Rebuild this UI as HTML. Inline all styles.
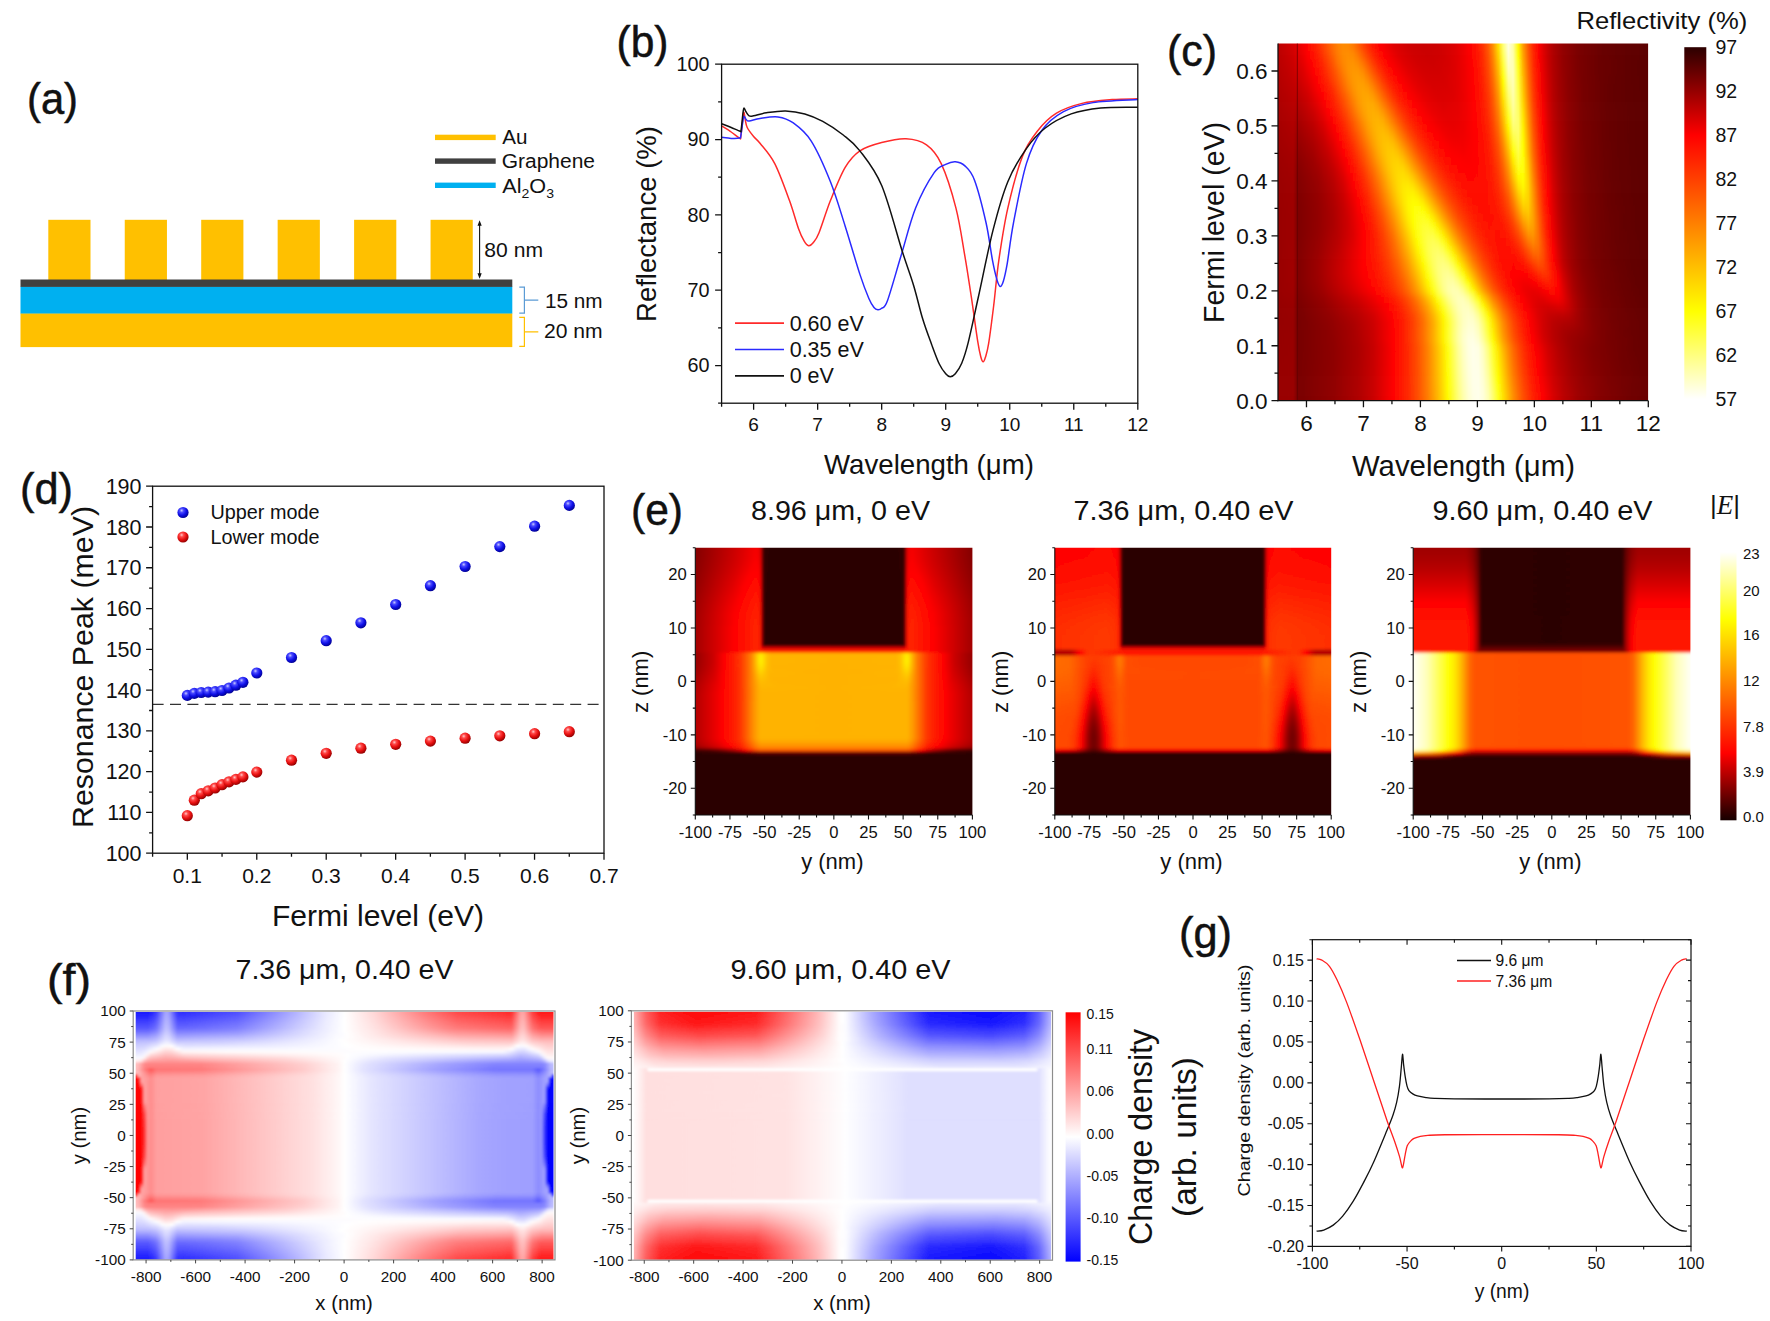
<!DOCTYPE html>
<html><head><meta charset="utf-8"><title>Figure</title>
<style>html,body{margin:0;padding:0;background:#fff}svg{display:block}text{font-family:"Liberation Sans",sans-serif;fill:#111}</style>
</head><body>
<svg width="1770" height="1321" viewBox="0 0 1770 1321">
<rect width="1770" height="1321" fill="#fff"/>
<rect x="48.3" y="219.8" width="42.2" height="60.5" fill="#ffc000"/>
<rect x="124.75" y="219.8" width="42.2" height="60.5" fill="#ffc000"/>
<rect x="201.2" y="219.8" width="42.2" height="60.5" fill="#ffc000"/>
<rect x="277.65" y="219.8" width="42.2" height="60.5" fill="#ffc000"/>
<rect x="354.1" y="219.8" width="42.2" height="60.5" fill="#ffc000"/>
<rect x="430.55" y="219.8" width="42.2" height="60.5" fill="#ffc000"/>
<rect x="20.5" y="313.2" width="491.8" height="33.9" fill="#ffc000"/>
<rect x="20.5" y="286.5" width="491.8" height="27" fill="#00b0f0"/>
<rect x="20.5" y="279.5" width="491.8" height="7.4" fill="#404040"/>
<rect x="435" y="134.7" width="60.7" height="5.4" fill="#ffc000"/>
<rect x="435" y="158.4" width="60.7" height="5.4" fill="#404040"/>
<rect x="435" y="182.6" width="60.7" height="5.4" fill="#00b0f0"/>
<text x="502.3" y="144.4" font-size="20" textLength="25.2" lengthAdjust="spacingAndGlyphs">Au</text>
<text x="501.7" y="167.7" font-size="20" textLength="93.3" lengthAdjust="spacingAndGlyphs">Graphene</text>
<text x="502.3" y="193.3" font-size="20" textLength="51.7" lengthAdjust="spacingAndGlyphs">Al<tspan font-size="13" dy="4.5">2</tspan><tspan dy="-4.5">O</tspan><tspan font-size="13" dy="4.5">3</tspan></text>
<path d="M479.6 223L479.6 276.5" stroke="#111" stroke-width="1.1"/>
<path d="M479.6 220.3l-2.100 5.500h4.200zM479.6 278.8l-2.100-5.500h4.200z" fill="#111"/>
<text x="484.3" y="256.6" font-size="20.3" textLength="58.7" lengthAdjust="spacingAndGlyphs">80 nm</text>
<path d="M519.3 287.2H524.4V313.200H519.3M524.4 300.2H538.3" fill="none" stroke="#5b9bd5" stroke-width="1.2"/>
<path d="M519.3 317.4H524.4V346.400H519.3M524.4 331.8H538.3" fill="none" stroke="#ffc000" stroke-width="1.2"/>
<text x="544.9" y="307.7" font-size="20.3" textLength="57.7" lengthAdjust="spacingAndGlyphs">15 nm</text>
<text x="543.9" y="338" font-size="20.3" textLength="58.7" lengthAdjust="spacingAndGlyphs">20 nm</text>
<text x="27" y="113.5" font-size="44" textLength="51" lengthAdjust="spacingAndGlyphs" stroke="#111" stroke-width=".5">(a)</text>
<clipPath id="cb"><rect x="721.6" y="64.2" width="417.2" height="339"/></clipPath>
<g clip-path="url(#cb)" fill="none" stroke-width="1.5" stroke-linejoin="round">
<path d="M721.6 125.97C723.2 126.98 728.22 129.99 731.2 132C734.19 134.01 737.93 137.27 739.53 138.03C741.13 138.78 740.22 140.04 740.81 136.52C741.4 133 742.52 120.95 743.05 116.93C743.58 112.92 743.64 111.91 744.01 112.41C744.38 112.92 744.76 117.44 745.29 119.95C745.82 122.46 745.82 124.72 747.21 127.48C748.6 130.24 751.48 133.88 753.62 136.52C755.75 139.16 756.5 138.78 760.02 143.3C763.54 147.82 769.84 154.1 774.75 163.64C779.65 173.18 785.52 189.76 789.47 200.55C793.42 211.35 795.98 221.65 798.44 228.43C800.89 235.21 802.49 238.35 804.2 241.23C805.91 244.12 807.19 245.5 808.68 245.75C810.18 246 811.46 244.87 813.16 242.74C814.87 240.61 816.05 239.98 818.93 232.95C821.81 225.92 826.08 211.48 830.45 200.55C834.83 189.63 840.27 175.69 845.18 167.41C850.09 159.12 853.82 154.98 859.91 150.83C865.99 146.69 873.99 144.56 881.68 142.55C889.36 140.54 898.54 138.4 906.01 138.78C913.48 139.16 920.63 140.66 926.5 144.81C932.37 148.95 936.32 153.09 941.23 163.64C946.13 174.19 952 192.64 955.95 208.09C959.9 223.53 962.36 241.48 964.92 256.3C967.48 271.12 969.19 282.79 971.32 296.98C973.45 311.17 976.12 331.38 977.72 341.43C979.32 351.47 980.02 353.86 980.92 357.25C981.83 360.64 982.42 361.77 983.17 361.77C983.91 361.77 984.5 360.26 985.41 357.25C986.31 354.23 987.22 352.35 988.61 343.69C990 335.02 992.02 319.2 993.73 305.27C995.44 291.33 996.51 276.26 998.85 260.07C1001.2 243.87 1003.87 225.41 1007.82 208.09C1011.77 190.76 1017.53 169.04 1022.54 156.11C1027.56 143.17 1032.26 137.65 1037.91 130.49C1043.57 123.34 1049.12 117.69 1056.48 113.17C1063.84 108.65 1072.81 105.63 1082.09 103.37C1091.38 101.11 1102.9 100.36 1112.19 99.61C1121.47 98.85 1133.53 98.98 1137.8 98.85" stroke="#ff2a2a"/>
<path d="M721.6 137.27C723.2 137.46 728.22 138.28 731.2 138.4C734.19 138.53 737.93 138.47 739.53 138.03C741.13 137.59 740.22 138.78 740.81 135.77C741.4 132.75 742.52 123.21 743.05 119.95C743.58 116.68 743.53 116.31 744.01 116.18C744.49 116.05 745.08 118.38 745.93 119.19C746.79 120.01 746.79 121.2 749.13 121.08C751.48 120.95 755.22 119.13 760.02 118.44C764.82 117.75 772.4 116.18 777.95 116.93C783.5 117.69 787.77 118.94 793.31 122.96C798.86 126.98 805.05 131.25 811.24 141.04C817.43 150.83 824.8 167.53 830.45 181.72C836.11 195.91 840.27 210.72 845.18 226.17C850.09 241.61 855.96 262.33 859.91 274.38C863.86 286.43 866.52 292.96 868.87 298.49C871.22 304.01 872.5 305.64 873.99 307.53C875.49 309.41 876.55 309.66 877.84 309.79C879.12 309.91 880.08 309.79 881.68 308.28C883.28 306.77 884.24 309.41 887.44 300.75C890.64 292.08 896.19 271.74 900.89 256.3C905.58 240.86 910.06 222.02 915.61 208.09C921.16 194.15 929.17 179.96 934.18 172.68C939.2 165.4 942.19 166.21 945.71 164.39C949.23 162.57 952.11 161.51 955.31 161.76C958.51 162.01 961.72 162.82 964.92 165.9C968.12 168.98 971 170.73 974.52 180.21C978.04 189.69 983.06 209.47 986.05 222.78C989.04 236.09 990.64 250.59 992.45 260.07C994.26 269.55 995.65 275.26 996.93 279.65C998.21 284.05 999.07 286.18 1000.13 286.43C1001.2 286.68 1002.16 284.93 1003.34 281.16C1004.51 277.39 1005.47 273.63 1007.18 263.83C1008.88 254.04 1010.38 239.1 1013.58 222.4C1016.78 205.7 1021.69 178.96 1026.39 163.64C1031.08 148.32 1035.56 139.16 1041.75 130.49C1047.94 121.83 1054.99 116.31 1063.52 111.66C1072.06 107.01 1080.6 104.63 1092.98 102.62C1105.36 100.61 1130.33 100.11 1137.8 99.61" stroke="#2a2aff"/>
<path d="M721.6 123.71C723.2 124.34 728.11 126.22 731.2 127.48C734.3 128.74 738.51 130.87 740.17 131.25C741.82 131.62 740.65 132.88 741.13 129.74C741.61 126.6 742.57 116.05 743.05 112.41C743.53 108.77 743.53 108.02 744.01 107.89C744.49 107.77 745.08 110.34 745.93 111.66C746.79 112.98 747.85 115.11 749.13 115.8C750.41 116.49 750.73 116.31 753.62 115.8C756.5 115.3 761.09 113.61 766.42 112.79C771.76 111.97 779.23 110.72 785.63 110.91C792.03 111.1 798.65 112.16 804.84 113.92C811.03 115.68 816.37 117.94 822.77 121.45C829.17 124.97 837.07 130.12 843.26 135.01C849.45 139.91 853.5 142.42 859.91 150.83C866.31 159.25 874.63 168.79 881.68 185.49C888.72 202.19 896.83 234.33 902.17 251.03C907.5 267.73 910.28 274.38 913.69 285.68C917.11 296.98 919.67 309.03 922.66 318.83C925.64 328.62 928.85 336.91 931.62 344.44C934.4 351.97 936.96 359.13 939.3 364.03C941.65 368.92 943.89 371.69 945.71 373.82C947.52 375.95 948.59 376.83 950.19 376.83C951.79 376.83 953.39 376.08 955.31 373.82C957.23 371.56 959.58 368.42 961.72 363.27C963.85 358.13 965.34 353.98 968.12 342.93C970.89 331.88 974.2 315.81 978.36 296.98C982.53 278.15 988.18 249.14 993.09 229.93C998 210.72 1002.27 195.28 1007.82 181.72C1013.37 168.16 1020.2 157.49 1026.39 148.57C1032.58 139.66 1037.49 134.01 1044.96 128.23C1052.43 122.46 1061.92 117.31 1071.21 113.92C1080.49 110.53 1089.56 109.02 1100.66 107.89C1111.76 106.76 1131.61 107.27 1137.8 107.14" stroke="#111"/>
</g>
<rect x="721.6" y="64.2" width="416.2" height="339" fill="none" stroke="#111" stroke-width="1.3"/>
<path d="M753.62 403.2L753.62 409.7M817.65 403.2L817.65 409.7M881.68 403.2L881.68 409.7M945.71 403.2L945.71 409.7M1009.74 403.2L1009.74 409.7M1073.77 403.2L1073.77 409.7M1137.8 403.2L1137.8 409.7M721.6 403.2L721.6 406.7M785.63 403.2L785.63 406.7M849.66 403.2L849.66 406.7M913.69 403.2L913.69 406.7M977.72 403.2L977.72 406.7M1041.75 403.2L1041.75 406.7M1105.78 403.2L1105.78 406.7M715.1 365.53L721.6 365.53M715.1 290.2L721.6 290.2M715.1 214.87L721.6 214.87M715.1 139.53L721.6 139.53M715.1 64.2L721.6 64.2M718.1 403.2L721.6 403.2M718.1 327.87L721.6 327.87M718.1 252.53L721.6 252.53M718.1 177.2L721.6 177.2M718.1 101.87L721.6 101.87" stroke="#111" stroke-width="1.3" fill="none"/>
<text x="753.6" y="431.3" font-size="19" text-anchor="middle">6</text>
<text x="817.6" y="431.3" font-size="19" text-anchor="middle">7</text>
<text x="881.7" y="431.3" font-size="19" text-anchor="middle">8</text>
<text x="945.7" y="431.3" font-size="19" text-anchor="middle">9</text>
<text x="1009.7" y="431.3" font-size="19" text-anchor="middle">10</text>
<text x="1073.8" y="431.3" font-size="19" text-anchor="middle">11</text>
<text x="1137.8" y="431.3" font-size="19" text-anchor="middle">12</text>
<text x="709.5" y="372.4" font-size="19.8" text-anchor="end">60</text>
<text x="709.5" y="297.1" font-size="19.8" text-anchor="end">70</text>
<text x="709.5" y="221.8" font-size="19.8" text-anchor="end">80</text>
<text x="709.5" y="146.4" font-size="19.8" text-anchor="end">90</text>
<text x="709.5" y="71.1" font-size="19.8" text-anchor="end">100</text>
<text x="929" y="473.5" font-size="27.5" text-anchor="middle" textLength="210" lengthAdjust="spacingAndGlyphs">Wavelength (μm)</text>
<text font-size="27.5" text-anchor="middle" textLength="196" lengthAdjust="spacingAndGlyphs" transform="translate(655.5 224) rotate(-90)">Reflectance (%)</text>
<path d="M735 323.2L784 323.2" stroke="#ff2a2a" stroke-width="1.7"/>
<text x="789.7" y="330.5" font-size="21.5">0.60 eV</text>
<path d="M735 349.5L784 349.5" stroke="#2a2aff" stroke-width="1.7"/>
<text x="789.7" y="356.8" font-size="21.5">0.35 eV</text>
<path d="M735 375.8L784 375.8" stroke="#111" stroke-width="1.7"/>
<text x="789.7" y="383.1" font-size="21.5">0 eV</text>
<text x="616.5" y="56.5" font-size="44" textLength="52" lengthAdjust="spacingAndGlyphs" stroke="#111" stroke-width=".5">(b)</text>
<defs><radialGradient id="sb" cx=".38" cy=".32" r=".7"><stop offset="0" stop-color="#c8c8ff"/><stop offset=".25" stop-color="#4a4aff"/><stop offset=".6" stop-color="#1010e8"/><stop offset="1" stop-color="#000090"/></radialGradient><radialGradient id="sr" cx=".38" cy=".32" r=".7"><stop offset="0" stop-color="#ffc8c8"/><stop offset=".25" stop-color="#ff4a4a"/><stop offset=".6" stop-color="#e81010"/><stop offset="1" stop-color="#900000"/></radialGradient></defs>
<path d="M152.6 704.36L604 704.36" stroke="#333" stroke-width="1.3" stroke-dasharray="11 6.4"/>
<circle cx="187.3" cy="695.4" r="5.6" fill="url(#sb)"/>
<circle cx="194.3" cy="693.4" r="5.6" fill="url(#sb)"/>
<circle cx="201.2" cy="692.5" r="5.6" fill="url(#sb)"/>
<circle cx="208.2" cy="692.1" r="5.6" fill="url(#sb)"/>
<circle cx="215.1" cy="691.7" r="5.6" fill="url(#sb)"/>
<circle cx="222" cy="690.5" r="5.6" fill="url(#sb)"/>
<circle cx="229" cy="688" r="5.6" fill="url(#sb)"/>
<circle cx="235.9" cy="685.2" r="5.6" fill="url(#sb)"/>
<circle cx="242.9" cy="682.3" r="5.6" fill="url(#sb)"/>
<circle cx="256.8" cy="673" r="5.6" fill="url(#sb)"/>
<circle cx="291.5" cy="657.5" r="5.6" fill="url(#sb)"/>
<circle cx="326.2" cy="640.7" r="5.6" fill="url(#sb)"/>
<circle cx="360.9" cy="622.8" r="5.6" fill="url(#sb)"/>
<circle cx="395.7" cy="604.5" r="5.6" fill="url(#sb)"/>
<circle cx="430.4" cy="585.7" r="5.6" fill="url(#sb)"/>
<circle cx="465.1" cy="566.5" r="5.6" fill="url(#sb)"/>
<circle cx="499.8" cy="546.6" r="5.6" fill="url(#sb)"/>
<circle cx="534.6" cy="526.2" r="5.6" fill="url(#sb)"/>
<circle cx="569.3" cy="505.4" r="5.6" fill="url(#sb)"/>
<circle cx="187.3" cy="815.7" r="5.6" fill="url(#sr)"/>
<circle cx="194.3" cy="800.2" r="5.6" fill="url(#sr)"/>
<circle cx="201.2" cy="793.7" r="5.6" fill="url(#sr)"/>
<circle cx="208.2" cy="790.8" r="5.6" fill="url(#sr)"/>
<circle cx="215.1" cy="788" r="5.6" fill="url(#sr)"/>
<circle cx="222" cy="784.7" r="5.6" fill="url(#sr)"/>
<circle cx="229" cy="781.8" r="5.6" fill="url(#sr)"/>
<circle cx="235.9" cy="779.4" r="5.6" fill="url(#sr)"/>
<circle cx="242.9" cy="776.9" r="5.6" fill="url(#sr)"/>
<circle cx="256.8" cy="772.1" r="5.6" fill="url(#sr)"/>
<circle cx="291.5" cy="760.2" r="5.6" fill="url(#sr)"/>
<circle cx="326.2" cy="753.3" r="5.6" fill="url(#sr)"/>
<circle cx="360.9" cy="748.2" r="5.6" fill="url(#sr)"/>
<circle cx="395.7" cy="744.3" r="5.6" fill="url(#sr)"/>
<circle cx="430.4" cy="741.1" r="5.6" fill="url(#sr)"/>
<circle cx="465.1" cy="738.2" r="5.6" fill="url(#sr)"/>
<circle cx="499.8" cy="735.8" r="5.6" fill="url(#sr)"/>
<circle cx="534.6" cy="733.7" r="5.6" fill="url(#sr)"/>
<circle cx="569.3" cy="731.7" r="5.6" fill="url(#sr)"/>
<rect x="152.6" y="486.2" width="451.4" height="367" fill="none" stroke="#111" stroke-width="1.3"/>
<path d="M187.32 853.2L187.32 859.7M256.77 853.2L256.77 859.7M326.22 853.2L326.22 859.7M395.66 853.2L395.66 859.7M465.11 853.2L465.11 859.7M534.55 853.2L534.55 859.7M604 853.2L604 859.7M152.6 853.2L152.6 856.7M222.05 853.2L222.05 856.7M291.49 853.2L291.49 856.7M360.94 853.2L360.94 856.7M430.38 853.2L430.38 856.7M499.83 853.2L499.83 856.7M569.28 853.2L569.28 856.7M146.1 853.2L152.6 853.2M146.1 812.42L152.6 812.42M146.1 771.64L152.6 771.64M146.1 730.87L152.6 730.87M146.1 690.09L152.6 690.09M146.1 649.31L152.6 649.31M146.1 608.53L152.6 608.53M146.1 567.76L152.6 567.76M146.1 526.98L152.6 526.98M146.1 486.2L152.6 486.2M149.1 832.81L152.6 832.81M149.1 792.03L152.6 792.03M149.1 751.26L152.6 751.26M149.1 710.48L152.6 710.48M149.1 669.7L152.6 669.7M149.1 628.92L152.6 628.92M149.1 588.14L152.6 588.14M149.1 547.37L152.6 547.37M149.1 506.59L152.6 506.59" stroke="#111" stroke-width="1.3" fill="none"/>
<text x="187.3" y="883" font-size="21" text-anchor="middle">0.1</text>
<text x="256.8" y="883" font-size="21" text-anchor="middle">0.2</text>
<text x="326.2" y="883" font-size="21" text-anchor="middle">0.3</text>
<text x="395.7" y="883" font-size="21" text-anchor="middle">0.4</text>
<text x="465.1" y="883" font-size="21" text-anchor="middle">0.5</text>
<text x="534.6" y="883" font-size="21" text-anchor="middle">0.6</text>
<text x="604" y="883" font-size="21" text-anchor="middle">0.7</text>
<text x="141.5" y="860.7" font-size="21.5" text-anchor="end">100</text>
<text x="141.5" y="819.9" font-size="21.5" text-anchor="end">110</text>
<text x="141.5" y="779.1" font-size="21.5" text-anchor="end">120</text>
<text x="141.5" y="738.4" font-size="21.5" text-anchor="end">130</text>
<text x="141.5" y="697.6" font-size="21.5" text-anchor="end">140</text>
<text x="141.5" y="656.8" font-size="21.5" text-anchor="end">150</text>
<text x="141.5" y="616" font-size="21.5" text-anchor="end">160</text>
<text x="141.5" y="575.3" font-size="21.5" text-anchor="end">170</text>
<text x="141.5" y="534.5" font-size="21.5" text-anchor="end">180</text>
<text x="141.5" y="493.7" font-size="21.5" text-anchor="end">190</text>
<text x="378" y="925.5" font-size="29" text-anchor="middle" textLength="212" lengthAdjust="spacingAndGlyphs">Fermi level (eV)</text>
<text font-size="29" text-anchor="middle" textLength="322" lengthAdjust="spacingAndGlyphs" transform="translate(93 667) rotate(-90)">Resonance Peak (meV)</text>
<circle cx="183" cy="512.5" r="5.6" fill="url(#sb)"/>
<circle cx="183" cy="537" r="5.6" fill="url(#sr)"/>
<text x="210.5" y="519" font-size="19.5" textLength="109" lengthAdjust="spacingAndGlyphs">Upper mode</text>
<text x="210.5" y="543.5" font-size="19.5" textLength="109" lengthAdjust="spacingAndGlyphs">Lower mode</text>
<text x="20" y="504" font-size="44" textLength="53" lengthAdjust="spacingAndGlyphs" stroke="#111" stroke-width=".5">(d)</text>
<g fill="none" stroke-width="1.3" stroke-linejoin="round">
<path d="M1316.56 1231.19C1317.76 1231 1320.98 1231.05 1323.76 1230.04C1326.53 1229.03 1330.07 1227.45 1333.22 1225.14C1336.38 1222.82 1339.38 1220.09 1342.69 1216.14C1346 1212.19 1349.63 1207.01 1353.1 1201.42C1356.57 1195.83 1360.14 1189.05 1363.51 1182.61C1366.89 1176.16 1369.44 1171.46 1373.35 1162.73C1377.27 1154.01 1383.73 1138.13 1386.98 1130.26C1390.23 1122.4 1391.24 1120.18 1392.85 1115.54C1394.46 1110.91 1395.53 1107.36 1396.64 1102.46C1397.74 1097.55 1398.69 1092.1 1399.48 1086.1C1400.27 1080.1 1400.87 1071.79 1401.37 1066.47C1401.88 1061.15 1402.13 1054.47 1402.51 1054.2C1402.89 1053.93 1403.2 1061.15 1403.64 1064.83C1404.08 1068.51 1404.59 1072.74 1405.16 1076.28C1405.72 1079.83 1406.42 1083.71 1407.05 1086.1C1407.68 1088.48 1408 1089.3 1408.94 1090.6C1409.89 1091.89 1411.31 1092.98 1412.73 1093.87C1414.15 1094.75 1415.25 1095.3 1417.46 1095.91C1419.67 1096.53 1423.14 1097.14 1425.98 1097.55C1428.82 1097.96 1429.77 1098.13 1434.5 1098.37C1439.23 1098.6 1443.17 1098.83 1454.38 1098.94C1465.58 1099.05 1485.92 1099.02 1501.7 1099.02C1517.48 1099.02 1537.82 1099.05 1549.03 1098.94C1560.23 1098.83 1564.17 1098.6 1568.9 1098.37C1573.63 1098.13 1574.58 1097.96 1577.42 1097.55C1580.26 1097.14 1583.73 1096.53 1585.94 1095.91C1588.15 1095.3 1589.25 1094.75 1590.67 1093.87C1592.09 1092.98 1593.51 1091.89 1594.46 1090.6C1595.4 1089.3 1595.72 1088.48 1596.35 1086.1C1596.98 1083.71 1597.68 1079.83 1598.24 1076.28C1598.81 1072.74 1599.32 1068.51 1599.76 1064.83C1600.2 1061.15 1600.51 1053.93 1600.89 1054.2C1601.27 1054.47 1601.52 1061.15 1602.03 1066.47C1602.53 1071.79 1603.13 1080.1 1603.92 1086.1C1604.71 1092.1 1605.66 1097.55 1606.76 1102.46C1607.87 1107.36 1608.94 1110.91 1610.55 1115.54C1612.16 1120.18 1613.17 1122.4 1616.42 1130.26C1619.67 1138.13 1626.13 1154.01 1630.05 1162.73C1633.96 1171.46 1636.51 1176.16 1639.89 1182.61C1643.26 1189.05 1646.83 1195.83 1650.3 1201.42C1653.77 1207.01 1657.4 1212.19 1660.71 1216.14C1664.02 1220.09 1667.02 1222.82 1670.18 1225.14C1673.33 1227.45 1676.87 1229.03 1679.64 1230.04C1682.42 1231.05 1685.64 1231 1686.84 1231.19" stroke="#111"/>
<path d="M1316.56 958.76C1317.45 958.99 1319.72 958.89 1321.87 960.15C1324.01 961.4 1326.91 963.01 1329.44 966.28C1331.96 969.55 1334.17 973.85 1337.01 979.78C1339.85 985.71 1342.69 991.98 1346.47 1001.86C1350.26 1011.74 1355.24 1026.09 1359.73 1039.07C1364.21 1052.05 1368.81 1066.16 1373.35 1079.72C1377.9 1093.28 1383.42 1110.12 1386.98 1120.45C1390.55 1130.78 1392.66 1135.72 1394.75 1141.71C1396.83 1147.71 1398.31 1152.35 1399.48 1156.43C1400.65 1160.52 1401.24 1164.34 1401.75 1166.25C1402.25 1168.16 1402.25 1168.02 1402.51 1167.88C1402.76 1167.75 1402.82 1167.61 1403.26 1165.43C1403.71 1163.25 1404.49 1158.07 1405.16 1154.8C1405.82 1151.53 1406.29 1148.12 1407.24 1145.8C1408.19 1143.49 1409.7 1142.12 1410.84 1140.9C1411.97 1139.67 1412.48 1139.19 1414.05 1138.44C1415.63 1137.69 1418 1136.9 1420.3 1136.4C1422.6 1135.89 1423.77 1135.69 1427.87 1135.42C1431.97 1135.14 1432.61 1134.9 1444.91 1134.76C1457.21 1134.62 1482.77 1134.6 1501.7 1134.6C1520.63 1134.6 1546.19 1134.62 1558.49 1134.76C1570.79 1134.9 1571.43 1135.14 1575.53 1135.42C1579.63 1135.69 1580.8 1135.89 1583.1 1136.4C1585.4 1136.9 1587.77 1137.69 1589.35 1138.44C1590.92 1139.19 1591.43 1139.67 1592.56 1140.9C1593.7 1142.12 1595.21 1143.49 1596.16 1145.8C1597.11 1148.12 1597.58 1151.53 1598.24 1154.8C1598.91 1158.07 1599.69 1163.25 1600.14 1165.43C1600.58 1167.61 1600.64 1167.75 1600.89 1167.88C1601.15 1168.02 1601.15 1168.16 1601.65 1166.25C1602.16 1164.34 1602.75 1160.52 1603.92 1156.43C1605.09 1152.35 1606.57 1147.71 1608.65 1141.71C1610.74 1135.72 1612.85 1130.78 1616.42 1120.45C1619.98 1110.12 1625.5 1093.28 1630.05 1079.72C1634.59 1066.16 1639.19 1052.05 1643.67 1039.07C1648.16 1026.09 1653.14 1011.74 1656.93 1001.86C1660.71 991.98 1663.55 985.71 1666.39 979.78C1669.23 973.85 1671.44 969.55 1673.96 966.28C1676.49 963.01 1679.39 961.4 1681.53 960.15C1683.68 958.89 1685.95 958.99 1686.84 958.76" stroke="#ff2020"/>
</g>
<rect x="1312.4" y="939.7" width="378.6" height="306.7" fill="none" stroke="#111" stroke-width="1.2"/>
<path d="M1312.4 1246.4L1312.4 1251.4M1312.4 939.7L1312.4 944.7M1407.05 1246.4L1407.05 1251.4M1407.05 939.7L1407.05 944.7M1501.7 1246.4L1501.7 1251.4M1501.7 939.7L1501.7 944.7M1596.35 1246.4L1596.35 1251.4M1596.35 939.7L1596.35 944.7M1691 1246.4L1691 1251.4M1691 939.7L1691 944.7M1359.73 1246.4L1359.73 1249.4M1359.73 939.7L1359.73 942.7M1454.38 1246.4L1454.38 1249.4M1454.38 939.7L1454.38 942.7M1549.03 1246.4L1549.03 1249.4M1549.03 939.7L1549.03 942.7M1643.67 1246.4L1643.67 1249.4M1643.67 939.7L1643.67 942.7M1307.4 1246.4L1312.4 1246.4M1686 1246.4L1691 1246.4M1307.4 1205.51L1312.4 1205.51M1686 1205.51L1691 1205.51M1307.4 1164.61L1312.4 1164.61M1686 1164.61L1691 1164.61M1307.4 1123.72L1312.4 1123.72M1686 1123.72L1691 1123.72M1307.4 1082.83L1312.4 1082.83M1686 1082.83L1691 1082.83M1307.4 1041.93L1312.4 1041.93M1686 1041.93L1691 1041.93M1307.4 1001.04L1312.4 1001.04M1686 1001.04L1691 1001.04M1307.4 960.15L1312.4 960.15M1686 960.15L1691 960.15M1309.4 1225.95L1312.4 1225.95M1688 1225.95L1691 1225.95M1309.4 1185.06L1312.4 1185.06M1688 1185.06L1691 1185.06M1309.4 1144.17L1312.4 1144.17M1688 1144.17L1691 1144.17M1309.4 1103.27L1312.4 1103.27M1688 1103.27L1691 1103.27M1309.4 1062.38L1312.4 1062.38M1688 1062.38L1691 1062.38M1309.4 1021.49L1312.4 1021.49M1688 1021.49L1691 1021.49M1309.4 980.59L1312.4 980.59M1688 980.59L1691 980.59M1309.4 939.7L1312.4 939.7M1688 939.7L1691 939.7" stroke="#111" stroke-width="1.1" fill="none"/>
<text x="1312.4" y="1269" font-size="16" text-anchor="middle">-100</text>
<text x="1407.1" y="1269" font-size="16" text-anchor="middle">-50</text>
<text x="1501.7" y="1269" font-size="16" text-anchor="middle">0</text>
<text x="1596.3" y="1269" font-size="16" text-anchor="middle">50</text>
<text x="1691" y="1269" font-size="16" text-anchor="middle">100</text>
<text x="1304" y="1251.9" font-size="16" text-anchor="end">-0.20</text>
<text x="1304" y="1211" font-size="16" text-anchor="end">-0.15</text>
<text x="1304" y="1170.1" font-size="16" text-anchor="end">-0.10</text>
<text x="1304" y="1129.2" font-size="16" text-anchor="end">-0.05</text>
<text x="1304" y="1088.3" font-size="16" text-anchor="end">0.00</text>
<text x="1304" y="1047.4" font-size="16" text-anchor="end">0.05</text>
<text x="1304" y="1006.5" font-size="16" text-anchor="end">0.10</text>
<text x="1304" y="965.6" font-size="16" text-anchor="end">0.15</text>
<text x="1502" y="1297.5" font-size="19.3" text-anchor="middle">y (nm)</text>
<text font-size="16" text-anchor="middle" textLength="232" lengthAdjust="spacingAndGlyphs" transform="translate(1250 1080.5) rotate(-90)">Charge density (arb. units)</text>
<path d="M1457 960.5L1491 960.5" stroke="#111" stroke-width="1.3"/>
<path d="M1457 981L1491 981" stroke="#ff2020" stroke-width="1.3"/>
<text x="1495.5" y="966" font-size="15.6">9.6 μm</text>
<text x="1495.5" y="986.5" font-size="15.6">7.36 μm</text>
<text x="1179" y="948" font-size="44" textLength="53" lengthAdjust="spacingAndGlyphs" stroke="#111" stroke-width=".5">(g)</text>
<defs><linearGradient id="c0" gradientUnits="userSpaceOnUse" x1="1278" x2="1648.3"><stop offset="0" stop-color="#bc0000"/><stop offset=".041" stop-color="#d30000"/><stop offset=".068" stop-color="#f40000"/><stop offset=".081" stop-color="#ff0600"/><stop offset=".108" stop-color="#ff2800"/><stop offset=".149" stop-color="#ff6e00"/><stop offset=".162" stop-color="#ff8000"/><stop offset=".176" stop-color="#ff8900"/><stop offset=".189" stop-color="#ff8700"/><stop offset=".203" stop-color="#ff7a00"/><stop offset=".243" stop-color="#ff2b00"/><stop offset=".257" stop-color="#ff1600"/><stop offset=".27" stop-color="#ff0700"/><stop offset=".284" stop-color="#f80000"/><stop offset=".311" stop-color="#e00000"/><stop offset=".351" stop-color="#ce0000"/><stop offset=".392" stop-color="#c90000"/><stop offset=".432" stop-color="#cc0000"/><stop offset=".473" stop-color="#da0000"/><stop offset=".5" stop-color="#ed0000"/><stop offset=".514" stop-color="#fb0000"/><stop offset=".527" stop-color="#ff0900"/><stop offset=".541" stop-color="#ff1a00"/><stop offset=".554" stop-color="#ff3300"/><stop offset=".568" stop-color="#ff5900"/><stop offset=".581" stop-color="#ff9100"/><stop offset=".595" stop-color="#ffdf00"/><stop offset=".608" stop-color="#ffff74"/><stop offset=".622" stop-color="#ffffe0"/><stop offset=".635" stop-color="#ffffa3"/><stop offset=".649" stop-color="#fff700"/><stop offset=".662" stop-color="#ff9c00"/><stop offset=".676" stop-color="#ff5600"/><stop offset=".689" stop-color="#ff2500"/><stop offset=".703" stop-color="#ff0300"/><stop offset=".716" stop-color="#de0000"/><stop offset=".73" stop-color="#c20000"/><stop offset=".743" stop-color="#ad0000"/><stop offset=".77" stop-color="#910000"/><stop offset=".811" stop-color="#7a0000"/><stop offset=".878" stop-color="#680000"/><stop offset="1" stop-color="#5b0000"/></linearGradient><linearGradient id="c1" gradientUnits="userSpaceOnUse" x1="1278" x2="1648.3"><stop offset="0" stop-color="#ba0000"/><stop offset=".041" stop-color="#cf0000"/><stop offset=".068" stop-color="#ed0000"/><stop offset=".081" stop-color="#ff0000"/><stop offset=".108" stop-color="#ff1f00"/><stop offset=".135" stop-color="#ff4b00"/><stop offset=".162" stop-color="#ff7b00"/><stop offset=".176" stop-color="#ff8a00"/><stop offset=".189" stop-color="#ff8e00"/><stop offset=".203" stop-color="#ff8a00"/><stop offset=".216" stop-color="#ff7800"/><stop offset=".243" stop-color="#ff4000"/><stop offset=".257" stop-color="#ff2800"/><stop offset=".27" stop-color="#ff1400"/><stop offset=".284" stop-color="#ff0600"/><stop offset=".297" stop-color="#f70000"/><stop offset=".324" stop-color="#e00000"/><stop offset=".365" stop-color="#d00000"/><stop offset=".405" stop-color="#cb0000"/><stop offset=".446" stop-color="#d00000"/><stop offset=".486" stop-color="#e20000"/><stop offset=".514" stop-color="#f90000"/><stop offset=".527" stop-color="#ff0800"/><stop offset=".541" stop-color="#ff1800"/><stop offset=".554" stop-color="#ff2f00"/><stop offset=".568" stop-color="#ff5300"/><stop offset=".581" stop-color="#ff8700"/><stop offset=".595" stop-color="#ffd200"/><stop offset=".608" stop-color="#ffff59"/><stop offset=".622" stop-color="#ffffd4"/><stop offset=".635" stop-color="#ffffad"/><stop offset=".649" stop-color="#ffff03"/><stop offset=".662" stop-color="#ffa400"/><stop offset=".676" stop-color="#ff5c00"/><stop offset=".689" stop-color="#ff2900"/><stop offset=".703" stop-color="#ff0600"/><stop offset=".716" stop-color="#e10000"/><stop offset=".73" stop-color="#c40000"/><stop offset=".743" stop-color="#af0000"/><stop offset=".77" stop-color="#920000"/><stop offset=".811" stop-color="#7a0000"/><stop offset=".878" stop-color="#680000"/><stop offset="1" stop-color="#5b0000"/></linearGradient><linearGradient id="c2" gradientUnits="userSpaceOnUse" x1="1278" x2="1648.3"><stop offset="0" stop-color="#b80000"/><stop offset=".041" stop-color="#cb0000"/><stop offset=".068" stop-color="#e50000"/><stop offset=".081" stop-color="#f60000"/><stop offset=".095" stop-color="#ff0700"/><stop offset=".122" stop-color="#ff2900"/><stop offset=".149" stop-color="#ff5800"/><stop offset=".162" stop-color="#ff7200"/><stop offset=".176" stop-color="#ff8600"/><stop offset=".189" stop-color="#ff9100"/><stop offset=".203" stop-color="#ff9300"/><stop offset=".216" stop-color="#ff8a00"/><stop offset=".23" stop-color="#ff7400"/><stop offset=".257" stop-color="#ff3c00"/><stop offset=".27" stop-color="#ff2500"/><stop offset=".284" stop-color="#ff1300"/><stop offset=".297" stop-color="#ff0500"/><stop offset=".311" stop-color="#f70000"/><stop offset=".338" stop-color="#e10000"/><stop offset=".378" stop-color="#d10000"/><stop offset=".419" stop-color="#ce0000"/><stop offset=".459" stop-color="#d50000"/><stop offset=".486" stop-color="#e20000"/><stop offset=".514" stop-color="#f80000"/><stop offset=".527" stop-color="#ff0600"/><stop offset=".541" stop-color="#ff1600"/><stop offset=".554" stop-color="#ff2c00"/><stop offset=".568" stop-color="#ff4d00"/><stop offset=".581" stop-color="#ff7f00"/><stop offset=".595" stop-color="#ffc600"/><stop offset=".608" stop-color="#ffff3e"/><stop offset=".622" stop-color="#ffffc5"/><stop offset=".635" stop-color="#ffffb4"/><stop offset=".649" stop-color="#ffff16"/><stop offset=".662" stop-color="#ffad00"/><stop offset=".676" stop-color="#ff6200"/><stop offset=".689" stop-color="#ff2d00"/><stop offset=".703" stop-color="#ff0900"/><stop offset=".716" stop-color="#e40000"/><stop offset=".73" stop-color="#c60000"/><stop offset=".743" stop-color="#b00000"/><stop offset=".77" stop-color="#930000"/><stop offset=".811" stop-color="#7b0000"/><stop offset=".865" stop-color="#6b0000"/><stop offset=".973" stop-color="#5d0000"/><stop offset="1" stop-color="#5b0000"/></linearGradient><linearGradient id="c3" gradientUnits="userSpaceOnUse" x1="1278" x2="1648.3"><stop offset="0" stop-color="#b50000"/><stop offset=".041" stop-color="#c70000"/><stop offset=".068" stop-color="#dd0000"/><stop offset=".095" stop-color="#ff0000"/><stop offset=".122" stop-color="#ff2000"/><stop offset=".149" stop-color="#ff4b00"/><stop offset=".176" stop-color="#ff7e00"/><stop offset=".189" stop-color="#ff9000"/><stop offset=".203" stop-color="#ff9800"/><stop offset=".216" stop-color="#ff9700"/><stop offset=".23" stop-color="#ff8a00"/><stop offset=".243" stop-color="#ff7000"/><stop offset=".27" stop-color="#ff3800"/><stop offset=".284" stop-color="#ff2200"/><stop offset=".297" stop-color="#ff1100"/><stop offset=".311" stop-color="#ff0500"/><stop offset=".324" stop-color="#f70000"/><stop offset=".351" stop-color="#e20000"/><stop offset=".392" stop-color="#d30000"/><stop offset=".432" stop-color="#d10000"/><stop offset=".473" stop-color="#db0000"/><stop offset=".5" stop-color="#eb0000"/><stop offset=".514" stop-color="#f70000"/><stop offset=".527" stop-color="#ff0500"/><stop offset=".541" stop-color="#ff1300"/><stop offset=".554" stop-color="#ff2800"/><stop offset=".568" stop-color="#ff4700"/><stop offset=".581" stop-color="#ff7600"/><stop offset=".595" stop-color="#ffba00"/><stop offset=".608" stop-color="#ffff23"/><stop offset=".622" stop-color="#ffffb4"/><stop offset=".635" stop-color="#ffffb9"/><stop offset=".649" stop-color="#ffff27"/><stop offset=".662" stop-color="#ffb500"/><stop offset=".676" stop-color="#ff6800"/><stop offset=".689" stop-color="#ff3200"/><stop offset=".703" stop-color="#ff0c00"/><stop offset=".716" stop-color="#e70000"/><stop offset=".73" stop-color="#c80000"/><stop offset=".743" stop-color="#b20000"/><stop offset=".77" stop-color="#940000"/><stop offset=".811" stop-color="#7b0000"/><stop offset=".865" stop-color="#6b0000"/><stop offset=".973" stop-color="#5d0000"/><stop offset="1" stop-color="#5b0000"/></linearGradient><linearGradient id="c4" gradientUnits="userSpaceOnUse" x1="1278" x2="1648.3"><stop offset="0" stop-color="#b30000"/><stop offset=".041" stop-color="#c30000"/><stop offset=".054" stop-color="#ca0000"/><stop offset=".081" stop-color="#e40000"/><stop offset=".095" stop-color="#f50000"/><stop offset=".108" stop-color="#ff0700"/><stop offset=".135" stop-color="#ff2900"/><stop offset=".162" stop-color="#ff5800"/><stop offset=".189" stop-color="#ff8900"/><stop offset=".203" stop-color="#ff9800"/><stop offset=".216" stop-color="#ff9d00"/><stop offset=".23" stop-color="#ff9900"/><stop offset=".243" stop-color="#ff8700"/><stop offset=".284" stop-color="#ff3500"/><stop offset=".297" stop-color="#ff2000"/><stop offset=".324" stop-color="#ff0400"/><stop offset=".338" stop-color="#f70000"/><stop offset=".365" stop-color="#e30000"/><stop offset=".405" stop-color="#d50000"/><stop offset=".446" stop-color="#d50000"/><stop offset=".486" stop-color="#e20000"/><stop offset=".514" stop-color="#f60000"/><stop offset=".527" stop-color="#ff0400"/><stop offset=".541" stop-color="#ff1100"/><stop offset=".554" stop-color="#ff2500"/><stop offset=".568" stop-color="#ff4200"/><stop offset=".581" stop-color="#ff6e00"/><stop offset=".595" stop-color="#ffae00"/><stop offset=".608" stop-color="#ffff05"/><stop offset=".622" stop-color="#ffff9d"/><stop offset=".635" stop-color="#ffffb8"/><stop offset=".649" stop-color="#ffff35"/><stop offset=".662" stop-color="#ffbd00"/><stop offset=".676" stop-color="#ff6e00"/><stop offset=".689" stop-color="#ff3600"/><stop offset=".703" stop-color="#ff0f00"/><stop offset=".716" stop-color="#ea0000"/><stop offset=".73" stop-color="#cb0000"/><stop offset=".743" stop-color="#b30000"/><stop offset=".757" stop-color="#a20000"/><stop offset=".784" stop-color="#8a0000"/><stop offset=".824" stop-color="#760000"/><stop offset=".892" stop-color="#660000"/><stop offset="1" stop-color="#5b0000"/></linearGradient><linearGradient id="c5" gradientUnits="userSpaceOnUse" x1="1278" x2="1648.3"><stop offset="0" stop-color="#b10000"/><stop offset=".054" stop-color="#c30000"/><stop offset=".081" stop-color="#da0000"/><stop offset=".108" stop-color="#fd0000"/><stop offset=".122" stop-color="#ff0d00"/><stop offset=".149" stop-color="#ff3200"/><stop offset=".189" stop-color="#ff7e00"/><stop offset=".203" stop-color="#ff9300"/><stop offset=".216" stop-color="#ff9f00"/><stop offset=".23" stop-color="#ffa100"/><stop offset=".243" stop-color="#ff9a00"/><stop offset=".257" stop-color="#ff8400"/><stop offset=".284" stop-color="#ff4b00"/><stop offset=".297" stop-color="#ff3200"/><stop offset=".311" stop-color="#ff1f00"/><stop offset=".338" stop-color="#ff0400"/><stop offset=".351" stop-color="#f70000"/><stop offset=".378" stop-color="#e40000"/><stop offset=".419" stop-color="#d80000"/><stop offset=".459" stop-color="#d90000"/><stop offset=".486" stop-color="#e20000"/><stop offset=".527" stop-color="#ff0300"/><stop offset=".541" stop-color="#ff0f00"/><stop offset=".554" stop-color="#ff2200"/><stop offset=".568" stop-color="#ff3d00"/><stop offset=".581" stop-color="#ff6600"/><stop offset=".595" stop-color="#ffa200"/><stop offset=".608" stop-color="#fff300"/><stop offset=".622" stop-color="#ffff85"/><stop offset=".635" stop-color="#ffffb3"/><stop offset=".649" stop-color="#ffff41"/><stop offset=".662" stop-color="#ffc500"/><stop offset=".676" stop-color="#ff7400"/><stop offset=".689" stop-color="#ff3a00"/><stop offset=".703" stop-color="#ff1100"/><stop offset=".716" stop-color="#ed0000"/><stop offset=".73" stop-color="#cd0000"/><stop offset=".743" stop-color="#b50000"/><stop offset=".757" stop-color="#a30000"/><stop offset=".784" stop-color="#8b0000"/><stop offset=".824" stop-color="#770000"/><stop offset=".892" stop-color="#660000"/><stop offset="1" stop-color="#5b0000"/></linearGradient><linearGradient id="c6" gradientUnits="userSpaceOnUse" x1="1278" x2="1648.3"><stop offset="0" stop-color="#ae0000"/><stop offset=".041" stop-color="#bb0000"/><stop offset=".054" stop-color="#bc0000"/><stop offset=".081" stop-color="#d10000"/><stop offset=".108" stop-color="#f10000"/><stop offset=".122" stop-color="#ff0400"/><stop offset=".149" stop-color="#ff2600"/><stop offset=".176" stop-color="#ff5500"/><stop offset=".203" stop-color="#ff8900"/><stop offset=".216" stop-color="#ff9b00"/><stop offset=".23" stop-color="#ffa500"/><stop offset=".243" stop-color="#ffa500"/><stop offset=".257" stop-color="#ff9900"/><stop offset=".27" stop-color="#ff8100"/><stop offset=".297" stop-color="#ff4800"/><stop offset=".311" stop-color="#ff3000"/><stop offset=".324" stop-color="#ff1d00"/><stop offset=".351" stop-color="#ff0400"/><stop offset=".365" stop-color="#f80000"/><stop offset=".392" stop-color="#e60000"/><stop offset=".432" stop-color="#da0000"/><stop offset=".473" stop-color="#de0000"/><stop offset=".5" stop-color="#ea0000"/><stop offset=".527" stop-color="#ff0200"/><stop offset=".541" stop-color="#ff0e00"/><stop offset=".554" stop-color="#ff1f00"/><stop offset=".568" stop-color="#ff3800"/><stop offset=".581" stop-color="#ff5e00"/><stop offset=".595" stop-color="#ff9700"/><stop offset=".608" stop-color="#ffe500"/><stop offset=".622" stop-color="#ffff6c"/><stop offset=".635" stop-color="#ffffad"/><stop offset=".649" stop-color="#ffff4d"/><stop offset=".662" stop-color="#ffcc00"/><stop offset=".676" stop-color="#ff7b00"/><stop offset=".689" stop-color="#ff3e00"/><stop offset=".703" stop-color="#ff1400"/><stop offset=".716" stop-color="#f10000"/><stop offset=".73" stop-color="#cf0000"/><stop offset=".743" stop-color="#b60000"/><stop offset=".757" stop-color="#a40000"/><stop offset=".784" stop-color="#8c0000"/><stop offset=".824" stop-color="#770000"/><stop offset=".892" stop-color="#660000"/><stop offset="1" stop-color="#5c0000"/></linearGradient><linearGradient id="c7" gradientUnits="userSpaceOnUse" x1="1278" x2="1648.3"><stop offset="0" stop-color="#ac0000"/><stop offset=".041" stop-color="#b80000"/><stop offset=".054" stop-color="#b40000"/><stop offset=".081" stop-color="#c80000"/><stop offset=".108" stop-color="#e50000"/><stop offset=".122" stop-color="#f80000"/><stop offset=".135" stop-color="#ff0a00"/><stop offset=".162" stop-color="#ff2f00"/><stop offset=".189" stop-color="#ff6000"/><stop offset=".216" stop-color="#ff9300"/><stop offset=".23" stop-color="#ffa300"/><stop offset=".243" stop-color="#ffaa00"/><stop offset=".257" stop-color="#ffa800"/><stop offset=".27" stop-color="#ff9800"/><stop offset=".311" stop-color="#ff4500"/><stop offset=".324" stop-color="#ff2e00"/><stop offset=".338" stop-color="#ff1c00"/><stop offset=".365" stop-color="#ff0400"/><stop offset=".378" stop-color="#f90000"/><stop offset=".405" stop-color="#e70000"/><stop offset=".446" stop-color="#dd0000"/><stop offset=".486" stop-color="#e40000"/><stop offset=".514" stop-color="#f40000"/><stop offset=".527" stop-color="#ff0100"/><stop offset=".541" stop-color="#ff0c00"/><stop offset=".554" stop-color="#ff1c00"/><stop offset=".568" stop-color="#ff3300"/><stop offset=".581" stop-color="#ff5700"/><stop offset=".595" stop-color="#ff8c00"/><stop offset=".608" stop-color="#ffd500"/><stop offset=".622" stop-color="#ffff4f"/><stop offset=".635" stop-color="#ffffa3"/><stop offset=".649" stop-color="#ffff59"/><stop offset=".662" stop-color="#ffd600"/><stop offset=".676" stop-color="#ff8200"/><stop offset=".689" stop-color="#ff4400"/><stop offset=".703" stop-color="#ff1800"/><stop offset=".716" stop-color="#f50000"/><stop offset=".73" stop-color="#d20000"/><stop offset=".743" stop-color="#b80000"/><stop offset=".757" stop-color="#a60000"/><stop offset=".784" stop-color="#8d0000"/><stop offset=".824" stop-color="#770000"/><stop offset=".892" stop-color="#660000"/><stop offset="1" stop-color="#5c0000"/></linearGradient><linearGradient id="c8" gradientUnits="userSpaceOnUse" x1="1278" x2="1648.3"><stop offset="0" stop-color="#a90000"/><stop offset=".041" stop-color="#b40000"/><stop offset=".054" stop-color="#ad0000"/><stop offset=".095" stop-color="#cb0000"/><stop offset=".122" stop-color="#eb0000"/><stop offset=".135" stop-color="#ff0100"/><stop offset=".162" stop-color="#ff2200"/><stop offset=".189" stop-color="#ff5100"/><stop offset=".216" stop-color="#ff8700"/><stop offset=".23" stop-color="#ff9d00"/><stop offset=".243" stop-color="#ffaa00"/><stop offset=".257" stop-color="#ffae00"/><stop offset=".27" stop-color="#ffa900"/><stop offset=".284" stop-color="#ff9600"/><stop offset=".324" stop-color="#ff4200"/><stop offset=".338" stop-color="#ff2d00"/><stop offset=".365" stop-color="#ff0e00"/><stop offset=".378" stop-color="#ff0400"/><stop offset=".392" stop-color="#f90000"/><stop offset=".419" stop-color="#e90000"/><stop offset=".446" stop-color="#e20000"/><stop offset=".486" stop-color="#e60000"/><stop offset=".514" stop-color="#f40000"/><stop offset=".527" stop-color="#ff0000"/><stop offset=".541" stop-color="#ff0a00"/><stop offset=".554" stop-color="#ff1900"/><stop offset=".568" stop-color="#ff2f00"/><stop offset=".581" stop-color="#ff4f00"/><stop offset=".595" stop-color="#ff8000"/><stop offset=".608" stop-color="#ffc600"/><stop offset=".622" stop-color="#ffff30"/><stop offset=".635" stop-color="#ffff95"/><stop offset=".649" stop-color="#ffff63"/><stop offset=".662" stop-color="#ffe000"/><stop offset=".676" stop-color="#ff8b00"/><stop offset=".689" stop-color="#ff4a00"/><stop offset=".703" stop-color="#ff1c00"/><stop offset=".716" stop-color="#fa0000"/><stop offset=".73" stop-color="#d50000"/><stop offset=".743" stop-color="#bb0000"/><stop offset=".757" stop-color="#a70000"/><stop offset=".784" stop-color="#8e0000"/><stop offset=".824" stop-color="#780000"/><stop offset=".892" stop-color="#670000"/><stop offset="1" stop-color="#5c0000"/></linearGradient><linearGradient id="c9" gradientUnits="userSpaceOnUse" x1="1278" x2="1648.3"><stop offset="0" stop-color="#a70000"/><stop offset=".041" stop-color="#b10000"/><stop offset=".054" stop-color="#a60000"/><stop offset=".095" stop-color="#c20000"/><stop offset=".122" stop-color="#df0000"/><stop offset=".135" stop-color="#f20000"/><stop offset=".149" stop-color="#ff0600"/><stop offset=".176" stop-color="#ff2b00"/><stop offset=".203" stop-color="#ff5c00"/><stop offset=".23" stop-color="#ff9100"/><stop offset=".243" stop-color="#ffa500"/><stop offset=".257" stop-color="#ffb000"/><stop offset=".27" stop-color="#ffb300"/><stop offset=".284" stop-color="#ffaa00"/><stop offset=".297" stop-color="#ff9300"/><stop offset=".324" stop-color="#ff5a00"/><stop offset=".338" stop-color="#ff4000"/><stop offset=".351" stop-color="#ff2b00"/><stop offset=".378" stop-color="#ff0e00"/><stop offset=".392" stop-color="#ff0500"/><stop offset=".405" stop-color="#fb0000"/><stop offset=".432" stop-color="#eb0000"/><stop offset=".459" stop-color="#e50000"/><stop offset=".486" stop-color="#e80000"/><stop offset=".514" stop-color="#f40000"/><stop offset=".527" stop-color="#ff0000"/><stop offset=".541" stop-color="#ff0900"/><stop offset=".554" stop-color="#ff1700"/><stop offset=".568" stop-color="#ff2b00"/><stop offset=".581" stop-color="#ff4900"/><stop offset=".595" stop-color="#ff7600"/><stop offset=".608" stop-color="#ffb700"/><stop offset=".622" stop-color="#ffff10"/><stop offset=".635" stop-color="#ffff85"/><stop offset=".649" stop-color="#ffff6b"/><stop offset=".662" stop-color="#ffe900"/><stop offset=".676" stop-color="#ff9400"/><stop offset=".689" stop-color="#ff5000"/><stop offset=".703" stop-color="#ff2100"/><stop offset=".716" stop-color="#fe0000"/><stop offset=".73" stop-color="#d80000"/><stop offset=".743" stop-color="#bd0000"/><stop offset=".757" stop-color="#a90000"/><stop offset=".784" stop-color="#8f0000"/><stop offset=".824" stop-color="#780000"/><stop offset=".892" stop-color="#670000"/><stop offset="1" stop-color="#5c0000"/></linearGradient><linearGradient id="c10" gradientUnits="userSpaceOnUse" x1="1278" x2="1648.3"><stop offset="0" stop-color="#a40000"/><stop offset=".041" stop-color="#ae0000"/><stop offset=".054" stop-color="#a00000"/><stop offset=".095" stop-color="#b90000"/><stop offset=".122" stop-color="#d40000"/><stop offset=".149" stop-color="#fa0000"/><stop offset=".162" stop-color="#ff0c00"/><stop offset=".189" stop-color="#ff3400"/><stop offset=".243" stop-color="#ff9c00"/><stop offset=".257" stop-color="#ffae00"/><stop offset=".27" stop-color="#ffb700"/><stop offset=".284" stop-color="#ffb700"/><stop offset=".297" stop-color="#ffaa00"/><stop offset=".311" stop-color="#ff9100"/><stop offset=".338" stop-color="#ff5700"/><stop offset=".351" stop-color="#ff3e00"/><stop offset=".365" stop-color="#ff2a00"/><stop offset=".392" stop-color="#ff0f00"/><stop offset=".405" stop-color="#ff0500"/><stop offset=".419" stop-color="#fc0000"/><stop offset=".446" stop-color="#ee0000"/><stop offset=".473" stop-color="#e90000"/><stop offset=".5" stop-color="#ee0000"/><stop offset=".527" stop-color="#fe0000"/><stop offset=".541" stop-color="#ff0800"/><stop offset=".554" stop-color="#ff1400"/><stop offset=".568" stop-color="#ff2600"/><stop offset=".581" stop-color="#ff4200"/><stop offset=".595" stop-color="#ff6b00"/><stop offset=".608" stop-color="#ffa800"/><stop offset=".622" stop-color="#fff500"/><stop offset=".635" stop-color="#ffff6d"/><stop offset=".649" stop-color="#ffff6d"/><stop offset=".662" stop-color="#fff200"/><stop offset=".676" stop-color="#ff9c00"/><stop offset=".689" stop-color="#ff5700"/><stop offset=".703" stop-color="#ff2500"/><stop offset=".716" stop-color="#ff0300"/><stop offset=".73" stop-color="#dc0000"/><stop offset=".743" stop-color="#c00000"/><stop offset=".757" stop-color="#ab0000"/><stop offset=".784" stop-color="#900000"/><stop offset=".824" stop-color="#790000"/><stop offset=".892" stop-color="#670000"/><stop offset="1" stop-color="#5c0000"/></linearGradient><linearGradient id="c11" gradientUnits="userSpaceOnUse" x1="1278" x2="1648.3"><stop offset="0" stop-color="#a30000"/><stop offset=".041" stop-color="#ab0000"/><stop offset=".054" stop-color="#9a0000"/><stop offset=".095" stop-color="#b20000"/><stop offset=".122" stop-color="#ca0000"/><stop offset=".162" stop-color="#ff0300"/><stop offset=".189" stop-color="#ff2700"/><stop offset=".216" stop-color="#ff5800"/><stop offset=".243" stop-color="#ff9000"/><stop offset=".257" stop-color="#ffa700"/><stop offset=".27" stop-color="#ffb700"/><stop offset=".284" stop-color="#ffbe00"/><stop offset=".297" stop-color="#ffbb00"/><stop offset=".311" stop-color="#ffab00"/><stop offset=".351" stop-color="#ff5500"/><stop offset=".365" stop-color="#ff3d00"/><stop offset=".378" stop-color="#ff2a00"/><stop offset=".405" stop-color="#ff0f00"/><stop offset=".432" stop-color="#fe0000"/><stop offset=".459" stop-color="#f00000"/><stop offset=".486" stop-color="#ee0000"/><stop offset=".514" stop-color="#f50000"/><stop offset=".527" stop-color="#fd0000"/><stop offset=".541" stop-color="#ff0600"/><stop offset=".554" stop-color="#ff1100"/><stop offset=".568" stop-color="#ff2200"/><stop offset=".581" stop-color="#ff3a00"/><stop offset=".595" stop-color="#ff6000"/><stop offset=".608" stop-color="#ff9700"/><stop offset=".622" stop-color="#ffe000"/><stop offset=".635" stop-color="#ffff4b"/><stop offset=".649" stop-color="#ffff65"/><stop offset=".662" stop-color="#fff800"/><stop offset=".676" stop-color="#ffa500"/><stop offset=".689" stop-color="#ff5d00"/><stop offset=".703" stop-color="#ff2900"/><stop offset=".716" stop-color="#ff0600"/><stop offset=".73" stop-color="#df0000"/><stop offset=".743" stop-color="#c20000"/><stop offset=".757" stop-color="#ac0000"/><stop offset=".784" stop-color="#900000"/><stop offset=".824" stop-color="#790000"/><stop offset=".892" stop-color="#670000"/><stop offset="1" stop-color="#5c0000"/></linearGradient><linearGradient id="c12" gradientUnits="userSpaceOnUse" x1="1278" x2="1648.3"><stop offset="0" stop-color="#a10000"/><stop offset=".041" stop-color="#a90000"/><stop offset=".054" stop-color="#940000"/><stop offset=".095" stop-color="#aa0000"/><stop offset=".122" stop-color="#c10000"/><stop offset=".149" stop-color="#e10000"/><stop offset=".162" stop-color="#f60000"/><stop offset=".176" stop-color="#ff0900"/><stop offset=".203" stop-color="#ff3100"/><stop offset=".23" stop-color="#ff6500"/><stop offset=".257" stop-color="#ff9d00"/><stop offset=".27" stop-color="#ffb200"/><stop offset=".284" stop-color="#ffc000"/><stop offset=".297" stop-color="#ffc500"/><stop offset=".311" stop-color="#ffbf00"/><stop offset=".324" stop-color="#ffab00"/><stop offset=".365" stop-color="#ff5400"/><stop offset=".378" stop-color="#ff3c00"/><stop offset=".392" stop-color="#ff2a00"/><stop offset=".419" stop-color="#ff0f00"/><stop offset=".446" stop-color="#ff0000"/><stop offset=".473" stop-color="#f40000"/><stop offset=".5" stop-color="#f30000"/><stop offset=".527" stop-color="#fd0000"/><stop offset=".541" stop-color="#ff0600"/><stop offset=".554" stop-color="#ff0f00"/><stop offset=".568" stop-color="#ff1e00"/><stop offset=".581" stop-color="#ff3400"/><stop offset=".595" stop-color="#ff5500"/><stop offset=".608" stop-color="#ff8800"/><stop offset=".622" stop-color="#ffcc00"/><stop offset=".635" stop-color="#ffff26"/><stop offset=".649" stop-color="#ffff59"/><stop offset=".662" stop-color="#fffd00"/><stop offset=".676" stop-color="#ffad00"/><stop offset=".689" stop-color="#ff6400"/><stop offset=".703" stop-color="#ff2e00"/><stop offset=".716" stop-color="#ff0900"/><stop offset=".73" stop-color="#e20000"/><stop offset=".743" stop-color="#c40000"/><stop offset=".757" stop-color="#ae0000"/><stop offset=".784" stop-color="#910000"/><stop offset=".824" stop-color="#7a0000"/><stop offset=".892" stop-color="#670000"/><stop offset="1" stop-color="#5c0000"/></linearGradient><linearGradient id="c13" gradientUnits="userSpaceOnUse" x1="1278" x2="1648.3"><stop offset="0" stop-color="#9f0000"/><stop offset=".041" stop-color="#a60000"/><stop offset=".054" stop-color="#8f0000"/><stop offset=".095" stop-color="#a40000"/><stop offset=".135" stop-color="#c60000"/><stop offset=".162" stop-color="#e90000"/><stop offset=".176" stop-color="#ff0000"/><stop offset=".203" stop-color="#ff2400"/><stop offset=".23" stop-color="#ff5500"/><stop offset=".27" stop-color="#ffa900"/><stop offset=".284" stop-color="#ffbd00"/><stop offset=".297" stop-color="#ffc800"/><stop offset=".311" stop-color="#ffcb00"/><stop offset=".324" stop-color="#ffc100"/><stop offset=".338" stop-color="#ffaa00"/><stop offset=".365" stop-color="#ff6e00"/><stop offset=".378" stop-color="#ff5200"/><stop offset=".392" stop-color="#ff3c00"/><stop offset=".419" stop-color="#ff1b00"/><stop offset=".446" stop-color="#ff0800"/><stop offset=".459" stop-color="#ff0200"/><stop offset=".5" stop-color="#f70000"/><stop offset=".527" stop-color="#fe0000"/><stop offset=".554" stop-color="#ff0e00"/><stop offset=".568" stop-color="#ff1b00"/><stop offset=".581" stop-color="#ff2e00"/><stop offset=".595" stop-color="#ff4c00"/><stop offset=".608" stop-color="#ff7900"/><stop offset=".622" stop-color="#ffb900"/><stop offset=".635" stop-color="#ffff00"/><stop offset=".649" stop-color="#ffff47"/><stop offset=".662" stop-color="#ffff04"/><stop offset=".689" stop-color="#ff6a00"/><stop offset=".703" stop-color="#ff3300"/><stop offset=".716" stop-color="#ff0c00"/><stop offset=".73" stop-color="#e60000"/><stop offset=".743" stop-color="#c60000"/><stop offset=".757" stop-color="#b00000"/><stop offset=".77" stop-color="#9f0000"/><stop offset=".797" stop-color="#880000"/><stop offset=".838" stop-color="#750000"/><stop offset=".905" stop-color="#660000"/><stop offset="1" stop-color="#5c0000"/></linearGradient><linearGradient id="c14" gradientUnits="userSpaceOnUse" x1="1278" x2="1648.3"><stop offset="0" stop-color="#9d0000"/><stop offset=".041" stop-color="#a40000"/><stop offset=".054" stop-color="#8a0000"/><stop offset=".095" stop-color="#9e0000"/><stop offset=".135" stop-color="#bd0000"/><stop offset=".162" stop-color="#dd0000"/><stop offset=".176" stop-color="#f20000"/><stop offset=".189" stop-color="#ff0700"/><stop offset=".216" stop-color="#ff2e00"/><stop offset=".243" stop-color="#ff6200"/><stop offset=".27" stop-color="#ff9c00"/><stop offset=".284" stop-color="#ffb500"/><stop offset=".297" stop-color="#ffc700"/><stop offset=".311" stop-color="#ffd000"/><stop offset=".324" stop-color="#ffd100"/><stop offset=".338" stop-color="#ffc300"/><stop offset=".351" stop-color="#ffa900"/><stop offset=".378" stop-color="#ff6c00"/><stop offset=".392" stop-color="#ff5100"/><stop offset=".405" stop-color="#ff3b00"/><stop offset=".432" stop-color="#ff1c00"/><stop offset=".459" stop-color="#ff0900"/><stop offset=".486" stop-color="#ff0000"/><stop offset=".514" stop-color="#fc0000"/><stop offset=".541" stop-color="#ff0500"/><stop offset=".568" stop-color="#ff1800"/><stop offset=".581" stop-color="#ff2900"/><stop offset=".595" stop-color="#ff4300"/><stop offset=".608" stop-color="#ff6b00"/><stop offset=".622" stop-color="#ffa500"/><stop offset=".635" stop-color="#ffea00"/><stop offset=".649" stop-color="#ffff31"/><stop offset=".662" stop-color="#ffff0a"/><stop offset=".676" stop-color="#ffbe00"/><stop offset=".689" stop-color="#ff7300"/><stop offset=".703" stop-color="#ff3900"/><stop offset=".716" stop-color="#ff1000"/><stop offset=".73" stop-color="#ea0000"/><stop offset=".743" stop-color="#ca0000"/><stop offset=".757" stop-color="#b20000"/><stop offset=".77" stop-color="#a00000"/><stop offset=".797" stop-color="#890000"/><stop offset=".838" stop-color="#750000"/><stop offset=".905" stop-color="#660000"/><stop offset="1" stop-color="#5c0000"/></linearGradient><linearGradient id="c15" gradientUnits="userSpaceOnUse" x1="1278" x2="1648.3"><stop offset="0" stop-color="#9c0000"/><stop offset=".041" stop-color="#a20000"/><stop offset=".054" stop-color="#860000"/><stop offset=".108" stop-color="#a10000"/><stop offset=".149" stop-color="#c30000"/><stop offset=".176" stop-color="#e60000"/><stop offset=".189" stop-color="#fd0000"/><stop offset=".203" stop-color="#ff0f00"/><stop offset=".23" stop-color="#ff3900"/><stop offset=".257" stop-color="#ff6f00"/><stop offset=".284" stop-color="#ffaa00"/><stop offset=".297" stop-color="#ffc100"/><stop offset=".311" stop-color="#ffd100"/><stop offset=".324" stop-color="#ffd800"/><stop offset=".338" stop-color="#ffd600"/><stop offset=".351" stop-color="#ffc400"/><stop offset=".392" stop-color="#ff6a00"/><stop offset=".405" stop-color="#ff5000"/><stop offset=".419" stop-color="#ff3b00"/><stop offset=".446" stop-color="#ff1c00"/><stop offset=".473" stop-color="#ff0a00"/><stop offset=".5" stop-color="#ff0200"/><stop offset=".527" stop-color="#ff0200"/><stop offset=".554" stop-color="#ff0c00"/><stop offset=".568" stop-color="#ff1500"/><stop offset=".581" stop-color="#ff2400"/><stop offset=".595" stop-color="#ff3b00"/><stop offset=".608" stop-color="#ff5f00"/><stop offset=".622" stop-color="#ff9300"/><stop offset=".635" stop-color="#ffd500"/><stop offset=".649" stop-color="#ffff15"/><stop offset=".662" stop-color="#ffff0b"/><stop offset=".676" stop-color="#ffc600"/><stop offset=".689" stop-color="#ff7c00"/><stop offset=".703" stop-color="#ff3f00"/><stop offset=".716" stop-color="#ff1400"/><stop offset=".73" stop-color="#ef0000"/><stop offset=".743" stop-color="#cd0000"/><stop offset=".757" stop-color="#b40000"/><stop offset=".77" stop-color="#a20000"/><stop offset=".797" stop-color="#8a0000"/><stop offset=".838" stop-color="#760000"/><stop offset=".905" stop-color="#660000"/><stop offset="1" stop-color="#5d0000"/></linearGradient><linearGradient id="c16" gradientUnits="userSpaceOnUse" x1="1278" x2="1648.3"><stop offset="0" stop-color="#9b0000"/><stop offset=".041" stop-color="#a10000"/><stop offset=".054" stop-color="#830000"/><stop offset=".108" stop-color="#9c0000"/><stop offset=".149" stop-color="#bc0000"/><stop offset=".176" stop-color="#db0000"/><stop offset=".189" stop-color="#f00000"/><stop offset=".203" stop-color="#ff0600"/><stop offset=".23" stop-color="#ff2c00"/><stop offset=".257" stop-color="#ff6000"/><stop offset=".297" stop-color="#ffb700"/><stop offset=".311" stop-color="#ffcd00"/><stop offset=".324" stop-color="#ffdb00"/><stop offset=".338" stop-color="#ffe000"/><stop offset=".351" stop-color="#ffda00"/><stop offset=".365" stop-color="#ffc500"/><stop offset=".405" stop-color="#ff6900"/><stop offset=".419" stop-color="#ff5000"/><stop offset=".432" stop-color="#ff3b00"/><stop offset=".459" stop-color="#ff1d00"/><stop offset=".486" stop-color="#ff0c00"/><stop offset=".514" stop-color="#ff0500"/><stop offset=".541" stop-color="#ff0700"/><stop offset=".568" stop-color="#ff1400"/><stop offset=".581" stop-color="#ff2100"/><stop offset=".595" stop-color="#ff3500"/><stop offset=".608" stop-color="#ff5400"/><stop offset=".622" stop-color="#ff8300"/><stop offset=".635" stop-color="#ffc100"/><stop offset=".649" stop-color="#fff900"/><stop offset=".662" stop-color="#ffff06"/><stop offset=".676" stop-color="#ffce00"/><stop offset=".689" stop-color="#ff8500"/><stop offset=".703" stop-color="#ff4600"/><stop offset=".716" stop-color="#ff1900"/><stop offset=".73" stop-color="#f50000"/><stop offset=".743" stop-color="#d10000"/><stop offset=".757" stop-color="#b70000"/><stop offset=".77" stop-color="#a40000"/><stop offset=".797" stop-color="#8b0000"/><stop offset=".838" stop-color="#770000"/><stop offset=".905" stop-color="#660000"/><stop offset="1" stop-color="#5d0000"/></linearGradient><linearGradient id="c17" gradientUnits="userSpaceOnUse" x1="1278" x2="1648.3"><stop offset="0" stop-color="#9a0000"/><stop offset=".041" stop-color="#9f0000"/><stop offset=".054" stop-color="#810000"/><stop offset=".108" stop-color="#980000"/><stop offset=".149" stop-color="#b60000"/><stop offset=".176" stop-color="#d30000"/><stop offset=".203" stop-color="#fd0000"/><stop offset=".216" stop-color="#ff0f00"/><stop offset=".243" stop-color="#ff3800"/><stop offset=".27" stop-color="#ff6e00"/><stop offset=".297" stop-color="#ffab00"/><stop offset=".311" stop-color="#ffc600"/><stop offset=".324" stop-color="#ffda00"/><stop offset=".338" stop-color="#ffe600"/><stop offset=".351" stop-color="#ffe900"/><stop offset=".365" stop-color="#ffdf00"/><stop offset=".378" stop-color="#ffc700"/><stop offset=".419" stop-color="#ff6900"/><stop offset=".432" stop-color="#ff5000"/><stop offset=".446" stop-color="#ff3b00"/><stop offset=".473" stop-color="#ff1e00"/><stop offset=".5" stop-color="#ff0e00"/><stop offset=".527" stop-color="#ff0800"/><stop offset=".554" stop-color="#ff0c00"/><stop offset=".568" stop-color="#ff1200"/><stop offset=".581" stop-color="#ff1d00"/><stop offset=".595" stop-color="#ff2e00"/><stop offset=".608" stop-color="#ff4900"/><stop offset=".622" stop-color="#ff7100"/><stop offset=".649" stop-color="#ffe400"/><stop offset=".662" stop-color="#fffa00"/><stop offset=".676" stop-color="#ffd300"/><stop offset=".689" stop-color="#ff8d00"/><stop offset=".703" stop-color="#ff4d00"/><stop offset=".716" stop-color="#ff1e00"/><stop offset=".73" stop-color="#fa0000"/><stop offset=".743" stop-color="#d40000"/><stop offset=".757" stop-color="#b90000"/><stop offset=".77" stop-color="#a60000"/><stop offset=".797" stop-color="#8c0000"/><stop offset=".838" stop-color="#770000"/><stop offset=".905" stop-color="#670000"/><stop offset="1" stop-color="#5d0000"/></linearGradient><linearGradient id="c18" gradientUnits="userSpaceOnUse" x1="1278" x2="1648.3"><stop offset="0" stop-color="#9a0000"/><stop offset=".041" stop-color="#9f0000"/><stop offset=".054" stop-color="#800000"/><stop offset=".108" stop-color="#960000"/><stop offset=".149" stop-color="#b20000"/><stop offset=".176" stop-color="#cd0000"/><stop offset=".203" stop-color="#f30000"/><stop offset=".216" stop-color="#ff0800"/><stop offset=".243" stop-color="#ff2e00"/><stop offset=".27" stop-color="#ff6100"/><stop offset=".311" stop-color="#ffbc00"/><stop offset=".324" stop-color="#ffd500"/><stop offset=".338" stop-color="#ffe800"/><stop offset=".351" stop-color="#fff100"/><stop offset=".365" stop-color="#fff200"/><stop offset=".378" stop-color="#ffe300"/><stop offset=".392" stop-color="#ffc900"/><stop offset=".419" stop-color="#ff8600"/><stop offset=".432" stop-color="#ff6900"/><stop offset=".446" stop-color="#ff4f00"/><stop offset=".459" stop-color="#ff3b00"/><stop offset=".486" stop-color="#ff1f00"/><stop offset=".514" stop-color="#ff0f00"/><stop offset=".541" stop-color="#ff0b00"/><stop offset=".568" stop-color="#ff1100"/><stop offset=".581" stop-color="#ff1900"/><stop offset=".595" stop-color="#ff2700"/><stop offset=".608" stop-color="#ff3e00"/><stop offset=".622" stop-color="#ff6000"/><stop offset=".635" stop-color="#ff9200"/><stop offset=".649" stop-color="#ffcc00"/><stop offset=".662" stop-color="#ffec00"/><stop offset=".676" stop-color="#ffd400"/><stop offset=".703" stop-color="#ff5400"/><stop offset=".716" stop-color="#ff2300"/><stop offset=".73" stop-color="#ff0000"/><stop offset=".743" stop-color="#d80000"/><stop offset=".757" stop-color="#bc0000"/><stop offset=".77" stop-color="#a80000"/><stop offset=".797" stop-color="#8d0000"/><stop offset=".838" stop-color="#780000"/><stop offset=".905" stop-color="#670000"/><stop offset="1" stop-color="#5d0000"/></linearGradient><linearGradient id="c19" gradientUnits="userSpaceOnUse" x1="1278" x2="1648.3"><stop offset="0" stop-color="#9a0000"/><stop offset=".041" stop-color="#9e0000"/><stop offset=".054" stop-color="#7f0000"/><stop offset=".108" stop-color="#940000"/><stop offset=".149" stop-color="#af0000"/><stop offset=".176" stop-color="#c80000"/><stop offset=".203" stop-color="#eb0000"/><stop offset=".216" stop-color="#ff0100"/><stop offset=".243" stop-color="#ff2400"/><stop offset=".27" stop-color="#ff5400"/><stop offset=".324" stop-color="#ffcc00"/><stop offset=".338" stop-color="#ffe400"/><stop offset=".351" stop-color="#fff500"/><stop offset=".365" stop-color="#fffc00"/><stop offset=".378" stop-color="#fff900"/><stop offset=".392" stop-color="#ffe700"/><stop offset=".405" stop-color="#ffc900"/><stop offset=".432" stop-color="#ff8600"/><stop offset=".446" stop-color="#ff6800"/><stop offset=".459" stop-color="#ff4f00"/><stop offset=".473" stop-color="#ff3b00"/><stop offset=".5" stop-color="#ff1f00"/><stop offset=".527" stop-color="#ff1000"/><stop offset=".554" stop-color="#ff0d00"/><stop offset=".581" stop-color="#ff1600"/><stop offset=".595" stop-color="#ff2200"/><stop offset=".608" stop-color="#ff3400"/><stop offset=".622" stop-color="#ff5100"/><stop offset=".635" stop-color="#ff7c00"/><stop offset=".649" stop-color="#ffb300"/><stop offset=".662" stop-color="#ffdb00"/><stop offset=".676" stop-color="#ffd200"/><stop offset=".689" stop-color="#ff9a00"/><stop offset=".703" stop-color="#ff5b00"/><stop offset=".716" stop-color="#ff2800"/><stop offset=".73" stop-color="#ff0400"/><stop offset=".743" stop-color="#dc0000"/><stop offset=".757" stop-color="#be0000"/><stop offset=".77" stop-color="#a90000"/><stop offset=".797" stop-color="#8e0000"/><stop offset=".838" stop-color="#780000"/><stop offset=".905" stop-color="#670000"/><stop offset="1" stop-color="#5d0000"/></linearGradient><linearGradient id="c20" gradientUnits="userSpaceOnUse" x1="1278" x2="1648.3"><stop offset="0" stop-color="#990000"/><stop offset=".041" stop-color="#9e0000"/><stop offset=".054" stop-color="#7e0000"/><stop offset=".108" stop-color="#930000"/><stop offset=".149" stop-color="#ac0000"/><stop offset=".176" stop-color="#c40000"/><stop offset=".203" stop-color="#e40000"/><stop offset=".216" stop-color="#f90000"/><stop offset=".23" stop-color="#ff0b00"/><stop offset=".257" stop-color="#ff3000"/><stop offset=".284" stop-color="#ff6300"/><stop offset=".338" stop-color="#ffdc00"/><stop offset=".351" stop-color="#fff300"/><stop offset=".365" stop-color="#ffff04"/><stop offset=".378" stop-color="#ffff0f"/><stop offset=".392" stop-color="#ffff01"/><stop offset=".405" stop-color="#ffea00"/><stop offset=".446" stop-color="#ff8400"/><stop offset=".459" stop-color="#ff6700"/><stop offset=".473" stop-color="#ff4e00"/><stop offset=".486" stop-color="#ff3a00"/><stop offset=".514" stop-color="#ff1f00"/><stop offset=".541" stop-color="#ff1100"/><stop offset=".568" stop-color="#ff1000"/><stop offset=".581" stop-color="#ff1400"/><stop offset=".595" stop-color="#ff1c00"/><stop offset=".608" stop-color="#ff2b00"/><stop offset=".622" stop-color="#ff4300"/><stop offset=".635" stop-color="#ff6800"/><stop offset=".649" stop-color="#ff9900"/><stop offset=".662" stop-color="#ffc600"/><stop offset=".676" stop-color="#ffcb00"/><stop offset=".689" stop-color="#ff9f00"/><stop offset=".703" stop-color="#ff6100"/><stop offset=".716" stop-color="#ff2d00"/><stop offset=".73" stop-color="#ff0700"/><stop offset=".743" stop-color="#e00000"/><stop offset=".757" stop-color="#c10000"/><stop offset=".77" stop-color="#ab0000"/><stop offset=".797" stop-color="#8f0000"/><stop offset=".838" stop-color="#790000"/><stop offset=".905" stop-color="#680000"/><stop offset="1" stop-color="#5e0000"/></linearGradient><linearGradient id="c21" gradientUnits="userSpaceOnUse" x1="1278" x2="1648.3"><stop offset="0" stop-color="#990000"/><stop offset=".041" stop-color="#9e0000"/><stop offset=".054" stop-color="#7e0000"/><stop offset=".108" stop-color="#930000"/><stop offset=".149" stop-color="#ab0000"/><stop offset=".189" stop-color="#cf0000"/><stop offset=".216" stop-color="#f20000"/><stop offset=".23" stop-color="#ff0600"/><stop offset=".257" stop-color="#ff2800"/><stop offset=".284" stop-color="#ff5600"/><stop offset=".311" stop-color="#ff9100"/><stop offset=".338" stop-color="#ffd100"/><stop offset=".351" stop-color="#ffec00"/><stop offset=".365" stop-color="#ffff03"/><stop offset=".378" stop-color="#ffff1a"/><stop offset=".392" stop-color="#ffff20"/><stop offset=".405" stop-color="#ffff0b"/><stop offset=".419" stop-color="#ffeb00"/><stop offset=".459" stop-color="#ff8200"/><stop offset=".473" stop-color="#ff6400"/><stop offset=".486" stop-color="#ff4c00"/><stop offset=".5" stop-color="#ff3800"/><stop offset=".527" stop-color="#ff1e00"/><stop offset=".554" stop-color="#ff1100"/><stop offset=".581" stop-color="#ff1100"/><stop offset=".595" stop-color="#ff1700"/><stop offset=".608" stop-color="#ff2100"/><stop offset=".622" stop-color="#ff3400"/><stop offset=".635" stop-color="#ff5100"/><stop offset=".662" stop-color="#ffa900"/><stop offset=".676" stop-color="#ffbd00"/><stop offset=".689" stop-color="#ffa100"/><stop offset=".716" stop-color="#ff3400"/><stop offset=".73" stop-color="#ff0c00"/><stop offset=".743" stop-color="#e40000"/><stop offset=".757" stop-color="#c40000"/><stop offset=".77" stop-color="#ae0000"/><stop offset=".784" stop-color="#9d0000"/><stop offset=".811" stop-color="#870000"/><stop offset=".851" stop-color="#750000"/><stop offset=".932" stop-color="#640000"/><stop offset="1" stop-color="#5e0000"/></linearGradient><linearGradient id="c22" gradientUnits="userSpaceOnUse" x1="1278" x2="1648.3"><stop offset="0" stop-color="#990000"/><stop offset=".041" stop-color="#9e0000"/><stop offset=".054" stop-color="#7e0000"/><stop offset=".108" stop-color="#930000"/><stop offset=".149" stop-color="#ab0000"/><stop offset=".189" stop-color="#ce0000"/><stop offset=".23" stop-color="#ff0200"/><stop offset=".257" stop-color="#ff2100"/><stop offset=".284" stop-color="#ff4b00"/><stop offset=".311" stop-color="#ff8200"/><stop offset=".351" stop-color="#ffe100"/><stop offset=".365" stop-color="#fffb00"/><stop offset=".378" stop-color="#ffff1d"/><stop offset=".392" stop-color="#ffff30"/><stop offset=".405" stop-color="#ffff30"/><stop offset=".419" stop-color="#ffff12"/><stop offset=".432" stop-color="#ffec00"/><stop offset=".473" stop-color="#ff8000"/><stop offset=".486" stop-color="#ff6200"/><stop offset=".5" stop-color="#ff4a00"/><stop offset=".514" stop-color="#ff3600"/><stop offset=".541" stop-color="#ff1c00"/><stop offset=".568" stop-color="#ff1100"/><stop offset=".595" stop-color="#ff1300"/><stop offset=".608" stop-color="#ff1a00"/><stop offset=".622" stop-color="#ff2800"/><stop offset=".635" stop-color="#ff3e00"/><stop offset=".649" stop-color="#ff6100"/><stop offset=".662" stop-color="#ff8c00"/><stop offset=".676" stop-color="#ffaa00"/><stop offset=".689" stop-color="#ff9e00"/><stop offset=".703" stop-color="#ff6e00"/><stop offset=".716" stop-color="#ff3a00"/><stop offset=".73" stop-color="#ff1000"/><stop offset=".743" stop-color="#e90000"/><stop offset=".757" stop-color="#c80000"/><stop offset=".77" stop-color="#b00000"/><stop offset=".784" stop-color="#9f0000"/><stop offset=".811" stop-color="#880000"/><stop offset=".851" stop-color="#750000"/><stop offset=".932" stop-color="#640000"/><stop offset="1" stop-color="#5e0000"/></linearGradient><linearGradient id="c23" gradientUnits="userSpaceOnUse" x1="1278" x2="1648.3"><stop offset="0" stop-color="#990000"/><stop offset=".041" stop-color="#9e0000"/><stop offset=".054" stop-color="#7e0000"/><stop offset=".108" stop-color="#940000"/><stop offset=".162" stop-color="#b70000"/><stop offset=".203" stop-color="#dc0000"/><stop offset=".23" stop-color="#ff0000"/><stop offset=".257" stop-color="#ff1b00"/><stop offset=".284" stop-color="#ff4100"/><stop offset=".311" stop-color="#ff7400"/><stop offset=".365" stop-color="#fff100"/><stop offset=".378" stop-color="#ffff15"/><stop offset=".392" stop-color="#ffff35"/><stop offset=".405" stop-color="#ffff43"/><stop offset=".419" stop-color="#ffff3e"/><stop offset=".432" stop-color="#ffff18"/><stop offset=".446" stop-color="#ffec00"/><stop offset=".473" stop-color="#ffa000"/><stop offset=".486" stop-color="#ff7d00"/><stop offset=".5" stop-color="#ff6000"/><stop offset=".514" stop-color="#ff4800"/><stop offset=".527" stop-color="#ff3400"/><stop offset=".541" stop-color="#ff2600"/><stop offset=".568" stop-color="#ff1400"/><stop offset=".595" stop-color="#ff1000"/><stop offset=".608" stop-color="#ff1400"/><stop offset=".622" stop-color="#ff1e00"/><stop offset=".635" stop-color="#ff2f00"/><stop offset=".649" stop-color="#ff4a00"/><stop offset=".676" stop-color="#ff9200"/><stop offset=".689" stop-color="#ff9500"/><stop offset=".703" stop-color="#ff7100"/><stop offset=".716" stop-color="#ff3f00"/><stop offset=".73" stop-color="#ff1500"/><stop offset=".743" stop-color="#ee0000"/><stop offset=".757" stop-color="#cb0000"/><stop offset=".77" stop-color="#b20000"/><stop offset=".784" stop-color="#a00000"/><stop offset=".811" stop-color="#890000"/><stop offset=".851" stop-color="#760000"/><stop offset=".919" stop-color="#670000"/><stop offset="1" stop-color="#5e0000"/></linearGradient><linearGradient id="c24" gradientUnits="userSpaceOnUse" x1="1278" x2="1648.3"><stop offset="0" stop-color="#990000"/><stop offset=".041" stop-color="#9e0000"/><stop offset=".054" stop-color="#7f0000"/><stop offset=".108" stop-color="#970000"/><stop offset=".162" stop-color="#ba0000"/><stop offset=".203" stop-color="#df0000"/><stop offset=".23" stop-color="#fe0000"/><stop offset=".257" stop-color="#ff1800"/><stop offset=".284" stop-color="#ff3a00"/><stop offset=".311" stop-color="#ff6800"/><stop offset=".338" stop-color="#ffa300"/><stop offset=".365" stop-color="#ffe400"/><stop offset=".378" stop-color="#ffff04"/><stop offset=".392" stop-color="#ffff31"/><stop offset=".405" stop-color="#ffff4c"/><stop offset=".419" stop-color="#ffff56"/><stop offset=".432" stop-color="#ffff48"/><stop offset=".446" stop-color="#ffff1a"/><stop offset=".459" stop-color="#ffea00"/><stop offset=".486" stop-color="#ff9c00"/><stop offset=".5" stop-color="#ff7900"/><stop offset=".514" stop-color="#ff5c00"/><stop offset=".527" stop-color="#ff4400"/><stop offset=".541" stop-color="#ff3100"/><stop offset=".568" stop-color="#ff1800"/><stop offset=".595" stop-color="#ff0f00"/><stop offset=".608" stop-color="#ff0f00"/><stop offset=".622" stop-color="#ff1400"/><stop offset=".635" stop-color="#ff2000"/><stop offset=".649" stop-color="#ff3300"/><stop offset=".662" stop-color="#ff5100"/><stop offset=".676" stop-color="#ff7400"/><stop offset=".689" stop-color="#ff8500"/><stop offset=".703" stop-color="#ff7200"/><stop offset=".73" stop-color="#ff1b00"/><stop offset=".743" stop-color="#f60000"/><stop offset=".757" stop-color="#d00000"/><stop offset=".77" stop-color="#b60000"/><stop offset=".784" stop-color="#a30000"/><stop offset=".811" stop-color="#8a0000"/><stop offset=".851" stop-color="#760000"/><stop offset=".919" stop-color="#670000"/><stop offset="1" stop-color="#5f0000"/></linearGradient><linearGradient id="c25" gradientUnits="userSpaceOnUse" x1="1278" x2="1648.3"><stop offset="0" stop-color="#990000"/><stop offset=".041" stop-color="#9f0000"/><stop offset=".054" stop-color="#800000"/><stop offset=".108" stop-color="#990000"/><stop offset=".162" stop-color="#be0000"/><stop offset=".216" stop-color="#f00000"/><stop offset=".23" stop-color="#ff0000"/><stop offset=".27" stop-color="#ff2400"/><stop offset=".297" stop-color="#ff4700"/><stop offset=".324" stop-color="#ff7800"/><stop offset=".351" stop-color="#ffb400"/><stop offset=".378" stop-color="#fff500"/><stop offset=".392" stop-color="#ffff23"/><stop offset=".405" stop-color="#ffff4b"/><stop offset=".419" stop-color="#ffff61"/><stop offset=".432" stop-color="#ffff66"/><stop offset=".446" stop-color="#ffff4f"/><stop offset=".459" stop-color="#ffff19"/><stop offset=".473" stop-color="#ffe700"/><stop offset=".5" stop-color="#ff9700"/><stop offset=".514" stop-color="#ff7500"/><stop offset=".527" stop-color="#ff5800"/><stop offset=".541" stop-color="#ff4000"/><stop offset=".554" stop-color="#ff2e00"/><stop offset=".581" stop-color="#ff1600"/><stop offset=".608" stop-color="#ff0c00"/><stop offset=".622" stop-color="#ff0e00"/><stop offset=".635" stop-color="#ff1400"/><stop offset=".649" stop-color="#ff2100"/><stop offset=".662" stop-color="#ff3700"/><stop offset=".676" stop-color="#ff5400"/><stop offset=".689" stop-color="#ff6e00"/><stop offset=".703" stop-color="#ff6c00"/><stop offset=".716" stop-color="#ff4b00"/><stop offset=".73" stop-color="#ff2200"/><stop offset=".743" stop-color="#ff0000"/><stop offset=".757" stop-color="#d60000"/><stop offset=".77" stop-color="#ba0000"/><stop offset=".784" stop-color="#a50000"/><stop offset=".811" stop-color="#8c0000"/><stop offset=".851" stop-color="#770000"/><stop offset=".919" stop-color="#680000"/><stop offset="1" stop-color="#5f0000"/></linearGradient><linearGradient id="c26" gradientUnits="userSpaceOnUse" x1="1278" x2="1648.3"><stop offset="0" stop-color="#990000"/><stop offset=".041" stop-color="#9f0000"/><stop offset=".054" stop-color="#810000"/><stop offset=".108" stop-color="#9c0000"/><stop offset=".176" stop-color="#cd0000"/><stop offset=".23" stop-color="#ff0100"/><stop offset=".27" stop-color="#ff2100"/><stop offset=".297" stop-color="#ff4000"/><stop offset=".324" stop-color="#ff6b00"/><stop offset=".351" stop-color="#ffa400"/><stop offset=".378" stop-color="#ffe600"/><stop offset=".392" stop-color="#ffff0c"/><stop offset=".405" stop-color="#ffff40"/><stop offset=".419" stop-color="#ffff63"/><stop offset=".432" stop-color="#ffff74"/><stop offset=".446" stop-color="#ffff73"/><stop offset=".459" stop-color="#ffff54"/><stop offset=".473" stop-color="#ffff17"/><stop offset=".486" stop-color="#ffe300"/><stop offset=".514" stop-color="#ff9300"/><stop offset=".527" stop-color="#ff7000"/><stop offset=".541" stop-color="#ff5300"/><stop offset=".554" stop-color="#ff3c00"/><stop offset=".568" stop-color="#ff2a00"/><stop offset=".595" stop-color="#ff1200"/><stop offset=".622" stop-color="#ff0a00"/><stop offset=".635" stop-color="#ff0c00"/><stop offset=".649" stop-color="#ff1300"/><stop offset=".662" stop-color="#ff2100"/><stop offset=".689" stop-color="#ff5200"/><stop offset=".703" stop-color="#ff5d00"/><stop offset=".716" stop-color="#ff4a00"/><stop offset=".743" stop-color="#ff0400"/><stop offset=".757" stop-color="#dc0000"/><stop offset=".77" stop-color="#bd0000"/><stop offset=".784" stop-color="#a80000"/><stop offset=".811" stop-color="#8d0000"/><stop offset=".851" stop-color="#780000"/><stop offset=".919" stop-color="#680000"/><stop offset="1" stop-color="#5f0000"/></linearGradient><linearGradient id="c27" gradientUnits="userSpaceOnUse" x1="1278" x2="1648.3"><stop offset="0" stop-color="#990000"/><stop offset=".041" stop-color="#a00000"/><stop offset=".054" stop-color="#810000"/><stop offset=".108" stop-color="#9d0000"/><stop offset=".176" stop-color="#cf0000"/><stop offset=".23" stop-color="#ff0000"/><stop offset=".27" stop-color="#ff1d00"/><stop offset=".297" stop-color="#ff3900"/><stop offset=".324" stop-color="#ff6000"/><stop offset=".351" stop-color="#ff9500"/><stop offset=".392" stop-color="#fff600"/><stop offset=".405" stop-color="#ffff2b"/><stop offset=".419" stop-color="#ffff5b"/><stop offset=".432" stop-color="#ffff7a"/><stop offset=".446" stop-color="#ffff86"/><stop offset=".459" stop-color="#ffff7e"/><stop offset=".473" stop-color="#ffff56"/><stop offset=".486" stop-color="#ffff12"/><stop offset=".5" stop-color="#ffdf00"/><stop offset=".527" stop-color="#ff8d00"/><stop offset=".541" stop-color="#ff6b00"/><stop offset=".554" stop-color="#ff4f00"/><stop offset=".568" stop-color="#ff3800"/><stop offset=".581" stop-color="#ff2600"/><stop offset=".608" stop-color="#ff0e00"/><stop offset=".635" stop-color="#ff0600"/><stop offset=".649" stop-color="#ff0800"/><stop offset=".662" stop-color="#ff0f00"/><stop offset=".676" stop-color="#ff1d00"/><stop offset=".703" stop-color="#ff4600"/><stop offset=".716" stop-color="#ff4500"/><stop offset=".73" stop-color="#ff2c00"/><stop offset=".743" stop-color="#ff0c00"/><stop offset=".757" stop-color="#e50000"/><stop offset=".77" stop-color="#c40000"/><stop offset=".784" stop-color="#ad0000"/><stop offset=".797" stop-color="#9c0000"/><stop offset=".824" stop-color="#860000"/><stop offset=".865" stop-color="#750000"/><stop offset=".946" stop-color="#650000"/><stop offset="1" stop-color="#600000"/></linearGradient><linearGradient id="c28" gradientUnits="userSpaceOnUse" x1="1278" x2="1648.3"><stop offset="0" stop-color="#990000"/><stop offset=".041" stop-color="#a00000"/><stop offset=".054" stop-color="#810000"/><stop offset=".108" stop-color="#9d0000"/><stop offset=".189" stop-color="#d90000"/><stop offset=".23" stop-color="#fc0000"/><stop offset=".257" stop-color="#ff0e00"/><stop offset=".297" stop-color="#ff3100"/><stop offset=".324" stop-color="#ff5500"/><stop offset=".351" stop-color="#ff8600"/><stop offset=".378" stop-color="#ffc400"/><stop offset=".392" stop-color="#ffe600"/><stop offset=".405" stop-color="#ffff11"/><stop offset=".419" stop-color="#ffff4b"/><stop offset=".432" stop-color="#ffff76"/><stop offset=".446" stop-color="#ffff90"/><stop offset=".459" stop-color="#ffff97"/><stop offset=".473" stop-color="#ffff86"/><stop offset=".486" stop-color="#ffff54"/><stop offset=".5" stop-color="#ffff0a"/><stop offset=".514" stop-color="#ffd900"/><stop offset=".541" stop-color="#ff8700"/><stop offset=".554" stop-color="#ff6500"/><stop offset=".568" stop-color="#ff4900"/><stop offset=".581" stop-color="#ff3200"/><stop offset=".595" stop-color="#ff2100"/><stop offset=".622" stop-color="#ff0900"/><stop offset=".635" stop-color="#ff0200"/><stop offset=".662" stop-color="#ff0100"/><stop offset=".676" stop-color="#ff0700"/><stop offset=".689" stop-color="#ff1300"/><stop offset=".703" stop-color="#ff2500"/><stop offset=".716" stop-color="#ff3300"/><stop offset=".73" stop-color="#ff2e00"/><stop offset=".743" stop-color="#ff1600"/><stop offset=".757" stop-color="#f50000"/><stop offset=".77" stop-color="#d00000"/><stop offset=".784" stop-color="#b50000"/><stop offset=".797" stop-color="#a20000"/><stop offset=".824" stop-color="#890000"/><stop offset=".865" stop-color="#770000"/><stop offset=".946" stop-color="#660000"/><stop offset="1" stop-color="#600000"/></linearGradient><linearGradient id="c29" gradientUnits="userSpaceOnUse" x1="1278" x2="1648.3"><stop offset="0" stop-color="#990000"/><stop offset=".041" stop-color="#9f0000"/><stop offset=".054" stop-color="#810000"/><stop offset=".108" stop-color="#9b0000"/><stop offset=".189" stop-color="#d40000"/><stop offset=".243" stop-color="#ff0100"/><stop offset=".284" stop-color="#ff1c00"/><stop offset=".311" stop-color="#ff3800"/><stop offset=".338" stop-color="#ff5e00"/><stop offset=".365" stop-color="#ff9300"/><stop offset=".405" stop-color="#fff700"/><stop offset=".419" stop-color="#ffff31"/><stop offset=".432" stop-color="#ffff68"/><stop offset=".446" stop-color="#ffff90"/><stop offset=".459" stop-color="#ffffa4"/><stop offset=".473" stop-color="#ffffa6"/><stop offset=".486" stop-color="#ffff8b"/><stop offset=".5" stop-color="#ffff51"/><stop offset=".514" stop-color="#ffff01"/><stop offset=".541" stop-color="#ffa800"/><stop offset=".554" stop-color="#ff8100"/><stop offset=".568" stop-color="#ff5f00"/><stop offset=".581" stop-color="#ff4400"/><stop offset=".595" stop-color="#ff2d00"/><stop offset=".622" stop-color="#ff0e00"/><stop offset=".635" stop-color="#ff0400"/><stop offset=".662" stop-color="#f30000"/><stop offset=".676" stop-color="#f40000"/><stop offset=".689" stop-color="#fc0000"/><stop offset=".703" stop-color="#ff0800"/><stop offset=".716" stop-color="#ff1600"/><stop offset=".73" stop-color="#ff1f00"/><stop offset=".743" stop-color="#ff1600"/><stop offset=".757" stop-color="#ff0100"/><stop offset=".77" stop-color="#da0000"/><stop offset=".784" stop-color="#bd0000"/><stop offset=".797" stop-color="#a70000"/><stop offset=".811" stop-color="#980000"/><stop offset=".838" stop-color="#840000"/><stop offset=".878" stop-color="#740000"/><stop offset=".959" stop-color="#650000"/><stop offset="1" stop-color="#610000"/></linearGradient><linearGradient id="c30" gradientUnits="userSpaceOnUse" x1="1278" x2="1648.3"><stop offset="0" stop-color="#990000"/><stop offset=".041" stop-color="#9e0000"/><stop offset=".054" stop-color="#7f0000"/><stop offset=".108" stop-color="#970000"/><stop offset=".189" stop-color="#cc0000"/><stop offset=".257" stop-color="#ff0200"/><stop offset=".297" stop-color="#ff1f00"/><stop offset=".324" stop-color="#ff3d00"/><stop offset=".351" stop-color="#ff6800"/><stop offset=".378" stop-color="#ffa000"/><stop offset=".405" stop-color="#ffe400"/><stop offset=".419" stop-color="#ffff10"/><stop offset=".432" stop-color="#ffff50"/><stop offset=".446" stop-color="#ffff84"/><stop offset=".459" stop-color="#ffffa7"/><stop offset=".473" stop-color="#ffffb6"/><stop offset=".486" stop-color="#ffffb2"/><stop offset=".5" stop-color="#ffff90"/><stop offset=".514" stop-color="#ffff4e"/><stop offset=".527" stop-color="#fffc00"/><stop offset=".554" stop-color="#ffa300"/><stop offset=".568" stop-color="#ff7c00"/><stop offset=".581" stop-color="#ff5b00"/><stop offset=".595" stop-color="#ff3f00"/><stop offset=".608" stop-color="#ff2900"/><stop offset=".635" stop-color="#ff0900"/><stop offset=".649" stop-color="#fd0000"/><stop offset=".662" stop-color="#f00000"/><stop offset=".676" stop-color="#e90000"/><stop offset=".689" stop-color="#e70000"/><stop offset=".703" stop-color="#ec0000"/><stop offset=".716" stop-color="#f80000"/><stop offset=".73" stop-color="#ff0600"/><stop offset=".743" stop-color="#ff0a00"/><stop offset=".757" stop-color="#ff0000"/><stop offset=".784" stop-color="#c30000"/><stop offset=".797" stop-color="#ac0000"/><stop offset=".811" stop-color="#9b0000"/><stop offset=".838" stop-color="#860000"/><stop offset=".878" stop-color="#750000"/><stop offset=".959" stop-color="#660000"/><stop offset="1" stop-color="#620000"/></linearGradient><linearGradient id="c31" gradientUnits="userSpaceOnUse" x1="1278" x2="1648.3"><stop offset="0" stop-color="#970000"/><stop offset=".041" stop-color="#9b0000"/><stop offset=".054" stop-color="#7c0000"/><stop offset=".122" stop-color="#970000"/><stop offset=".216" stop-color="#cf0000"/><stop offset=".257" stop-color="#ed0000"/><stop offset=".27" stop-color="#fa0000"/><stop offset=".284" stop-color="#ff0500"/><stop offset=".311" stop-color="#ff1b00"/><stop offset=".338" stop-color="#ff3a00"/><stop offset=".365" stop-color="#ff6500"/><stop offset=".392" stop-color="#ff9e00"/><stop offset=".419" stop-color="#ffe200"/><stop offset=".432" stop-color="#ffff0c"/><stop offset=".446" stop-color="#ffff4e"/><stop offset=".459" stop-color="#ffff84"/><stop offset=".473" stop-color="#ffffa9"/><stop offset=".486" stop-color="#ffffbb"/><stop offset=".5" stop-color="#ffffbb"/><stop offset=".514" stop-color="#ffff9d"/><stop offset=".527" stop-color="#ffff60"/><stop offset=".541" stop-color="#ffff0e"/><stop offset=".554" stop-color="#ffd800"/><stop offset=".568" stop-color="#ffac00"/><stop offset=".581" stop-color="#ff8300"/><stop offset=".595" stop-color="#ff6100"/><stop offset=".608" stop-color="#ff4400"/><stop offset=".622" stop-color="#ff2c00"/><stop offset=".649" stop-color="#ff0a00"/><stop offset=".662" stop-color="#fc0000"/><stop offset=".676" stop-color="#ed0000"/><stop offset=".689" stop-color="#e40000"/><stop offset=".703" stop-color="#df0000"/><stop offset=".716" stop-color="#e10000"/><stop offset=".743" stop-color="#f30000"/><stop offset=".757" stop-color="#f50000"/><stop offset=".77" stop-color="#e50000"/><stop offset=".797" stop-color="#b30000"/><stop offset=".811" stop-color="#a10000"/><stop offset=".838" stop-color="#890000"/><stop offset=".878" stop-color="#770000"/><stop offset=".959" stop-color="#670000"/><stop offset="1" stop-color="#630000"/></linearGradient><linearGradient id="c32" gradientUnits="userSpaceOnUse" x1="1278" x2="1648.3"><stop offset="0" stop-color="#960000"/><stop offset=".041" stop-color="#990000"/><stop offset=".054" stop-color="#790000"/><stop offset=".122" stop-color="#910000"/><stop offset=".216" stop-color="#c20000"/><stop offset=".27" stop-color="#ea0000"/><stop offset=".284" stop-color="#f70000"/><stop offset=".297" stop-color="#ff0400"/><stop offset=".324" stop-color="#ff1c00"/><stop offset=".351" stop-color="#ff3d00"/><stop offset=".378" stop-color="#ff6b00"/><stop offset=".405" stop-color="#ffa500"/><stop offset=".432" stop-color="#ffeb00"/><stop offset=".446" stop-color="#ffff1e"/><stop offset=".459" stop-color="#ffff5d"/><stop offset=".473" stop-color="#ffff91"/><stop offset=".486" stop-color="#ffffb3"/><stop offset=".5" stop-color="#ffffc3"/><stop offset=".514" stop-color="#ffffbf"/><stop offset=".527" stop-color="#ffff9d"/><stop offset=".541" stop-color="#ffff5c"/><stop offset=".554" stop-color="#ffff08"/><stop offset=".568" stop-color="#ffd500"/><stop offset=".581" stop-color="#ffa800"/><stop offset=".595" stop-color="#ff8000"/><stop offset=".608" stop-color="#ff5e00"/><stop offset=".622" stop-color="#ff4100"/><stop offset=".635" stop-color="#ff2900"/><stop offset=".662" stop-color="#ff0600"/><stop offset=".676" stop-color="#f50000"/><stop offset=".689" stop-color="#e50000"/><stop offset=".703" stop-color="#da0000"/><stop offset=".716" stop-color="#d40000"/><stop offset=".73" stop-color="#d20000"/><stop offset=".757" stop-color="#da0000"/><stop offset=".77" stop-color="#d80000"/><stop offset=".784" stop-color="#c90000"/><stop offset=".811" stop-color="#a30000"/><stop offset=".838" stop-color="#8b0000"/><stop offset=".878" stop-color="#780000"/><stop offset=".959" stop-color="#680000"/><stop offset="1" stop-color="#630000"/></linearGradient><linearGradient id="c33" gradientUnits="userSpaceOnUse" x1="1278" x2="1648.3"><stop offset="0" stop-color="#950000"/><stop offset=".041" stop-color="#980000"/><stop offset=".054" stop-color="#770000"/><stop offset=".135" stop-color="#910000"/><stop offset=".216" stop-color="#b80000"/><stop offset=".257" stop-color="#d20000"/><stop offset=".297" stop-color="#f90000"/><stop offset=".311" stop-color="#ff0700"/><stop offset=".338" stop-color="#ff2100"/><stop offset=".365" stop-color="#ff4500"/><stop offset=".392" stop-color="#ff7600"/><stop offset=".419" stop-color="#ffb400"/><stop offset=".446" stop-color="#fffa00"/><stop offset=".459" stop-color="#ffff3b"/><stop offset=".473" stop-color="#ffff77"/><stop offset=".486" stop-color="#ffffa5"/><stop offset=".5" stop-color="#ffffc1"/><stop offset=".514" stop-color="#ffffca"/><stop offset=".527" stop-color="#ffffbf"/><stop offset=".541" stop-color="#ffff93"/><stop offset=".554" stop-color="#ffff4b"/><stop offset=".568" stop-color="#fff800"/><stop offset=".595" stop-color="#ff9e00"/><stop offset=".608" stop-color="#ff7700"/><stop offset=".622" stop-color="#ff5600"/><stop offset=".635" stop-color="#ff3a00"/><stop offset=".649" stop-color="#ff2300"/><stop offset=".676" stop-color="#ff0100"/><stop offset=".703" stop-color="#db0000"/><stop offset=".73" stop-color="#c60000"/><stop offset=".757" stop-color="#bf0000"/><stop offset=".77" stop-color="#bf0000"/><stop offset=".784" stop-color="#ba0000"/><stop offset=".824" stop-color="#950000"/><stop offset=".851" stop-color="#830000"/><stop offset=".905" stop-color="#720000"/><stop offset="1" stop-color="#640000"/></linearGradient><linearGradient id="c34" gradientUnits="userSpaceOnUse" x1="1278" x2="1648.3"><stop offset="0" stop-color="#950000"/><stop offset=".041" stop-color="#970000"/><stop offset=".054" stop-color="#760000"/><stop offset=".135" stop-color="#8d0000"/><stop offset=".203" stop-color="#aa0000"/><stop offset=".257" stop-color="#cc0000"/><stop offset=".311" stop-color="#ff0300"/><stop offset=".338" stop-color="#ff1d00"/><stop offset=".365" stop-color="#ff4000"/><stop offset=".392" stop-color="#ff6e00"/><stop offset=".419" stop-color="#ffaa00"/><stop offset=".446" stop-color="#fff000"/><stop offset=".459" stop-color="#ffff28"/><stop offset=".473" stop-color="#ffff68"/><stop offset=".486" stop-color="#ffff9c"/><stop offset=".5" stop-color="#ffffc0"/><stop offset=".514" stop-color="#ffffd1"/><stop offset=".527" stop-color="#ffffcf"/><stop offset=".541" stop-color="#ffffb1"/><stop offset=".554" stop-color="#ffff75"/><stop offset=".568" stop-color="#ffff22"/><stop offset=".581" stop-color="#ffe200"/><stop offset=".608" stop-color="#ff8b00"/><stop offset=".622" stop-color="#ff6600"/><stop offset=".635" stop-color="#ff4700"/><stop offset=".649" stop-color="#ff2e00"/><stop offset=".676" stop-color="#ff0700"/><stop offset=".689" stop-color="#f30000"/><stop offset=".716" stop-color="#d00000"/><stop offset=".743" stop-color="#b90000"/><stop offset=".77" stop-color="#af0000"/><stop offset=".797" stop-color="#a80000"/><stop offset=".851" stop-color="#850000"/><stop offset=".905" stop-color="#730000"/><stop offset="1" stop-color="#650000"/></linearGradient><linearGradient id="c35" gradientUnits="userSpaceOnUse" x1="1278" x2="1648.3"><stop offset="0" stop-color="#960000"/><stop offset=".041" stop-color="#970000"/><stop offset=".054" stop-color="#770000"/><stop offset=".135" stop-color="#8b0000"/><stop offset=".203" stop-color="#a70000"/><stop offset=".257" stop-color="#ca0000"/><stop offset=".297" stop-color="#f20000"/><stop offset=".311" stop-color="#ff0300"/><stop offset=".338" stop-color="#ff1d00"/><stop offset=".365" stop-color="#ff4100"/><stop offset=".392" stop-color="#ff7000"/><stop offset=".419" stop-color="#ffab00"/><stop offset=".446" stop-color="#fff100"/><stop offset=".459" stop-color="#ffff2a"/><stop offset=".473" stop-color="#ffff6b"/><stop offset=".486" stop-color="#ffffa1"/><stop offset=".5" stop-color="#ffffc6"/><stop offset=".514" stop-color="#ffffd8"/><stop offset=".527" stop-color="#ffffd9"/><stop offset=".541" stop-color="#ffffbf"/><stop offset=".554" stop-color="#ffff86"/><stop offset=".568" stop-color="#ffff35"/><stop offset=".581" stop-color="#ffec00"/><stop offset=".608" stop-color="#ff9300"/><stop offset=".622" stop-color="#ff6e00"/><stop offset=".635" stop-color="#ff4e00"/><stop offset=".649" stop-color="#ff3300"/><stop offset=".676" stop-color="#ff0b00"/><stop offset=".689" stop-color="#f70000"/><stop offset=".716" stop-color="#d10000"/><stop offset=".743" stop-color="#b80000"/><stop offset=".77" stop-color="#a70000"/><stop offset=".824" stop-color="#940000"/><stop offset=".865" stop-color="#7f0000"/><stop offset=".932" stop-color="#6e0000"/><stop offset="1" stop-color="#650000"/></linearGradient><linearGradient id="c36" gradientUnits="userSpaceOnUse" x1="1278" x2="1648.3"><stop offset="0" stop-color="#960000"/><stop offset=".041" stop-color="#980000"/><stop offset=".054" stop-color="#770000"/><stop offset=".149" stop-color="#8f0000"/><stop offset=".216" stop-color="#ad0000"/><stop offset=".257" stop-color="#c90000"/><stop offset=".297" stop-color="#f20000"/><stop offset=".311" stop-color="#ff0300"/><stop offset=".338" stop-color="#ff1d00"/><stop offset=".365" stop-color="#ff4100"/><stop offset=".392" stop-color="#ff6f00"/><stop offset=".419" stop-color="#ffab00"/><stop offset=".446" stop-color="#fff000"/><stop offset=".459" stop-color="#ffff29"/><stop offset=".473" stop-color="#ffff6b"/><stop offset=".486" stop-color="#ffffa2"/><stop offset=".5" stop-color="#ffffca"/><stop offset=".514" stop-color="#ffffe0"/><stop offset=".527" stop-color="#ffffe3"/><stop offset=".541" stop-color="#ffffcf"/><stop offset=".554" stop-color="#ffff9b"/><stop offset=".568" stop-color="#ffff4e"/><stop offset=".581" stop-color="#fff900"/><stop offset=".608" stop-color="#ff9f00"/><stop offset=".622" stop-color="#ff7800"/><stop offset=".635" stop-color="#ff5700"/><stop offset=".649" stop-color="#ff3b00"/><stop offset=".676" stop-color="#ff1000"/><stop offset=".689" stop-color="#ff0000"/><stop offset=".716" stop-color="#d60000"/><stop offset=".743" stop-color="#b90000"/><stop offset=".784" stop-color="#9d0000"/><stop offset=".892" stop-color="#770000"/><stop offset=".986" stop-color="#670000"/><stop offset="1" stop-color="#660000"/></linearGradient><linearGradient id="c37" gradientUnits="userSpaceOnUse" x1="1278" x2="1648.3"><stop offset="0" stop-color="#960000"/><stop offset=".041" stop-color="#980000"/><stop offset=".054" stop-color="#770000"/><stop offset=".149" stop-color="#8e0000"/><stop offset=".216" stop-color="#ab0000"/><stop offset=".257" stop-color="#c60000"/><stop offset=".297" stop-color="#ee0000"/><stop offset=".311" stop-color="#ff0000"/><stop offset=".351" stop-color="#ff2a00"/><stop offset=".378" stop-color="#ff5100"/><stop offset=".405" stop-color="#ff8400"/><stop offset=".432" stop-color="#ffc300"/><stop offset=".446" stop-color="#ffe600"/><stop offset=".459" stop-color="#ffff15"/><stop offset=".473" stop-color="#ffff59"/><stop offset=".486" stop-color="#ffff95"/><stop offset=".5" stop-color="#ffffc3"/><stop offset=".514" stop-color="#ffffe0"/><stop offset=".527" stop-color="#ffffea"/><stop offset=".541" stop-color="#ffffe2"/><stop offset=".554" stop-color="#ffffbb"/><stop offset=".568" stop-color="#ffff78"/><stop offset=".581" stop-color="#ffff22"/><stop offset=".595" stop-color="#ffe200"/><stop offset=".608" stop-color="#ffb400"/><stop offset=".622" stop-color="#ff8b00"/><stop offset=".635" stop-color="#ff6800"/><stop offset=".649" stop-color="#ff4900"/><stop offset=".662" stop-color="#ff3000"/><stop offset=".689" stop-color="#ff0800"/><stop offset=".703" stop-color="#f40000"/><stop offset=".73" stop-color="#cf0000"/><stop offset=".757" stop-color="#b40000"/><stop offset=".797" stop-color="#980000"/><stop offset=".851" stop-color="#820000"/><stop offset=".946" stop-color="#6d0000"/><stop offset="1" stop-color="#660000"/></linearGradient><linearGradient id="c38" gradientUnits="userSpaceOnUse" x1="1278" x2="1648.3"><stop offset="0" stop-color="#970000"/><stop offset=".041" stop-color="#980000"/><stop offset=".054" stop-color="#770000"/><stop offset=".149" stop-color="#8e0000"/><stop offset=".216" stop-color="#ab0000"/><stop offset=".257" stop-color="#c70000"/><stop offset=".297" stop-color="#ef0000"/><stop offset=".311" stop-color="#ff0000"/><stop offset=".351" stop-color="#ff2a00"/><stop offset=".378" stop-color="#ff5100"/><stop offset=".405" stop-color="#ff8300"/><stop offset=".432" stop-color="#ffc100"/><stop offset=".446" stop-color="#ffe400"/><stop offset=".459" stop-color="#ffff11"/><stop offset=".473" stop-color="#ffff55"/><stop offset=".486" stop-color="#ffff91"/><stop offset=".5" stop-color="#ffffc0"/><stop offset=".514" stop-color="#ffffde"/><stop offset=".527" stop-color="#ffffea"/><stop offset=".541" stop-color="#ffffe4"/><stop offset=".554" stop-color="#ffffc2"/><stop offset=".568" stop-color="#ffff82"/><stop offset=".581" stop-color="#ffff2f"/><stop offset=".595" stop-color="#ffe900"/><stop offset=".622" stop-color="#ff9200"/><stop offset=".635" stop-color="#ff6e00"/><stop offset=".649" stop-color="#ff4f00"/><stop offset=".662" stop-color="#ff3400"/><stop offset=".689" stop-color="#ff0c00"/><stop offset=".703" stop-color="#fa0000"/><stop offset=".73" stop-color="#d30000"/><stop offset=".757" stop-color="#b70000"/><stop offset=".797" stop-color="#9a0000"/><stop offset=".851" stop-color="#830000"/><stop offset=".932" stop-color="#700000"/><stop offset="1" stop-color="#670000"/></linearGradient><linearGradient id="c39" gradientUnits="userSpaceOnUse" x1="1278" x2="1648.3"><stop offset="0" stop-color="#970000"/><stop offset=".041" stop-color="#990000"/><stop offset=".054" stop-color="#780000"/><stop offset=".149" stop-color="#8e0000"/><stop offset=".216" stop-color="#ac0000"/><stop offset=".257" stop-color="#c70000"/><stop offset=".297" stop-color="#ef0000"/><stop offset=".311" stop-color="#ff0100"/><stop offset=".351" stop-color="#ff2a00"/><stop offset=".378" stop-color="#ff5100"/><stop offset=".405" stop-color="#ff8200"/><stop offset=".432" stop-color="#ffc000"/><stop offset=".446" stop-color="#ffe200"/><stop offset=".459" stop-color="#ffff0d"/><stop offset=".473" stop-color="#ffff50"/><stop offset=".486" stop-color="#ffff8c"/><stop offset=".5" stop-color="#ffffbc"/><stop offset=".514" stop-color="#ffffdc"/><stop offset=".527" stop-color="#ffffea"/><stop offset=".541" stop-color="#ffffe6"/><stop offset=".554" stop-color="#ffffc8"/><stop offset=".568" stop-color="#ffff8c"/><stop offset=".581" stop-color="#ffff3c"/><stop offset=".595" stop-color="#fff000"/><stop offset=".622" stop-color="#ff9900"/><stop offset=".635" stop-color="#ff7400"/><stop offset=".649" stop-color="#ff5400"/><stop offset=".662" stop-color="#ff3900"/><stop offset=".689" stop-color="#ff1000"/><stop offset=".703" stop-color="#ff0000"/><stop offset=".73" stop-color="#d70000"/><stop offset=".757" stop-color="#ba0000"/><stop offset=".797" stop-color="#9d0000"/><stop offset=".851" stop-color="#850000"/><stop offset=".932" stop-color="#710000"/><stop offset="1" stop-color="#680000"/></linearGradient><linearGradient id="c40" gradientUnits="userSpaceOnUse" x1="1278" x2="1648.3"><stop offset="0" stop-color="#980000"/><stop offset=".041" stop-color="#990000"/><stop offset=".054" stop-color="#780000"/><stop offset=".149" stop-color="#8f0000"/><stop offset=".216" stop-color="#ad0000"/><stop offset=".257" stop-color="#c80000"/><stop offset=".297" stop-color="#f00000"/><stop offset=".311" stop-color="#ff0100"/><stop offset=".351" stop-color="#ff2a00"/><stop offset=".378" stop-color="#ff5000"/><stop offset=".405" stop-color="#ff8200"/><stop offset=".432" stop-color="#ffbf00"/><stop offset=".446" stop-color="#ffe100"/><stop offset=".459" stop-color="#ffff09"/><stop offset=".473" stop-color="#ffff4c"/><stop offset=".486" stop-color="#ffff88"/><stop offset=".5" stop-color="#ffffb9"/><stop offset=".514" stop-color="#ffffda"/><stop offset=".527" stop-color="#ffffe9"/><stop offset=".541" stop-color="#ffffe8"/><stop offset=".554" stop-color="#ffffcd"/><stop offset=".568" stop-color="#ffff96"/><stop offset=".581" stop-color="#ffff48"/><stop offset=".595" stop-color="#fff700"/><stop offset=".622" stop-color="#ffa000"/><stop offset=".635" stop-color="#ff7a00"/><stop offset=".649" stop-color="#ff5a00"/><stop offset=".662" stop-color="#ff3e00"/><stop offset=".689" stop-color="#ff1400"/><stop offset=".703" stop-color="#ff0300"/><stop offset=".73" stop-color="#db0000"/><stop offset=".757" stop-color="#bd0000"/><stop offset=".797" stop-color="#9f0000"/><stop offset=".851" stop-color="#860000"/><stop offset=".932" stop-color="#720000"/><stop offset="1" stop-color="#680000"/></linearGradient><linearGradient id="c41" gradientUnits="userSpaceOnUse" x1="1278" x2="1648.3"><stop offset="0" stop-color="#980000"/><stop offset=".041" stop-color="#990000"/><stop offset=".054" stop-color="#790000"/><stop offset=".149" stop-color="#900000"/><stop offset=".216" stop-color="#ad0000"/><stop offset=".257" stop-color="#c90000"/><stop offset=".297" stop-color="#f00000"/><stop offset=".311" stop-color="#ff0200"/><stop offset=".351" stop-color="#ff2a00"/><stop offset=".378" stop-color="#ff5000"/><stop offset=".405" stop-color="#ff8100"/><stop offset=".432" stop-color="#ffbd00"/><stop offset=".459" stop-color="#ffff03"/><stop offset=".473" stop-color="#ffff46"/><stop offset=".486" stop-color="#ffff83"/><stop offset=".5" stop-color="#ffffb4"/><stop offset=".514" stop-color="#ffffd7"/><stop offset=".527" stop-color="#ffffe8"/><stop offset=".541" stop-color="#ffffe9"/><stop offset=".554" stop-color="#ffffd3"/><stop offset=".568" stop-color="#ffffa0"/><stop offset=".581" stop-color="#ffff55"/><stop offset=".595" stop-color="#fffe00"/><stop offset=".622" stop-color="#ffa700"/><stop offset=".635" stop-color="#ff8100"/><stop offset=".649" stop-color="#ff6000"/><stop offset=".662" stop-color="#ff4400"/><stop offset=".689" stop-color="#ff1800"/><stop offset=".703" stop-color="#ff0700"/><stop offset=".716" stop-color="#f30000"/><stop offset=".743" stop-color="#cf0000"/><stop offset=".784" stop-color="#aa0000"/><stop offset=".824" stop-color="#930000"/><stop offset=".892" stop-color="#7c0000"/><stop offset="1" stop-color="#690000"/></linearGradient><linearGradient id="c42" gradientUnits="userSpaceOnUse" x1="1278" x2="1648.3"><stop offset="0" stop-color="#980000"/><stop offset=".041" stop-color="#9a0000"/><stop offset=".054" stop-color="#790000"/><stop offset=".149" stop-color="#900000"/><stop offset=".216" stop-color="#ae0000"/><stop offset=".257" stop-color="#c90000"/><stop offset=".297" stop-color="#f10000"/><stop offset=".311" stop-color="#ff0200"/><stop offset=".351" stop-color="#ff2a00"/><stop offset=".378" stop-color="#ff4f00"/><stop offset=".405" stop-color="#ff8000"/><stop offset=".432" stop-color="#ffbb00"/><stop offset=".459" stop-color="#fffe00"/><stop offset=".486" stop-color="#ffff7d"/><stop offset=".5" stop-color="#ffffb0"/><stop offset=".514" stop-color="#ffffd4"/><stop offset=".527" stop-color="#ffffe7"/><stop offset=".541" stop-color="#ffffea"/><stop offset=".554" stop-color="#ffffd8"/><stop offset=".568" stop-color="#ffffa9"/><stop offset=".581" stop-color="#ffff63"/><stop offset=".595" stop-color="#ffff0e"/><stop offset=".608" stop-color="#ffda00"/><stop offset=".635" stop-color="#ff8800"/><stop offset=".649" stop-color="#ff6600"/><stop offset=".662" stop-color="#ff4900"/><stop offset=".689" stop-color="#ff1c00"/><stop offset=".703" stop-color="#ff0b00"/><stop offset=".716" stop-color="#f90000"/><stop offset=".743" stop-color="#d30000"/><stop offset=".77" stop-color="#b80000"/><stop offset=".811" stop-color="#9c0000"/><stop offset=".865" stop-color="#850000"/><stop offset=".946" stop-color="#710000"/><stop offset="1" stop-color="#6a0000"/></linearGradient><linearGradient id="c43" gradientUnits="userSpaceOnUse" x1="1278" x2="1648.3"><stop offset="0" stop-color="#990000"/><stop offset=".041" stop-color="#9a0000"/><stop offset=".054" stop-color="#790000"/><stop offset=".149" stop-color="#910000"/><stop offset=".216" stop-color="#ae0000"/><stop offset=".257" stop-color="#ca0000"/><stop offset=".311" stop-color="#ff0200"/><stop offset=".351" stop-color="#ff2a00"/><stop offset=".378" stop-color="#ff4f00"/><stop offset=".405" stop-color="#ff7e00"/><stop offset=".432" stop-color="#ffb900"/><stop offset=".459" stop-color="#fffb00"/><stop offset=".486" stop-color="#ffff78"/><stop offset=".5" stop-color="#ffffab"/><stop offset=".514" stop-color="#ffffd1"/><stop offset=".527" stop-color="#ffffe5"/><stop offset=".541" stop-color="#ffffeb"/><stop offset=".554" stop-color="#ffffdc"/><stop offset=".568" stop-color="#ffffb2"/><stop offset=".581" stop-color="#ffff6f"/><stop offset=".595" stop-color="#ffff1d"/><stop offset=".608" stop-color="#ffe100"/><stop offset=".635" stop-color="#ff8f00"/><stop offset=".649" stop-color="#ff6d00"/><stop offset=".662" stop-color="#ff4f00"/><stop offset=".689" stop-color="#ff2100"/><stop offset=".716" stop-color="#fe0000"/><stop offset=".743" stop-color="#d80000"/><stop offset=".77" stop-color="#bc0000"/><stop offset=".811" stop-color="#9e0000"/><stop offset=".865" stop-color="#860000"/><stop offset=".946" stop-color="#720000"/><stop offset="1" stop-color="#6a0000"/></linearGradient><filter id="cf" x="-5%" y="-5%" width="110%" height="110%"><feGaussianBlur stdDeviation="0 3"/></filter><clipPath id="cc"><rect x="1278" y="43.5" width="370.3" height="357.2"/></clipPath></defs>
<g clip-path="url(#cc)"><g filter="url(#cf)"><rect x="1278" y="26.96" width="370.3" height="8.72" fill="url(#c0)"/><rect x="1278" y="35.08" width="370.3" height="8.72" fill="url(#c0)"/><rect x="1278" y="43.2" width="370.3" height="8.72" fill="url(#c0)"/><rect x="1278" y="51.32" width="370.3" height="8.72" fill="url(#c1)"/><rect x="1278" y="59.44" width="370.3" height="8.72" fill="url(#c2)"/><rect x="1278" y="67.55" width="370.3" height="8.72" fill="url(#c3)"/><rect x="1278" y="75.67" width="370.3" height="8.72" fill="url(#c4)"/><rect x="1278" y="83.79" width="370.3" height="8.72" fill="url(#c5)"/><rect x="1278" y="91.91" width="370.3" height="8.72" fill="url(#c6)"/><rect x="1278" y="100.03" width="370.3" height="8.72" fill="url(#c7)"/><rect x="1278" y="108.15" width="370.3" height="8.72" fill="url(#c8)"/><rect x="1278" y="116.26" width="370.3" height="8.72" fill="url(#c9)"/><rect x="1278" y="124.38" width="370.3" height="8.72" fill="url(#c10)"/><rect x="1278" y="132.5" width="370.3" height="8.72" fill="url(#c11)"/><rect x="1278" y="140.62" width="370.3" height="8.72" fill="url(#c12)"/><rect x="1278" y="148.74" width="370.3" height="8.72" fill="url(#c13)"/><rect x="1278" y="156.85" width="370.3" height="8.72" fill="url(#c14)"/><rect x="1278" y="164.97" width="370.3" height="8.72" fill="url(#c15)"/><rect x="1278" y="173.09" width="370.3" height="8.72" fill="url(#c16)"/><rect x="1278" y="181.21" width="370.3" height="8.72" fill="url(#c17)"/><rect x="1278" y="189.33" width="370.3" height="8.72" fill="url(#c18)"/><rect x="1278" y="197.45" width="370.3" height="8.72" fill="url(#c19)"/><rect x="1278" y="205.56" width="370.3" height="8.72" fill="url(#c20)"/><rect x="1278" y="213.68" width="370.3" height="8.72" fill="url(#c21)"/><rect x="1278" y="221.8" width="370.3" height="8.72" fill="url(#c22)"/><rect x="1278" y="229.92" width="370.3" height="8.72" fill="url(#c23)"/><rect x="1278" y="238.04" width="370.3" height="8.72" fill="url(#c24)"/><rect x="1278" y="246.15" width="370.3" height="8.72" fill="url(#c25)"/><rect x="1278" y="254.27" width="370.3" height="8.72" fill="url(#c26)"/><rect x="1278" y="262.39" width="370.3" height="8.72" fill="url(#c27)"/><rect x="1278" y="270.51" width="370.3" height="8.72" fill="url(#c28)"/><rect x="1278" y="278.63" width="370.3" height="8.72" fill="url(#c29)"/><rect x="1278" y="286.75" width="370.3" height="8.72" fill="url(#c30)"/><rect x="1278" y="294.86" width="370.3" height="8.72" fill="url(#c31)"/><rect x="1278" y="302.98" width="370.3" height="8.72" fill="url(#c32)"/><rect x="1278" y="311.1" width="370.3" height="8.72" fill="url(#c33)"/><rect x="1278" y="319.22" width="370.3" height="8.72" fill="url(#c34)"/><rect x="1278" y="327.34" width="370.3" height="8.72" fill="url(#c35)"/><rect x="1278" y="335.45" width="370.3" height="8.72" fill="url(#c36)"/><rect x="1278" y="343.57" width="370.3" height="8.72" fill="url(#c37)"/><rect x="1278" y="351.69" width="370.3" height="8.72" fill="url(#c38)"/><rect x="1278" y="359.81" width="370.3" height="8.72" fill="url(#c39)"/><rect x="1278" y="367.93" width="370.3" height="8.72" fill="url(#c40)"/><rect x="1278" y="376.05" width="370.3" height="8.72" fill="url(#c41)"/><rect x="1278" y="384.16" width="370.3" height="8.72" fill="url(#c42)"/><rect x="1278" y="392.28" width="370.3" height="8.72" fill="url(#c43)"/><rect x="1278" y="400.4" width="370.3" height="8.72" fill="url(#c43)"/><rect x="1278" y="408.52" width="370.3" height="8.72" fill="url(#c43)"/></g></g>
<path d="M1306.48 400.7L1306.48 407.2M1363.45 400.7L1363.45 407.2M1420.42 400.7L1420.42 407.2M1477.39 400.7L1477.39 407.2M1534.36 400.7L1534.36 407.2M1591.33 400.7L1591.33 407.2M1648.3 400.7L1648.3 407.2M1334.97 400.7L1334.97 404.2M1391.94 400.7L1391.94 404.2M1448.91 400.7L1448.91 404.2M1505.88 400.7L1505.88 404.2M1562.85 400.7L1562.85 404.2M1619.82 400.7L1619.82 404.2M1271.5 400.7L1278 400.7M1271.5 345.75L1278 345.75M1271.5 290.79L1278 290.79M1271.5 235.84L1278 235.84M1271.5 180.88L1278 180.88M1271.5 125.93L1278 125.93M1271.5 70.98L1278 70.98M1274.5 373.22L1278 373.22M1274.5 318.27L1278 318.27M1274.5 263.32L1278 263.32M1274.5 208.36L1278 208.36M1274.5 153.41L1278 153.41M1274.5 98.45L1278 98.45" stroke="#111" stroke-width="1.3" fill="none"/>
<path d="M1297.37 43.5L1297.37 400.7" stroke="#5a0000" stroke-width="1.2" opacity=".55"/>
<path d="M1278 43.5L1278 401.3" stroke="#111" stroke-width="1.3"/>
<path d="M1277.4 400.7L1648.3 400.7" stroke="#111" stroke-width="1.3"/>
<text x="1306.5" y="430.5" font-size="22.5" text-anchor="middle">6</text>
<text x="1363.5" y="430.5" font-size="22.5" text-anchor="middle">7</text>
<text x="1420.4" y="430.5" font-size="22.5" text-anchor="middle">8</text>
<text x="1477.4" y="430.5" font-size="22.5" text-anchor="middle">9</text>
<text x="1534.4" y="430.5" font-size="22.5" text-anchor="middle">10</text>
<text x="1591.3" y="430.5" font-size="22.5" text-anchor="middle">11</text>
<text x="1648.3" y="430.5" font-size="22.5" text-anchor="middle">12</text>
<text x="1267.5" y="408.7" font-size="22.5" text-anchor="end">0.0</text>
<text x="1267.5" y="353.7" font-size="22.5" text-anchor="end">0.1</text>
<text x="1267.5" y="298.8" font-size="22.5" text-anchor="end">0.2</text>
<text x="1267.5" y="243.8" font-size="22.5" text-anchor="end">0.3</text>
<text x="1267.5" y="188.9" font-size="22.5" text-anchor="end">0.4</text>
<text x="1267.5" y="133.9" font-size="22.5" text-anchor="end">0.5</text>
<text x="1267.5" y="79" font-size="22.5" text-anchor="end">0.6</text>
<text x="1463.5" y="475.5" font-size="29" text-anchor="middle" textLength="223" lengthAdjust="spacingAndGlyphs">Wavelength (μm)</text>
<text font-size="29" text-anchor="middle" textLength="201" lengthAdjust="spacingAndGlyphs" transform="translate(1223.5 222.5) rotate(-90)">Fermi level (eV)</text>
<defs><linearGradient id="cbc" x1="0" y1="0" x2="0" y2="1"><stop offset="0" stop-color="#2c0000"/><stop offset=".25" stop-color="#ff0000"/><stop offset=".75" stop-color="#ffff00"/><stop offset="1" stop-color="#ffffff"/></linearGradient></defs>
<rect x="1684.3" y="47.2" width="22" height="352" fill="url(#cbc)"/>
<text x="1715.5" y="53.6" font-size="19.5">97</text>
<text x="1715.5" y="97.6" font-size="19.5">92</text>
<text x="1715.5" y="141.6" font-size="19.5">87</text>
<text x="1715.5" y="185.6" font-size="19.5">82</text>
<text x="1715.5" y="229.6" font-size="19.5">77</text>
<text x="1715.5" y="273.6" font-size="19.5">72</text>
<text x="1715.5" y="317.6" font-size="19.5">67</text>
<text x="1715.5" y="361.6" font-size="19.5">62</text>
<text x="1715.5" y="405.6" font-size="19.5">57</text>
<text x="1576.5" y="28.7" font-size="24.5" textLength="170.7" lengthAdjust="spacingAndGlyphs">Reflectivity (%)</text>
<text x="1167" y="65.5" font-size="44" textLength="50" lengthAdjust="spacingAndGlyphs" stroke="#111" stroke-width=".5">(c)</text>
<defs><linearGradient id="ea0" gradientUnits="userSpaceOnUse" x1="695.3" x2="833.8" spreadMethod="reflect"><stop offset="0" stop-color="#850000"/><stop offset=".29" stop-color="#cd0000"/><stop offset=".42" stop-color="#f20000"/><stop offset=".44" stop-color="#f70000"/><stop offset=".47" stop-color="#e90000"/><stop offset=".49" stop-color="#300000"/><stop offset=".54" stop-color="#2c0000"/><stop offset="1" stop-color="#2c0000"/></linearGradient><linearGradient id="ea1" gradientUnits="userSpaceOnUse" x1="695.3" x2="833.8" spreadMethod="reflect"><stop offset="0" stop-color="#850000"/><stop offset=".29" stop-color="#ce0000"/><stop offset=".42" stop-color="#f30000"/><stop offset=".44" stop-color="#f70000"/><stop offset=".47" stop-color="#ea0000"/><stop offset=".49" stop-color="#300000"/><stop offset=".54" stop-color="#2c0000"/><stop offset="1" stop-color="#2c0000"/></linearGradient><linearGradient id="ea2" gradientUnits="userSpaceOnUse" x1="695.3" x2="833.8" spreadMethod="reflect"><stop offset="0" stop-color="#850000"/><stop offset=".29" stop-color="#cf0000"/><stop offset=".42" stop-color="#f40000"/><stop offset=".44" stop-color="#f80000"/><stop offset=".47" stop-color="#eb0000"/><stop offset=".49" stop-color="#300000"/><stop offset=".53" stop-color="#2c0000"/><stop offset="1" stop-color="#2c0000"/></linearGradient><linearGradient id="ea3" gradientUnits="userSpaceOnUse" x1="695.3" x2="833.8" spreadMethod="reflect"><stop offset="0" stop-color="#860000"/><stop offset=".29" stop-color="#d00000"/><stop offset=".42" stop-color="#f50000"/><stop offset=".44" stop-color="#fa0000"/><stop offset=".47" stop-color="#ec0000"/><stop offset=".49" stop-color="#300000"/><stop offset=".53" stop-color="#2c0000"/><stop offset="1" stop-color="#2c0000"/></linearGradient><linearGradient id="ea4" gradientUnits="userSpaceOnUse" x1="695.3" x2="833.8" spreadMethod="reflect"><stop offset="0" stop-color="#870000"/><stop offset=".29" stop-color="#d10000"/><stop offset=".42" stop-color="#f70000"/><stop offset=".44" stop-color="#fc0000"/><stop offset=".47" stop-color="#ee0000"/><stop offset=".49" stop-color="#300000"/><stop offset=".53" stop-color="#2c0000"/><stop offset="1" stop-color="#2c0000"/></linearGradient><linearGradient id="ea5" gradientUnits="userSpaceOnUse" x1="695.3" x2="833.8" spreadMethod="reflect"><stop offset="0" stop-color="#880000"/><stop offset=".29" stop-color="#d30000"/><stop offset=".41" stop-color="#f70000"/><stop offset=".44" stop-color="#fe0000"/><stop offset=".47" stop-color="#f00000"/><stop offset=".49" stop-color="#300000"/><stop offset=".53" stop-color="#2c0000"/><stop offset="1" stop-color="#2c0000"/></linearGradient><linearGradient id="ea6" gradientUnits="userSpaceOnUse" x1="695.3" x2="833.8" spreadMethod="reflect"><stop offset="0" stop-color="#890000"/><stop offset=".29" stop-color="#d50000"/><stop offset=".41" stop-color="#fa0000"/><stop offset=".45" stop-color="#fd0000"/><stop offset=".47" stop-color="#f30000"/><stop offset=".49" stop-color="#300000"/><stop offset=".53" stop-color="#2c0000"/><stop offset="1" stop-color="#2c0000"/></linearGradient><linearGradient id="ea7" gradientUnits="userSpaceOnUse" x1="695.3" x2="833.8" spreadMethod="reflect"><stop offset="0" stop-color="#8a0000"/><stop offset=".29" stop-color="#d80000"/><stop offset=".41" stop-color="#fd0000"/><stop offset=".46" stop-color="#fd0000"/><stop offset=".47" stop-color="#f50000"/><stop offset=".49" stop-color="#300000"/><stop offset=".53" stop-color="#2c0000"/><stop offset="1" stop-color="#2c0000"/></linearGradient><linearGradient id="ea8" gradientUnits="userSpaceOnUse" x1="695.3" x2="833.8" spreadMethod="reflect"><stop offset="0" stop-color="#8c0000"/><stop offset=".29" stop-color="#da0000"/><stop offset=".4" stop-color="#fe0000"/><stop offset=".45" stop-color="#ff0300"/><stop offset=".46" stop-color="#ff0100"/><stop offset=".47" stop-color="#f80000"/><stop offset=".49" stop-color="#300000"/><stop offset=".52" stop-color="#2c0000"/><stop offset="1" stop-color="#2c0000"/></linearGradient><linearGradient id="ea9" gradientUnits="userSpaceOnUse" x1="695.3" x2="833.8" spreadMethod="reflect"><stop offset="0" stop-color="#8d0000"/><stop offset=".29" stop-color="#dd0000"/><stop offset=".39" stop-color="#ff0000"/><stop offset=".45" stop-color="#ff0500"/><stop offset=".47" stop-color="#fc0000"/><stop offset=".49" stop-color="#300000"/><stop offset=".52" stop-color="#2c0000"/><stop offset="1" stop-color="#2c0000"/></linearGradient><linearGradient id="ea10" gradientUnits="userSpaceOnUse" x1="695.3" x2="833.8" spreadMethod="reflect"><stop offset="0" stop-color="#8f0000"/><stop offset=".29" stop-color="#e00000"/><stop offset=".38" stop-color="#ff0000"/><stop offset=".44" stop-color="#ff0900"/><stop offset=".47" stop-color="#ff0000"/><stop offset=".49" stop-color="#300000"/><stop offset=".52" stop-color="#2c0000"/><stop offset="1" stop-color="#2c0000"/></linearGradient><linearGradient id="ea11" gradientUnits="userSpaceOnUse" x1="695.3" x2="833.8" spreadMethod="reflect"><stop offset="0" stop-color="#900000"/><stop offset=".29" stop-color="#e30000"/><stop offset=".37" stop-color="#ff0000"/><stop offset=".44" stop-color="#ff0b00"/><stop offset=".47" stop-color="#ff0200"/><stop offset=".49" stop-color="#300000"/><stop offset=".52" stop-color="#2c0000"/><stop offset="1" stop-color="#2c0000"/></linearGradient><linearGradient id="ea12" gradientUnits="userSpaceOnUse" x1="695.3" x2="833.8" spreadMethod="reflect"><stop offset="0" stop-color="#920000"/><stop offset=".28" stop-color="#e20000"/><stop offset=".36" stop-color="#ff0000"/><stop offset=".44" stop-color="#ff0d00"/><stop offset=".47" stop-color="#ff0400"/><stop offset=".49" stop-color="#300000"/><stop offset=".52" stop-color="#2c0000"/><stop offset="1" stop-color="#2c0000"/></linearGradient><linearGradient id="ea13" gradientUnits="userSpaceOnUse" x1="695.3" x2="833.8" spreadMethod="reflect"><stop offset="0" stop-color="#940000"/><stop offset=".28" stop-color="#e50000"/><stop offset=".35" stop-color="#ff0000"/><stop offset=".44" stop-color="#ff1000"/><stop offset=".47" stop-color="#ff0600"/><stop offset=".48" stop-color="#9b0000"/><stop offset=".49" stop-color="#300000"/><stop offset=".52" stop-color="#2c0000"/><stop offset="1" stop-color="#2c0000"/></linearGradient><linearGradient id="ea14" gradientUnits="userSpaceOnUse" x1="695.3" x2="833.8" spreadMethod="reflect"><stop offset="0" stop-color="#950000"/><stop offset=".28" stop-color="#e80000"/><stop offset=".35" stop-color="#ff0200"/><stop offset=".44" stop-color="#ff1200"/><stop offset=".47" stop-color="#ff0800"/><stop offset=".48" stop-color="#9d0000"/><stop offset=".49" stop-color="#300000"/><stop offset=".52" stop-color="#2c0000"/><stop offset="1" stop-color="#2c0000"/></linearGradient><linearGradient id="ea15" gradientUnits="userSpaceOnUse" x1="695.3" x2="833.8" spreadMethod="reflect"><stop offset="0" stop-color="#970000"/><stop offset=".28" stop-color="#eb0000"/><stop offset=".34" stop-color="#ff0200"/><stop offset=".44" stop-color="#ff1400"/><stop offset=".47" stop-color="#ff0a00"/><stop offset=".48" stop-color="#9f0000"/><stop offset=".49" stop-color="#310000"/><stop offset=".51" stop-color="#2c0000"/><stop offset="1" stop-color="#2c0000"/></linearGradient><linearGradient id="ea16" gradientUnits="userSpaceOnUse" x1="695.3" x2="833.8" spreadMethod="reflect"><stop offset="0" stop-color="#990000"/><stop offset=".28" stop-color="#ee0000"/><stop offset=".33" stop-color="#ff0100"/><stop offset=".44" stop-color="#ff1600"/><stop offset=".47" stop-color="#ff0d00"/><stop offset=".48" stop-color="#a00000"/><stop offset=".49" stop-color="#310000"/><stop offset=".51" stop-color="#2c0000"/><stop offset="1" stop-color="#2c0000"/></linearGradient><linearGradient id="ea17" gradientUnits="userSpaceOnUse" x1="695.3" x2="833.8" spreadMethod="reflect"><stop offset="0" stop-color="#9a0000"/><stop offset=".28" stop-color="#f10000"/><stop offset=".32" stop-color="#ff0100"/><stop offset=".44" stop-color="#ff1900"/><stop offset=".47" stop-color="#ff0f00"/><stop offset=".48" stop-color="#a20000"/><stop offset=".49" stop-color="#310000"/><stop offset=".51" stop-color="#2c0000"/><stop offset="1" stop-color="#2c0000"/></linearGradient><linearGradient id="ea18" gradientUnits="userSpaceOnUse" x1="695.3" x2="833.8" spreadMethod="reflect"><stop offset="0" stop-color="#9c0000"/><stop offset=".28" stop-color="#f30000"/><stop offset=".32" stop-color="#ff0200"/><stop offset=".44" stop-color="#ff1b00"/><stop offset=".47" stop-color="#ff1000"/><stop offset=".48" stop-color="#a30000"/><stop offset=".49" stop-color="#310000"/><stop offset=".51" stop-color="#2c0000"/><stop offset="1" stop-color="#2c0000"/></linearGradient><linearGradient id="ea19" gradientUnits="userSpaceOnUse" x1="695.3" x2="833.8" spreadMethod="reflect"><stop offset="0" stop-color="#9d0000"/><stop offset=".28" stop-color="#f60000"/><stop offset=".31" stop-color="#ff0200"/><stop offset=".44" stop-color="#ff1c00"/><stop offset=".47" stop-color="#ff1200"/><stop offset=".48" stop-color="#a50000"/><stop offset=".49" stop-color="#310000"/><stop offset=".51" stop-color="#2c0000"/><stop offset="1" stop-color="#2c0000"/></linearGradient><linearGradient id="ea20" gradientUnits="userSpaceOnUse" x1="695.3" x2="833.8" spreadMethod="reflect"><stop offset="0" stop-color="#9e0000"/><stop offset=".28" stop-color="#f80000"/><stop offset=".31" stop-color="#ff0300"/><stop offset=".44" stop-color="#ff1e00"/><stop offset=".47" stop-color="#ff1400"/><stop offset=".48" stop-color="#a60000"/><stop offset=".49" stop-color="#310000"/><stop offset=".51" stop-color="#2c0000"/><stop offset="1" stop-color="#2c0000"/></linearGradient><linearGradient id="ea21" gradientUnits="userSpaceOnUse" x1="695.3" x2="833.8" spreadMethod="reflect"><stop offset="0" stop-color="#9f0000"/><stop offset=".28" stop-color="#fa0000"/><stop offset=".32" stop-color="#ff0700"/><stop offset=".44" stop-color="#ff2000"/><stop offset=".47" stop-color="#ff1500"/><stop offset=".48" stop-color="#a70000"/><stop offset=".49" stop-color="#310000"/><stop offset=".51" stop-color="#2c0000"/><stop offset="1" stop-color="#2c0000"/></linearGradient><linearGradient id="ea22" gradientUnits="userSpaceOnUse" x1="695.3" x2="833.8" spreadMethod="reflect"><stop offset="0" stop-color="#a00000"/><stop offset=".29" stop-color="#ff0000"/><stop offset=".43" stop-color="#ff1f00"/><stop offset=".46" stop-color="#ff1c00"/><stop offset=".47" stop-color="#ff1600"/><stop offset=".48" stop-color="#a80000"/><stop offset=".49" stop-color="#310000"/><stop offset=".51" stop-color="#2c0000"/><stop offset="1" stop-color="#2c0000"/></linearGradient><linearGradient id="ea23" gradientUnits="userSpaceOnUse" x1="695.3" x2="833.8" spreadMethod="reflect"><stop offset="0" stop-color="#a10000"/><stop offset=".29" stop-color="#ff0100"/><stop offset=".43" stop-color="#ff2000"/><stop offset=".46" stop-color="#ff1d00"/><stop offset=".47" stop-color="#ff1700"/><stop offset=".48" stop-color="#a90000"/><stop offset=".49" stop-color="#310000"/><stop offset=".51" stop-color="#2c0000"/><stop offset="1" stop-color="#2c0000"/></linearGradient><linearGradient id="ea24" gradientUnits="userSpaceOnUse" x1="695.3" x2="833.8" spreadMethod="reflect"><stop offset="0" stop-color="#a20000"/><stop offset=".29" stop-color="#ff0200"/><stop offset=".43" stop-color="#ff2100"/><stop offset=".46" stop-color="#ff1e00"/><stop offset=".47" stop-color="#ff1800"/><stop offset=".48" stop-color="#aa0000"/><stop offset=".49" stop-color="#310000"/><stop offset=".51" stop-color="#2c0000"/><stop offset="1" stop-color="#2c0000"/></linearGradient><linearGradient id="ea25" gradientUnits="userSpaceOnUse" x1="695.3" x2="833.8" spreadMethod="reflect"><stop offset="0" stop-color="#a20000"/><stop offset=".29" stop-color="#ff0200"/><stop offset=".43" stop-color="#ff2200"/><stop offset=".46" stop-color="#ff1e00"/><stop offset=".47" stop-color="#ff1900"/><stop offset=".48" stop-color="#aa0000"/><stop offset=".49" stop-color="#310000"/><stop offset=".51" stop-color="#2c0000"/><stop offset="1" stop-color="#2c0000"/></linearGradient><linearGradient id="ea26" gradientUnits="userSpaceOnUse" x1="695.3" x2="833.8" spreadMethod="reflect"><stop offset="0" stop-color="#a20000"/><stop offset=".28" stop-color="#ff0000"/><stop offset=".43" stop-color="#ff2200"/><stop offset=".46" stop-color="#ff1f00"/><stop offset=".47" stop-color="#ff1900"/><stop offset=".48" stop-color="#ab0000"/><stop offset=".49" stop-color="#310000"/><stop offset=".51" stop-color="#2c0000"/><stop offset="1" stop-color="#2c0000"/></linearGradient><linearGradient id="ea27" gradientUnits="userSpaceOnUse" x1="695.3" x2="833.8" spreadMethod="reflect"><stop offset="0" stop-color="#a20000"/><stop offset=".28" stop-color="#ff0000"/><stop offset=".43" stop-color="#ff2200"/><stop offset=".46" stop-color="#ff1f00"/><stop offset=".47" stop-color="#ff1900"/><stop offset=".48" stop-color="#ac0000"/><stop offset=".49" stop-color="#330000"/><stop offset=".51" stop-color="#2e0000"/><stop offset="1" stop-color="#2e0000"/></linearGradient><linearGradient id="ea28" gradientUnits="userSpaceOnUse" x1="695.3" x2="833.8" spreadMethod="reflect"><stop offset="0" stop-color="#a20000"/><stop offset=".28" stop-color="#ff0000"/><stop offset=".43" stop-color="#ff2200"/><stop offset=".46" stop-color="#ff1f00"/><stop offset=".47" stop-color="#ff1b00"/><stop offset=".48" stop-color="#ff0100"/><stop offset=".49" stop-color="#d90000"/><stop offset="1" stop-color="#d70000"/></linearGradient><linearGradient id="ea29" gradientUnits="userSpaceOnUse" x1="695.3" x2="833.8" spreadMethod="reflect"><stop offset="0" stop-color="#a20000"/><stop offset=".28" stop-color="#ff0000"/><stop offset=".43" stop-color="#ff2200"/><stop offset=".46" stop-color="#ff1f00"/><stop offset=".5" stop-color="#ff1900"/><stop offset="1" stop-color="#ff1900"/></linearGradient><linearGradient id="ea30" gradientUnits="userSpaceOnUse" x1="695.3" x2="833.8" spreadMethod="reflect"><stop offset="0" stop-color="#960000"/><stop offset=".13" stop-color="#ca0000"/><stop offset=".21" stop-color="#ff0100"/><stop offset=".31" stop-color="#ff2e00"/><stop offset=".34" stop-color="#ff4100"/><stop offset=".4" stop-color="#ff7d00"/><stop offset=".43" stop-color="#ffad00"/><stop offset=".46" stop-color="#ffdf00"/><stop offset=".47" stop-color="#ffe900"/><stop offset=".49" stop-color="#ffdd00"/><stop offset=".52" stop-color="#ffbe00"/><stop offset=".55" stop-color="#ffb300"/><stop offset="1" stop-color="#ffb200"/></linearGradient><linearGradient id="ea31" gradientUnits="userSpaceOnUse" x1="695.3" x2="833.8" spreadMethod="reflect"><stop offset="0" stop-color="#960000"/><stop offset=".13" stop-color="#ca0000"/><stop offset=".21" stop-color="#ff0100"/><stop offset=".31" stop-color="#ff2e00"/><stop offset=".34" stop-color="#ff4100"/><stop offset=".4" stop-color="#ff7d00"/><stop offset=".42" stop-color="#ff9b00"/><stop offset=".46" stop-color="#ffe400"/><stop offset=".47" stop-color="#ffee00"/><stop offset=".49" stop-color="#ffe100"/><stop offset=".52" stop-color="#ffbf00"/><stop offset=".55" stop-color="#ffb400"/><stop offset="1" stop-color="#ffb200"/></linearGradient><linearGradient id="ea32" gradientUnits="userSpaceOnUse" x1="695.3" x2="833.8" spreadMethod="reflect"><stop offset="0" stop-color="#960000"/><stop offset=".13" stop-color="#ca0000"/><stop offset=".21" stop-color="#ff0100"/><stop offset=".31" stop-color="#ff2e00"/><stop offset=".34" stop-color="#ff4100"/><stop offset=".4" stop-color="#ff7d00"/><stop offset=".42" stop-color="#ff9c00"/><stop offset=".46" stop-color="#ffe600"/><stop offset=".47" stop-color="#fff000"/><stop offset=".48" stop-color="#ffec00"/><stop offset=".52" stop-color="#ffbf00"/><stop offset=".55" stop-color="#ffb400"/><stop offset="1" stop-color="#ffb200"/></linearGradient><linearGradient id="ea33" gradientUnits="userSpaceOnUse" x1="695.3" x2="833.8" spreadMethod="reflect"><stop offset="0" stop-color="#960000"/><stop offset=".13" stop-color="#ca0000"/><stop offset=".21" stop-color="#ff0100"/><stop offset=".31" stop-color="#ff2e00"/><stop offset=".34" stop-color="#ff4100"/><stop offset=".4" stop-color="#ff7d00"/><stop offset=".42" stop-color="#ff9b00"/><stop offset=".46" stop-color="#ffe300"/><stop offset=".47" stop-color="#ffed00"/><stop offset=".49" stop-color="#ffe000"/><stop offset=".52" stop-color="#ffbf00"/><stop offset=".55" stop-color="#ffb400"/><stop offset="1" stop-color="#ffb200"/></linearGradient><linearGradient id="ea34" gradientUnits="userSpaceOnUse" x1="695.3" x2="833.8" spreadMethod="reflect"><stop offset="0" stop-color="#980000"/><stop offset=".13" stop-color="#cc0000"/><stop offset=".21" stop-color="#ff0200"/><stop offset=".31" stop-color="#ff2e00"/><stop offset=".34" stop-color="#ff4100"/><stop offset=".4" stop-color="#ff7d00"/><stop offset=".43" stop-color="#ffac00"/><stop offset=".46" stop-color="#ffdd00"/><stop offset=".47" stop-color="#ffe700"/><stop offset=".49" stop-color="#ffdb00"/><stop offset=".52" stop-color="#ffbd00"/><stop offset=".55" stop-color="#ffb300"/><stop offset="1" stop-color="#ffb200"/></linearGradient><linearGradient id="ea35" gradientUnits="userSpaceOnUse" x1="695.3" x2="833.8" spreadMethod="reflect"><stop offset="0" stop-color="#9a0000"/><stop offset=".13" stop-color="#ce0000"/><stop offset=".21" stop-color="#ff0200"/><stop offset=".3" stop-color="#ff2900"/><stop offset=".33" stop-color="#ff3800"/><stop offset=".4" stop-color="#ff7c00"/><stop offset=".46" stop-color="#ffd500"/><stop offset=".47" stop-color="#ffde00"/><stop offset=".49" stop-color="#ffd400"/><stop offset=".52" stop-color="#ffbc00"/><stop offset=".56" stop-color="#ffb300"/><stop offset="1" stop-color="#ffb200"/></linearGradient><linearGradient id="ea36" gradientUnits="userSpaceOnUse" x1="695.3" x2="833.8" spreadMethod="reflect"><stop offset="0" stop-color="#9d0000"/><stop offset=".14" stop-color="#d50000"/><stop offset=".2" stop-color="#fd0000"/><stop offset=".29" stop-color="#ff2400"/><stop offset=".33" stop-color="#ff3800"/><stop offset=".4" stop-color="#ff7c00"/><stop offset=".46" stop-color="#ffcc00"/><stop offset=".47" stop-color="#ffd400"/><stop offset=".5" stop-color="#ffc600"/><stop offset=".53" stop-color="#ffb600"/><stop offset=".81" stop-color="#ffb200"/><stop offset="1" stop-color="#ffb200"/></linearGradient><linearGradient id="ea37" gradientUnits="userSpaceOnUse" x1="695.3" x2="833.8" spreadMethod="reflect"><stop offset="0" stop-color="#a00000"/><stop offset=".14" stop-color="#d80000"/><stop offset=".2" stop-color="#fe0000"/><stop offset=".29" stop-color="#ff2400"/><stop offset=".33" stop-color="#ff3800"/><stop offset=".4" stop-color="#ff7c00"/><stop offset=".46" stop-color="#ffc300"/><stop offset=".47" stop-color="#ffcb00"/><stop offset=".54" stop-color="#ffb400"/><stop offset="1" stop-color="#ffb200"/></linearGradient><linearGradient id="ea38" gradientUnits="userSpaceOnUse" x1="695.3" x2="833.8" spreadMethod="reflect"><stop offset="0" stop-color="#a40000"/><stop offset=".15" stop-color="#df0000"/><stop offset=".2" stop-color="#ff0000"/><stop offset=".29" stop-color="#ff2400"/><stop offset=".33" stop-color="#ff3800"/><stop offset=".41" stop-color="#ff8600"/><stop offset=".45" stop-color="#ffb300"/><stop offset=".47" stop-color="#ffc300"/><stop offset=".55" stop-color="#ffb300"/><stop offset="1" stop-color="#ffb200"/></linearGradient><linearGradient id="ea39" gradientUnits="userSpaceOnUse" x1="695.3" x2="833.8" spreadMethod="reflect"><stop offset="0" stop-color="#a70000"/><stop offset=".15" stop-color="#e20000"/><stop offset=".2" stop-color="#ff0100"/><stop offset=".29" stop-color="#ff2400"/><stop offset=".33" stop-color="#ff3800"/><stop offset=".41" stop-color="#ff8600"/><stop offset=".44" stop-color="#ffa500"/><stop offset=".47" stop-color="#ffbd00"/><stop offset=".56" stop-color="#ffb300"/><stop offset="1" stop-color="#ffb200"/></linearGradient><linearGradient id="ea40" gradientUnits="userSpaceOnUse" x1="695.3" x2="833.8" spreadMethod="reflect"><stop offset="0" stop-color="#ab0000"/><stop offset=".16" stop-color="#ea0000"/><stop offset=".2" stop-color="#ff0100"/><stop offset=".29" stop-color="#ff2400"/><stop offset=".33" stop-color="#ff3800"/><stop offset=".42" stop-color="#ff9000"/><stop offset=".46" stop-color="#ffb200"/><stop offset=".47" stop-color="#ffb900"/><stop offset=".62" stop-color="#ffb300"/><stop offset="1" stop-color="#ffb200"/></linearGradient><linearGradient id="ea41" gradientUnits="userSpaceOnUse" x1="695.3" x2="833.8" spreadMethod="reflect"><stop offset="0" stop-color="#ae0000"/><stop offset=".16" stop-color="#ec0000"/><stop offset=".2" stop-color="#ff0200"/><stop offset=".29" stop-color="#ff2400"/><stop offset=".33" stop-color="#ff3800"/><stop offset=".42" stop-color="#ff8f00"/><stop offset=".46" stop-color="#ffaf00"/><stop offset=".47" stop-color="#ffb600"/><stop offset="1" stop-color="#ffb200"/></linearGradient><linearGradient id="ea42" gradientUnits="userSpaceOnUse" x1="695.3" x2="833.8" spreadMethod="reflect"><stop offset="0" stop-color="#b00000"/><stop offset=".16" stop-color="#ed0000"/><stop offset=".19" stop-color="#fe0000"/><stop offset=".28" stop-color="#ff1f00"/><stop offset=".33" stop-color="#ff3800"/><stop offset=".44" stop-color="#ffa000"/><stop offset=".47" stop-color="#ffb400"/><stop offset="1" stop-color="#ffb200"/></linearGradient><linearGradient id="ea43" gradientUnits="userSpaceOnUse" x1="695.3" x2="833.8" spreadMethod="reflect"><stop offset="0" stop-color="#b20000"/><stop offset=".17" stop-color="#f40000"/><stop offset=".19" stop-color="#ff0000"/><stop offset=".28" stop-color="#ff1f00"/><stop offset=".33" stop-color="#ff3800"/><stop offset=".44" stop-color="#ffa000"/><stop offset=".47" stop-color="#ffb300"/><stop offset="1" stop-color="#ffb200"/></linearGradient><linearGradient id="ea44" gradientUnits="userSpaceOnUse" x1="695.3" x2="833.8" spreadMethod="reflect"><stop offset="0" stop-color="#b30000"/><stop offset=".17" stop-color="#f40000"/><stop offset=".19" stop-color="#ff0000"/><stop offset=".28" stop-color="#ff1f00"/><stop offset=".33" stop-color="#ff3800"/><stop offset=".44" stop-color="#ffa000"/><stop offset=".47" stop-color="#ffb300"/><stop offset="1" stop-color="#ffb200"/></linearGradient><linearGradient id="ea45" gradientUnits="userSpaceOnUse" x1="695.3" x2="833.8" spreadMethod="reflect"><stop offset="0" stop-color="#b30000"/><stop offset=".17" stop-color="#f40000"/><stop offset=".19" stop-color="#ff0000"/><stop offset=".28" stop-color="#ff1f00"/><stop offset=".33" stop-color="#ff3800"/><stop offset=".44" stop-color="#ff9f00"/><stop offset=".47" stop-color="#ffb300"/><stop offset="1" stop-color="#ffb200"/></linearGradient><linearGradient id="ea46" gradientUnits="userSpaceOnUse" x1="695.3" x2="833.8" spreadMethod="reflect"><stop offset="0" stop-color="#b30000"/><stop offset=".17" stop-color="#f40000"/><stop offset=".19" stop-color="#ff0000"/><stop offset=".28" stop-color="#ff1f00"/><stop offset=".33" stop-color="#ff3800"/><stop offset=".43" stop-color="#ff9900"/><stop offset=".47" stop-color="#ffb300"/><stop offset="1" stop-color="#ffb200"/></linearGradient><linearGradient id="ea47" gradientUnits="userSpaceOnUse" x1="695.3" x2="833.8" spreadMethod="reflect"><stop offset="0" stop-color="#b30000"/><stop offset=".17" stop-color="#f40000"/><stop offset=".19" stop-color="#ff0000"/><stop offset=".28" stop-color="#ff1e00"/><stop offset=".33" stop-color="#ff3800"/><stop offset=".43" stop-color="#ff9800"/><stop offset=".47" stop-color="#ffb200"/><stop offset="1" stop-color="#ffb200"/></linearGradient><linearGradient id="ea48" gradientUnits="userSpaceOnUse" x1="695.3" x2="833.8" spreadMethod="reflect"><stop offset="0" stop-color="#af0000"/><stop offset=".17" stop-color="#ee0000"/><stop offset=".21" stop-color="#ff0200"/><stop offset=".29" stop-color="#ff1f00"/><stop offset=".33" stop-color="#ff3300"/><stop offset=".44" stop-color="#ff9700"/><stop offset=".47" stop-color="#ffa900"/><stop offset="1" stop-color="#ffa900"/></linearGradient><linearGradient id="ea49" gradientUnits="userSpaceOnUse" x1="695.3" x2="833.8" spreadMethod="reflect"><stop offset="0" stop-color="#a80000"/><stop offset=".17" stop-color="#e40000"/><stop offset=".23" stop-color="#ff0200"/><stop offset=".29" stop-color="#ff1700"/><stop offset=".33" stop-color="#ff2900"/><stop offset=".44" stop-color="#ff8800"/><stop offset=".47" stop-color="#ff9a00"/><stop offset="1" stop-color="#ff9a00"/></linearGradient><linearGradient id="ea50" gradientUnits="userSpaceOnUse" x1="695.3" x2="833.8" spreadMethod="reflect"><stop offset="0" stop-color="#990000"/><stop offset=".16" stop-color="#d40000"/><stop offset=".25" stop-color="#fe0000"/><stop offset=".32" stop-color="#ff1b00"/><stop offset=".38" stop-color="#ff4700"/><stop offset=".44" stop-color="#ff7900"/><stop offset=".47" stop-color="#ff8900"/><stop offset="1" stop-color="#ff8900"/></linearGradient><linearGradient id="ea51" gradientUnits="userSpaceOnUse" x1="695.3" x2="833.8" spreadMethod="reflect"><stop offset="0" stop-color="#410000"/><stop offset=".1" stop-color="#500000"/><stop offset=".18" stop-color="#6e0000"/><stop offset=".27" stop-color="#a60000"/><stop offset=".33" stop-color="#dd0000"/><stop offset=".35" stop-color="#f80000"/><stop offset=".36" stop-color="#ff0400"/><stop offset=".44" stop-color="#ff4900"/><stop offset=".47" stop-color="#ff5a00"/><stop offset="1" stop-color="#ff5c00"/></linearGradient><linearGradient id="ea52" gradientUnits="userSpaceOnUse" x1="695.3" x2="833.8" spreadMethod="reflect"><stop offset="0" stop-color="#2c0000"/><stop offset=".32" stop-color="#2f0000"/><stop offset=".41" stop-color="#480000"/><stop offset=".48" stop-color="#5c0000"/><stop offset="1" stop-color="#5d0000"/></linearGradient><linearGradient id="ea53" gradientUnits="userSpaceOnUse" x1="695.3" x2="833.8" spreadMethod="reflect"><stop offset="0" stop-color="#2c0000"/><stop offset="1" stop-color="#2c0000"/></linearGradient><filter id="eaf" x="-5%" y="-5%" width="110%" height="110%"><feGaussianBlur stdDeviation="1.4 1.4"/></filter><clipPath id="eac"><rect x="695.3" y="547.8" width="277.1" height="267.2"/></clipPath></defs>
<g clip-path="url(#eac)"><g filter="url(#eaf)"><rect x="685.3" y="541.5" width="297.1" height="3.6" fill="url(#ea0)"/><rect x="685.3" y="544.5" width="297.1" height="3.6" fill="url(#ea0)"/><rect x="685.3" y="547.5" width="297.1" height="3.6" fill="url(#ea0)"/><rect x="685.3" y="550.5" width="297.1" height="3.6" fill="url(#ea1)"/><rect x="685.3" y="553.5" width="297.1" height="3.6" fill="url(#ea2)"/><rect x="685.3" y="556.51" width="297.1" height="3.6" fill="url(#ea3)"/><rect x="685.3" y="559.51" width="297.1" height="3.6" fill="url(#ea4)"/><rect x="685.3" y="562.51" width="297.1" height="3.6" fill="url(#ea5)"/><rect x="685.3" y="565.51" width="297.1" height="3.6" fill="url(#ea6)"/><rect x="685.3" y="568.52" width="297.1" height="3.6" fill="url(#ea7)"/><rect x="685.3" y="571.52" width="297.1" height="3.6" fill="url(#ea8)"/><rect x="685.3" y="574.52" width="297.1" height="3.6" fill="url(#ea9)"/><rect x="685.3" y="577.52" width="297.1" height="3.6" fill="url(#ea10)"/><rect x="685.3" y="580.52" width="297.1" height="3.6" fill="url(#ea11)"/><rect x="685.3" y="583.53" width="297.1" height="3.6" fill="url(#ea12)"/><rect x="685.3" y="586.53" width="297.1" height="3.6" fill="url(#ea13)"/><rect x="685.3" y="589.53" width="297.1" height="3.6" fill="url(#ea14)"/><rect x="685.3" y="592.53" width="297.1" height="3.6" fill="url(#ea15)"/><rect x="685.3" y="595.54" width="297.1" height="3.6" fill="url(#ea16)"/><rect x="685.3" y="598.54" width="297.1" height="3.6" fill="url(#ea17)"/><rect x="685.3" y="601.54" width="297.1" height="3.6" fill="url(#ea18)"/><rect x="685.3" y="604.54" width="297.1" height="3.6" fill="url(#ea19)"/><rect x="685.3" y="607.54" width="297.1" height="3.6" fill="url(#ea20)"/><rect x="685.3" y="610.55" width="297.1" height="3.6" fill="url(#ea21)"/><rect x="685.3" y="613.55" width="297.1" height="3.6" fill="url(#ea22)"/><rect x="685.3" y="616.55" width="297.1" height="3.6" fill="url(#ea23)"/><rect x="685.3" y="619.55" width="297.1" height="3.6" fill="url(#ea24)"/><rect x="685.3" y="622.56" width="297.1" height="3.6" fill="url(#ea25)"/><rect x="685.3" y="625.56" width="297.1" height="3.6" fill="url(#ea26)"/><rect x="685.3" y="628.56" width="297.1" height="3.6" fill="url(#ea26)"/><rect x="685.3" y="631.56" width="297.1" height="3.6" fill="url(#ea26)"/><rect x="685.3" y="634.57" width="297.1" height="3.6" fill="url(#ea26)"/><rect x="685.3" y="637.57" width="297.1" height="3.6" fill="url(#ea26)"/><rect x="685.3" y="640.57" width="297.1" height="3.6" fill="url(#ea26)"/><rect x="685.3" y="643.57" width="297.1" height="3.6" fill="url(#ea27)"/><rect x="685.3" y="646.57" width="297.1" height="3.6" fill="url(#ea28)"/><rect x="685.3" y="649.58" width="297.1" height="3.6" fill="url(#ea29)"/><rect x="685.3" y="652.58" width="297.1" height="3.6" fill="url(#ea30)"/><rect x="685.3" y="655.58" width="297.1" height="3.6" fill="url(#ea31)"/><rect x="685.3" y="658.58" width="297.1" height="3.6" fill="url(#ea32)"/><rect x="685.3" y="661.59" width="297.1" height="3.6" fill="url(#ea33)"/><rect x="685.3" y="664.59" width="297.1" height="3.6" fill="url(#ea34)"/><rect x="685.3" y="667.59" width="297.1" height="3.6" fill="url(#ea35)"/><rect x="685.3" y="670.59" width="297.1" height="3.6" fill="url(#ea36)"/><rect x="685.3" y="673.59" width="297.1" height="3.6" fill="url(#ea37)"/><rect x="685.3" y="676.6" width="297.1" height="3.6" fill="url(#ea38)"/><rect x="685.3" y="679.6" width="297.1" height="3.6" fill="url(#ea39)"/><rect x="685.3" y="682.6" width="297.1" height="3.6" fill="url(#ea40)"/><rect x="685.3" y="685.6" width="297.1" height="3.6" fill="url(#ea41)"/><rect x="685.3" y="688.61" width="297.1" height="3.6" fill="url(#ea42)"/><rect x="685.3" y="691.61" width="297.1" height="3.6" fill="url(#ea43)"/><rect x="685.3" y="694.61" width="297.1" height="3.6" fill="url(#ea44)"/><rect x="685.3" y="697.61" width="297.1" height="3.6" fill="url(#ea45)"/><rect x="685.3" y="700.61" width="297.1" height="3.6" fill="url(#ea46)"/><rect x="685.3" y="703.62" width="297.1" height="3.6" fill="url(#ea46)"/><rect x="685.3" y="706.62" width="297.1" height="3.6" fill="url(#ea46)"/><rect x="685.3" y="709.62" width="297.1" height="3.6" fill="url(#ea46)"/><rect x="685.3" y="712.62" width="297.1" height="3.6" fill="url(#ea46)"/><rect x="685.3" y="715.63" width="297.1" height="3.6" fill="url(#ea46)"/><rect x="685.3" y="718.63" width="297.1" height="3.6" fill="url(#ea46)"/><rect x="685.3" y="721.63" width="297.1" height="3.6" fill="url(#ea46)"/><rect x="685.3" y="724.63" width="297.1" height="3.6" fill="url(#ea46)"/><rect x="685.3" y="727.63" width="297.1" height="3.6" fill="url(#ea46)"/><rect x="685.3" y="730.64" width="297.1" height="3.6" fill="url(#ea46)"/><rect x="685.3" y="733.64" width="297.1" height="3.6" fill="url(#ea46)"/><rect x="685.3" y="736.64" width="297.1" height="3.6" fill="url(#ea47)"/><rect x="685.3" y="739.64" width="297.1" height="3.6" fill="url(#ea48)"/><rect x="685.3" y="742.65" width="297.1" height="3.6" fill="url(#ea49)"/><rect x="685.3" y="745.65" width="297.1" height="3.6" fill="url(#ea50)"/><rect x="685.3" y="748.65" width="297.1" height="3.6" fill="url(#ea51)"/><rect x="685.3" y="751.65" width="297.1" height="3.6" fill="url(#ea52)"/><rect x="685.3" y="754.66" width="297.1" height="3.6" fill="url(#ea53)"/><rect x="685.3" y="757.66" width="297.1" height="3.6" fill="url(#ea53)"/><rect x="685.3" y="760.66" width="297.1" height="3.6" fill="url(#ea53)"/><rect x="685.3" y="763.66" width="297.1" height="3.6" fill="url(#ea53)"/><rect x="685.3" y="766.66" width="297.1" height="3.6" fill="url(#ea53)"/><rect x="685.3" y="769.67" width="297.1" height="3.6" fill="url(#ea53)"/><rect x="685.3" y="772.67" width="297.1" height="3.6" fill="url(#ea53)"/><rect x="685.3" y="775.67" width="297.1" height="3.6" fill="url(#ea53)"/><rect x="685.3" y="778.67" width="297.1" height="3.6" fill="url(#ea53)"/><rect x="685.3" y="781.68" width="297.1" height="3.6" fill="url(#ea53)"/><rect x="685.3" y="784.68" width="297.1" height="3.6" fill="url(#ea53)"/><rect x="685.3" y="787.68" width="297.1" height="3.6" fill="url(#ea53)"/><rect x="685.3" y="790.68" width="297.1" height="3.6" fill="url(#ea53)"/><rect x="685.3" y="793.68" width="297.1" height="3.6" fill="url(#ea53)"/><rect x="685.3" y="796.69" width="297.1" height="3.6" fill="url(#ea53)"/><rect x="685.3" y="799.69" width="297.1" height="3.6" fill="url(#ea53)"/><rect x="685.3" y="802.69" width="297.1" height="3.6" fill="url(#ea53)"/><rect x="685.3" y="805.69" width="297.1" height="3.6" fill="url(#ea53)"/><rect x="685.3" y="808.7" width="297.1" height="3.6" fill="url(#ea53)"/><rect x="685.3" y="811.7" width="297.1" height="3.6" fill="url(#ea53)"/><rect x="685.3" y="814.7" width="297.1" height="3.6" fill="url(#ea53)"/><rect x="685.3" y="817.7" width="297.1" height="3.6" fill="url(#ea53)"/></g></g>
<path d="M695.3 815L695.3 819.5M729.94 815L729.94 819.5M764.57 815L764.57 819.5M799.21 815L799.21 819.5M833.85 815L833.85 819.5M868.49 815L868.49 819.5M903.12 815L903.12 819.5M937.76 815L937.76 819.5M972.4 815L972.4 819.5M712.62 815L712.62 817.5M747.26 815L747.26 817.5M781.89 815L781.89 817.5M816.53 815L816.53 817.5M851.17 815L851.17 817.5M885.81 815L885.81 817.5M920.44 815L920.44 817.5M955.08 815L955.08 817.5M690.8 788.28L695.3 788.28M690.8 734.84L695.3 734.84M690.8 681.4L695.3 681.4M690.8 627.96L695.3 627.96M690.8 574.52L695.3 574.52M692.8 815L695.3 815M692.8 761.56L695.3 761.56M692.8 708.12L695.3 708.12M692.8 654.68L695.3 654.68M692.8 601.24L695.3 601.24M692.8 547.8L695.3 547.8" stroke="#111" stroke-width="1.1" fill="none"/>
<path d="M695.3 547.8L695.3 815.5" stroke="#111" stroke-width="1.1"/>
<path d="M694.8 815L972.4 815" stroke="#111" stroke-width="1.1"/>
<text x="695.3" y="838.2" font-size="16.6" text-anchor="middle">-100</text>
<text x="729.9" y="838.2" font-size="16.6" text-anchor="middle">-75</text>
<text x="764.6" y="838.2" font-size="16.6" text-anchor="middle">-50</text>
<text x="799.2" y="838.2" font-size="16.6" text-anchor="middle">-25</text>
<text x="833.8" y="838.2" font-size="16.6" text-anchor="middle">0</text>
<text x="868.5" y="838.2" font-size="16.6" text-anchor="middle">25</text>
<text x="903.1" y="838.2" font-size="16.6" text-anchor="middle">50</text>
<text x="937.8" y="838.2" font-size="16.6" text-anchor="middle">75</text>
<text x="972.4" y="838.2" font-size="16.6" text-anchor="middle">100</text>
<text x="686.8" y="794.2" font-size="16.6" text-anchor="end">-20</text>
<text x="686.8" y="740.7" font-size="16.6" text-anchor="end">-10</text>
<text x="686.8" y="687.3" font-size="16.6" text-anchor="end">0</text>
<text x="686.8" y="633.9" font-size="16.6" text-anchor="end">10</text>
<text x="686.8" y="580.4" font-size="16.6" text-anchor="end">20</text>
<text x="832.3" y="869" font-size="22" text-anchor="middle">y (nm)</text>
<text font-size="22" text-anchor="middle" transform="translate(648.3 681.9) rotate(-90)">z (nm)</text>
<text x="751" y="520" font-size="28" textLength="179" lengthAdjust="spacingAndGlyphs">8.96 μm, 0 eV</text>
<defs><linearGradient id="eb0" gradientUnits="userSpaceOnUse" x1="1054.8" x2="1193" spreadMethod="reflect"><stop offset="0" stop-color="#ff0100"/><stop offset=".38" stop-color="#ff0800"/><stop offset=".44" stop-color="#ff0500"/><stop offset=".45" stop-color="#ff0000"/><stop offset=".46" stop-color="#f80000"/><stop offset=".47" stop-color="#c90000"/><stop offset=".48" stop-color="#540000"/><stop offset=".49" stop-color="#2c0000"/><stop offset="1" stop-color="#2c0000"/></linearGradient><linearGradient id="eb1" gradientUnits="userSpaceOnUse" x1="1054.8" x2="1193" spreadMethod="reflect"><stop offset="0" stop-color="#ff0100"/><stop offset=".38" stop-color="#ff0900"/><stop offset=".44" stop-color="#ff0500"/><stop offset=".45" stop-color="#ff0100"/><stop offset=".46" stop-color="#f90000"/><stop offset=".47" stop-color="#c90000"/><stop offset=".48" stop-color="#540000"/><stop offset=".49" stop-color="#2c0000"/><stop offset="1" stop-color="#2c0000"/></linearGradient><linearGradient id="eb2" gradientUnits="userSpaceOnUse" x1="1054.8" x2="1193" spreadMethod="reflect"><stop offset="0" stop-color="#ff0200"/><stop offset=".38" stop-color="#ff0900"/><stop offset=".44" stop-color="#ff0500"/><stop offset=".46" stop-color="#fa0000"/><stop offset=".47" stop-color="#ca0000"/><stop offset=".48" stop-color="#540000"/><stop offset=".49" stop-color="#2c0000"/><stop offset="1" stop-color="#2c0000"/></linearGradient><linearGradient id="eb3" gradientUnits="userSpaceOnUse" x1="1054.8" x2="1193" spreadMethod="reflect"><stop offset="0" stop-color="#ff0200"/><stop offset=".38" stop-color="#ff0a00"/><stop offset=".44" stop-color="#ff0600"/><stop offset=".46" stop-color="#fb0000"/><stop offset=".47" stop-color="#cb0000"/><stop offset=".48" stop-color="#540000"/><stop offset=".49" stop-color="#2c0000"/><stop offset="1" stop-color="#2c0000"/></linearGradient><linearGradient id="eb4" gradientUnits="userSpaceOnUse" x1="1054.8" x2="1193" spreadMethod="reflect"><stop offset="0" stop-color="#ff0400"/><stop offset=".38" stop-color="#ff0b00"/><stop offset=".44" stop-color="#ff0700"/><stop offset=".46" stop-color="#fd0000"/><stop offset=".47" stop-color="#cc0000"/><stop offset=".48" stop-color="#550000"/><stop offset=".49" stop-color="#2c0000"/><stop offset="1" stop-color="#2c0000"/></linearGradient><linearGradient id="eb5" gradientUnits="userSpaceOnUse" x1="1054.8" x2="1193" spreadMethod="reflect"><stop offset="0" stop-color="#ff0500"/><stop offset=".38" stop-color="#ff0d00"/><stop offset=".44" stop-color="#ff0900"/><stop offset=".46" stop-color="#ff0000"/><stop offset=".47" stop-color="#cd0000"/><stop offset=".48" stop-color="#550000"/><stop offset=".49" stop-color="#2c0000"/><stop offset="1" stop-color="#2c0000"/></linearGradient><linearGradient id="eb6" gradientUnits="userSpaceOnUse" x1="1054.8" x2="1193" spreadMethod="reflect"><stop offset="0" stop-color="#ff0600"/><stop offset=".38" stop-color="#ff0e00"/><stop offset=".44" stop-color="#ff0a00"/><stop offset=".46" stop-color="#ff0100"/><stop offset=".47" stop-color="#cf0000"/><stop offset=".48" stop-color="#550000"/><stop offset=".49" stop-color="#2c0000"/><stop offset="1" stop-color="#2c0000"/></linearGradient><linearGradient id="eb7" gradientUnits="userSpaceOnUse" x1="1054.8" x2="1193" spreadMethod="reflect"><stop offset="0" stop-color="#ff0800"/><stop offset=".38" stop-color="#ff1000"/><stop offset=".44" stop-color="#ff0c00"/><stop offset=".46" stop-color="#ff0300"/><stop offset=".47" stop-color="#d10000"/><stop offset=".48" stop-color="#560000"/><stop offset=".49" stop-color="#2c0000"/><stop offset="1" stop-color="#2c0000"/></linearGradient><linearGradient id="eb8" gradientUnits="userSpaceOnUse" x1="1054.8" x2="1193" spreadMethod="reflect"><stop offset="0" stop-color="#ff0900"/><stop offset=".38" stop-color="#ff1200"/><stop offset=".44" stop-color="#ff0e00"/><stop offset=".46" stop-color="#ff0400"/><stop offset=".47" stop-color="#d30000"/><stop offset=".48" stop-color="#560000"/><stop offset=".49" stop-color="#2c0000"/><stop offset="1" stop-color="#2c0000"/></linearGradient><linearGradient id="eb9" gradientUnits="userSpaceOnUse" x1="1054.8" x2="1193" spreadMethod="reflect"><stop offset="0" stop-color="#ff0b00"/><stop offset=".38" stop-color="#ff1400"/><stop offset=".44" stop-color="#ff0f00"/><stop offset=".46" stop-color="#ff0600"/><stop offset=".47" stop-color="#d60000"/><stop offset=".48" stop-color="#570000"/><stop offset=".49" stop-color="#2c0000"/><stop offset="1" stop-color="#2c0000"/></linearGradient><linearGradient id="eb10" gradientUnits="userSpaceOnUse" x1="1054.8" x2="1193" spreadMethod="reflect"><stop offset="0" stop-color="#ff0d00"/><stop offset=".38" stop-color="#ff1600"/><stop offset=".44" stop-color="#ff1100"/><stop offset=".46" stop-color="#ff0800"/><stop offset=".47" stop-color="#d80000"/><stop offset=".48" stop-color="#580000"/><stop offset=".49" stop-color="#2c0000"/><stop offset="1" stop-color="#2c0000"/></linearGradient><linearGradient id="eb11" gradientUnits="userSpaceOnUse" x1="1054.8" x2="1193" spreadMethod="reflect"><stop offset="0" stop-color="#ff0f00"/><stop offset=".38" stop-color="#ff1800"/><stop offset=".44" stop-color="#ff1400"/><stop offset=".46" stop-color="#ff0a00"/><stop offset=".47" stop-color="#da0000"/><stop offset=".48" stop-color="#580000"/><stop offset=".49" stop-color="#2c0000"/><stop offset="1" stop-color="#2c0000"/></linearGradient><linearGradient id="eb12" gradientUnits="userSpaceOnUse" x1="1054.8" x2="1193" spreadMethod="reflect"><stop offset="0" stop-color="#ff1200"/><stop offset=".38" stop-color="#ff1a00"/><stop offset=".44" stop-color="#ff1600"/><stop offset=".46" stop-color="#ff0c00"/><stop offset=".47" stop-color="#dd0000"/><stop offset=".48" stop-color="#590000"/><stop offset=".49" stop-color="#2c0000"/><stop offset="1" stop-color="#2c0000"/></linearGradient><linearGradient id="eb13" gradientUnits="userSpaceOnUse" x1="1054.8" x2="1193" spreadMethod="reflect"><stop offset="0" stop-color="#ff1400"/><stop offset=".38" stop-color="#ff1c00"/><stop offset=".44" stop-color="#ff1800"/><stop offset=".46" stop-color="#ff0e00"/><stop offset=".47" stop-color="#e00000"/><stop offset=".48" stop-color="#5a0000"/><stop offset=".49" stop-color="#2c0000"/><stop offset="1" stop-color="#2c0000"/></linearGradient><linearGradient id="eb14" gradientUnits="userSpaceOnUse" x1="1054.8" x2="1193" spreadMethod="reflect"><stop offset="0" stop-color="#ff1600"/><stop offset=".38" stop-color="#ff1f00"/><stop offset=".44" stop-color="#ff1a00"/><stop offset=".46" stop-color="#ff1000"/><stop offset=".47" stop-color="#e20000"/><stop offset=".48" stop-color="#5a0000"/><stop offset=".49" stop-color="#2c0000"/><stop offset="1" stop-color="#2c0000"/></linearGradient><linearGradient id="eb15" gradientUnits="userSpaceOnUse" x1="1054.8" x2="1193" spreadMethod="reflect"><stop offset="0" stop-color="#ff1800"/><stop offset=".38" stop-color="#ff2100"/><stop offset=".44" stop-color="#ff1d00"/><stop offset=".46" stop-color="#ff1200"/><stop offset=".47" stop-color="#e50000"/><stop offset=".48" stop-color="#5b0000"/><stop offset=".49" stop-color="#2c0000"/><stop offset="1" stop-color="#2c0000"/></linearGradient><linearGradient id="eb16" gradientUnits="userSpaceOnUse" x1="1054.8" x2="1193" spreadMethod="reflect"><stop offset="0" stop-color="#ff1a00"/><stop offset=".38" stop-color="#ff2300"/><stop offset=".44" stop-color="#ff1f00"/><stop offset=".46" stop-color="#ff1500"/><stop offset=".47" stop-color="#e80000"/><stop offset=".48" stop-color="#5c0000"/><stop offset=".49" stop-color="#2c0000"/><stop offset="1" stop-color="#2c0000"/></linearGradient><linearGradient id="eb17" gradientUnits="userSpaceOnUse" x1="1054.8" x2="1193" spreadMethod="reflect"><stop offset="0" stop-color="#ff1d00"/><stop offset=".37" stop-color="#ff2700"/><stop offset=".44" stop-color="#ff2100"/><stop offset=".46" stop-color="#ff1700"/><stop offset=".47" stop-color="#eb0000"/><stop offset=".48" stop-color="#5c0000"/><stop offset=".49" stop-color="#2c0000"/><stop offset="1" stop-color="#2c0000"/></linearGradient><linearGradient id="eb18" gradientUnits="userSpaceOnUse" x1="1054.8" x2="1193" spreadMethod="reflect"><stop offset="0" stop-color="#ff1f00"/><stop offset=".37" stop-color="#ff2900"/><stop offset=".44" stop-color="#ff2300"/><stop offset=".46" stop-color="#ff1900"/><stop offset=".47" stop-color="#ed0000"/><stop offset=".48" stop-color="#5d0000"/><stop offset=".49" stop-color="#2c0000"/><stop offset="1" stop-color="#2c0000"/></linearGradient><linearGradient id="eb19" gradientUnits="userSpaceOnUse" x1="1054.8" x2="1193" spreadMethod="reflect"><stop offset="0" stop-color="#ff2100"/><stop offset=".37" stop-color="#ff2b00"/><stop offset=".44" stop-color="#ff2600"/><stop offset=".46" stop-color="#ff1b00"/><stop offset=".47" stop-color="#f00000"/><stop offset=".48" stop-color="#5e0000"/><stop offset=".49" stop-color="#2c0000"/><stop offset="1" stop-color="#2c0000"/></linearGradient><linearGradient id="eb20" gradientUnits="userSpaceOnUse" x1="1054.8" x2="1193" spreadMethod="reflect"><stop offset="0" stop-color="#ff2300"/><stop offset=".37" stop-color="#ff2d00"/><stop offset=".44" stop-color="#ff2800"/><stop offset=".46" stop-color="#ff1d00"/><stop offset=".47" stop-color="#f20000"/><stop offset=".48" stop-color="#5e0000"/><stop offset=".49" stop-color="#2c0000"/><stop offset="1" stop-color="#2c0000"/></linearGradient><linearGradient id="eb21" gradientUnits="userSpaceOnUse" x1="1054.8" x2="1193" spreadMethod="reflect"><stop offset="0" stop-color="#ff2500"/><stop offset=".37" stop-color="#ff2f00"/><stop offset=".44" stop-color="#ff2a00"/><stop offset=".46" stop-color="#ff1f00"/><stop offset=".47" stop-color="#f50000"/><stop offset=".48" stop-color="#5f0000"/><stop offset=".49" stop-color="#2c0000"/><stop offset="1" stop-color="#2c0000"/></linearGradient><linearGradient id="eb22" gradientUnits="userSpaceOnUse" x1="1054.8" x2="1193" spreadMethod="reflect"><stop offset="0" stop-color="#ff2700"/><stop offset=".37" stop-color="#ff3100"/><stop offset=".44" stop-color="#ff2b00"/><stop offset=".46" stop-color="#ff2000"/><stop offset=".47" stop-color="#f70000"/><stop offset=".48" stop-color="#600000"/><stop offset=".49" stop-color="#2c0000"/><stop offset="1" stop-color="#2c0000"/></linearGradient><linearGradient id="eb23" gradientUnits="userSpaceOnUse" x1="1054.8" x2="1193" spreadMethod="reflect"><stop offset="0" stop-color="#ff2800"/><stop offset=".37" stop-color="#ff3300"/><stop offset=".44" stop-color="#ff2d00"/><stop offset=".46" stop-color="#ff2200"/><stop offset=".47" stop-color="#f90000"/><stop offset=".48" stop-color="#600000"/><stop offset=".49" stop-color="#2c0000"/><stop offset="1" stop-color="#2c0000"/></linearGradient><linearGradient id="eb24" gradientUnits="userSpaceOnUse" x1="1054.8" x2="1193" spreadMethod="reflect"><stop offset="0" stop-color="#ff2a00"/><stop offset=".37" stop-color="#ff3400"/><stop offset=".44" stop-color="#ff2f00"/><stop offset=".46" stop-color="#ff2300"/><stop offset=".47" stop-color="#fa0000"/><stop offset=".48" stop-color="#600000"/><stop offset=".49" stop-color="#2c0000"/><stop offset="1" stop-color="#2c0000"/></linearGradient><linearGradient id="eb25" gradientUnits="userSpaceOnUse" x1="1054.8" x2="1193" spreadMethod="reflect"><stop offset="0" stop-color="#ff2b00"/><stop offset=".37" stop-color="#ff3600"/><stop offset=".44" stop-color="#ff3000"/><stop offset=".46" stop-color="#ff2400"/><stop offset=".47" stop-color="#fc0000"/><stop offset=".48" stop-color="#610000"/><stop offset=".49" stop-color="#2c0000"/><stop offset="1" stop-color="#2c0000"/></linearGradient><linearGradient id="eb26" gradientUnits="userSpaceOnUse" x1="1054.8" x2="1193" spreadMethod="reflect"><stop offset="0" stop-color="#ff2c00"/><stop offset=".37" stop-color="#ff3700"/><stop offset=".44" stop-color="#ff3100"/><stop offset=".46" stop-color="#ff2600"/><stop offset=".47" stop-color="#fd0000"/><stop offset=".48" stop-color="#610000"/><stop offset=".49" stop-color="#2c0000"/><stop offset="1" stop-color="#2c0000"/></linearGradient><linearGradient id="eb27" gradientUnits="userSpaceOnUse" x1="1054.8" x2="1193" spreadMethod="reflect"><stop offset="0" stop-color="#ff2d00"/><stop offset=".37" stop-color="#ff3800"/><stop offset=".44" stop-color="#ff3200"/><stop offset=".46" stop-color="#ff2600"/><stop offset=".47" stop-color="#fe0000"/><stop offset=".48" stop-color="#610000"/><stop offset=".49" stop-color="#2c0000"/><stop offset="1" stop-color="#2c0000"/></linearGradient><linearGradient id="eb28" gradientUnits="userSpaceOnUse" x1="1054.8" x2="1193" spreadMethod="reflect"><stop offset="0" stop-color="#ff2d00"/><stop offset=".37" stop-color="#ff3800"/><stop offset=".44" stop-color="#ff3300"/><stop offset=".46" stop-color="#ff2700"/><stop offset=".47" stop-color="#ff0000"/><stop offset=".48" stop-color="#620000"/><stop offset=".49" stop-color="#2c0000"/><stop offset="1" stop-color="#2c0000"/></linearGradient><linearGradient id="eb29" gradientUnits="userSpaceOnUse" x1="1054.8" x2="1193" spreadMethod="reflect"><stop offset="0" stop-color="#ff2e00"/><stop offset=".37" stop-color="#ff3900"/><stop offset=".44" stop-color="#ff3300"/><stop offset=".46" stop-color="#ff2700"/><stop offset=".47" stop-color="#ff0000"/><stop offset=".48" stop-color="#620000"/><stop offset=".49" stop-color="#2c0000"/><stop offset="1" stop-color="#2c0000"/></linearGradient><linearGradient id="eb30" gradientUnits="userSpaceOnUse" x1="1054.8" x2="1193" spreadMethod="reflect"><stop offset="0" stop-color="#ff2e00"/><stop offset=".37" stop-color="#ff3900"/><stop offset=".44" stop-color="#ff3300"/><stop offset=".46" stop-color="#ff2700"/><stop offset=".47" stop-color="#ff0100"/><stop offset=".48" stop-color="#640000"/><stop offset=".49" stop-color="#2f0000"/><stop offset="1" stop-color="#2f0000"/></linearGradient><linearGradient id="eb31" gradientUnits="userSpaceOnUse" x1="1054.8" x2="1193" spreadMethod="reflect"><stop offset="0" stop-color="#ff2e00"/><stop offset=".37" stop-color="#ff3900"/><stop offset=".44" stop-color="#ff3300"/><stop offset=".46" stop-color="#ff2700"/><stop offset=".47" stop-color="#ff1700"/><stop offset=".48" stop-color="#ee0000"/><stop offset=".49" stop-color="#dd0000"/><stop offset="1" stop-color="#dd0000"/></linearGradient><linearGradient id="eb32" gradientUnits="userSpaceOnUse" x1="1054.8" x2="1193" spreadMethod="reflect"><stop offset="0" stop-color="#b30000"/><stop offset=".11" stop-color="#b50000"/><stop offset=".14" stop-color="#cd0000"/><stop offset=".17" stop-color="#f80000"/><stop offset=".18" stop-color="#ff0500"/><stop offset=".23" stop-color="#ff2f00"/><stop offset=".26" stop-color="#ff3700"/><stop offset=".43" stop-color="#ff2300"/><stop offset=".5" stop-color="#ff1900"/><stop offset="1" stop-color="#ff1900"/></linearGradient><linearGradient id="eb33" gradientUnits="userSpaceOnUse" x1="1054.8" x2="1193" spreadMethod="reflect"><stop offset="0" stop-color="#ff6b00"/><stop offset=".11" stop-color="#ff6700"/><stop offset=".22" stop-color="#ff4200"/><stop offset=".3" stop-color="#ff3b00"/><stop offset=".4" stop-color="#ff4300"/><stop offset=".43" stop-color="#ff5500"/><stop offset=".46" stop-color="#ff7400"/><stop offset=".47" stop-color="#ff7a00"/><stop offset=".49" stop-color="#ff6b00"/><stop offset=".52" stop-color="#ff4e00"/><stop offset=".62" stop-color="#ff4a00"/><stop offset="1" stop-color="#ff4a00"/></linearGradient><linearGradient id="eb34" gradientUnits="userSpaceOnUse" x1="1054.8" x2="1193" spreadMethod="reflect"><stop offset="0" stop-color="#ff6b00"/><stop offset=".11" stop-color="#ff6700"/><stop offset=".22" stop-color="#ff4200"/><stop offset=".29" stop-color="#ff3800"/><stop offset=".41" stop-color="#ff4700"/><stop offset=".44" stop-color="#ff5f00"/><stop offset=".46" stop-color="#ff7500"/><stop offset=".47" stop-color="#ff7a00"/><stop offset=".49" stop-color="#ff6b00"/><stop offset=".52" stop-color="#ff4f00"/><stop offset=".61" stop-color="#ff4a00"/><stop offset="1" stop-color="#ff4a00"/></linearGradient><linearGradient id="eb35" gradientUnits="userSpaceOnUse" x1="1054.8" x2="1193" spreadMethod="reflect"><stop offset="0" stop-color="#ff6b00"/><stop offset=".11" stop-color="#ff6700"/><stop offset=".23" stop-color="#ff4000"/><stop offset=".28" stop-color="#ff3400"/><stop offset=".41" stop-color="#ff4700"/><stop offset=".44" stop-color="#ff5f00"/><stop offset=".46" stop-color="#ff7400"/><stop offset=".47" stop-color="#ff7900"/><stop offset=".49" stop-color="#ff6b00"/><stop offset=".52" stop-color="#ff4e00"/><stop offset=".62" stop-color="#ff4a00"/><stop offset="1" stop-color="#ff4a00"/></linearGradient><linearGradient id="eb36" gradientUnits="userSpaceOnUse" x1="1054.8" x2="1193" spreadMethod="reflect"><stop offset="0" stop-color="#ff6a00"/><stop offset=".11" stop-color="#ff6700"/><stop offset=".28" stop-color="#ff3000"/><stop offset=".38" stop-color="#ff4100"/><stop offset=".41" stop-color="#ff4700"/><stop offset=".44" stop-color="#ff5d00"/><stop offset=".46" stop-color="#ff7100"/><stop offset=".47" stop-color="#ff7600"/><stop offset=".49" stop-color="#ff6900"/><stop offset=".52" stop-color="#ff4e00"/><stop offset=".64" stop-color="#ff4a00"/><stop offset="1" stop-color="#ff4a00"/></linearGradient><linearGradient id="eb37" gradientUnits="userSpaceOnUse" x1="1054.8" x2="1193" spreadMethod="reflect"><stop offset="0" stop-color="#ff6900"/><stop offset=".11" stop-color="#ff6600"/><stop offset=".25" stop-color="#ff3600"/><stop offset=".28" stop-color="#ff2b00"/><stop offset=".36" stop-color="#ff3f00"/><stop offset=".41" stop-color="#ff4700"/><stop offset=".44" stop-color="#ff5b00"/><stop offset=".47" stop-color="#ff7200"/><stop offset=".52" stop-color="#ff4e00"/><stop offset=".75" stop-color="#ff4a00"/><stop offset="1" stop-color="#ff4a00"/></linearGradient><linearGradient id="eb38" gradientUnits="userSpaceOnUse" x1="1054.8" x2="1193" spreadMethod="reflect"><stop offset="0" stop-color="#ff6800"/><stop offset=".11" stop-color="#ff6500"/><stop offset=".18" stop-color="#ff4e00"/><stop offset=".25" stop-color="#ff3200"/><stop offset=".28" stop-color="#ff2500"/><stop offset=".36" stop-color="#ff3e00"/><stop offset=".41" stop-color="#ff4600"/><stop offset=".47" stop-color="#ff6e00"/><stop offset=".52" stop-color="#ff4d00"/><stop offset="1" stop-color="#ff4a00"/></linearGradient><linearGradient id="eb39" gradientUnits="userSpaceOnUse" x1="1054.8" x2="1193" spreadMethod="reflect"><stop offset="0" stop-color="#ff6700"/><stop offset=".11" stop-color="#ff6400"/><stop offset=".18" stop-color="#ff4d00"/><stop offset=".24" stop-color="#ff3400"/><stop offset=".28" stop-color="#ff2000"/><stop offset=".35" stop-color="#ff3c00"/><stop offset=".41" stop-color="#ff4600"/><stop offset=".47" stop-color="#ff6900"/><stop offset=".52" stop-color="#ff4c00"/><stop offset="1" stop-color="#ff4a00"/></linearGradient><linearGradient id="eb40" gradientUnits="userSpaceOnUse" x1="1054.8" x2="1193" spreadMethod="reflect"><stop offset="0" stop-color="#ff6500"/><stop offset=".11" stop-color="#ff6200"/><stop offset=".18" stop-color="#ff4d00"/><stop offset=".24" stop-color="#ff3000"/><stop offset=".27" stop-color="#ff1c00"/><stop offset=".29" stop-color="#ff1b00"/><stop offset=".35" stop-color="#ff3b00"/><stop offset=".41" stop-color="#ff4600"/><stop offset=".47" stop-color="#ff6400"/><stop offset=".52" stop-color="#ff4c00"/><stop offset="1" stop-color="#ff4a00"/></linearGradient><linearGradient id="eb41" gradientUnits="userSpaceOnUse" x1="1054.8" x2="1193" spreadMethod="reflect"><stop offset="0" stop-color="#ff6300"/><stop offset=".11" stop-color="#ff6000"/><stop offset=".18" stop-color="#ff4c00"/><stop offset=".23" stop-color="#ff3400"/><stop offset=".27" stop-color="#ff1600"/><stop offset=".29" stop-color="#ff1500"/><stop offset=".35" stop-color="#ff3900"/><stop offset=".42" stop-color="#ff4900"/><stop offset=".47" stop-color="#ff6000"/><stop offset=".53" stop-color="#ff4a00"/><stop offset="1" stop-color="#ff4a00"/></linearGradient><linearGradient id="eb42" gradientUnits="userSpaceOnUse" x1="1054.8" x2="1193" spreadMethod="reflect"><stop offset="0" stop-color="#ff6100"/><stop offset=".12" stop-color="#ff5d00"/><stop offset=".18" stop-color="#ff4b00"/><stop offset=".23" stop-color="#ff3000"/><stop offset=".27" stop-color="#ff0f00"/><stop offset=".29" stop-color="#ff0e00"/><stop offset=".35" stop-color="#ff3700"/><stop offset=".43" stop-color="#ff4d00"/><stop offset=".47" stop-color="#ff5d00"/><stop offset=".53" stop-color="#ff4a00"/><stop offset="1" stop-color="#ff4a00"/></linearGradient><linearGradient id="eb43" gradientUnits="userSpaceOnUse" x1="1054.8" x2="1193" spreadMethod="reflect"><stop offset="0" stop-color="#ff5f00"/><stop offset=".12" stop-color="#ff5b00"/><stop offset=".18" stop-color="#ff4a00"/><stop offset=".22" stop-color="#ff3300"/><stop offset=".27" stop-color="#ff0800"/><stop offset=".29" stop-color="#ff0700"/><stop offset=".35" stop-color="#ff3500"/><stop offset=".47" stop-color="#ff5b00"/><stop offset=".53" stop-color="#ff4a00"/><stop offset="1" stop-color="#ff4a00"/></linearGradient><linearGradient id="eb44" gradientUnits="userSpaceOnUse" x1="1054.8" x2="1193" spreadMethod="reflect"><stop offset="0" stop-color="#ff5d00"/><stop offset=".12" stop-color="#ff5a00"/><stop offset=".17" stop-color="#ff4d00"/><stop offset=".21" stop-color="#ff3700"/><stop offset=".27" stop-color="#ff0100"/><stop offset=".28" stop-color="#fb0000"/><stop offset=".3" stop-color="#ff0600"/><stop offset=".35" stop-color="#ff3100"/><stop offset=".39" stop-color="#ff4000"/><stop offset=".47" stop-color="#ff5900"/><stop offset=".53" stop-color="#ff4a00"/><stop offset="1" stop-color="#ff4a00"/></linearGradient><linearGradient id="eb45" gradientUnits="userSpaceOnUse" x1="1054.8" x2="1193" spreadMethod="reflect"><stop offset="0" stop-color="#ff5b00"/><stop offset=".13" stop-color="#ff5700"/><stop offset=".18" stop-color="#ff4700"/><stop offset=".22" stop-color="#ff2a00"/><stop offset=".26" stop-color="#ff0000"/><stop offset=".27" stop-color="#f40000"/><stop offset=".28" stop-color="#ef0000"/><stop offset=".29" stop-color="#f30000"/><stop offset=".3" stop-color="#fc0000"/><stop offset=".36" stop-color="#ff3400"/><stop offset=".47" stop-color="#ff5800"/><stop offset=".53" stop-color="#ff4a00"/><stop offset="1" stop-color="#ff4a00"/></linearGradient><linearGradient id="eb46" gradientUnits="userSpaceOnUse" x1="1054.8" x2="1193" spreadMethod="reflect"><stop offset="0" stop-color="#ff5900"/><stop offset=".13" stop-color="#ff5500"/><stop offset=".17" stop-color="#ff4a00"/><stop offset=".21" stop-color="#ff2f00"/><stop offset=".25" stop-color="#ff0200"/><stop offset=".27" stop-color="#e80000"/><stop offset=".28" stop-color="#e30000"/><stop offset=".29" stop-color="#e70000"/><stop offset=".31" stop-color="#ff0000"/><stop offset=".36" stop-color="#ff3100"/><stop offset=".43" stop-color="#ff4b00"/><stop offset=".47" stop-color="#ff5800"/><stop offset=".53" stop-color="#ff4a00"/><stop offset="1" stop-color="#ff4a00"/></linearGradient><linearGradient id="eb47" gradientUnits="userSpaceOnUse" x1="1054.8" x2="1193" spreadMethod="reflect"><stop offset="0" stop-color="#ff5700"/><stop offset=".14" stop-color="#ff5200"/><stop offset=".18" stop-color="#ff4300"/><stop offset=".21" stop-color="#ff2a00"/><stop offset=".24" stop-color="#ff0700"/><stop offset=".25" stop-color="#f70000"/><stop offset=".27" stop-color="#dc0000"/><stop offset=".28" stop-color="#d70000"/><stop offset=".29" stop-color="#db0000"/><stop offset=".32" stop-color="#ff0300"/><stop offset=".36" stop-color="#ff2d00"/><stop offset=".4" stop-color="#ff4000"/><stop offset=".47" stop-color="#ff5700"/><stop offset=".53" stop-color="#ff4a00"/><stop offset="1" stop-color="#ff4a00"/></linearGradient><linearGradient id="eb48" gradientUnits="userSpaceOnUse" x1="1054.8" x2="1193" spreadMethod="reflect"><stop offset="0" stop-color="#ff5500"/><stop offset=".14" stop-color="#ff5000"/><stop offset=".18" stop-color="#ff4000"/><stop offset=".21" stop-color="#ff2500"/><stop offset=".24" stop-color="#ff0000"/><stop offset=".26" stop-color="#db0000"/><stop offset=".27" stop-color="#d00000"/><stop offset=".28" stop-color="#cb0000"/><stop offset=".29" stop-color="#cf0000"/><stop offset=".31" stop-color="#e70000"/><stop offset=".32" stop-color="#f90000"/><stop offset=".33" stop-color="#ff0800"/><stop offset=".37" stop-color="#ff3000"/><stop offset=".46" stop-color="#ff5400"/><stop offset=".48" stop-color="#ff5400"/><stop offset=".53" stop-color="#ff4a00"/><stop offset="1" stop-color="#ff4a00"/></linearGradient><linearGradient id="eb49" gradientUnits="userSpaceOnUse" x1="1054.8" x2="1193" spreadMethod="reflect"><stop offset="0" stop-color="#ff5300"/><stop offset=".14" stop-color="#ff4e00"/><stop offset=".18" stop-color="#ff3c00"/><stop offset=".21" stop-color="#ff1f00"/><stop offset=".23" stop-color="#ff0600"/><stop offset=".24" stop-color="#f30000"/><stop offset=".26" stop-color="#cf0000"/><stop offset=".27" stop-color="#c40000"/><stop offset=".28" stop-color="#c00000"/><stop offset=".29" stop-color="#c30000"/><stop offset=".31" stop-color="#db0000"/><stop offset=".33" stop-color="#ff0100"/><stop offset=".37" stop-color="#ff2d00"/><stop offset=".44" stop-color="#ff4d00"/><stop offset=".47" stop-color="#ff5700"/><stop offset=".53" stop-color="#ff4a00"/><stop offset="1" stop-color="#ff4a00"/></linearGradient><linearGradient id="eb50" gradientUnits="userSpaceOnUse" x1="1054.8" x2="1193" spreadMethod="reflect"><stop offset="0" stop-color="#ff5100"/><stop offset=".14" stop-color="#ff4d00"/><stop offset=".17" stop-color="#ff4000"/><stop offset=".2" stop-color="#ff2500"/><stop offset=".23" stop-color="#fd0000"/><stop offset=".25" stop-color="#d40000"/><stop offset=".27" stop-color="#b90000"/><stop offset=".28" stop-color="#b40000"/><stop offset=".29" stop-color="#b80000"/><stop offset=".31" stop-color="#d00000"/><stop offset=".33" stop-color="#f60000"/><stop offset=".34" stop-color="#ff0700"/><stop offset=".37" stop-color="#ff2800"/><stop offset=".43" stop-color="#ff4900"/><stop offset=".47" stop-color="#ff5700"/><stop offset=".53" stop-color="#ff4a00"/><stop offset="1" stop-color="#ff4a00"/></linearGradient><linearGradient id="eb51" gradientUnits="userSpaceOnUse" x1="1054.8" x2="1193" spreadMethod="reflect"><stop offset="0" stop-color="#ff5000"/><stop offset=".13" stop-color="#ff4c00"/><stop offset=".16" stop-color="#ff4300"/><stop offset=".19" stop-color="#ff2b00"/><stop offset=".22" stop-color="#ff0600"/><stop offset=".23" stop-color="#f20000"/><stop offset=".25" stop-color="#c90000"/><stop offset=".27" stop-color="#ae0000"/><stop offset=".28" stop-color="#aa0000"/><stop offset=".29" stop-color="#ad0000"/><stop offset=".31" stop-color="#c40000"/><stop offset=".34" stop-color="#ff0100"/><stop offset=".38" stop-color="#ff2c00"/><stop offset=".44" stop-color="#ff4d00"/><stop offset=".47" stop-color="#ff5600"/><stop offset=".53" stop-color="#ff4a00"/><stop offset="1" stop-color="#ff4a00"/></linearGradient><linearGradient id="eb52" gradientUnits="userSpaceOnUse" x1="1054.8" x2="1193" spreadMethod="reflect"><stop offset="0" stop-color="#ff4e00"/><stop offset=".13" stop-color="#ff4b00"/><stop offset=".16" stop-color="#ff4000"/><stop offset=".19" stop-color="#ff2600"/><stop offset=".22" stop-color="#fe0000"/><stop offset=".25" stop-color="#be0000"/><stop offset=".27" stop-color="#a40000"/><stop offset=".28" stop-color="#9f0000"/><stop offset=".3" stop-color="#ac0000"/><stop offset=".32" stop-color="#cc0000"/><stop offset=".34" stop-color="#f60000"/><stop offset=".35" stop-color="#ff0800"/><stop offset=".38" stop-color="#ff2900"/><stop offset=".44" stop-color="#ff4c00"/><stop offset=".47" stop-color="#ff5600"/><stop offset=".53" stop-color="#ff4a00"/><stop offset="1" stop-color="#ff4a00"/></linearGradient><linearGradient id="eb53" gradientUnits="userSpaceOnUse" x1="1054.8" x2="1193" spreadMethod="reflect"><stop offset="0" stop-color="#ff4d00"/><stop offset=".13" stop-color="#ff4900"/><stop offset=".16" stop-color="#ff3d00"/><stop offset=".19" stop-color="#ff2200"/><stop offset=".21" stop-color="#ff0800"/><stop offset=".22" stop-color="#f40000"/><stop offset=".25" stop-color="#b40000"/><stop offset=".27" stop-color="#9a0000"/><stop offset=".28" stop-color="#960000"/><stop offset=".3" stop-color="#a20000"/><stop offset=".32" stop-color="#c20000"/><stop offset=".35" stop-color="#ff0200"/><stop offset=".38" stop-color="#ff2500"/><stop offset=".43" stop-color="#ff4700"/><stop offset=".47" stop-color="#ff5600"/><stop offset=".53" stop-color="#ff4a00"/><stop offset="1" stop-color="#ff4a00"/></linearGradient><linearGradient id="eb54" gradientUnits="userSpaceOnUse" x1="1054.8" x2="1193" spreadMethod="reflect"><stop offset="0" stop-color="#ff4d00"/><stop offset=".12" stop-color="#ff4900"/><stop offset=".16" stop-color="#ff3a00"/><stop offset=".19" stop-color="#ff1d00"/><stop offset=".21" stop-color="#ff0200"/><stop offset=".25" stop-color="#ab0000"/><stop offset=".27" stop-color="#920000"/><stop offset=".28" stop-color="#8d0000"/><stop offset=".3" stop-color="#990000"/><stop offset=".32" stop-color="#b80000"/><stop offset=".35" stop-color="#f90000"/><stop offset=".37" stop-color="#ff1600"/><stop offset=".42" stop-color="#ff4000"/><stop offset=".47" stop-color="#ff5600"/><stop offset=".53" stop-color="#ff4a00"/><stop offset="1" stop-color="#ff4a00"/></linearGradient><linearGradient id="eb55" gradientUnits="userSpaceOnUse" x1="1054.8" x2="1193" spreadMethod="reflect"><stop offset="0" stop-color="#ff4d00"/><stop offset=".12" stop-color="#ff4800"/><stop offset=".16" stop-color="#ff3700"/><stop offset=".19" stop-color="#ff1800"/><stop offset=".21" stop-color="#fa0000"/><stop offset=".24" stop-color="#b50000"/><stop offset=".26" stop-color="#940000"/><stop offset=".28" stop-color="#850000"/><stop offset=".3" stop-color="#910000"/><stop offset=".32" stop-color="#b00000"/><stop offset=".35" stop-color="#f10000"/><stop offset=".36" stop-color="#ff0500"/><stop offset=".39" stop-color="#ff2600"/><stop offset=".44" stop-color="#ff4900"/><stop offset=".47" stop-color="#ff5600"/><stop offset=".53" stop-color="#ff4a00"/><stop offset="1" stop-color="#ff4a00"/></linearGradient><linearGradient id="eb56" gradientUnits="userSpaceOnUse" x1="1054.8" x2="1193" spreadMethod="reflect"><stop offset="0" stop-color="#ff4c00"/><stop offset=".12" stop-color="#ff4700"/><stop offset=".15" stop-color="#ff3c00"/><stop offset=".18" stop-color="#ff2000"/><stop offset=".2" stop-color="#ff0700"/><stop offset=".21" stop-color="#f20000"/><stop offset=".24" stop-color="#ae0000"/><stop offset=".26" stop-color="#8d0000"/><stop offset=".28" stop-color="#7f0000"/><stop offset=".3" stop-color="#8a0000"/><stop offset=".32" stop-color="#a80000"/><stop offset=".36" stop-color="#ff0000"/><stop offset=".4" stop-color="#ff2b00"/><stop offset=".44" stop-color="#ff4800"/><stop offset=".47" stop-color="#ff5500"/><stop offset=".53" stop-color="#ff4a00"/><stop offset="1" stop-color="#ff4a00"/></linearGradient><linearGradient id="eb57" gradientUnits="userSpaceOnUse" x1="1054.8" x2="1193" spreadMethod="reflect"><stop offset="0" stop-color="#ff4c00"/><stop offset=".11" stop-color="#ff4800"/><stop offset=".15" stop-color="#ff3900"/><stop offset=".19" stop-color="#ff1000"/><stop offset=".2" stop-color="#ff0300"/><stop offset=".25" stop-color="#950000"/><stop offset=".27" stop-color="#7d0000"/><stop offset=".28" stop-color="#790000"/><stop offset=".3" stop-color="#840000"/><stop offset=".32" stop-color="#a20000"/><stop offset=".36" stop-color="#f90000"/><stop offset=".38" stop-color="#ff1500"/><stop offset=".43" stop-color="#ff4100"/><stop offset=".47" stop-color="#ff5500"/><stop offset=".53" stop-color="#ff4a00"/><stop offset="1" stop-color="#ff4a00"/></linearGradient><linearGradient id="eb58" gradientUnits="userSpaceOnUse" x1="1054.8" x2="1193" spreadMethod="reflect"><stop offset="0" stop-color="#ff4c00"/><stop offset=".11" stop-color="#ff4700"/><stop offset=".15" stop-color="#ff3700"/><stop offset=".19" stop-color="#ff0d00"/><stop offset=".2" stop-color="#fe0000"/><stop offset=".24" stop-color="#a20000"/><stop offset=".26" stop-color="#820000"/><stop offset=".28" stop-color="#750000"/><stop offset=".3" stop-color="#7f0000"/><stop offset=".32" stop-color="#9c0000"/><stop offset=".36" stop-color="#f30000"/><stop offset=".37" stop-color="#ff0600"/><stop offset=".42" stop-color="#ff3900"/><stop offset=".47" stop-color="#ff5400"/><stop offset=".53" stop-color="#ff4a00"/><stop offset="1" stop-color="#ff4a00"/></linearGradient><linearGradient id="eb59" gradientUnits="userSpaceOnUse" x1="1054.8" x2="1193" spreadMethod="reflect"><stop offset="0" stop-color="#ff4c00"/><stop offset=".11" stop-color="#ff4600"/><stop offset=".15" stop-color="#ff3500"/><stop offset=".19" stop-color="#ff0a00"/><stop offset=".2" stop-color="#f90000"/><stop offset=".24" stop-color="#9e0000"/><stop offset=".26" stop-color="#7f0000"/><stop offset=".28" stop-color="#710000"/><stop offset=".3" stop-color="#7c0000"/><stop offset=".32" stop-color="#990000"/><stop offset=".36" stop-color="#ef0000"/><stop offset=".37" stop-color="#ff0300"/><stop offset=".42" stop-color="#ff3700"/><stop offset=".47" stop-color="#ff5400"/><stop offset=".53" stop-color="#ff4a00"/><stop offset="1" stop-color="#ff4a00"/></linearGradient><linearGradient id="eb60" gradientUnits="userSpaceOnUse" x1="1054.8" x2="1193" spreadMethod="reflect"><stop offset="0" stop-color="#ff4c00"/><stop offset=".1" stop-color="#ff4800"/><stop offset=".14" stop-color="#ff3a00"/><stop offset=".17" stop-color="#ff2100"/><stop offset=".19" stop-color="#ff0800"/><stop offset=".2" stop-color="#f60000"/><stop offset=".24" stop-color="#9c0000"/><stop offset=".26" stop-color="#7d0000"/><stop offset=".28" stop-color="#700000"/><stop offset=".3" stop-color="#7a0000"/><stop offset=".32" stop-color="#960000"/><stop offset=".35" stop-color="#d40000"/><stop offset=".37" stop-color="#ff0100"/><stop offset=".42" stop-color="#ff3600"/><stop offset=".47" stop-color="#ff5400"/><stop offset=".54" stop-color="#ff4a00"/><stop offset="1" stop-color="#ff4a00"/></linearGradient><linearGradient id="eb61" gradientUnits="userSpaceOnUse" x1="1054.8" x2="1193" spreadMethod="reflect"><stop offset="0" stop-color="#ff4c00"/><stop offset=".1" stop-color="#ff4700"/><stop offset=".14" stop-color="#ff3900"/><stop offset=".17" stop-color="#ff1f00"/><stop offset=".19" stop-color="#ff0700"/><stop offset=".2" stop-color="#f30000"/><stop offset=".24" stop-color="#9b0000"/><stop offset=".26" stop-color="#7c0000"/><stop offset=".28" stop-color="#700000"/><stop offset=".3" stop-color="#790000"/><stop offset=".32" stop-color="#950000"/><stop offset=".35" stop-color="#d20000"/><stop offset=".37" stop-color="#ff0000"/><stop offset=".42" stop-color="#ff3500"/><stop offset=".47" stop-color="#ff5300"/><stop offset=".54" stop-color="#ff4a00"/><stop offset="1" stop-color="#ff4a00"/></linearGradient><linearGradient id="eb62" gradientUnits="userSpaceOnUse" x1="1054.8" x2="1193" spreadMethod="reflect"><stop offset="0" stop-color="#ff4c00"/><stop offset=".1" stop-color="#ff4700"/><stop offset=".14" stop-color="#ff3800"/><stop offset=".17" stop-color="#ff1e00"/><stop offset=".19" stop-color="#ff0600"/><stop offset=".2" stop-color="#f20000"/><stop offset=".24" stop-color="#9a0000"/><stop offset=".26" stop-color="#7c0000"/><stop offset=".28" stop-color="#700000"/><stop offset=".3" stop-color="#790000"/><stop offset=".32" stop-color="#940000"/><stop offset=".35" stop-color="#d10000"/><stop offset=".37" stop-color="#fd0000"/><stop offset=".43" stop-color="#ff3c00"/><stop offset=".47" stop-color="#ff5300"/><stop offset=".54" stop-color="#ff4a00"/><stop offset="1" stop-color="#ff4a00"/></linearGradient><linearGradient id="eb63" gradientUnits="userSpaceOnUse" x1="1054.8" x2="1193" spreadMethod="reflect"><stop offset="0" stop-color="#ff4c00"/><stop offset=".1" stop-color="#ff4700"/><stop offset=".14" stop-color="#ff3800"/><stop offset=".17" stop-color="#ff1e00"/><stop offset=".19" stop-color="#ff0500"/><stop offset=".2" stop-color="#f10000"/><stop offset=".24" stop-color="#990000"/><stop offset=".26" stop-color="#7c0000"/><stop offset=".28" stop-color="#700000"/><stop offset=".3" stop-color="#790000"/><stop offset=".32" stop-color="#940000"/><stop offset=".35" stop-color="#d00000"/><stop offset=".37" stop-color="#fc0000"/><stop offset=".43" stop-color="#ff3c00"/><stop offset=".47" stop-color="#ff5300"/><stop offset=".54" stop-color="#ff4a00"/><stop offset="1" stop-color="#ff4a00"/></linearGradient><linearGradient id="eb64" gradientUnits="userSpaceOnUse" x1="1054.8" x2="1193" spreadMethod="reflect"><stop offset="0" stop-color="#fc0000"/><stop offset=".1" stop-color="#f60000"/><stop offset=".14" stop-color="#e70000"/><stop offset=".17" stop-color="#cc0000"/><stop offset=".24" stop-color="#6f0000"/><stop offset=".27" stop-color="#580000"/><stop offset=".29" stop-color="#570000"/><stop offset=".32" stop-color="#6c0000"/><stop offset=".39" stop-color="#c40000"/><stop offset=".44" stop-color="#f20000"/><stop offset=".46" stop-color="#fe0000"/><stop offset=".51" stop-color="#fc0000"/><stop offset="1" stop-color="#fa0000"/></linearGradient><linearGradient id="eb65" gradientUnits="userSpaceOnUse" x1="1054.8" x2="1193" spreadMethod="reflect"><stop offset="0" stop-color="#2c0000"/><stop offset="1" stop-color="#2c0000"/></linearGradient><filter id="ebf" x="-5%" y="-5%" width="110%" height="110%"><feGaussianBlur stdDeviation="1.4 1.4"/></filter><clipPath id="ebc"><rect x="1054.8" y="547.8" width="276.4" height="267.2"/></clipPath></defs>
<g clip-path="url(#ebc)"><g filter="url(#ebf)"><rect x="1044.8" y="541.5" width="296.4" height="3.6" fill="url(#eb0)"/><rect x="1044.8" y="544.5" width="296.4" height="3.6" fill="url(#eb0)"/><rect x="1044.8" y="547.5" width="296.4" height="3.6" fill="url(#eb0)"/><rect x="1044.8" y="550.5" width="296.4" height="3.6" fill="url(#eb1)"/><rect x="1044.8" y="553.5" width="296.4" height="3.6" fill="url(#eb2)"/><rect x="1044.8" y="556.51" width="296.4" height="3.6" fill="url(#eb3)"/><rect x="1044.8" y="559.51" width="296.4" height="3.6" fill="url(#eb4)"/><rect x="1044.8" y="562.51" width="296.4" height="3.6" fill="url(#eb5)"/><rect x="1044.8" y="565.51" width="296.4" height="3.6" fill="url(#eb6)"/><rect x="1044.8" y="568.52" width="296.4" height="3.6" fill="url(#eb7)"/><rect x="1044.8" y="571.52" width="296.4" height="3.6" fill="url(#eb8)"/><rect x="1044.8" y="574.52" width="296.4" height="3.6" fill="url(#eb9)"/><rect x="1044.8" y="577.52" width="296.4" height="3.6" fill="url(#eb10)"/><rect x="1044.8" y="580.52" width="296.4" height="3.6" fill="url(#eb11)"/><rect x="1044.8" y="583.53" width="296.4" height="3.6" fill="url(#eb12)"/><rect x="1044.8" y="586.53" width="296.4" height="3.6" fill="url(#eb13)"/><rect x="1044.8" y="589.53" width="296.4" height="3.6" fill="url(#eb14)"/><rect x="1044.8" y="592.53" width="296.4" height="3.6" fill="url(#eb15)"/><rect x="1044.8" y="595.54" width="296.4" height="3.6" fill="url(#eb16)"/><rect x="1044.8" y="598.54" width="296.4" height="3.6" fill="url(#eb17)"/><rect x="1044.8" y="601.54" width="296.4" height="3.6" fill="url(#eb18)"/><rect x="1044.8" y="604.54" width="296.4" height="3.6" fill="url(#eb19)"/><rect x="1044.8" y="607.54" width="296.4" height="3.6" fill="url(#eb20)"/><rect x="1044.8" y="610.55" width="296.4" height="3.6" fill="url(#eb21)"/><rect x="1044.8" y="613.55" width="296.4" height="3.6" fill="url(#eb22)"/><rect x="1044.8" y="616.55" width="296.4" height="3.6" fill="url(#eb23)"/><rect x="1044.8" y="619.55" width="296.4" height="3.6" fill="url(#eb24)"/><rect x="1044.8" y="622.56" width="296.4" height="3.6" fill="url(#eb25)"/><rect x="1044.8" y="625.56" width="296.4" height="3.6" fill="url(#eb26)"/><rect x="1044.8" y="628.56" width="296.4" height="3.6" fill="url(#eb27)"/><rect x="1044.8" y="631.56" width="296.4" height="3.6" fill="url(#eb28)"/><rect x="1044.8" y="634.57" width="296.4" height="3.6" fill="url(#eb29)"/><rect x="1044.8" y="637.57" width="296.4" height="3.6" fill="url(#eb29)"/><rect x="1044.8" y="640.57" width="296.4" height="3.6" fill="url(#eb29)"/><rect x="1044.8" y="643.57" width="296.4" height="3.6" fill="url(#eb30)"/><rect x="1044.8" y="646.57" width="296.4" height="3.6" fill="url(#eb31)"/><rect x="1044.8" y="649.58" width="296.4" height="3.6" fill="url(#eb32)"/><rect x="1044.8" y="652.58" width="296.4" height="3.6" fill="url(#eb32)"/><rect x="1044.8" y="655.58" width="296.4" height="3.6" fill="url(#eb33)"/><rect x="1044.8" y="658.58" width="296.4" height="3.6" fill="url(#eb34)"/><rect x="1044.8" y="661.59" width="296.4" height="3.6" fill="url(#eb35)"/><rect x="1044.8" y="664.59" width="296.4" height="3.6" fill="url(#eb36)"/><rect x="1044.8" y="667.59" width="296.4" height="3.6" fill="url(#eb37)"/><rect x="1044.8" y="670.59" width="296.4" height="3.6" fill="url(#eb38)"/><rect x="1044.8" y="673.59" width="296.4" height="3.6" fill="url(#eb39)"/><rect x="1044.8" y="676.6" width="296.4" height="3.6" fill="url(#eb40)"/><rect x="1044.8" y="679.6" width="296.4" height="3.6" fill="url(#eb41)"/><rect x="1044.8" y="682.6" width="296.4" height="3.6" fill="url(#eb42)"/><rect x="1044.8" y="685.6" width="296.4" height="3.6" fill="url(#eb43)"/><rect x="1044.8" y="688.61" width="296.4" height="3.6" fill="url(#eb44)"/><rect x="1044.8" y="691.61" width="296.4" height="3.6" fill="url(#eb45)"/><rect x="1044.8" y="694.61" width="296.4" height="3.6" fill="url(#eb46)"/><rect x="1044.8" y="697.61" width="296.4" height="3.6" fill="url(#eb47)"/><rect x="1044.8" y="700.61" width="296.4" height="3.6" fill="url(#eb48)"/><rect x="1044.8" y="703.62" width="296.4" height="3.6" fill="url(#eb49)"/><rect x="1044.8" y="706.62" width="296.4" height="3.6" fill="url(#eb50)"/><rect x="1044.8" y="709.62" width="296.4" height="3.6" fill="url(#eb51)"/><rect x="1044.8" y="712.62" width="296.4" height="3.6" fill="url(#eb52)"/><rect x="1044.8" y="715.63" width="296.4" height="3.6" fill="url(#eb53)"/><rect x="1044.8" y="718.63" width="296.4" height="3.6" fill="url(#eb54)"/><rect x="1044.8" y="721.63" width="296.4" height="3.6" fill="url(#eb55)"/><rect x="1044.8" y="724.63" width="296.4" height="3.6" fill="url(#eb56)"/><rect x="1044.8" y="727.63" width="296.4" height="3.6" fill="url(#eb57)"/><rect x="1044.8" y="730.64" width="296.4" height="3.6" fill="url(#eb58)"/><rect x="1044.8" y="733.64" width="296.4" height="3.6" fill="url(#eb59)"/><rect x="1044.8" y="736.64" width="296.4" height="3.6" fill="url(#eb60)"/><rect x="1044.8" y="739.64" width="296.4" height="3.6" fill="url(#eb61)"/><rect x="1044.8" y="742.65" width="296.4" height="3.6" fill="url(#eb62)"/><rect x="1044.8" y="745.65" width="296.4" height="3.6" fill="url(#eb63)"/><rect x="1044.8" y="748.65" width="296.4" height="3.6" fill="url(#eb64)"/><rect x="1044.8" y="751.65" width="296.4" height="3.6" fill="url(#eb65)"/><rect x="1044.8" y="754.66" width="296.4" height="3.6" fill="url(#eb65)"/><rect x="1044.8" y="757.66" width="296.4" height="3.6" fill="url(#eb65)"/><rect x="1044.8" y="760.66" width="296.4" height="3.6" fill="url(#eb65)"/><rect x="1044.8" y="763.66" width="296.4" height="3.6" fill="url(#eb65)"/><rect x="1044.8" y="766.66" width="296.4" height="3.6" fill="url(#eb65)"/><rect x="1044.8" y="769.67" width="296.4" height="3.6" fill="url(#eb65)"/><rect x="1044.8" y="772.67" width="296.4" height="3.6" fill="url(#eb65)"/><rect x="1044.8" y="775.67" width="296.4" height="3.6" fill="url(#eb65)"/><rect x="1044.8" y="778.67" width="296.4" height="3.6" fill="url(#eb65)"/><rect x="1044.8" y="781.68" width="296.4" height="3.6" fill="url(#eb65)"/><rect x="1044.8" y="784.68" width="296.4" height="3.6" fill="url(#eb65)"/><rect x="1044.8" y="787.68" width="296.4" height="3.6" fill="url(#eb65)"/><rect x="1044.8" y="790.68" width="296.4" height="3.6" fill="url(#eb65)"/><rect x="1044.8" y="793.68" width="296.4" height="3.6" fill="url(#eb65)"/><rect x="1044.8" y="796.69" width="296.4" height="3.6" fill="url(#eb65)"/><rect x="1044.8" y="799.69" width="296.4" height="3.6" fill="url(#eb65)"/><rect x="1044.8" y="802.69" width="296.4" height="3.6" fill="url(#eb65)"/><rect x="1044.8" y="805.69" width="296.4" height="3.6" fill="url(#eb65)"/><rect x="1044.8" y="808.7" width="296.4" height="3.6" fill="url(#eb65)"/><rect x="1044.8" y="811.7" width="296.4" height="3.6" fill="url(#eb65)"/><rect x="1044.8" y="814.7" width="296.4" height="3.6" fill="url(#eb65)"/><rect x="1044.8" y="817.7" width="296.4" height="3.6" fill="url(#eb65)"/></g></g>
<path d="M1054.8 815L1054.8 819.5M1089.35 815L1089.35 819.5M1123.9 815L1123.9 819.5M1158.45 815L1158.45 819.5M1193 815L1193 819.5M1227.55 815L1227.55 819.5M1262.1 815L1262.1 819.5M1296.65 815L1296.65 819.5M1331.2 815L1331.2 819.5M1072.08 815L1072.08 817.5M1106.62 815L1106.62 817.5M1141.17 815L1141.17 817.5M1175.72 815L1175.72 817.5M1210.28 815L1210.28 817.5M1244.83 815L1244.83 817.5M1279.38 815L1279.38 817.5M1313.93 815L1313.93 817.5M1050.3 788.28L1054.8 788.28M1050.3 734.84L1054.8 734.84M1050.3 681.4L1054.8 681.4M1050.3 627.96L1054.8 627.96M1050.3 574.52L1054.8 574.52M1052.3 815L1054.8 815M1052.3 761.56L1054.8 761.56M1052.3 708.12L1054.8 708.12M1052.3 654.68L1054.8 654.68M1052.3 601.24L1054.8 601.24M1052.3 547.8L1054.8 547.8" stroke="#111" stroke-width="1.1" fill="none"/>
<path d="M1054.8 547.8L1054.8 815.5" stroke="#111" stroke-width="1.1"/>
<path d="M1054.3 815L1331.2 815" stroke="#111" stroke-width="1.1"/>
<text x="1054.8" y="838.2" font-size="16.6" text-anchor="middle">-100</text>
<text x="1089.3" y="838.2" font-size="16.6" text-anchor="middle">-75</text>
<text x="1123.9" y="838.2" font-size="16.6" text-anchor="middle">-50</text>
<text x="1158.5" y="838.2" font-size="16.6" text-anchor="middle">-25</text>
<text x="1193" y="838.2" font-size="16.6" text-anchor="middle">0</text>
<text x="1227.5" y="838.2" font-size="16.6" text-anchor="middle">25</text>
<text x="1262.1" y="838.2" font-size="16.6" text-anchor="middle">50</text>
<text x="1296.7" y="838.2" font-size="16.6" text-anchor="middle">75</text>
<text x="1331.2" y="838.2" font-size="16.6" text-anchor="middle">100</text>
<text x="1046.3" y="794.2" font-size="16.6" text-anchor="end">-20</text>
<text x="1046.3" y="740.7" font-size="16.6" text-anchor="end">-10</text>
<text x="1046.3" y="687.3" font-size="16.6" text-anchor="end">0</text>
<text x="1046.3" y="633.9" font-size="16.6" text-anchor="end">10</text>
<text x="1046.3" y="580.4" font-size="16.6" text-anchor="end">20</text>
<text x="1191.5" y="869" font-size="22" text-anchor="middle">y (nm)</text>
<text font-size="22" text-anchor="middle" transform="translate(1007.8 681.9) rotate(-90)">z (nm)</text>
<text x="1073.5" y="520" font-size="28" textLength="220" lengthAdjust="spacingAndGlyphs">7.36 μm, 0.40 eV</text>
<defs><linearGradient id="ec0" gradientUnits="userSpaceOnUse" x1="1413.2" x2="1551.8" spreadMethod="reflect"><stop offset="0" stop-color="#a00000"/><stop offset=".38" stop-color="#a00000"/><stop offset=".43" stop-color="#890000"/><stop offset=".47" stop-color="#5d0000"/><stop offset=".48" stop-color="#3f0000"/><stop offset=".49" stop-color="#2d0000"/><stop offset="1" stop-color="#2c0000"/></linearGradient><linearGradient id="ec1" gradientUnits="userSpaceOnUse" x1="1413.2" x2="1551.8" spreadMethod="reflect"><stop offset="0" stop-color="#a20000"/><stop offset=".38" stop-color="#a20000"/><stop offset=".43" stop-color="#8a0000"/><stop offset=".47" stop-color="#5d0000"/><stop offset=".48" stop-color="#400000"/><stop offset=".49" stop-color="#2d0000"/><stop offset="1" stop-color="#2c0000"/></linearGradient><linearGradient id="ec2" gradientUnits="userSpaceOnUse" x1="1413.2" x2="1551.8" spreadMethod="reflect"><stop offset="0" stop-color="#a50000"/><stop offset=".38" stop-color="#a50000"/><stop offset=".43" stop-color="#8d0000"/><stop offset=".47" stop-color="#5e0000"/><stop offset=".48" stop-color="#400000"/><stop offset=".49" stop-color="#2d0000"/><stop offset="1" stop-color="#2c0000"/></linearGradient><linearGradient id="ec3" gradientUnits="userSpaceOnUse" x1="1413.2" x2="1551.8" spreadMethod="reflect"><stop offset="0" stop-color="#a80000"/><stop offset=".38" stop-color="#a80000"/><stop offset=".43" stop-color="#8f0000"/><stop offset=".47" stop-color="#600000"/><stop offset=".48" stop-color="#410000"/><stop offset=".49" stop-color="#2d0000"/><stop offset="1" stop-color="#2c0000"/></linearGradient><linearGradient id="ec4" gradientUnits="userSpaceOnUse" x1="1413.2" x2="1551.8" spreadMethod="reflect"><stop offset="0" stop-color="#ac0000"/><stop offset=".38" stop-color="#ac0000"/><stop offset=".43" stop-color="#920000"/><stop offset=".47" stop-color="#610000"/><stop offset=".48" stop-color="#410000"/><stop offset=".49" stop-color="#2d0000"/><stop offset="1" stop-color="#2c0000"/></linearGradient><linearGradient id="ec5" gradientUnits="userSpaceOnUse" x1="1413.2" x2="1551.8" spreadMethod="reflect"><stop offset="0" stop-color="#b00000"/><stop offset=".38" stop-color="#b00000"/><stop offset=".43" stop-color="#960000"/><stop offset=".47" stop-color="#630000"/><stop offset=".48" stop-color="#420000"/><stop offset=".49" stop-color="#2d0000"/><stop offset="1" stop-color="#2c0000"/></linearGradient><linearGradient id="ec6" gradientUnits="userSpaceOnUse" x1="1413.2" x2="1551.8" spreadMethod="reflect"><stop offset="0" stop-color="#b50000"/><stop offset=".38" stop-color="#b50000"/><stop offset=".43" stop-color="#9a0000"/><stop offset=".47" stop-color="#650000"/><stop offset=".48" stop-color="#430000"/><stop offset=".49" stop-color="#2d0000"/><stop offset="1" stop-color="#2c0000"/></linearGradient><linearGradient id="ec7" gradientUnits="userSpaceOnUse" x1="1413.2" x2="1551.8" spreadMethod="reflect"><stop offset="0" stop-color="#ba0000"/><stop offset=".38" stop-color="#ba0000"/><stop offset=".43" stop-color="#9e0000"/><stop offset=".47" stop-color="#670000"/><stop offset=".48" stop-color="#440000"/><stop offset=".49" stop-color="#2d0000"/><stop offset="1" stop-color="#2c0000"/></linearGradient><linearGradient id="ec8" gradientUnits="userSpaceOnUse" x1="1413.2" x2="1551.8" spreadMethod="reflect"><stop offset="0" stop-color="#c00000"/><stop offset=".38" stop-color="#c00000"/><stop offset=".43" stop-color="#a20000"/><stop offset=".47" stop-color="#6a0000"/><stop offset=".48" stop-color="#450000"/><stop offset=".49" stop-color="#2d0000"/><stop offset="1" stop-color="#2c0000"/></linearGradient><linearGradient id="ec9" gradientUnits="userSpaceOnUse" x1="1413.2" x2="1551.8" spreadMethod="reflect"><stop offset="0" stop-color="#c60000"/><stop offset=".38" stop-color="#c60000"/><stop offset=".43" stop-color="#a70000"/><stop offset=".47" stop-color="#6c0000"/><stop offset=".48" stop-color="#460000"/><stop offset=".49" stop-color="#2d0000"/><stop offset="1" stop-color="#2c0000"/></linearGradient><linearGradient id="ec10" gradientUnits="userSpaceOnUse" x1="1413.2" x2="1551.8" spreadMethod="reflect"><stop offset="0" stop-color="#cc0000"/><stop offset=".38" stop-color="#cc0000"/><stop offset=".43" stop-color="#ac0000"/><stop offset=".47" stop-color="#6f0000"/><stop offset=".48" stop-color="#470000"/><stop offset=".49" stop-color="#2d0000"/><stop offset="1" stop-color="#2c0000"/></linearGradient><linearGradient id="ec11" gradientUnits="userSpaceOnUse" x1="1413.2" x2="1551.8" spreadMethod="reflect"><stop offset="0" stop-color="#d20000"/><stop offset=".38" stop-color="#d20000"/><stop offset=".43" stop-color="#b10000"/><stop offset=".47" stop-color="#710000"/><stop offset=".48" stop-color="#480000"/><stop offset=".49" stop-color="#2d0000"/><stop offset="1" stop-color="#2c0000"/></linearGradient><linearGradient id="ec12" gradientUnits="userSpaceOnUse" x1="1413.2" x2="1551.8" spreadMethod="reflect"><stop offset="0" stop-color="#d80000"/><stop offset=".38" stop-color="#d80000"/><stop offset=".43" stop-color="#b60000"/><stop offset=".47" stop-color="#740000"/><stop offset=".48" stop-color="#490000"/><stop offset=".49" stop-color="#2d0000"/><stop offset="1" stop-color="#2c0000"/></linearGradient><linearGradient id="ec13" gradientUnits="userSpaceOnUse" x1="1413.2" x2="1551.8" spreadMethod="reflect"><stop offset="0" stop-color="#df0000"/><stop offset=".38" stop-color="#df0000"/><stop offset=".43" stop-color="#bb0000"/><stop offset=".47" stop-color="#770000"/><stop offset=".48" stop-color="#4a0000"/><stop offset=".49" stop-color="#2d0000"/><stop offset="1" stop-color="#2c0000"/></linearGradient><linearGradient id="ec14" gradientUnits="userSpaceOnUse" x1="1413.2" x2="1551.8" spreadMethod="reflect"><stop offset="0" stop-color="#e50000"/><stop offset=".38" stop-color="#e50000"/><stop offset=".43" stop-color="#c00000"/><stop offset=".47" stop-color="#790000"/><stop offset=".48" stop-color="#4b0000"/><stop offset=".49" stop-color="#2d0000"/><stop offset="1" stop-color="#2c0000"/></linearGradient><linearGradient id="ec15" gradientUnits="userSpaceOnUse" x1="1413.2" x2="1551.8" spreadMethod="reflect"><stop offset="0" stop-color="#ec0000"/><stop offset=".38" stop-color="#ec0000"/><stop offset=".43" stop-color="#c50000"/><stop offset=".47" stop-color="#7c0000"/><stop offset=".48" stop-color="#4c0000"/><stop offset=".49" stop-color="#2d0000"/><stop offset="1" stop-color="#2c0000"/></linearGradient><linearGradient id="ec16" gradientUnits="userSpaceOnUse" x1="1413.2" x2="1551.8" spreadMethod="reflect"><stop offset="0" stop-color="#f20000"/><stop offset=".38" stop-color="#f20000"/><stop offset=".43" stop-color="#cb0000"/><stop offset=".47" stop-color="#7f0000"/><stop offset=".48" stop-color="#4d0000"/><stop offset=".49" stop-color="#2d0000"/><stop offset="1" stop-color="#2c0000"/></linearGradient><linearGradient id="ec17" gradientUnits="userSpaceOnUse" x1="1413.2" x2="1551.8" spreadMethod="reflect"><stop offset="0" stop-color="#f90000"/><stop offset=".38" stop-color="#f90000"/><stop offset=".43" stop-color="#d00000"/><stop offset=".47" stop-color="#820000"/><stop offset=".48" stop-color="#4e0000"/><stop offset=".49" stop-color="#2d0000"/><stop offset="1" stop-color="#2c0000"/></linearGradient><linearGradient id="ec18" gradientUnits="userSpaceOnUse" x1="1413.2" x2="1551.8" spreadMethod="reflect"><stop offset="0" stop-color="#ff0000"/><stop offset=".38" stop-color="#ff0000"/><stop offset=".43" stop-color="#d50000"/><stop offset=".47" stop-color="#840000"/><stop offset=".48" stop-color="#4f0000"/><stop offset=".49" stop-color="#2d0000"/><stop offset="1" stop-color="#2c0000"/></linearGradient><linearGradient id="ec19" gradientUnits="userSpaceOnUse" x1="1413.2" x2="1551.8" spreadMethod="reflect"><stop offset="0" stop-color="#ff0300"/><stop offset=".38" stop-color="#ff0300"/><stop offset=".4" stop-color="#f30000"/><stop offset=".43" stop-color="#d90000"/><stop offset=".47" stop-color="#870000"/><stop offset=".48" stop-color="#500000"/><stop offset=".49" stop-color="#2d0000"/><stop offset="1" stop-color="#2c0000"/></linearGradient><linearGradient id="ec20" gradientUnits="userSpaceOnUse" x1="1413.2" x2="1551.8" spreadMethod="reflect"><stop offset="0" stop-color="#ff0700"/><stop offset=".38" stop-color="#ff0700"/><stop offset=".39" stop-color="#ff0100"/><stop offset=".43" stop-color="#de0000"/><stop offset=".47" stop-color="#890000"/><stop offset=".48" stop-color="#510000"/><stop offset=".49" stop-color="#2d0000"/><stop offset="1" stop-color="#2c0000"/></linearGradient><linearGradient id="ec21" gradientUnits="userSpaceOnUse" x1="1413.2" x2="1551.8" spreadMethod="reflect"><stop offset="0" stop-color="#ff0a00"/><stop offset=".38" stop-color="#ff0a00"/><stop offset=".4" stop-color="#fd0000"/><stop offset=".43" stop-color="#e20000"/><stop offset=".47" stop-color="#8b0000"/><stop offset=".48" stop-color="#520000"/><stop offset=".49" stop-color="#2d0000"/><stop offset="1" stop-color="#2c0000"/></linearGradient><linearGradient id="ec22" gradientUnits="userSpaceOnUse" x1="1413.2" x2="1551.8" spreadMethod="reflect"><stop offset="0" stop-color="#ff0d00"/><stop offset=".38" stop-color="#ff0d00"/><stop offset=".4" stop-color="#ff0200"/><stop offset=".43" stop-color="#e60000"/><stop offset=".47" stop-color="#8d0000"/><stop offset=".48" stop-color="#530000"/><stop offset=".49" stop-color="#2e0000"/><stop offset="1" stop-color="#2c0000"/></linearGradient><linearGradient id="ec23" gradientUnits="userSpaceOnUse" x1="1413.2" x2="1551.8" spreadMethod="reflect"><stop offset="0" stop-color="#ff1000"/><stop offset=".38" stop-color="#ff1000"/><stop offset=".41" stop-color="#fd0000"/><stop offset=".43" stop-color="#ea0000"/><stop offset=".47" stop-color="#8f0000"/><stop offset=".48" stop-color="#540000"/><stop offset=".49" stop-color="#2e0000"/><stop offset="1" stop-color="#2c0000"/></linearGradient><linearGradient id="ec24" gradientUnits="userSpaceOnUse" x1="1413.2" x2="1551.8" spreadMethod="reflect"><stop offset="0" stop-color="#ff1200"/><stop offset=".38" stop-color="#ff1200"/><stop offset=".41" stop-color="#ff0100"/><stop offset=".43" stop-color="#ed0000"/><stop offset=".47" stop-color="#910000"/><stop offset=".48" stop-color="#540000"/><stop offset=".49" stop-color="#2e0000"/><stop offset="1" stop-color="#2c0000"/></linearGradient><linearGradient id="ec25" gradientUnits="userSpaceOnUse" x1="1413.2" x2="1551.8" spreadMethod="reflect"><stop offset="0" stop-color="#ff1400"/><stop offset=".38" stop-color="#ff1400"/><stop offset=".41" stop-color="#ff0300"/><stop offset=".43" stop-color="#f00000"/><stop offset=".47" stop-color="#920000"/><stop offset=".48" stop-color="#550000"/><stop offset=".49" stop-color="#2e0000"/><stop offset="1" stop-color="#2c0000"/></linearGradient><linearGradient id="ec26" gradientUnits="userSpaceOnUse" x1="1413.2" x2="1551.8" spreadMethod="reflect"><stop offset="0" stop-color="#ff1600"/><stop offset=".38" stop-color="#ff1600"/><stop offset=".42" stop-color="#fc0000"/><stop offset=".43" stop-color="#f20000"/><stop offset=".47" stop-color="#940000"/><stop offset=".48" stop-color="#550000"/><stop offset=".49" stop-color="#2e0000"/><stop offset="1" stop-color="#2c0000"/></linearGradient><linearGradient id="ec27" gradientUnits="userSpaceOnUse" x1="1413.2" x2="1551.8" spreadMethod="reflect"><stop offset="0" stop-color="#ff1800"/><stop offset=".38" stop-color="#ff1800"/><stop offset=".42" stop-color="#fe0000"/><stop offset=".43" stop-color="#f40000"/><stop offset=".47" stop-color="#950000"/><stop offset=".48" stop-color="#560000"/><stop offset=".49" stop-color="#2e0000"/><stop offset="1" stop-color="#2c0000"/></linearGradient><linearGradient id="ec28" gradientUnits="userSpaceOnUse" x1="1413.2" x2="1551.8" spreadMethod="reflect"><stop offset="0" stop-color="#ff1900"/><stop offset=".38" stop-color="#ff1900"/><stop offset=".42" stop-color="#ff0000"/><stop offset=".43" stop-color="#f60000"/><stop offset=".47" stop-color="#950000"/><stop offset=".48" stop-color="#560000"/><stop offset=".49" stop-color="#2e0000"/><stop offset="1" stop-color="#2c0000"/></linearGradient><linearGradient id="ec29" gradientUnits="userSpaceOnUse" x1="1413.2" x2="1551.8" spreadMethod="reflect"><stop offset="0" stop-color="#ff1900"/><stop offset=".38" stop-color="#ff1900"/><stop offset=".42" stop-color="#ff0100"/><stop offset=".43" stop-color="#f60000"/><stop offset=".47" stop-color="#960000"/><stop offset=".48" stop-color="#560000"/><stop offset=".49" stop-color="#2e0000"/><stop offset="1" stop-color="#2c0000"/></linearGradient><linearGradient id="ec30" gradientUnits="userSpaceOnUse" x1="1413.2" x2="1551.8" spreadMethod="reflect"><stop offset="0" stop-color="#ff1900"/><stop offset=".38" stop-color="#ff1900"/><stop offset=".42" stop-color="#ff0100"/><stop offset=".43" stop-color="#f70000"/><stop offset=".47" stop-color="#960000"/><stop offset=".48" stop-color="#560000"/><stop offset=".49" stop-color="#2e0000"/><stop offset="1" stop-color="#2c0000"/></linearGradient><linearGradient id="ec31" gradientUnits="userSpaceOnUse" x1="1413.2" x2="1551.8" spreadMethod="reflect"><stop offset="0" stop-color="#ff1900"/><stop offset=".38" stop-color="#ff1900"/><stop offset=".42" stop-color="#ff0100"/><stop offset=".43" stop-color="#f70000"/><stop offset=".47" stop-color="#960000"/><stop offset=".48" stop-color="#5d0000"/><stop offset=".49" stop-color="#3b0000"/><stop offset="1" stop-color="#3a0000"/></linearGradient><linearGradient id="ec32" gradientUnits="userSpaceOnUse" x1="1413.2" x2="1551.8" spreadMethod="reflect"><stop offset="0" stop-color="#ff1900"/><stop offset=".38" stop-color="#ff1900"/><stop offset=".42" stop-color="#ff0100"/><stop offset=".43" stop-color="#f70000"/><stop offset=".47" stop-color="#970000"/><stop offset=".48" stop-color="#700000"/><stop offset=".49" stop-color="#5f0000"/><stop offset="1" stop-color="#5f0000"/></linearGradient><linearGradient id="ec33" gradientUnits="userSpaceOnUse" x1="1413.2" x2="1551.8" spreadMethod="reflect"><stop offset="0" stop-color="#ff1900"/><stop offset=".38" stop-color="#ff1900"/><stop offset=".42" stop-color="#ff0100"/><stop offset=".43" stop-color="#f70000"/><stop offset=".48" stop-color="#7f0000"/><stop offset="1" stop-color="#7d0000"/></linearGradient><linearGradient id="ec34" gradientUnits="userSpaceOnUse" x1="1413.2" x2="1551.8" spreadMethod="reflect"><stop offset="0" stop-color="#fffff5"/><stop offset=".1" stop-color="#ffffb8"/><stop offset=".26" stop-color="#ffff00"/><stop offset=".3" stop-color="#ffe700"/><stop offset=".34" stop-color="#ffbf00"/><stop offset=".41" stop-color="#ff6600"/><stop offset=".45" stop-color="#ff5200"/><stop offset="1" stop-color="#ff4f00"/></linearGradient><linearGradient id="ec35" gradientUnits="userSpaceOnUse" x1="1413.2" x2="1551.8" spreadMethod="reflect"><stop offset="0" stop-color="#fffff5"/><stop offset=".1" stop-color="#ffffb8"/><stop offset=".26" stop-color="#ffff00"/><stop offset=".3" stop-color="#ffe700"/><stop offset=".34" stop-color="#ffbf00"/><stop offset=".41" stop-color="#ff6600"/><stop offset=".45" stop-color="#ff5100"/><stop offset="1" stop-color="#ff4e00"/></linearGradient><linearGradient id="ec36" gradientUnits="userSpaceOnUse" x1="1413.2" x2="1551.8" spreadMethod="reflect"><stop offset="0" stop-color="#ffffcb"/><stop offset=".1" stop-color="#ffff90"/><stop offset=".18" stop-color="#ffff35"/><stop offset=".21" stop-color="#ffff09"/><stop offset=".22" stop-color="#fffb00"/><stop offset=".29" stop-color="#ffc100"/><stop offset=".34" stop-color="#ff8300"/><stop offset=".41" stop-color="#ff2a00"/><stop offset=".45" stop-color="#ff1800"/><stop offset="1" stop-color="#ff1600"/></linearGradient><linearGradient id="ec37" gradientUnits="userSpaceOnUse" x1="1413.2" x2="1551.8" spreadMethod="reflect"><stop offset="0" stop-color="#ffae00"/><stop offset=".12" stop-color="#ff9500"/><stop offset=".18" stop-color="#ff7c00"/><stop offset=".28" stop-color="#ff2d00"/><stop offset=".33" stop-color="#fe0000"/><stop offset=".37" stop-color="#c30000"/><stop offset=".41" stop-color="#990000"/><stop offset=".45" stop-color="#8a0000"/><stop offset="1" stop-color="#890000"/></linearGradient><linearGradient id="ec38" gradientUnits="userSpaceOnUse" x1="1413.2" x2="1551.8" spreadMethod="reflect"><stop offset="0" stop-color="#b10000"/><stop offset=".15" stop-color="#a20000"/><stop offset=".2" stop-color="#8d0000"/><stop offset=".31" stop-color="#470000"/><stop offset=".37" stop-color="#320000"/><stop offset=".51" stop-color="#2d0000"/><stop offset="1" stop-color="#2d0000"/></linearGradient><linearGradient id="ec39" gradientUnits="userSpaceOnUse" x1="1413.2" x2="1551.8" spreadMethod="reflect"><stop offset="0" stop-color="#2c0000"/><stop offset="1" stop-color="#2c0000"/></linearGradient><filter id="ecf" x="-5%" y="-5%" width="110%" height="110%"><feGaussianBlur stdDeviation="1.4 1.4"/></filter><clipPath id="ecc"><rect x="1413.2" y="547.8" width="277.2" height="267.2"/></clipPath></defs>
<g clip-path="url(#ecc)"><g filter="url(#ecf)"><rect x="1403.2" y="541.5" width="297.2" height="3.6" fill="url(#ec0)"/><rect x="1403.2" y="544.5" width="297.2" height="3.6" fill="url(#ec0)"/><rect x="1403.2" y="547.5" width="297.2" height="3.6" fill="url(#ec0)"/><rect x="1403.2" y="550.5" width="297.2" height="3.6" fill="url(#ec1)"/><rect x="1403.2" y="553.5" width="297.2" height="3.6" fill="url(#ec2)"/><rect x="1403.2" y="556.51" width="297.2" height="3.6" fill="url(#ec3)"/><rect x="1403.2" y="559.51" width="297.2" height="3.6" fill="url(#ec4)"/><rect x="1403.2" y="562.51" width="297.2" height="3.6" fill="url(#ec5)"/><rect x="1403.2" y="565.51" width="297.2" height="3.6" fill="url(#ec6)"/><rect x="1403.2" y="568.52" width="297.2" height="3.6" fill="url(#ec7)"/><rect x="1403.2" y="571.52" width="297.2" height="3.6" fill="url(#ec8)"/><rect x="1403.2" y="574.52" width="297.2" height="3.6" fill="url(#ec9)"/><rect x="1403.2" y="577.52" width="297.2" height="3.6" fill="url(#ec10)"/><rect x="1403.2" y="580.52" width="297.2" height="3.6" fill="url(#ec11)"/><rect x="1403.2" y="583.53" width="297.2" height="3.6" fill="url(#ec12)"/><rect x="1403.2" y="586.53" width="297.2" height="3.6" fill="url(#ec13)"/><rect x="1403.2" y="589.53" width="297.2" height="3.6" fill="url(#ec14)"/><rect x="1403.2" y="592.53" width="297.2" height="3.6" fill="url(#ec15)"/><rect x="1403.2" y="595.54" width="297.2" height="3.6" fill="url(#ec16)"/><rect x="1403.2" y="598.54" width="297.2" height="3.6" fill="url(#ec17)"/><rect x="1403.2" y="601.54" width="297.2" height="3.6" fill="url(#ec18)"/><rect x="1403.2" y="604.54" width="297.2" height="3.6" fill="url(#ec19)"/><rect x="1403.2" y="607.54" width="297.2" height="3.6" fill="url(#ec20)"/><rect x="1403.2" y="610.55" width="297.2" height="3.6" fill="url(#ec21)"/><rect x="1403.2" y="613.55" width="297.2" height="3.6" fill="url(#ec22)"/><rect x="1403.2" y="616.55" width="297.2" height="3.6" fill="url(#ec23)"/><rect x="1403.2" y="619.55" width="297.2" height="3.6" fill="url(#ec24)"/><rect x="1403.2" y="622.56" width="297.2" height="3.6" fill="url(#ec25)"/><rect x="1403.2" y="625.56" width="297.2" height="3.6" fill="url(#ec26)"/><rect x="1403.2" y="628.56" width="297.2" height="3.6" fill="url(#ec27)"/><rect x="1403.2" y="631.56" width="297.2" height="3.6" fill="url(#ec28)"/><rect x="1403.2" y="634.57" width="297.2" height="3.6" fill="url(#ec29)"/><rect x="1403.2" y="637.57" width="297.2" height="3.6" fill="url(#ec30)"/><rect x="1403.2" y="640.57" width="297.2" height="3.6" fill="url(#ec30)"/><rect x="1403.2" y="643.57" width="297.2" height="3.6" fill="url(#ec31)"/><rect x="1403.2" y="646.57" width="297.2" height="3.6" fill="url(#ec32)"/><rect x="1403.2" y="649.58" width="297.2" height="3.6" fill="url(#ec33)"/><rect x="1403.2" y="652.58" width="297.2" height="3.6" fill="url(#ec34)"/><rect x="1403.2" y="655.58" width="297.2" height="3.6" fill="url(#ec34)"/><rect x="1403.2" y="658.58" width="297.2" height="3.6" fill="url(#ec34)"/><rect x="1403.2" y="661.59" width="297.2" height="3.6" fill="url(#ec34)"/><rect x="1403.2" y="664.59" width="297.2" height="3.6" fill="url(#ec34)"/><rect x="1403.2" y="667.59" width="297.2" height="3.6" fill="url(#ec34)"/><rect x="1403.2" y="670.59" width="297.2" height="3.6" fill="url(#ec34)"/><rect x="1403.2" y="673.59" width="297.2" height="3.6" fill="url(#ec34)"/><rect x="1403.2" y="676.6" width="297.2" height="3.6" fill="url(#ec34)"/><rect x="1403.2" y="679.6" width="297.2" height="3.6" fill="url(#ec34)"/><rect x="1403.2" y="682.6" width="297.2" height="3.6" fill="url(#ec34)"/><rect x="1403.2" y="685.6" width="297.2" height="3.6" fill="url(#ec34)"/><rect x="1403.2" y="688.61" width="297.2" height="3.6" fill="url(#ec34)"/><rect x="1403.2" y="691.61" width="297.2" height="3.6" fill="url(#ec34)"/><rect x="1403.2" y="694.61" width="297.2" height="3.6" fill="url(#ec34)"/><rect x="1403.2" y="697.61" width="297.2" height="3.6" fill="url(#ec34)"/><rect x="1403.2" y="700.61" width="297.2" height="3.6" fill="url(#ec34)"/><rect x="1403.2" y="703.62" width="297.2" height="3.6" fill="url(#ec34)"/><rect x="1403.2" y="706.62" width="297.2" height="3.6" fill="url(#ec34)"/><rect x="1403.2" y="709.62" width="297.2" height="3.6" fill="url(#ec34)"/><rect x="1403.2" y="712.62" width="297.2" height="3.6" fill="url(#ec34)"/><rect x="1403.2" y="715.63" width="297.2" height="3.6" fill="url(#ec34)"/><rect x="1403.2" y="718.63" width="297.2" height="3.6" fill="url(#ec34)"/><rect x="1403.2" y="721.63" width="297.2" height="3.6" fill="url(#ec34)"/><rect x="1403.2" y="724.63" width="297.2" height="3.6" fill="url(#ec34)"/><rect x="1403.2" y="727.63" width="297.2" height="3.6" fill="url(#ec34)"/><rect x="1403.2" y="730.64" width="297.2" height="3.6" fill="url(#ec34)"/><rect x="1403.2" y="733.64" width="297.2" height="3.6" fill="url(#ec34)"/><rect x="1403.2" y="736.64" width="297.2" height="3.6" fill="url(#ec34)"/><rect x="1403.2" y="739.64" width="297.2" height="3.6" fill="url(#ec34)"/><rect x="1403.2" y="742.65" width="297.2" height="3.6" fill="url(#ec34)"/><rect x="1403.2" y="745.65" width="297.2" height="3.6" fill="url(#ec35)"/><rect x="1403.2" y="748.65" width="297.2" height="3.6" fill="url(#ec36)"/><rect x="1403.2" y="751.65" width="297.2" height="3.6" fill="url(#ec37)"/><rect x="1403.2" y="754.66" width="297.2" height="3.6" fill="url(#ec38)"/><rect x="1403.2" y="757.66" width="297.2" height="3.6" fill="url(#ec39)"/><rect x="1403.2" y="760.66" width="297.2" height="3.6" fill="url(#ec39)"/><rect x="1403.2" y="763.66" width="297.2" height="3.6" fill="url(#ec39)"/><rect x="1403.2" y="766.66" width="297.2" height="3.6" fill="url(#ec39)"/><rect x="1403.2" y="769.67" width="297.2" height="3.6" fill="url(#ec39)"/><rect x="1403.2" y="772.67" width="297.2" height="3.6" fill="url(#ec39)"/><rect x="1403.2" y="775.67" width="297.2" height="3.6" fill="url(#ec39)"/><rect x="1403.2" y="778.67" width="297.2" height="3.6" fill="url(#ec39)"/><rect x="1403.2" y="781.68" width="297.2" height="3.6" fill="url(#ec39)"/><rect x="1403.2" y="784.68" width="297.2" height="3.6" fill="url(#ec39)"/><rect x="1403.2" y="787.68" width="297.2" height="3.6" fill="url(#ec39)"/><rect x="1403.2" y="790.68" width="297.2" height="3.6" fill="url(#ec39)"/><rect x="1403.2" y="793.68" width="297.2" height="3.6" fill="url(#ec39)"/><rect x="1403.2" y="796.69" width="297.2" height="3.6" fill="url(#ec39)"/><rect x="1403.2" y="799.69" width="297.2" height="3.6" fill="url(#ec39)"/><rect x="1403.2" y="802.69" width="297.2" height="3.6" fill="url(#ec39)"/><rect x="1403.2" y="805.69" width="297.2" height="3.6" fill="url(#ec39)"/><rect x="1403.2" y="808.7" width="297.2" height="3.6" fill="url(#ec39)"/><rect x="1403.2" y="811.7" width="297.2" height="3.6" fill="url(#ec39)"/><rect x="1403.2" y="814.7" width="297.2" height="3.6" fill="url(#ec39)"/><rect x="1403.2" y="817.7" width="297.2" height="3.6" fill="url(#ec39)"/></g></g>
<path d="M1413.2 815L1413.2 819.5M1447.85 815L1447.85 819.5M1482.5 815L1482.5 819.5M1517.15 815L1517.15 819.5M1551.8 815L1551.8 819.5M1586.45 815L1586.45 819.5M1621.1 815L1621.1 819.5M1655.75 815L1655.75 819.5M1690.4 815L1690.4 819.5M1430.53 815L1430.53 817.5M1465.17 815L1465.17 817.5M1499.83 815L1499.83 817.5M1534.48 815L1534.48 817.5M1569.12 815L1569.12 817.5M1603.78 815L1603.78 817.5M1638.43 815L1638.43 817.5M1673.08 815L1673.08 817.5M1408.7 788.28L1413.2 788.28M1408.7 734.84L1413.2 734.84M1408.7 681.4L1413.2 681.4M1408.7 627.96L1413.2 627.96M1408.7 574.52L1413.2 574.52M1410.7 815L1413.2 815M1410.7 761.56L1413.2 761.56M1410.7 708.12L1413.2 708.12M1410.7 654.68L1413.2 654.68M1410.7 601.24L1413.2 601.24M1410.7 547.8L1413.2 547.8" stroke="#111" stroke-width="1.1" fill="none"/>
<path d="M1413.2 547.8L1413.2 815.5" stroke="#111" stroke-width="1.1"/>
<path d="M1412.7 815L1690.4 815" stroke="#111" stroke-width="1.1"/>
<text x="1413.2" y="838.2" font-size="16.6" text-anchor="middle">-100</text>
<text x="1447.9" y="838.2" font-size="16.6" text-anchor="middle">-75</text>
<text x="1482.5" y="838.2" font-size="16.6" text-anchor="middle">-50</text>
<text x="1517.2" y="838.2" font-size="16.6" text-anchor="middle">-25</text>
<text x="1551.8" y="838.2" font-size="16.6" text-anchor="middle">0</text>
<text x="1586.5" y="838.2" font-size="16.6" text-anchor="middle">25</text>
<text x="1621.1" y="838.2" font-size="16.6" text-anchor="middle">50</text>
<text x="1655.8" y="838.2" font-size="16.6" text-anchor="middle">75</text>
<text x="1690.4" y="838.2" font-size="16.6" text-anchor="middle">100</text>
<text x="1404.7" y="794.2" font-size="16.6" text-anchor="end">-20</text>
<text x="1404.7" y="740.7" font-size="16.6" text-anchor="end">-10</text>
<text x="1404.7" y="687.3" font-size="16.6" text-anchor="end">0</text>
<text x="1404.7" y="633.9" font-size="16.6" text-anchor="end">10</text>
<text x="1404.7" y="580.4" font-size="16.6" text-anchor="end">20</text>
<text x="1550.3" y="869" font-size="22" text-anchor="middle">y (nm)</text>
<text font-size="22" text-anchor="middle" transform="translate(1366.2 681.9) rotate(-90)">z (nm)</text>
<text x="1432.5" y="520" font-size="28" textLength="220" lengthAdjust="spacingAndGlyphs">9.60 μm, 0.40 eV</text>
<defs><linearGradient id="cbe" x1="0" y1="1" x2="0" y2="0"><stop offset="0" stop-color="#160000"/><stop offset=".25" stop-color="#ff0000"/><stop offset=".75" stop-color="#ffff00"/><stop offset="1" stop-color="#ffffff"/></linearGradient></defs>
<rect x="1720.3" y="552" width="16.2" height="268.3" fill="url(#cbe)"/>
<text x="1743" y="558.5" font-size="15">23</text>
<text x="1743" y="595.5" font-size="15">20</text>
<text x="1743" y="640.3" font-size="15">16</text>
<text x="1743" y="685.8" font-size="15">12</text>
<text x="1743" y="731.5" font-size="15">7.8</text>
<text x="1743" y="776.5" font-size="15">3.9</text>
<text x="1743" y="821.5" font-size="15">0.0</text>
<text x="1725" y="513.5" font-size="26" text-anchor="middle">|<tspan font-family="Liberation Serif,serif" font-style="italic" font-size="27">E</tspan>|</text>
<text x="631" y="524.5" font-size="44" textLength="52" lengthAdjust="spacingAndGlyphs" stroke="#111" stroke-width=".5">(e)</text>
<defs><linearGradient id="fa0" gradientUnits="userSpaceOnUse" x1="135.7" x2="553.5"><stop offset="0" stop-color="#1a1aff"/><stop offset=".029" stop-color="#1a1aff"/><stop offset=".043" stop-color="#2f2fff"/><stop offset=".05" stop-color="#4141ff"/><stop offset=".071" stop-color="#a6a6ff"/><stop offset=".079" stop-color="#a0a0ff"/><stop offset=".1" stop-color="#3131ff"/><stop offset=".114" stop-color="#2f2fff"/><stop offset=".243" stop-color="#5151ff"/><stop offset=".386" stop-color="#b5b5ff"/><stop offset=".45" stop-color="#e6e6ff"/><stop offset=".5" stop-color="#ffffff"/><stop offset=".571" stop-color="#ffd7d7"/><stop offset=".686" stop-color="#ff8181"/><stop offset=".771" stop-color="#ff4a4a"/><stop offset=".893" stop-color="#ff2d2d"/><stop offset=".9" stop-color="#ff3131"/><stop offset=".921" stop-color="#ffa0a0"/><stop offset=".929" stop-color="#ffa6a6"/><stop offset=".95" stop-color="#ff4141"/><stop offset=".964" stop-color="#ff2323"/><stop offset=".971" stop-color="#ff1a1a"/><stop offset="1" stop-color="#ff1a1a"/></linearGradient><linearGradient id="fa1" gradientUnits="userSpaceOnUse" x1="135.7" x2="553.5"><stop offset="0" stop-color="#2727ff"/><stop offset=".029" stop-color="#2727ff"/><stop offset=".043" stop-color="#3a3aff"/><stop offset=".05" stop-color="#4b4bff"/><stop offset=".071" stop-color="#ababff"/><stop offset=".079" stop-color="#a5a5ff"/><stop offset=".1" stop-color="#3c3cff"/><stop offset=".114" stop-color="#3a3aff"/><stop offset=".243" stop-color="#5a5aff"/><stop offset=".386" stop-color="#b9b9ff"/><stop offset=".457" stop-color="#eaeaff"/><stop offset=".5" stop-color="#ffffff"/><stop offset=".571" stop-color="#ffd9d9"/><stop offset=".693" stop-color="#ff8383"/><stop offset=".771" stop-color="#ff5454"/><stop offset=".893" stop-color="#ff3838"/><stop offset=".9" stop-color="#ff3c3c"/><stop offset=".921" stop-color="#ffa5a5"/><stop offset=".929" stop-color="#ffabab"/><stop offset=".95" stop-color="#ff4b4b"/><stop offset=".964" stop-color="#ff2f2f"/><stop offset=".971" stop-color="#ff2727"/><stop offset="1" stop-color="#ff2727"/></linearGradient><linearGradient id="fa2" gradientUnits="userSpaceOnUse" x1="135.7" x2="553.5"><stop offset="0" stop-color="#3333ff"/><stop offset=".029" stop-color="#3333ff"/><stop offset=".043" stop-color="#4545ff"/><stop offset=".05" stop-color="#5555ff"/><stop offset=".071" stop-color="#afafff"/><stop offset=".079" stop-color="#aaaaff"/><stop offset=".1" stop-color="#4747ff"/><stop offset=".114" stop-color="#4545ff"/><stop offset=".243" stop-color="#6363ff"/><stop offset=".393" stop-color="#c2c2ff"/><stop offset=".457" stop-color="#ececff"/><stop offset=".5" stop-color="#ffffff"/><stop offset=".571" stop-color="#ffdbdb"/><stop offset=".7" stop-color="#ff8686"/><stop offset=".771" stop-color="#ff5e5e"/><stop offset=".893" stop-color="#ff4444"/><stop offset=".9" stop-color="#ff4747"/><stop offset=".921" stop-color="#ffaaaa"/><stop offset=".929" stop-color="#ffafaf"/><stop offset=".95" stop-color="#ff5555"/><stop offset=".964" stop-color="#ff3b3b"/><stop offset=".971" stop-color="#ff3333"/><stop offset="1" stop-color="#ff3333"/></linearGradient><linearGradient id="fa3" gradientUnits="userSpaceOnUse" x1="135.7" x2="553.5"><stop offset="0" stop-color="#3f3fff"/><stop offset=".029" stop-color="#3f3fff"/><stop offset=".043" stop-color="#5050ff"/><stop offset=".05" stop-color="#5f5fff"/><stop offset=".071" stop-color="#b4b4ff"/><stop offset=".079" stop-color="#afafff"/><stop offset=".1" stop-color="#5252ff"/><stop offset=".121" stop-color="#5252ff"/><stop offset=".243" stop-color="#6d6dff"/><stop offset=".393" stop-color="#c6c6ff"/><stop offset=".457" stop-color="#ededff"/><stop offset=".5" stop-color="#ffffff"/><stop offset=".571" stop-color="#ffdddd"/><stop offset=".7" stop-color="#ff8d8d"/><stop offset=".771" stop-color="#ff6767"/><stop offset=".893" stop-color="#ff4f4f"/><stop offset=".9" stop-color="#ff5252"/><stop offset=".921" stop-color="#ffafaf"/><stop offset=".929" stop-color="#ffb4b4"/><stop offset=".95" stop-color="#ff5f5f"/><stop offset=".964" stop-color="#ff4646"/><stop offset=".971" stop-color="#ff3f3f"/><stop offset="1" stop-color="#ff3f3f"/></linearGradient><linearGradient id="fa4" gradientUnits="userSpaceOnUse" x1="135.7" x2="553.5"><stop offset="0" stop-color="#4b4bff"/><stop offset=".029" stop-color="#4b4bff"/><stop offset=".043" stop-color="#5b5bff"/><stop offset=".05" stop-color="#6969ff"/><stop offset=".071" stop-color="#b9b9ff"/><stop offset=".079" stop-color="#b4b4ff"/><stop offset=".1" stop-color="#5c5cff"/><stop offset=".121" stop-color="#5c5cff"/><stop offset=".243" stop-color="#7676ff"/><stop offset=".4" stop-color="#ceceff"/><stop offset=".457" stop-color="#eeeeff"/><stop offset=".5" stop-color="#ffffff"/><stop offset=".571" stop-color="#ffe0e0"/><stop offset=".707" stop-color="#ff9090"/><stop offset=".771" stop-color="#ff7171"/><stop offset=".893" stop-color="#ff5a5a"/><stop offset=".9" stop-color="#ff5c5c"/><stop offset=".921" stop-color="#ffb4b4"/><stop offset=".929" stop-color="#ffb9b9"/><stop offset=".95" stop-color="#ff6969"/><stop offset=".964" stop-color="#ff5252"/><stop offset=".971" stop-color="#ff4b4b"/><stop offset="1" stop-color="#ff4b4b"/></linearGradient><linearGradient id="fa5" gradientUnits="userSpaceOnUse" x1="135.7" x2="553.5"><stop offset="0" stop-color="#5757ff"/><stop offset=".029" stop-color="#5757ff"/><stop offset=".043" stop-color="#6666ff"/><stop offset=".05" stop-color="#7373ff"/><stop offset=".071" stop-color="#bebeff"/><stop offset=".079" stop-color="#b9b9ff"/><stop offset=".1" stop-color="#6767ff"/><stop offset=".136" stop-color="#6a6aff"/><stop offset=".243" stop-color="#7f7fff"/><stop offset=".407" stop-color="#d5d5ff"/><stop offset=".464" stop-color="#f2f2ff"/><stop offset=".5" stop-color="#ffffff"/><stop offset=".579" stop-color="#ffdede"/><stop offset=".729" stop-color="#ff8d8d"/><stop offset=".771" stop-color="#ff7a7a"/><stop offset=".893" stop-color="#ff6565"/><stop offset=".9" stop-color="#ff6767"/><stop offset=".921" stop-color="#ffb9b9"/><stop offset=".929" stop-color="#ffbebe"/><stop offset=".95" stop-color="#ff7373"/><stop offset=".964" stop-color="#ff5d5d"/><stop offset=".971" stop-color="#ff5757"/><stop offset="1" stop-color="#ff5757"/></linearGradient><linearGradient id="fa6" gradientUnits="userSpaceOnUse" x1="135.7" x2="553.5"><stop offset="0" stop-color="#6b6bff"/><stop offset=".029" stop-color="#6b6bff"/><stop offset=".043" stop-color="#7979ff"/><stop offset=".05" stop-color="#8484ff"/><stop offset=".071" stop-color="#c5c5ff"/><stop offset=".079" stop-color="#c1c1ff"/><stop offset=".1" stop-color="#7a7aff"/><stop offset=".179" stop-color="#8282ff"/><stop offset=".243" stop-color="#8e8eff"/><stop offset=".421" stop-color="#e2e2ff"/><stop offset=".5" stop-color="#ffffff"/><stop offset=".579" stop-color="#ffe2e2"/><stop offset=".757" stop-color="#ff8e8e"/><stop offset=".893" stop-color="#ff7777"/><stop offset=".9" stop-color="#ff7a7a"/><stop offset=".921" stop-color="#ffc1c1"/><stop offset=".929" stop-color="#ffc5c5"/><stop offset=".95" stop-color="#ff8484"/><stop offset=".964" stop-color="#ff7171"/><stop offset=".979" stop-color="#ff6b6b"/><stop offset="1" stop-color="#ff6b6b"/></linearGradient><linearGradient id="fa7" gradientUnits="userSpaceOnUse" x1="135.7" x2="553.5"><stop offset="0" stop-color="#8383ff"/><stop offset=".029" stop-color="#8383ff"/><stop offset=".05" stop-color="#9898ff"/><stop offset=".071" stop-color="#cfcfff"/><stop offset=".079" stop-color="#cbcbff"/><stop offset=".1" stop-color="#8f8fff"/><stop offset=".243" stop-color="#a0a0ff"/><stop offset=".471" stop-color="#f7f7ff"/><stop offset=".507" stop-color="#fffefe"/><stop offset=".6" stop-color="#ffdddd"/><stop offset=".771" stop-color="#ff9d9d"/><stop offset=".9" stop-color="#ff8f8f"/><stop offset=".921" stop-color="#ffcbcb"/><stop offset=".929" stop-color="#ffcfcf"/><stop offset=".95" stop-color="#ff9898"/><stop offset=".971" stop-color="#ff8383"/><stop offset="1" stop-color="#ff8383"/></linearGradient><linearGradient id="fa8" gradientUnits="userSpaceOnUse" x1="135.7" x2="553.5"><stop offset="0" stop-color="#9b9bff"/><stop offset=".029" stop-color="#9b9bff"/><stop offset=".05" stop-color="#acacff"/><stop offset=".071" stop-color="#d8d8ff"/><stop offset=".079" stop-color="#d5d5ff"/><stop offset=".1" stop-color="#a4a4ff"/><stop offset=".25" stop-color="#b5b5ff"/><stop offset=".479" stop-color="#fafaff"/><stop offset=".507" stop-color="#fffefe"/><stop offset=".621" stop-color="#ffdcdc"/><stop offset=".779" stop-color="#ffafaf"/><stop offset=".9" stop-color="#ffa4a4"/><stop offset=".921" stop-color="#ffd5d5"/><stop offset=".929" stop-color="#ffd8d8"/><stop offset=".95" stop-color="#ffacac"/><stop offset=".971" stop-color="#ff9b9b"/><stop offset="1" stop-color="#ff9b9b"/></linearGradient><linearGradient id="fa9" gradientUnits="userSpaceOnUse" x1="135.7" x2="553.5"><stop offset="0" stop-color="#b2b2ff"/><stop offset=".036" stop-color="#b5b5ff"/><stop offset=".05" stop-color="#bfbfff"/><stop offset=".071" stop-color="#e1e1ff"/><stop offset=".079" stop-color="#dfdfff"/><stop offset=".1" stop-color="#babaff"/><stop offset=".257" stop-color="#c8c8ff"/><stop offset=".493" stop-color="#ffffff"/><stop offset=".593" stop-color="#ffecec"/><stop offset=".779" stop-color="#ffc2c2"/><stop offset=".9" stop-color="#ffbaba"/><stop offset=".921" stop-color="#ffdfdf"/><stop offset=".929" stop-color="#ffe1e1"/><stop offset=".95" stop-color="#ffbfbf"/><stop offset=".971" stop-color="#ffb2b2"/><stop offset="1" stop-color="#ffb2b2"/></linearGradient><linearGradient id="fa10" gradientUnits="userSpaceOnUse" x1="135.7" x2="553.5"><stop offset="0" stop-color="#c3c3ff"/><stop offset=".029" stop-color="#c6c6ff"/><stop offset=".05" stop-color="#d3d3ff"/><stop offset=".071" stop-color="#f0f0ff"/><stop offset=".079" stop-color="#efefff"/><stop offset=".1" stop-color="#d0d0ff"/><stop offset=".193" stop-color="#d1d1ff"/><stop offset=".314" stop-color="#e1e1ff"/><stop offset=".5" stop-color="#ffffff"/><stop offset=".793" stop-color="#ffd2d2"/><stop offset=".893" stop-color="#ffcece"/><stop offset=".9" stop-color="#ffd0d0"/><stop offset=".921" stop-color="#ffefef"/><stop offset=".929" stop-color="#fff0f0"/><stop offset=".95" stop-color="#ffd3d3"/><stop offset=".979" stop-color="#ffc4c4"/><stop offset="1" stop-color="#ffc3c3"/></linearGradient><linearGradient id="fa11" gradientUnits="userSpaceOnUse" x1="135.7" x2="553.5"><stop offset="0" stop-color="#ceceff"/><stop offset=".021" stop-color="#d1d1ff"/><stop offset=".05" stop-color="#e7e7ff"/><stop offset=".064" stop-color="#fbfbff"/><stop offset=".079" stop-color="#fffafa"/><stop offset=".086" stop-color="#ffffff"/><stop offset=".1" stop-color="#e7e7ff"/><stop offset=".121" stop-color="#e0e0ff"/><stop offset=".3" stop-color="#eaeaff"/><stop offset=".507" stop-color="#ffffff"/><stop offset=".814" stop-color="#ffe2e2"/><stop offset=".893" stop-color="#ffe2e2"/><stop offset=".9" stop-color="#ffe7e7"/><stop offset=".914" stop-color="#ffffff"/><stop offset=".921" stop-color="#fafaff"/><stop offset=".936" stop-color="#fffbfb"/><stop offset=".957" stop-color="#ffe1e1"/><stop offset=".986" stop-color="#ffcece"/><stop offset="1" stop-color="#ffcece"/></linearGradient><linearGradient id="fa12" gradientUnits="userSpaceOnUse" x1="135.7" x2="553.5"><stop offset="0" stop-color="#d8d8ff"/><stop offset=".021" stop-color="#ddddff"/><stop offset=".043" stop-color="#f5f5ff"/><stop offset=".05" stop-color="#fbfbff"/><stop offset=".057" stop-color="#fff8f8"/><stop offset=".071" stop-color="#ffe7e7"/><stop offset=".086" stop-color="#ffebeb"/><stop offset=".1" stop-color="#fefeff"/><stop offset=".114" stop-color="#f3f3ff"/><stop offset=".357" stop-color="#f8f8ff"/><stop offset=".543" stop-color="#fffefe"/><stop offset=".879" stop-color="#fff2f2"/><stop offset=".893" stop-color="#fff7f7"/><stop offset=".9" stop-color="#fffefe"/><stop offset=".914" stop-color="#ebebff"/><stop offset=".929" stop-color="#e7e7ff"/><stop offset=".943" stop-color="#f8f8ff"/><stop offset=".95" stop-color="#fffbfb"/><stop offset=".964" stop-color="#fff0f0"/><stop offset=".979" stop-color="#ffdddd"/><stop offset="1" stop-color="#ffd8d8"/></linearGradient><linearGradient id="fa13" gradientUnits="userSpaceOnUse" x1="135.7" x2="553.5"><stop offset="0" stop-color="#e3e3ff"/><stop offset=".014" stop-color="#e4e4ff"/><stop offset=".029" stop-color="#f5f5ff"/><stop offset=".036" stop-color="#fff9f9"/><stop offset=".071" stop-color="#ffd3d3"/><stop offset=".086" stop-color="#ffd6d6"/><stop offset=".114" stop-color="#fff4f4"/><stop offset=".221" stop-color="#fffafa"/><stop offset=".579" stop-color="#fdfdff"/><stop offset=".879" stop-color="#f7f7ff"/><stop offset=".9" stop-color="#e7e7ff"/><stop offset=".914" stop-color="#d6d6ff"/><stop offset=".929" stop-color="#d3d3ff"/><stop offset=".964" stop-color="#f9f9ff"/><stop offset=".971" stop-color="#fff5f5"/><stop offset=".986" stop-color="#ffe4e4"/><stop offset="1" stop-color="#ffe3e3"/></linearGradient><linearGradient id="fa14" gradientUnits="userSpaceOnUse" x1="135.7" x2="553.5"><stop offset="0" stop-color="#ededff"/><stop offset=".014" stop-color="#efefff"/><stop offset=".021" stop-color="#f6f6ff"/><stop offset=".029" stop-color="#fff1f1"/><stop offset=".036" stop-color="#ffdbdb"/><stop offset=".071" stop-color="#ffbfbf"/><stop offset=".086" stop-color="#ffc1c1"/><stop offset=".114" stop-color="#ffd8d8"/><stop offset=".486" stop-color="#fffcfc"/><stop offset=".507" stop-color="#fefeff"/><stop offset=".75" stop-color="#e3e3ff"/><stop offset=".886" stop-color="#d8d8ff"/><stop offset=".921" stop-color="#bebeff"/><stop offset=".936" stop-color="#c3c3ff"/><stop offset=".964" stop-color="#dbdbff"/><stop offset=".971" stop-color="#f1f1ff"/><stop offset=".979" stop-color="#fff6f6"/><stop offset=".986" stop-color="#ffefef"/><stop offset="1" stop-color="#ffeded"/></linearGradient><linearGradient id="fa15" gradientUnits="userSpaceOnUse" x1="135.7" x2="553.5"><stop offset="0" stop-color="#f8f8ff"/><stop offset=".014" stop-color="#f9f9ff"/><stop offset=".021" stop-color="#ffefef"/><stop offset=".029" stop-color="#ffcccc"/><stop offset=".036" stop-color="#ffbebe"/><stop offset=".071" stop-color="#ffabab"/><stop offset=".093" stop-color="#ffb0b0"/><stop offset=".121" stop-color="#ffbdbd"/><stop offset=".35" stop-color="#ffdcdc"/><stop offset=".486" stop-color="#fff9f9"/><stop offset=".507" stop-color="#fefeff"/><stop offset=".6" stop-color="#e5e5ff"/><stop offset=".864" stop-color="#bdbdff"/><stop offset=".893" stop-color="#b9b9ff"/><stop offset=".921" stop-color="#aaaaff"/><stop offset=".95" stop-color="#b6b6ff"/><stop offset=".964" stop-color="#bebeff"/><stop offset=".971" stop-color="#ccccff"/><stop offset=".979" stop-color="#efefff"/><stop offset=".986" stop-color="#fff9f9"/><stop offset="1" stop-color="#fff8f8"/></linearGradient><linearGradient id="fa16" gradientUnits="userSpaceOnUse" x1="135.7" x2="553.5"><stop offset="0" stop-color="#ffefef"/><stop offset=".007" stop-color="#ffeded"/><stop offset=".014" stop-color="#ffe0e0"/><stop offset=".021" stop-color="#ffbcbc"/><stop offset=".029" stop-color="#ffa7a7"/><stop offset=".043" stop-color="#ff9e9e"/><stop offset=".086" stop-color="#ff9898"/><stop offset=".136" stop-color="#ffa0a0"/><stop offset=".364" stop-color="#ffd0d0"/><stop offset=".486" stop-color="#fff7f7"/><stop offset=".5" stop-color="#ffffff"/><stop offset=".564" stop-color="#e4e4ff"/><stop offset=".821" stop-color="#a6a6ff"/><stop offset=".929" stop-color="#9797ff"/><stop offset=".964" stop-color="#a0a0ff"/><stop offset=".971" stop-color="#a7a7ff"/><stop offset=".979" stop-color="#bcbcff"/><stop offset=".986" stop-color="#e0e0ff"/><stop offset=".993" stop-color="#ededff"/><stop offset="1" stop-color="#efefff"/></linearGradient><linearGradient id="fa17" gradientUnits="userSpaceOnUse" x1="135.7" x2="553.5"><stop offset="0" stop-color="#ffc1c1"/><stop offset=".007" stop-color="#ffb9b9"/><stop offset=".021" stop-color="#ff8c8c"/><stop offset=".029" stop-color="#ff8484"/><stop offset=".157" stop-color="#ff8686"/><stop offset=".407" stop-color="#ffd2d2"/><stop offset=".486" stop-color="#fff4f4"/><stop offset=".5" stop-color="#ffffff"/><stop offset=".55" stop-color="#e3e3ff"/><stop offset=".743" stop-color="#a2a2ff"/><stop offset=".864" stop-color="#8484ff"/><stop offset=".971" stop-color="#8484ff"/><stop offset=".979" stop-color="#8c8cff"/><stop offset=".993" stop-color="#b9b9ff"/><stop offset="1" stop-color="#c1c1ff"/></linearGradient><linearGradient id="fa18" gradientUnits="userSpaceOnUse" x1="135.7" x2="553.5"><stop offset="0" stop-color="#ffbebe"/><stop offset=".007" stop-color="#ffb6b6"/><stop offset=".021" stop-color="#ff8686"/><stop offset=".029" stop-color="#ff7d7d"/><stop offset=".157" stop-color="#ff8080"/><stop offset=".4" stop-color="#ffcccc"/><stop offset=".486" stop-color="#fff4f4"/><stop offset=".5" stop-color="#ffffff"/><stop offset=".543" stop-color="#e4e4ff"/><stop offset=".714" stop-color="#a5a5ff"/><stop offset=".857" stop-color="#7d7dff"/><stop offset=".971" stop-color="#7d7dff"/><stop offset=".979" stop-color="#8686ff"/><stop offset=".993" stop-color="#b6b6ff"/><stop offset="1" stop-color="#bebeff"/></linearGradient><linearGradient id="fa19" gradientUnits="userSpaceOnUse" x1="135.7" x2="553.5"><stop offset="0" stop-color="#ffbbbb"/><stop offset=".007" stop-color="#ffb2b2"/><stop offset=".021" stop-color="#ff7f7f"/><stop offset=".036" stop-color="#ff5858"/><stop offset=".05" stop-color="#ff7474"/><stop offset=".157" stop-color="#ff7979"/><stop offset=".4" stop-color="#ffcaca"/><stop offset=".486" stop-color="#fff3f3"/><stop offset=".5" stop-color="#ffffff"/><stop offset=".543" stop-color="#e3e3ff"/><stop offset=".707" stop-color="#a3a3ff"/><stop offset=".857" stop-color="#7676ff"/><stop offset=".95" stop-color="#7474ff"/><stop offset=".964" stop-color="#5858ff"/><stop offset=".979" stop-color="#7f7fff"/><stop offset=".993" stop-color="#b2b2ff"/><stop offset="1" stop-color="#bbbbff"/></linearGradient><linearGradient id="fa20" gradientUnits="userSpaceOnUse" x1="135.7" x2="553.5"><stop offset="0" stop-color="#ffbebe"/><stop offset=".007" stop-color="#ffb7b7"/><stop offset=".029" stop-color="#ff7c7c"/><stop offset=".036" stop-color="#ff6d6d"/><stop offset=".05" stop-color="#ff8585"/><stop offset=".157" stop-color="#ff8a8a"/><stop offset=".407" stop-color="#ffd3d3"/><stop offset=".486" stop-color="#fff5f5"/><stop offset=".5" stop-color="#ffffff"/><stop offset=".55" stop-color="#e3e3ff"/><stop offset=".743" stop-color="#a4a4ff"/><stop offset=".864" stop-color="#8787ff"/><stop offset=".95" stop-color="#8585ff"/><stop offset=".964" stop-color="#6d6dff"/><stop offset=".979" stop-color="#8e8eff"/><stop offset=".993" stop-color="#b7b7ff"/><stop offset="1" stop-color="#bebeff"/></linearGradient><linearGradient id="fa21" gradientUnits="userSpaceOnUse" x1="135.7" x2="553.5"><stop offset="0" stop-color="#ff0000"/><stop offset=".007" stop-color="#ffb0b0"/><stop offset=".036" stop-color="#ff8282"/><stop offset=".05" stop-color="#ff9797"/><stop offset=".164" stop-color="#ff9c9c"/><stop offset=".421" stop-color="#ffdede"/><stop offset=".486" stop-color="#fff6f6"/><stop offset=".5" stop-color="#ffffff"/><stop offset=".557" stop-color="#e5e5ff"/><stop offset=".786" stop-color="#a7a7ff"/><stop offset=".864" stop-color="#9898ff"/><stop offset=".95" stop-color="#9797ff"/><stop offset=".964" stop-color="#8282ff"/><stop offset=".993" stop-color="#b0b0ff"/><stop offset="1" stop-color="#0000ff"/></linearGradient><linearGradient id="fa22" gradientUnits="userSpaceOnUse" x1="135.7" x2="553.5"><stop offset="0" stop-color="#ff0000"/><stop offset=".007" stop-color="#ff1313"/><stop offset=".014" stop-color="#ffa4a4"/><stop offset=".029" stop-color="#ff9898"/><stop offset=".036" stop-color="#ff8c8c"/><stop offset=".05" stop-color="#ff9f9f"/><stop offset=".164" stop-color="#ffa4a4"/><stop offset=".429" stop-color="#ffe2e2"/><stop offset=".486" stop-color="#fff7f7"/><stop offset=".5" stop-color="#ffffff"/><stop offset=".564" stop-color="#e5e5ff"/><stop offset=".821" stop-color="#a7a7ff"/><stop offset=".879" stop-color="#a1a1ff"/><stop offset=".95" stop-color="#9f9fff"/><stop offset=".964" stop-color="#8c8cff"/><stop offset=".979" stop-color="#a1a1ff"/><stop offset=".986" stop-color="#a4a4ff"/><stop offset=".993" stop-color="#1313ff"/><stop offset="1" stop-color="#0000ff"/></linearGradient><linearGradient id="fa23" gradientUnits="userSpaceOnUse" x1="135.7" x2="553.5"><stop offset="0" stop-color="#ff0000"/><stop offset=".007" stop-color="#ff0000"/><stop offset=".014" stop-color="#ffa1a1"/><stop offset=".021" stop-color="#ffa0a0"/><stop offset=".036" stop-color="#ff8c8c"/><stop offset=".05" stop-color="#ff9f9f"/><stop offset=".164" stop-color="#ffa4a4"/><stop offset=".429" stop-color="#ffe2e2"/><stop offset=".486" stop-color="#fff7f7"/><stop offset=".5" stop-color="#ffffff"/><stop offset=".564" stop-color="#e5e5ff"/><stop offset=".821" stop-color="#a7a7ff"/><stop offset=".879" stop-color="#a1a1ff"/><stop offset=".95" stop-color="#9f9fff"/><stop offset=".964" stop-color="#8c8cff"/><stop offset=".979" stop-color="#a0a0ff"/><stop offset=".986" stop-color="#a1a1ff"/><stop offset=".993" stop-color="#0000ff"/><stop offset="1" stop-color="#0000ff"/></linearGradient><linearGradient id="fa24" gradientUnits="userSpaceOnUse" x1="135.7" x2="553.5"><stop offset="0" stop-color="#ff0000"/><stop offset=".007" stop-color="#ff0000"/><stop offset=".014" stop-color="#ff7171"/><stop offset=".021" stop-color="#ffa0a0"/><stop offset=".036" stop-color="#ff8c8c"/><stop offset=".05" stop-color="#ff9f9f"/><stop offset=".164" stop-color="#ffa4a4"/><stop offset=".429" stop-color="#ffe2e2"/><stop offset=".486" stop-color="#fff7f7"/><stop offset=".5" stop-color="#ffffff"/><stop offset=".564" stop-color="#e5e5ff"/><stop offset=".821" stop-color="#a7a7ff"/><stop offset=".879" stop-color="#a1a1ff"/><stop offset=".95" stop-color="#9f9fff"/><stop offset=".964" stop-color="#8c8cff"/><stop offset=".979" stop-color="#a0a0ff"/><stop offset=".986" stop-color="#7171ff"/><stop offset=".993" stop-color="#0000ff"/><stop offset="1" stop-color="#0000ff"/></linearGradient><linearGradient id="fa25" gradientUnits="userSpaceOnUse" x1="135.7" x2="553.5"><stop offset="0" stop-color="#ff0000"/><stop offset=".007" stop-color="#ff0000"/><stop offset=".014" stop-color="#ff2121"/><stop offset=".021" stop-color="#ffa0a0"/><stop offset=".036" stop-color="#ff8c8c"/><stop offset=".05" stop-color="#ff9f9f"/><stop offset=".164" stop-color="#ffa4a4"/><stop offset=".429" stop-color="#ffe2e2"/><stop offset=".486" stop-color="#fff7f7"/><stop offset=".5" stop-color="#ffffff"/><stop offset=".564" stop-color="#e5e5ff"/><stop offset=".821" stop-color="#a7a7ff"/><stop offset=".879" stop-color="#a1a1ff"/><stop offset=".95" stop-color="#9f9fff"/><stop offset=".964" stop-color="#8c8cff"/><stop offset=".979" stop-color="#a0a0ff"/><stop offset=".986" stop-color="#2121ff"/><stop offset=".993" stop-color="#0000ff"/><stop offset="1" stop-color="#0000ff"/></linearGradient><linearGradient id="fa26" gradientUnits="userSpaceOnUse" x1="135.7" x2="553.5"><stop offset="0" stop-color="#ff0000"/><stop offset=".014" stop-color="#ff0101"/><stop offset=".021" stop-color="#ffa0a0"/><stop offset=".036" stop-color="#ff8c8c"/><stop offset=".05" stop-color="#ff9f9f"/><stop offset=".164" stop-color="#ffa4a4"/><stop offset=".429" stop-color="#ffe2e2"/><stop offset=".486" stop-color="#fff7f7"/><stop offset=".5" stop-color="#ffffff"/><stop offset=".564" stop-color="#e5e5ff"/><stop offset=".821" stop-color="#a7a7ff"/><stop offset=".879" stop-color="#a1a1ff"/><stop offset=".95" stop-color="#9f9fff"/><stop offset=".964" stop-color="#8c8cff"/><stop offset=".979" stop-color="#a0a0ff"/><stop offset=".986" stop-color="#0101ff"/><stop offset="1" stop-color="#0000ff"/></linearGradient><linearGradient id="fa27" gradientUnits="userSpaceOnUse" x1="135.7" x2="553.5"><stop offset="0" stop-color="#ff0000"/><stop offset=".014" stop-color="#ff0000"/><stop offset=".021" stop-color="#ffa0a0"/><stop offset=".036" stop-color="#ff8c8c"/><stop offset=".05" stop-color="#ff9f9f"/><stop offset=".164" stop-color="#ffa4a4"/><stop offset=".429" stop-color="#ffe2e2"/><stop offset=".486" stop-color="#fff7f7"/><stop offset=".5" stop-color="#ffffff"/><stop offset=".564" stop-color="#e5e5ff"/><stop offset=".821" stop-color="#a7a7ff"/><stop offset=".879" stop-color="#a1a1ff"/><stop offset=".95" stop-color="#9f9fff"/><stop offset=".964" stop-color="#8c8cff"/><stop offset=".979" stop-color="#a0a0ff"/><stop offset=".986" stop-color="#0000ff"/><stop offset="1" stop-color="#0000ff"/></linearGradient><linearGradient id="fa28" gradientUnits="userSpaceOnUse" x1="135.7" x2="553.5"><stop offset="0" stop-color="#ff0000"/><stop offset=".014" stop-color="#ff0000"/><stop offset=".021" stop-color="#ff9999"/><stop offset=".029" stop-color="#ff9898"/><stop offset=".036" stop-color="#ff8c8c"/><stop offset=".05" stop-color="#ff9f9f"/><stop offset=".164" stop-color="#ffa4a4"/><stop offset=".429" stop-color="#ffe2e2"/><stop offset=".486" stop-color="#fff7f7"/><stop offset=".5" stop-color="#ffffff"/><stop offset=".564" stop-color="#e5e5ff"/><stop offset=".821" stop-color="#a7a7ff"/><stop offset=".879" stop-color="#a1a1ff"/><stop offset=".95" stop-color="#9f9fff"/><stop offset=".964" stop-color="#8c8cff"/><stop offset=".971" stop-color="#9898ff"/><stop offset=".979" stop-color="#9999ff"/><stop offset=".986" stop-color="#0000ff"/><stop offset="1" stop-color="#0000ff"/></linearGradient><linearGradient id="fa29" gradientUnits="userSpaceOnUse" x1="135.7" x2="553.5"><stop offset="0" stop-color="#ff0000"/><stop offset=".014" stop-color="#ff0000"/><stop offset=".021" stop-color="#ff7e7e"/><stop offset=".029" stop-color="#ff9898"/><stop offset=".036" stop-color="#ff8c8c"/><stop offset=".05" stop-color="#ff9f9f"/><stop offset=".164" stop-color="#ffa4a4"/><stop offset=".429" stop-color="#ffe2e2"/><stop offset=".486" stop-color="#fff7f7"/><stop offset=".5" stop-color="#ffffff"/><stop offset=".564" stop-color="#e5e5ff"/><stop offset=".821" stop-color="#a7a7ff"/><stop offset=".879" stop-color="#a1a1ff"/><stop offset=".95" stop-color="#9f9fff"/><stop offset=".964" stop-color="#8c8cff"/><stop offset=".971" stop-color="#9898ff"/><stop offset=".979" stop-color="#7e7eff"/><stop offset=".986" stop-color="#0000ff"/><stop offset="1" stop-color="#0000ff"/></linearGradient><linearGradient id="fa30" gradientUnits="userSpaceOnUse" x1="135.7" x2="553.5"><stop offset="0" stop-color="#ff0000"/><stop offset=".014" stop-color="#ff0000"/><stop offset=".021" stop-color="#ff6969"/><stop offset=".029" stop-color="#ff9898"/><stop offset=".036" stop-color="#ff8c8c"/><stop offset=".05" stop-color="#ff9f9f"/><stop offset=".164" stop-color="#ffa4a4"/><stop offset=".429" stop-color="#ffe2e2"/><stop offset=".486" stop-color="#fff7f7"/><stop offset=".5" stop-color="#ffffff"/><stop offset=".564" stop-color="#e5e5ff"/><stop offset=".821" stop-color="#a7a7ff"/><stop offset=".879" stop-color="#a1a1ff"/><stop offset=".95" stop-color="#9f9fff"/><stop offset=".964" stop-color="#8c8cff"/><stop offset=".971" stop-color="#9898ff"/><stop offset=".979" stop-color="#6969ff"/><stop offset=".986" stop-color="#0000ff"/><stop offset="1" stop-color="#0000ff"/></linearGradient><linearGradient id="fa31" gradientUnits="userSpaceOnUse" x1="135.7" x2="553.5"><stop offset="0" stop-color="#ff0000"/><stop offset=".014" stop-color="#ff0000"/><stop offset=".021" stop-color="#ff5858"/><stop offset=".029" stop-color="#ff9898"/><stop offset=".036" stop-color="#ff8c8c"/><stop offset=".05" stop-color="#ff9f9f"/><stop offset=".164" stop-color="#ffa4a4"/><stop offset=".429" stop-color="#ffe2e2"/><stop offset=".486" stop-color="#fff7f7"/><stop offset=".5" stop-color="#ffffff"/><stop offset=".564" stop-color="#e5e5ff"/><stop offset=".821" stop-color="#a7a7ff"/><stop offset=".879" stop-color="#a1a1ff"/><stop offset=".95" stop-color="#9f9fff"/><stop offset=".964" stop-color="#8c8cff"/><stop offset=".971" stop-color="#9898ff"/><stop offset=".979" stop-color="#5858ff"/><stop offset=".986" stop-color="#0000ff"/><stop offset="1" stop-color="#0000ff"/></linearGradient><linearGradient id="fa32" gradientUnits="userSpaceOnUse" x1="135.7" x2="553.5"><stop offset="0" stop-color="#ff0000"/><stop offset=".014" stop-color="#ff0000"/><stop offset=".029" stop-color="#ff9898"/><stop offset=".036" stop-color="#ff8c8c"/><stop offset=".05" stop-color="#ff9f9f"/><stop offset=".164" stop-color="#ffa4a4"/><stop offset=".429" stop-color="#ffe2e2"/><stop offset=".486" stop-color="#fff7f7"/><stop offset=".5" stop-color="#ffffff"/><stop offset=".564" stop-color="#e5e5ff"/><stop offset=".821" stop-color="#a7a7ff"/><stop offset=".879" stop-color="#a1a1ff"/><stop offset=".95" stop-color="#9f9fff"/><stop offset=".964" stop-color="#8c8cff"/><stop offset=".971" stop-color="#9898ff"/><stop offset=".986" stop-color="#0000ff"/><stop offset="1" stop-color="#0000ff"/></linearGradient><linearGradient id="fa33" gradientUnits="userSpaceOnUse" x1="135.7" x2="553.5"><stop offset="0" stop-color="#ff0000"/><stop offset=".014" stop-color="#ff0000"/><stop offset=".021" stop-color="#ff4343"/><stop offset=".029" stop-color="#ff9898"/><stop offset=".036" stop-color="#ff8c8c"/><stop offset=".05" stop-color="#ff9f9f"/><stop offset=".164" stop-color="#ffa4a4"/><stop offset=".429" stop-color="#ffe2e2"/><stop offset=".486" stop-color="#fff7f7"/><stop offset=".5" stop-color="#ffffff"/><stop offset=".564" stop-color="#e5e5ff"/><stop offset=".821" stop-color="#a7a7ff"/><stop offset=".879" stop-color="#a1a1ff"/><stop offset=".95" stop-color="#9f9fff"/><stop offset=".964" stop-color="#8c8cff"/><stop offset=".971" stop-color="#9898ff"/><stop offset=".979" stop-color="#4343ff"/><stop offset=".986" stop-color="#0000ff"/><stop offset="1" stop-color="#0000ff"/></linearGradient><linearGradient id="fa34" gradientUnits="userSpaceOnUse" x1="135.7" x2="553.5"><stop offset="0" stop-color="#ff0000"/><stop offset=".014" stop-color="#ff0000"/><stop offset=".021" stop-color="#ff3d3d"/><stop offset=".029" stop-color="#ff9898"/><stop offset=".036" stop-color="#ff8c8c"/><stop offset=".05" stop-color="#ff9f9f"/><stop offset=".164" stop-color="#ffa4a4"/><stop offset=".429" stop-color="#ffe2e2"/><stop offset=".486" stop-color="#fff7f7"/><stop offset=".5" stop-color="#ffffff"/><stop offset=".564" stop-color="#e5e5ff"/><stop offset=".821" stop-color="#a7a7ff"/><stop offset=".879" stop-color="#a1a1ff"/><stop offset=".95" stop-color="#9f9fff"/><stop offset=".964" stop-color="#8c8cff"/><stop offset=".971" stop-color="#9898ff"/><stop offset=".979" stop-color="#3d3dff"/><stop offset=".986" stop-color="#0000ff"/><stop offset="1" stop-color="#0000ff"/></linearGradient><linearGradient id="fa35" gradientUnits="userSpaceOnUse" x1="135.7" x2="553.5"><stop offset="0" stop-color="#ff0000"/><stop offset=".014" stop-color="#ff0000"/><stop offset=".021" stop-color="#ff3939"/><stop offset=".029" stop-color="#ff9898"/><stop offset=".036" stop-color="#ff8c8c"/><stop offset=".05" stop-color="#ff9f9f"/><stop offset=".164" stop-color="#ffa4a4"/><stop offset=".429" stop-color="#ffe2e2"/><stop offset=".486" stop-color="#fff7f7"/><stop offset=".5" stop-color="#ffffff"/><stop offset=".564" stop-color="#e5e5ff"/><stop offset=".821" stop-color="#a7a7ff"/><stop offset=".879" stop-color="#a1a1ff"/><stop offset=".95" stop-color="#9f9fff"/><stop offset=".964" stop-color="#8c8cff"/><stop offset=".971" stop-color="#9898ff"/><stop offset=".979" stop-color="#3939ff"/><stop offset=".986" stop-color="#0000ff"/><stop offset="1" stop-color="#0000ff"/></linearGradient><linearGradient id="fa36" gradientUnits="userSpaceOnUse" x1="135.7" x2="553.5"><stop offset="0" stop-color="#ff0000"/><stop offset=".014" stop-color="#ff0000"/><stop offset=".021" stop-color="#ff3737"/><stop offset=".029" stop-color="#ff9898"/><stop offset=".036" stop-color="#ff8c8c"/><stop offset=".05" stop-color="#ff9f9f"/><stop offset=".164" stop-color="#ffa4a4"/><stop offset=".429" stop-color="#ffe2e2"/><stop offset=".486" stop-color="#fff7f7"/><stop offset=".5" stop-color="#ffffff"/><stop offset=".564" stop-color="#e5e5ff"/><stop offset=".821" stop-color="#a7a7ff"/><stop offset=".879" stop-color="#a1a1ff"/><stop offset=".95" stop-color="#9f9fff"/><stop offset=".964" stop-color="#8c8cff"/><stop offset=".971" stop-color="#9898ff"/><stop offset=".979" stop-color="#3737ff"/><stop offset=".986" stop-color="#0000ff"/><stop offset="1" stop-color="#0000ff"/></linearGradient><linearGradient id="fa37" gradientUnits="userSpaceOnUse" x1="135.7" x2="553.5"><stop offset="0" stop-color="#ff0000"/><stop offset=".014" stop-color="#ff0000"/><stop offset=".021" stop-color="#ff3535"/><stop offset=".029" stop-color="#ff9898"/><stop offset=".036" stop-color="#ff8c8c"/><stop offset=".05" stop-color="#ff9f9f"/><stop offset=".164" stop-color="#ffa4a4"/><stop offset=".429" stop-color="#ffe2e2"/><stop offset=".486" stop-color="#fff7f7"/><stop offset=".5" stop-color="#ffffff"/><stop offset=".564" stop-color="#e5e5ff"/><stop offset=".821" stop-color="#a7a7ff"/><stop offset=".879" stop-color="#a1a1ff"/><stop offset=".95" stop-color="#9f9fff"/><stop offset=".964" stop-color="#8c8cff"/><stop offset=".971" stop-color="#9898ff"/><stop offset=".979" stop-color="#3535ff"/><stop offset=".986" stop-color="#0000ff"/><stop offset="1" stop-color="#0000ff"/></linearGradient><linearGradient id="fa38" gradientUnits="userSpaceOnUse" x1="135.7" x2="553.5"><stop offset="0" stop-color="#ff0000"/><stop offset=".014" stop-color="#ff0000"/><stop offset=".021" stop-color="#ff3737"/><stop offset=".029" stop-color="#ff9898"/><stop offset=".036" stop-color="#ff8c8c"/><stop offset=".05" stop-color="#ff9f9f"/><stop offset=".164" stop-color="#ffa4a4"/><stop offset=".429" stop-color="#ffe2e2"/><stop offset=".486" stop-color="#fff7f7"/><stop offset=".5" stop-color="#ffffff"/><stop offset=".564" stop-color="#e5e5ff"/><stop offset=".821" stop-color="#a7a7ff"/><stop offset=".879" stop-color="#a1a1ff"/><stop offset=".95" stop-color="#9f9fff"/><stop offset=".964" stop-color="#8c8cff"/><stop offset=".971" stop-color="#9898ff"/><stop offset=".979" stop-color="#3737ff"/><stop offset=".986" stop-color="#0000ff"/><stop offset="1" stop-color="#0000ff"/></linearGradient><linearGradient id="fa39" gradientUnits="userSpaceOnUse" x1="135.7" x2="553.5"><stop offset="0" stop-color="#ff0000"/><stop offset=".014" stop-color="#ff0000"/><stop offset=".021" stop-color="#ff3939"/><stop offset=".029" stop-color="#ff9898"/><stop offset=".036" stop-color="#ff8c8c"/><stop offset=".05" stop-color="#ff9f9f"/><stop offset=".164" stop-color="#ffa4a4"/><stop offset=".429" stop-color="#ffe2e2"/><stop offset=".486" stop-color="#fff7f7"/><stop offset=".5" stop-color="#ffffff"/><stop offset=".564" stop-color="#e5e5ff"/><stop offset=".821" stop-color="#a7a7ff"/><stop offset=".879" stop-color="#a1a1ff"/><stop offset=".95" stop-color="#9f9fff"/><stop offset=".964" stop-color="#8c8cff"/><stop offset=".971" stop-color="#9898ff"/><stop offset=".979" stop-color="#3939ff"/><stop offset=".986" stop-color="#0000ff"/><stop offset="1" stop-color="#0000ff"/></linearGradient><linearGradient id="fa40" gradientUnits="userSpaceOnUse" x1="135.7" x2="553.5"><stop offset="0" stop-color="#ff0000"/><stop offset=".014" stop-color="#ff0000"/><stop offset=".021" stop-color="#ff3d3d"/><stop offset=".029" stop-color="#ff9898"/><stop offset=".036" stop-color="#ff8c8c"/><stop offset=".05" stop-color="#ff9f9f"/><stop offset=".164" stop-color="#ffa4a4"/><stop offset=".429" stop-color="#ffe2e2"/><stop offset=".486" stop-color="#fff7f7"/><stop offset=".5" stop-color="#ffffff"/><stop offset=".564" stop-color="#e5e5ff"/><stop offset=".821" stop-color="#a7a7ff"/><stop offset=".879" stop-color="#a1a1ff"/><stop offset=".95" stop-color="#9f9fff"/><stop offset=".964" stop-color="#8c8cff"/><stop offset=".971" stop-color="#9898ff"/><stop offset=".979" stop-color="#3d3dff"/><stop offset=".986" stop-color="#0000ff"/><stop offset="1" stop-color="#0000ff"/></linearGradient><linearGradient id="fa41" gradientUnits="userSpaceOnUse" x1="135.7" x2="553.5"><stop offset="0" stop-color="#ff0000"/><stop offset=".014" stop-color="#ff0000"/><stop offset=".021" stop-color="#ff4343"/><stop offset=".029" stop-color="#ff9898"/><stop offset=".036" stop-color="#ff8c8c"/><stop offset=".05" stop-color="#ff9f9f"/><stop offset=".164" stop-color="#ffa4a4"/><stop offset=".429" stop-color="#ffe2e2"/><stop offset=".486" stop-color="#fff7f7"/><stop offset=".5" stop-color="#ffffff"/><stop offset=".564" stop-color="#e5e5ff"/><stop offset=".821" stop-color="#a7a7ff"/><stop offset=".879" stop-color="#a1a1ff"/><stop offset=".95" stop-color="#9f9fff"/><stop offset=".964" stop-color="#8c8cff"/><stop offset=".971" stop-color="#9898ff"/><stop offset=".979" stop-color="#4343ff"/><stop offset=".986" stop-color="#0000ff"/><stop offset="1" stop-color="#0000ff"/></linearGradient><linearGradient id="fa42" gradientUnits="userSpaceOnUse" x1="135.7" x2="553.5"><stop offset="0" stop-color="#ff0000"/><stop offset=".014" stop-color="#ff0000"/><stop offset=".029" stop-color="#ff9898"/><stop offset=".036" stop-color="#ff8c8c"/><stop offset=".05" stop-color="#ff9f9f"/><stop offset=".164" stop-color="#ffa4a4"/><stop offset=".429" stop-color="#ffe2e2"/><stop offset=".486" stop-color="#fff7f7"/><stop offset=".5" stop-color="#ffffff"/><stop offset=".564" stop-color="#e5e5ff"/><stop offset=".821" stop-color="#a7a7ff"/><stop offset=".879" stop-color="#a1a1ff"/><stop offset=".95" stop-color="#9f9fff"/><stop offset=".964" stop-color="#8c8cff"/><stop offset=".971" stop-color="#9898ff"/><stop offset=".986" stop-color="#0000ff"/><stop offset="1" stop-color="#0000ff"/></linearGradient><linearGradient id="fa43" gradientUnits="userSpaceOnUse" x1="135.7" x2="553.5"><stop offset="0" stop-color="#ff0000"/><stop offset=".014" stop-color="#ff0000"/><stop offset=".021" stop-color="#ff5858"/><stop offset=".029" stop-color="#ff9898"/><stop offset=".036" stop-color="#ff8c8c"/><stop offset=".05" stop-color="#ff9f9f"/><stop offset=".164" stop-color="#ffa4a4"/><stop offset=".429" stop-color="#ffe2e2"/><stop offset=".486" stop-color="#fff7f7"/><stop offset=".5" stop-color="#ffffff"/><stop offset=".564" stop-color="#e5e5ff"/><stop offset=".821" stop-color="#a7a7ff"/><stop offset=".879" stop-color="#a1a1ff"/><stop offset=".95" stop-color="#9f9fff"/><stop offset=".964" stop-color="#8c8cff"/><stop offset=".971" stop-color="#9898ff"/><stop offset=".979" stop-color="#5858ff"/><stop offset=".986" stop-color="#0000ff"/><stop offset="1" stop-color="#0000ff"/></linearGradient><linearGradient id="fa44" gradientUnits="userSpaceOnUse" x1="135.7" x2="553.5"><stop offset="0" stop-color="#ff0000"/><stop offset=".014" stop-color="#ff0000"/><stop offset=".021" stop-color="#ff6969"/><stop offset=".029" stop-color="#ff9898"/><stop offset=".036" stop-color="#ff8c8c"/><stop offset=".05" stop-color="#ff9f9f"/><stop offset=".164" stop-color="#ffa4a4"/><stop offset=".429" stop-color="#ffe2e2"/><stop offset=".486" stop-color="#fff7f7"/><stop offset=".5" stop-color="#ffffff"/><stop offset=".564" stop-color="#e5e5ff"/><stop offset=".821" stop-color="#a7a7ff"/><stop offset=".879" stop-color="#a1a1ff"/><stop offset=".95" stop-color="#9f9fff"/><stop offset=".964" stop-color="#8c8cff"/><stop offset=".971" stop-color="#9898ff"/><stop offset=".979" stop-color="#6969ff"/><stop offset=".986" stop-color="#0000ff"/><stop offset="1" stop-color="#0000ff"/></linearGradient><linearGradient id="fa45" gradientUnits="userSpaceOnUse" x1="135.7" x2="553.5"><stop offset="0" stop-color="#ff0000"/><stop offset=".014" stop-color="#ff0000"/><stop offset=".021" stop-color="#ff7e7e"/><stop offset=".029" stop-color="#ff9898"/><stop offset=".036" stop-color="#ff8c8c"/><stop offset=".05" stop-color="#ff9f9f"/><stop offset=".164" stop-color="#ffa4a4"/><stop offset=".429" stop-color="#ffe2e2"/><stop offset=".486" stop-color="#fff7f7"/><stop offset=".5" stop-color="#ffffff"/><stop offset=".564" stop-color="#e5e5ff"/><stop offset=".821" stop-color="#a7a7ff"/><stop offset=".879" stop-color="#a1a1ff"/><stop offset=".95" stop-color="#9f9fff"/><stop offset=".964" stop-color="#8c8cff"/><stop offset=".971" stop-color="#9898ff"/><stop offset=".979" stop-color="#7e7eff"/><stop offset=".986" stop-color="#0000ff"/><stop offset="1" stop-color="#0000ff"/></linearGradient><linearGradient id="fa46" gradientUnits="userSpaceOnUse" x1="135.7" x2="553.5"><stop offset="0" stop-color="#ff0000"/><stop offset=".014" stop-color="#ff0000"/><stop offset=".021" stop-color="#ff9999"/><stop offset=".029" stop-color="#ff9898"/><stop offset=".036" stop-color="#ff8c8c"/><stop offset=".05" stop-color="#ff9f9f"/><stop offset=".164" stop-color="#ffa4a4"/><stop offset=".429" stop-color="#ffe2e2"/><stop offset=".486" stop-color="#fff7f7"/><stop offset=".5" stop-color="#ffffff"/><stop offset=".564" stop-color="#e5e5ff"/><stop offset=".821" stop-color="#a7a7ff"/><stop offset=".879" stop-color="#a1a1ff"/><stop offset=".95" stop-color="#9f9fff"/><stop offset=".964" stop-color="#8c8cff"/><stop offset=".971" stop-color="#9898ff"/><stop offset=".979" stop-color="#9999ff"/><stop offset=".986" stop-color="#0000ff"/><stop offset="1" stop-color="#0000ff"/></linearGradient><linearGradient id="fa47" gradientUnits="userSpaceOnUse" x1="135.7" x2="553.5"><stop offset="0" stop-color="#ff0000"/><stop offset=".014" stop-color="#ff0000"/><stop offset=".021" stop-color="#ffa0a0"/><stop offset=".036" stop-color="#ff8c8c"/><stop offset=".05" stop-color="#ff9f9f"/><stop offset=".164" stop-color="#ffa4a4"/><stop offset=".429" stop-color="#ffe2e2"/><stop offset=".486" stop-color="#fff7f7"/><stop offset=".5" stop-color="#ffffff"/><stop offset=".564" stop-color="#e5e5ff"/><stop offset=".821" stop-color="#a7a7ff"/><stop offset=".879" stop-color="#a1a1ff"/><stop offset=".95" stop-color="#9f9fff"/><stop offset=".964" stop-color="#8c8cff"/><stop offset=".979" stop-color="#a0a0ff"/><stop offset=".986" stop-color="#0000ff"/><stop offset="1" stop-color="#0000ff"/></linearGradient><linearGradient id="fa48" gradientUnits="userSpaceOnUse" x1="135.7" x2="553.5"><stop offset="0" stop-color="#ff0000"/><stop offset=".014" stop-color="#ff0101"/><stop offset=".021" stop-color="#ffa0a0"/><stop offset=".036" stop-color="#ff8c8c"/><stop offset=".05" stop-color="#ff9f9f"/><stop offset=".164" stop-color="#ffa4a4"/><stop offset=".429" stop-color="#ffe2e2"/><stop offset=".486" stop-color="#fff7f7"/><stop offset=".5" stop-color="#ffffff"/><stop offset=".564" stop-color="#e5e5ff"/><stop offset=".821" stop-color="#a7a7ff"/><stop offset=".879" stop-color="#a1a1ff"/><stop offset=".95" stop-color="#9f9fff"/><stop offset=".964" stop-color="#8c8cff"/><stop offset=".979" stop-color="#a0a0ff"/><stop offset=".986" stop-color="#0101ff"/><stop offset="1" stop-color="#0000ff"/></linearGradient><linearGradient id="fa49" gradientUnits="userSpaceOnUse" x1="135.7" x2="553.5"><stop offset="0" stop-color="#ff0000"/><stop offset=".007" stop-color="#ff0000"/><stop offset=".014" stop-color="#ff2121"/><stop offset=".021" stop-color="#ffa0a0"/><stop offset=".036" stop-color="#ff8c8c"/><stop offset=".05" stop-color="#ff9f9f"/><stop offset=".164" stop-color="#ffa4a4"/><stop offset=".429" stop-color="#ffe2e2"/><stop offset=".486" stop-color="#fff7f7"/><stop offset=".5" stop-color="#ffffff"/><stop offset=".564" stop-color="#e5e5ff"/><stop offset=".821" stop-color="#a7a7ff"/><stop offset=".879" stop-color="#a1a1ff"/><stop offset=".95" stop-color="#9f9fff"/><stop offset=".964" stop-color="#8c8cff"/><stop offset=".979" stop-color="#a0a0ff"/><stop offset=".986" stop-color="#2121ff"/><stop offset=".993" stop-color="#0000ff"/><stop offset="1" stop-color="#0000ff"/></linearGradient><linearGradient id="fa50" gradientUnits="userSpaceOnUse" x1="135.7" x2="553.5"><stop offset="0" stop-color="#ff0000"/><stop offset=".007" stop-color="#ff0000"/><stop offset=".014" stop-color="#ff7171"/><stop offset=".021" stop-color="#ffa0a0"/><stop offset=".036" stop-color="#ff8c8c"/><stop offset=".05" stop-color="#ff9f9f"/><stop offset=".164" stop-color="#ffa4a4"/><stop offset=".429" stop-color="#ffe2e2"/><stop offset=".486" stop-color="#fff7f7"/><stop offset=".5" stop-color="#ffffff"/><stop offset=".564" stop-color="#e5e5ff"/><stop offset=".821" stop-color="#a7a7ff"/><stop offset=".879" stop-color="#a1a1ff"/><stop offset=".95" stop-color="#9f9fff"/><stop offset=".964" stop-color="#8c8cff"/><stop offset=".979" stop-color="#a0a0ff"/><stop offset=".986" stop-color="#7171ff"/><stop offset=".993" stop-color="#0000ff"/><stop offset="1" stop-color="#0000ff"/></linearGradient><linearGradient id="fa51" gradientUnits="userSpaceOnUse" x1="135.7" x2="553.5"><stop offset="0" stop-color="#ff0000"/><stop offset=".007" stop-color="#ff0000"/><stop offset=".014" stop-color="#ffa1a1"/><stop offset=".021" stop-color="#ffa0a0"/><stop offset=".036" stop-color="#ff8c8c"/><stop offset=".05" stop-color="#ff9f9f"/><stop offset=".164" stop-color="#ffa4a4"/><stop offset=".429" stop-color="#ffe2e2"/><stop offset=".486" stop-color="#fff7f7"/><stop offset=".5" stop-color="#ffffff"/><stop offset=".564" stop-color="#e5e5ff"/><stop offset=".821" stop-color="#a7a7ff"/><stop offset=".879" stop-color="#a1a1ff"/><stop offset=".95" stop-color="#9f9fff"/><stop offset=".964" stop-color="#8c8cff"/><stop offset=".979" stop-color="#a0a0ff"/><stop offset=".986" stop-color="#a1a1ff"/><stop offset=".993" stop-color="#0000ff"/><stop offset="1" stop-color="#0000ff"/></linearGradient><linearGradient id="fa52" gradientUnits="userSpaceOnUse" x1="135.7" x2="553.5"><stop offset="0" stop-color="#ff0000"/><stop offset=".007" stop-color="#ff1313"/><stop offset=".014" stop-color="#ffa4a4"/><stop offset=".029" stop-color="#ff9898"/><stop offset=".036" stop-color="#ff8c8c"/><stop offset=".05" stop-color="#ff9f9f"/><stop offset=".164" stop-color="#ffa4a4"/><stop offset=".429" stop-color="#ffe2e2"/><stop offset=".486" stop-color="#fff7f7"/><stop offset=".5" stop-color="#ffffff"/><stop offset=".564" stop-color="#e5e5ff"/><stop offset=".821" stop-color="#a7a7ff"/><stop offset=".879" stop-color="#a1a1ff"/><stop offset=".95" stop-color="#9f9fff"/><stop offset=".964" stop-color="#8c8cff"/><stop offset=".979" stop-color="#a1a1ff"/><stop offset=".986" stop-color="#a4a4ff"/><stop offset=".993" stop-color="#1313ff"/><stop offset="1" stop-color="#0000ff"/></linearGradient><linearGradient id="fa53" gradientUnits="userSpaceOnUse" x1="135.7" x2="553.5"><stop offset="0" stop-color="#ff0000"/><stop offset=".007" stop-color="#ffb0b0"/><stop offset=".036" stop-color="#ff8282"/><stop offset=".05" stop-color="#ff9797"/><stop offset=".164" stop-color="#ff9c9c"/><stop offset=".421" stop-color="#ffdede"/><stop offset=".486" stop-color="#fff6f6"/><stop offset=".5" stop-color="#ffffff"/><stop offset=".557" stop-color="#e5e5ff"/><stop offset=".786" stop-color="#a7a7ff"/><stop offset=".864" stop-color="#9898ff"/><stop offset=".95" stop-color="#9797ff"/><stop offset=".964" stop-color="#8282ff"/><stop offset=".993" stop-color="#b0b0ff"/><stop offset="1" stop-color="#0000ff"/></linearGradient><linearGradient id="fa54" gradientUnits="userSpaceOnUse" x1="135.7" x2="553.5"><stop offset="0" stop-color="#ffbebe"/><stop offset=".007" stop-color="#ffb7b7"/><stop offset=".029" stop-color="#ff7c7c"/><stop offset=".036" stop-color="#ff6d6d"/><stop offset=".05" stop-color="#ff8585"/><stop offset=".157" stop-color="#ff8a8a"/><stop offset=".407" stop-color="#ffd3d3"/><stop offset=".486" stop-color="#fff5f5"/><stop offset=".5" stop-color="#ffffff"/><stop offset=".55" stop-color="#e3e3ff"/><stop offset=".743" stop-color="#a4a4ff"/><stop offset=".864" stop-color="#8787ff"/><stop offset=".95" stop-color="#8585ff"/><stop offset=".964" stop-color="#6d6dff"/><stop offset=".979" stop-color="#8e8eff"/><stop offset=".993" stop-color="#b7b7ff"/><stop offset="1" stop-color="#bebeff"/></linearGradient><linearGradient id="fa55" gradientUnits="userSpaceOnUse" x1="135.7" x2="553.5"><stop offset="0" stop-color="#ffbbbb"/><stop offset=".007" stop-color="#ffb2b2"/><stop offset=".021" stop-color="#ff7f7f"/><stop offset=".036" stop-color="#ff5858"/><stop offset=".05" stop-color="#ff7474"/><stop offset=".157" stop-color="#ff7979"/><stop offset=".4" stop-color="#ffcaca"/><stop offset=".486" stop-color="#fff3f3"/><stop offset=".5" stop-color="#ffffff"/><stop offset=".543" stop-color="#e3e3ff"/><stop offset=".707" stop-color="#a3a3ff"/><stop offset=".857" stop-color="#7676ff"/><stop offset=".95" stop-color="#7474ff"/><stop offset=".964" stop-color="#5858ff"/><stop offset=".979" stop-color="#7f7fff"/><stop offset=".993" stop-color="#b2b2ff"/><stop offset="1" stop-color="#bbbbff"/></linearGradient><linearGradient id="fa56" gradientUnits="userSpaceOnUse" x1="135.7" x2="553.5"><stop offset="0" stop-color="#ffbebe"/><stop offset=".007" stop-color="#ffb6b6"/><stop offset=".021" stop-color="#ff8686"/><stop offset=".029" stop-color="#ff7d7d"/><stop offset=".157" stop-color="#ff8080"/><stop offset=".4" stop-color="#ffcccc"/><stop offset=".486" stop-color="#fff4f4"/><stop offset=".5" stop-color="#ffffff"/><stop offset=".543" stop-color="#e4e4ff"/><stop offset=".714" stop-color="#a5a5ff"/><stop offset=".857" stop-color="#7d7dff"/><stop offset=".971" stop-color="#7d7dff"/><stop offset=".979" stop-color="#8686ff"/><stop offset=".993" stop-color="#b6b6ff"/><stop offset="1" stop-color="#bebeff"/></linearGradient><linearGradient id="fa57" gradientUnits="userSpaceOnUse" x1="135.7" x2="553.5"><stop offset="0" stop-color="#ffc1c1"/><stop offset=".007" stop-color="#ffb9b9"/><stop offset=".021" stop-color="#ff8c8c"/><stop offset=".029" stop-color="#ff8484"/><stop offset=".157" stop-color="#ff8686"/><stop offset=".407" stop-color="#ffd2d2"/><stop offset=".486" stop-color="#fff4f4"/><stop offset=".5" stop-color="#ffffff"/><stop offset=".55" stop-color="#e3e3ff"/><stop offset=".743" stop-color="#a2a2ff"/><stop offset=".864" stop-color="#8484ff"/><stop offset=".971" stop-color="#8484ff"/><stop offset=".979" stop-color="#8c8cff"/><stop offset=".993" stop-color="#b9b9ff"/><stop offset="1" stop-color="#c1c1ff"/></linearGradient><linearGradient id="fa58" gradientUnits="userSpaceOnUse" x1="135.7" x2="553.5"><stop offset="0" stop-color="#ffefef"/><stop offset=".007" stop-color="#ffeded"/><stop offset=".014" stop-color="#ffe0e0"/><stop offset=".021" stop-color="#ffbcbc"/><stop offset=".029" stop-color="#ffa7a7"/><stop offset=".043" stop-color="#ff9e9e"/><stop offset=".086" stop-color="#ff9898"/><stop offset=".136" stop-color="#ffa0a0"/><stop offset=".364" stop-color="#ffd0d0"/><stop offset=".486" stop-color="#fff7f7"/><stop offset=".5" stop-color="#ffffff"/><stop offset=".564" stop-color="#e4e4ff"/><stop offset=".821" stop-color="#a6a6ff"/><stop offset=".929" stop-color="#9797ff"/><stop offset=".964" stop-color="#a0a0ff"/><stop offset=".971" stop-color="#a7a7ff"/><stop offset=".979" stop-color="#bcbcff"/><stop offset=".986" stop-color="#e0e0ff"/><stop offset=".993" stop-color="#ededff"/><stop offset="1" stop-color="#efefff"/></linearGradient><linearGradient id="fa59" gradientUnits="userSpaceOnUse" x1="135.7" x2="553.5"><stop offset="0" stop-color="#f8f8ff"/><stop offset=".014" stop-color="#f9f9ff"/><stop offset=".021" stop-color="#ffefef"/><stop offset=".029" stop-color="#ffcccc"/><stop offset=".036" stop-color="#ffbebe"/><stop offset=".071" stop-color="#ffabab"/><stop offset=".093" stop-color="#ffb0b0"/><stop offset=".121" stop-color="#ffbdbd"/><stop offset=".35" stop-color="#ffdcdc"/><stop offset=".486" stop-color="#fff9f9"/><stop offset=".507" stop-color="#fefeff"/><stop offset=".6" stop-color="#e5e5ff"/><stop offset=".864" stop-color="#bdbdff"/><stop offset=".893" stop-color="#b9b9ff"/><stop offset=".921" stop-color="#aaaaff"/><stop offset=".95" stop-color="#b6b6ff"/><stop offset=".964" stop-color="#bebeff"/><stop offset=".971" stop-color="#ccccff"/><stop offset=".979" stop-color="#efefff"/><stop offset=".986" stop-color="#fff9f9"/><stop offset="1" stop-color="#fff8f8"/></linearGradient><linearGradient id="fa60" gradientUnits="userSpaceOnUse" x1="135.7" x2="553.5"><stop offset="0" stop-color="#ededff"/><stop offset=".014" stop-color="#efefff"/><stop offset=".021" stop-color="#f6f6ff"/><stop offset=".029" stop-color="#fff1f1"/><stop offset=".036" stop-color="#ffdbdb"/><stop offset=".071" stop-color="#ffbfbf"/><stop offset=".086" stop-color="#ffc1c1"/><stop offset=".114" stop-color="#ffd8d8"/><stop offset=".486" stop-color="#fffcfc"/><stop offset=".507" stop-color="#fefeff"/><stop offset=".75" stop-color="#e3e3ff"/><stop offset=".886" stop-color="#d8d8ff"/><stop offset=".921" stop-color="#bebeff"/><stop offset=".936" stop-color="#c3c3ff"/><stop offset=".964" stop-color="#dbdbff"/><stop offset=".971" stop-color="#f1f1ff"/><stop offset=".979" stop-color="#fff6f6"/><stop offset=".986" stop-color="#ffefef"/><stop offset="1" stop-color="#ffeded"/></linearGradient><linearGradient id="fa61" gradientUnits="userSpaceOnUse" x1="135.7" x2="553.5"><stop offset="0" stop-color="#e3e3ff"/><stop offset=".014" stop-color="#e4e4ff"/><stop offset=".029" stop-color="#f5f5ff"/><stop offset=".036" stop-color="#fff9f9"/><stop offset=".071" stop-color="#ffd3d3"/><stop offset=".086" stop-color="#ffd6d6"/><stop offset=".114" stop-color="#fff4f4"/><stop offset=".221" stop-color="#fffafa"/><stop offset=".579" stop-color="#fdfdff"/><stop offset=".879" stop-color="#f7f7ff"/><stop offset=".9" stop-color="#e7e7ff"/><stop offset=".914" stop-color="#d6d6ff"/><stop offset=".929" stop-color="#d3d3ff"/><stop offset=".964" stop-color="#f9f9ff"/><stop offset=".971" stop-color="#fff5f5"/><stop offset=".986" stop-color="#ffe4e4"/><stop offset="1" stop-color="#ffe3e3"/></linearGradient><linearGradient id="fa62" gradientUnits="userSpaceOnUse" x1="135.7" x2="553.5"><stop offset="0" stop-color="#d8d8ff"/><stop offset=".021" stop-color="#ddddff"/><stop offset=".043" stop-color="#f5f5ff"/><stop offset=".05" stop-color="#fbfbff"/><stop offset=".057" stop-color="#fff8f8"/><stop offset=".071" stop-color="#ffe7e7"/><stop offset=".086" stop-color="#ffebeb"/><stop offset=".1" stop-color="#fefeff"/><stop offset=".114" stop-color="#f3f3ff"/><stop offset=".357" stop-color="#f8f8ff"/><stop offset=".543" stop-color="#fffefe"/><stop offset=".879" stop-color="#fff2f2"/><stop offset=".893" stop-color="#fff7f7"/><stop offset=".9" stop-color="#fffefe"/><stop offset=".914" stop-color="#ebebff"/><stop offset=".929" stop-color="#e7e7ff"/><stop offset=".943" stop-color="#f8f8ff"/><stop offset=".95" stop-color="#fffbfb"/><stop offset=".964" stop-color="#fff0f0"/><stop offset=".979" stop-color="#ffdddd"/><stop offset="1" stop-color="#ffd8d8"/></linearGradient><linearGradient id="fa63" gradientUnits="userSpaceOnUse" x1="135.7" x2="553.5"><stop offset="0" stop-color="#ceceff"/><stop offset=".021" stop-color="#d1d1ff"/><stop offset=".05" stop-color="#e7e7ff"/><stop offset=".064" stop-color="#fbfbff"/><stop offset=".079" stop-color="#fffafa"/><stop offset=".086" stop-color="#ffffff"/><stop offset=".1" stop-color="#e7e7ff"/><stop offset=".121" stop-color="#e0e0ff"/><stop offset=".3" stop-color="#eaeaff"/><stop offset=".507" stop-color="#ffffff"/><stop offset=".814" stop-color="#ffe2e2"/><stop offset=".893" stop-color="#ffe2e2"/><stop offset=".9" stop-color="#ffe7e7"/><stop offset=".914" stop-color="#ffffff"/><stop offset=".921" stop-color="#fafaff"/><stop offset=".936" stop-color="#fffbfb"/><stop offset=".957" stop-color="#ffe1e1"/><stop offset=".986" stop-color="#ffcece"/><stop offset="1" stop-color="#ffcece"/></linearGradient><linearGradient id="fa64" gradientUnits="userSpaceOnUse" x1="135.7" x2="553.5"><stop offset="0" stop-color="#c3c3ff"/><stop offset=".029" stop-color="#c6c6ff"/><stop offset=".05" stop-color="#d3d3ff"/><stop offset=".071" stop-color="#f0f0ff"/><stop offset=".079" stop-color="#efefff"/><stop offset=".1" stop-color="#d0d0ff"/><stop offset=".193" stop-color="#d1d1ff"/><stop offset=".314" stop-color="#e1e1ff"/><stop offset=".5" stop-color="#ffffff"/><stop offset=".793" stop-color="#ffd2d2"/><stop offset=".893" stop-color="#ffcece"/><stop offset=".9" stop-color="#ffd0d0"/><stop offset=".921" stop-color="#ffefef"/><stop offset=".929" stop-color="#fff0f0"/><stop offset=".95" stop-color="#ffd3d3"/><stop offset=".979" stop-color="#ffc4c4"/><stop offset="1" stop-color="#ffc3c3"/></linearGradient><linearGradient id="fa65" gradientUnits="userSpaceOnUse" x1="135.7" x2="553.5"><stop offset="0" stop-color="#b2b2ff"/><stop offset=".036" stop-color="#b5b5ff"/><stop offset=".05" stop-color="#bfbfff"/><stop offset=".071" stop-color="#e1e1ff"/><stop offset=".079" stop-color="#dfdfff"/><stop offset=".1" stop-color="#babaff"/><stop offset=".257" stop-color="#c8c8ff"/><stop offset=".493" stop-color="#ffffff"/><stop offset=".593" stop-color="#ffecec"/><stop offset=".779" stop-color="#ffc2c2"/><stop offset=".9" stop-color="#ffbaba"/><stop offset=".921" stop-color="#ffdfdf"/><stop offset=".929" stop-color="#ffe1e1"/><stop offset=".95" stop-color="#ffbfbf"/><stop offset=".971" stop-color="#ffb2b2"/><stop offset="1" stop-color="#ffb2b2"/></linearGradient><linearGradient id="fa66" gradientUnits="userSpaceOnUse" x1="135.7" x2="553.5"><stop offset="0" stop-color="#9b9bff"/><stop offset=".029" stop-color="#9b9bff"/><stop offset=".05" stop-color="#acacff"/><stop offset=".071" stop-color="#d8d8ff"/><stop offset=".079" stop-color="#d5d5ff"/><stop offset=".1" stop-color="#a4a4ff"/><stop offset=".25" stop-color="#b5b5ff"/><stop offset=".479" stop-color="#fafaff"/><stop offset=".507" stop-color="#fffefe"/><stop offset=".621" stop-color="#ffdcdc"/><stop offset=".779" stop-color="#ffafaf"/><stop offset=".9" stop-color="#ffa4a4"/><stop offset=".921" stop-color="#ffd5d5"/><stop offset=".929" stop-color="#ffd8d8"/><stop offset=".95" stop-color="#ffacac"/><stop offset=".971" stop-color="#ff9b9b"/><stop offset="1" stop-color="#ff9b9b"/></linearGradient><linearGradient id="fa67" gradientUnits="userSpaceOnUse" x1="135.7" x2="553.5"><stop offset="0" stop-color="#8383ff"/><stop offset=".029" stop-color="#8383ff"/><stop offset=".05" stop-color="#9898ff"/><stop offset=".071" stop-color="#cfcfff"/><stop offset=".079" stop-color="#cbcbff"/><stop offset=".1" stop-color="#8f8fff"/><stop offset=".243" stop-color="#a0a0ff"/><stop offset=".471" stop-color="#f7f7ff"/><stop offset=".507" stop-color="#fffefe"/><stop offset=".6" stop-color="#ffdddd"/><stop offset=".771" stop-color="#ff9d9d"/><stop offset=".9" stop-color="#ff8f8f"/><stop offset=".921" stop-color="#ffcbcb"/><stop offset=".929" stop-color="#ffcfcf"/><stop offset=".95" stop-color="#ff9898"/><stop offset=".971" stop-color="#ff8383"/><stop offset="1" stop-color="#ff8383"/></linearGradient><linearGradient id="fa68" gradientUnits="userSpaceOnUse" x1="135.7" x2="553.5"><stop offset="0" stop-color="#6b6bff"/><stop offset=".029" stop-color="#6b6bff"/><stop offset=".043" stop-color="#7979ff"/><stop offset=".05" stop-color="#8484ff"/><stop offset=".071" stop-color="#c5c5ff"/><stop offset=".079" stop-color="#c1c1ff"/><stop offset=".1" stop-color="#7a7aff"/><stop offset=".179" stop-color="#8282ff"/><stop offset=".243" stop-color="#8e8eff"/><stop offset=".421" stop-color="#e2e2ff"/><stop offset=".5" stop-color="#ffffff"/><stop offset=".579" stop-color="#ffe2e2"/><stop offset=".757" stop-color="#ff8e8e"/><stop offset=".893" stop-color="#ff7777"/><stop offset=".9" stop-color="#ff7a7a"/><stop offset=".921" stop-color="#ffc1c1"/><stop offset=".929" stop-color="#ffc5c5"/><stop offset=".95" stop-color="#ff8484"/><stop offset=".964" stop-color="#ff7171"/><stop offset=".979" stop-color="#ff6b6b"/><stop offset="1" stop-color="#ff6b6b"/></linearGradient><linearGradient id="fa69" gradientUnits="userSpaceOnUse" x1="135.7" x2="553.5"><stop offset="0" stop-color="#5757ff"/><stop offset=".029" stop-color="#5757ff"/><stop offset=".043" stop-color="#6666ff"/><stop offset=".05" stop-color="#7373ff"/><stop offset=".071" stop-color="#bebeff"/><stop offset=".079" stop-color="#b9b9ff"/><stop offset=".1" stop-color="#6767ff"/><stop offset=".136" stop-color="#6a6aff"/><stop offset=".243" stop-color="#7f7fff"/><stop offset=".407" stop-color="#d5d5ff"/><stop offset=".464" stop-color="#f2f2ff"/><stop offset=".5" stop-color="#ffffff"/><stop offset=".579" stop-color="#ffdede"/><stop offset=".729" stop-color="#ff8d8d"/><stop offset=".771" stop-color="#ff7a7a"/><stop offset=".893" stop-color="#ff6565"/><stop offset=".9" stop-color="#ff6767"/><stop offset=".921" stop-color="#ffb9b9"/><stop offset=".929" stop-color="#ffbebe"/><stop offset=".95" stop-color="#ff7373"/><stop offset=".964" stop-color="#ff5d5d"/><stop offset=".971" stop-color="#ff5757"/><stop offset="1" stop-color="#ff5757"/></linearGradient><linearGradient id="fa70" gradientUnits="userSpaceOnUse" x1="135.7" x2="553.5"><stop offset="0" stop-color="#4b4bff"/><stop offset=".029" stop-color="#4b4bff"/><stop offset=".043" stop-color="#5b5bff"/><stop offset=".05" stop-color="#6969ff"/><stop offset=".071" stop-color="#b9b9ff"/><stop offset=".079" stop-color="#b4b4ff"/><stop offset=".1" stop-color="#5c5cff"/><stop offset=".121" stop-color="#5c5cff"/><stop offset=".243" stop-color="#7676ff"/><stop offset=".4" stop-color="#ceceff"/><stop offset=".457" stop-color="#eeeeff"/><stop offset=".5" stop-color="#ffffff"/><stop offset=".571" stop-color="#ffe0e0"/><stop offset=".707" stop-color="#ff9090"/><stop offset=".771" stop-color="#ff7171"/><stop offset=".893" stop-color="#ff5a5a"/><stop offset=".9" stop-color="#ff5c5c"/><stop offset=".921" stop-color="#ffb4b4"/><stop offset=".929" stop-color="#ffb9b9"/><stop offset=".95" stop-color="#ff6969"/><stop offset=".964" stop-color="#ff5252"/><stop offset=".971" stop-color="#ff4b4b"/><stop offset="1" stop-color="#ff4b4b"/></linearGradient><linearGradient id="fa71" gradientUnits="userSpaceOnUse" x1="135.7" x2="553.5"><stop offset="0" stop-color="#3f3fff"/><stop offset=".029" stop-color="#3f3fff"/><stop offset=".043" stop-color="#5050ff"/><stop offset=".05" stop-color="#5f5fff"/><stop offset=".071" stop-color="#b4b4ff"/><stop offset=".079" stop-color="#afafff"/><stop offset=".1" stop-color="#5252ff"/><stop offset=".121" stop-color="#5252ff"/><stop offset=".243" stop-color="#6d6dff"/><stop offset=".393" stop-color="#c6c6ff"/><stop offset=".457" stop-color="#ededff"/><stop offset=".5" stop-color="#ffffff"/><stop offset=".571" stop-color="#ffdddd"/><stop offset=".7" stop-color="#ff8d8d"/><stop offset=".771" stop-color="#ff6767"/><stop offset=".893" stop-color="#ff4f4f"/><stop offset=".9" stop-color="#ff5252"/><stop offset=".921" stop-color="#ffafaf"/><stop offset=".929" stop-color="#ffb4b4"/><stop offset=".95" stop-color="#ff5f5f"/><stop offset=".964" stop-color="#ff4646"/><stop offset=".971" stop-color="#ff3f3f"/><stop offset="1" stop-color="#ff3f3f"/></linearGradient><linearGradient id="fa72" gradientUnits="userSpaceOnUse" x1="135.7" x2="553.5"><stop offset="0" stop-color="#3333ff"/><stop offset=".029" stop-color="#3333ff"/><stop offset=".043" stop-color="#4545ff"/><stop offset=".05" stop-color="#5555ff"/><stop offset=".071" stop-color="#afafff"/><stop offset=".079" stop-color="#aaaaff"/><stop offset=".1" stop-color="#4747ff"/><stop offset=".114" stop-color="#4545ff"/><stop offset=".243" stop-color="#6363ff"/><stop offset=".393" stop-color="#c2c2ff"/><stop offset=".457" stop-color="#ececff"/><stop offset=".5" stop-color="#ffffff"/><stop offset=".571" stop-color="#ffdbdb"/><stop offset=".7" stop-color="#ff8686"/><stop offset=".771" stop-color="#ff5e5e"/><stop offset=".893" stop-color="#ff4444"/><stop offset=".9" stop-color="#ff4747"/><stop offset=".921" stop-color="#ffaaaa"/><stop offset=".929" stop-color="#ffafaf"/><stop offset=".95" stop-color="#ff5555"/><stop offset=".964" stop-color="#ff3b3b"/><stop offset=".971" stop-color="#ff3333"/><stop offset="1" stop-color="#ff3333"/></linearGradient><linearGradient id="fa73" gradientUnits="userSpaceOnUse" x1="135.7" x2="553.5"><stop offset="0" stop-color="#2727ff"/><stop offset=".029" stop-color="#2727ff"/><stop offset=".043" stop-color="#3a3aff"/><stop offset=".05" stop-color="#4b4bff"/><stop offset=".071" stop-color="#ababff"/><stop offset=".079" stop-color="#a5a5ff"/><stop offset=".1" stop-color="#3c3cff"/><stop offset=".114" stop-color="#3a3aff"/><stop offset=".243" stop-color="#5a5aff"/><stop offset=".386" stop-color="#b9b9ff"/><stop offset=".457" stop-color="#eaeaff"/><stop offset=".5" stop-color="#ffffff"/><stop offset=".571" stop-color="#ffd9d9"/><stop offset=".693" stop-color="#ff8383"/><stop offset=".771" stop-color="#ff5454"/><stop offset=".893" stop-color="#ff3838"/><stop offset=".9" stop-color="#ff3c3c"/><stop offset=".921" stop-color="#ffa5a5"/><stop offset=".929" stop-color="#ffabab"/><stop offset=".95" stop-color="#ff4b4b"/><stop offset=".964" stop-color="#ff2f2f"/><stop offset=".971" stop-color="#ff2727"/><stop offset="1" stop-color="#ff2727"/></linearGradient><linearGradient id="fa74" gradientUnits="userSpaceOnUse" x1="135.7" x2="553.5"><stop offset="0" stop-color="#1a1aff"/><stop offset=".029" stop-color="#1a1aff"/><stop offset=".043" stop-color="#2f2fff"/><stop offset=".05" stop-color="#4141ff"/><stop offset=".071" stop-color="#a6a6ff"/><stop offset=".079" stop-color="#a0a0ff"/><stop offset=".1" stop-color="#3131ff"/><stop offset=".114" stop-color="#2f2fff"/><stop offset=".243" stop-color="#5151ff"/><stop offset=".386" stop-color="#b5b5ff"/><stop offset=".45" stop-color="#e6e6ff"/><stop offset=".5" stop-color="#ffffff"/><stop offset=".571" stop-color="#ffd7d7"/><stop offset=".686" stop-color="#ff8181"/><stop offset=".771" stop-color="#ff4a4a"/><stop offset=".893" stop-color="#ff2d2d"/><stop offset=".9" stop-color="#ff3131"/><stop offset=".921" stop-color="#ffa0a0"/><stop offset=".929" stop-color="#ffa6a6"/><stop offset=".95" stop-color="#ff4141"/><stop offset=".964" stop-color="#ff2323"/><stop offset=".971" stop-color="#ff1a1a"/><stop offset="1" stop-color="#ff1a1a"/></linearGradient><filter id="faf" x="-5%" y="-5%" width="110%" height="110%"><feGaussianBlur stdDeviation="1.2 1.2"/></filter><clipPath id="fac"><rect x="135.7" y="1012" width="417.8" height="247.4"/></clipPath></defs>
<g clip-path="url(#fac)"><g filter="url(#faf)"><rect x="125.7" y="1005.74" width="437.8" height="3.58" fill="url(#fa0)"/><rect x="125.7" y="1008.72" width="437.8" height="3.58" fill="url(#fa0)"/><rect x="125.7" y="1011.7" width="437.8" height="3.58" fill="url(#fa0)"/><rect x="125.7" y="1014.68" width="437.8" height="3.58" fill="url(#fa1)"/><rect x="125.7" y="1017.66" width="437.8" height="3.58" fill="url(#fa2)"/><rect x="125.7" y="1020.64" width="437.8" height="3.58" fill="url(#fa3)"/><rect x="125.7" y="1023.62" width="437.8" height="3.58" fill="url(#fa4)"/><rect x="125.7" y="1026.6" width="437.8" height="3.58" fill="url(#fa5)"/><rect x="125.7" y="1029.58" width="437.8" height="3.58" fill="url(#fa6)"/><rect x="125.7" y="1032.57" width="437.8" height="3.58" fill="url(#fa7)"/><rect x="125.7" y="1035.55" width="437.8" height="3.58" fill="url(#fa8)"/><rect x="125.7" y="1038.53" width="437.8" height="3.58" fill="url(#fa9)"/><rect x="125.7" y="1041.51" width="437.8" height="3.58" fill="url(#fa10)"/><rect x="125.7" y="1044.49" width="437.8" height="3.58" fill="url(#fa11)"/><rect x="125.7" y="1047.47" width="437.8" height="3.58" fill="url(#fa12)"/><rect x="125.7" y="1050.45" width="437.8" height="3.58" fill="url(#fa13)"/><rect x="125.7" y="1053.43" width="437.8" height="3.58" fill="url(#fa14)"/><rect x="125.7" y="1056.41" width="437.8" height="3.58" fill="url(#fa15)"/><rect x="125.7" y="1059.39" width="437.8" height="3.58" fill="url(#fa16)"/><rect x="125.7" y="1062.37" width="437.8" height="3.58" fill="url(#fa17)"/><rect x="125.7" y="1065.35" width="437.8" height="3.58" fill="url(#fa18)"/><rect x="125.7" y="1068.33" width="437.8" height="3.58" fill="url(#fa19)"/><rect x="125.7" y="1071.31" width="437.8" height="3.58" fill="url(#fa20)"/><rect x="125.7" y="1074.3" width="437.8" height="3.58" fill="url(#fa21)"/><rect x="125.7" y="1077.28" width="437.8" height="3.58" fill="url(#fa22)"/><rect x="125.7" y="1080.26" width="437.8" height="3.58" fill="url(#fa23)"/><rect x="125.7" y="1083.24" width="437.8" height="3.58" fill="url(#fa24)"/><rect x="125.7" y="1086.22" width="437.8" height="3.58" fill="url(#fa25)"/><rect x="125.7" y="1089.2" width="437.8" height="3.58" fill="url(#fa26)"/><rect x="125.7" y="1092.18" width="437.8" height="3.58" fill="url(#fa27)"/><rect x="125.7" y="1095.16" width="437.8" height="3.58" fill="url(#fa27)"/><rect x="125.7" y="1098.14" width="437.8" height="3.58" fill="url(#fa27)"/><rect x="125.7" y="1101.12" width="437.8" height="3.58" fill="url(#fa28)"/><rect x="125.7" y="1104.1" width="437.8" height="3.58" fill="url(#fa29)"/><rect x="125.7" y="1107.08" width="437.8" height="3.58" fill="url(#fa30)"/><rect x="125.7" y="1110.06" width="437.8" height="3.58" fill="url(#fa31)"/><rect x="125.7" y="1113.04" width="437.8" height="3.58" fill="url(#fa32)"/><rect x="125.7" y="1116.03" width="437.8" height="3.58" fill="url(#fa33)"/><rect x="125.7" y="1119.01" width="437.8" height="3.58" fill="url(#fa34)"/><rect x="125.7" y="1121.99" width="437.8" height="3.58" fill="url(#fa35)"/><rect x="125.7" y="1124.97" width="437.8" height="3.58" fill="url(#fa36)"/><rect x="125.7" y="1127.95" width="437.8" height="3.58" fill="url(#fa37)"/><rect x="125.7" y="1130.93" width="437.8" height="3.58" fill="url(#fa37)"/><rect x="125.7" y="1133.91" width="437.8" height="3.58" fill="url(#fa37)"/><rect x="125.7" y="1136.89" width="437.8" height="3.58" fill="url(#fa37)"/><rect x="125.7" y="1139.87" width="437.8" height="3.58" fill="url(#fa37)"/><rect x="125.7" y="1142.85" width="437.8" height="3.58" fill="url(#fa38)"/><rect x="125.7" y="1145.83" width="437.8" height="3.58" fill="url(#fa39)"/><rect x="125.7" y="1148.81" width="437.8" height="3.58" fill="url(#fa40)"/><rect x="125.7" y="1151.79" width="437.8" height="3.58" fill="url(#fa41)"/><rect x="125.7" y="1154.77" width="437.8" height="3.58" fill="url(#fa42)"/><rect x="125.7" y="1157.76" width="437.8" height="3.58" fill="url(#fa43)"/><rect x="125.7" y="1160.74" width="437.8" height="3.58" fill="url(#fa44)"/><rect x="125.7" y="1163.72" width="437.8" height="3.58" fill="url(#fa45)"/><rect x="125.7" y="1166.7" width="437.8" height="3.58" fill="url(#fa46)"/><rect x="125.7" y="1169.68" width="437.8" height="3.58" fill="url(#fa47)"/><rect x="125.7" y="1172.66" width="437.8" height="3.58" fill="url(#fa47)"/><rect x="125.7" y="1175.64" width="437.8" height="3.58" fill="url(#fa47)"/><rect x="125.7" y="1178.62" width="437.8" height="3.58" fill="url(#fa48)"/><rect x="125.7" y="1181.6" width="437.8" height="3.58" fill="url(#fa49)"/><rect x="125.7" y="1184.58" width="437.8" height="3.58" fill="url(#fa50)"/><rect x="125.7" y="1187.56" width="437.8" height="3.58" fill="url(#fa51)"/><rect x="125.7" y="1190.54" width="437.8" height="3.58" fill="url(#fa52)"/><rect x="125.7" y="1193.52" width="437.8" height="3.58" fill="url(#fa53)"/><rect x="125.7" y="1196.5" width="437.8" height="3.58" fill="url(#fa54)"/><rect x="125.7" y="1199.49" width="437.8" height="3.58" fill="url(#fa55)"/><rect x="125.7" y="1202.47" width="437.8" height="3.58" fill="url(#fa56)"/><rect x="125.7" y="1205.45" width="437.8" height="3.58" fill="url(#fa57)"/><rect x="125.7" y="1208.43" width="437.8" height="3.58" fill="url(#fa58)"/><rect x="125.7" y="1211.41" width="437.8" height="3.58" fill="url(#fa59)"/><rect x="125.7" y="1214.39" width="437.8" height="3.58" fill="url(#fa60)"/><rect x="125.7" y="1217.37" width="437.8" height="3.58" fill="url(#fa61)"/><rect x="125.7" y="1220.35" width="437.8" height="3.58" fill="url(#fa62)"/><rect x="125.7" y="1223.33" width="437.8" height="3.58" fill="url(#fa63)"/><rect x="125.7" y="1226.31" width="437.8" height="3.58" fill="url(#fa64)"/><rect x="125.7" y="1229.29" width="437.8" height="3.58" fill="url(#fa65)"/><rect x="125.7" y="1232.27" width="437.8" height="3.58" fill="url(#fa66)"/><rect x="125.7" y="1235.25" width="437.8" height="3.58" fill="url(#fa67)"/><rect x="125.7" y="1238.23" width="437.8" height="3.58" fill="url(#fa68)"/><rect x="125.7" y="1241.22" width="437.8" height="3.58" fill="url(#fa69)"/><rect x="125.7" y="1244.2" width="437.8" height="3.58" fill="url(#fa70)"/><rect x="125.7" y="1247.18" width="437.8" height="3.58" fill="url(#fa71)"/><rect x="125.7" y="1250.16" width="437.8" height="3.58" fill="url(#fa72)"/><rect x="125.7" y="1253.14" width="437.8" height="3.58" fill="url(#fa73)"/><rect x="125.7" y="1256.12" width="437.8" height="3.58" fill="url(#fa74)"/><rect x="125.7" y="1259.1" width="437.8" height="3.58" fill="url(#fa74)"/><rect x="125.7" y="1262.08" width="437.8" height="3.58" fill="url(#fa74)"/></g></g>
<rect x="133.2" y="1011" width="421.8" height="248.9" fill="none" stroke="#8c8c8c" stroke-width="1.2"/>
<path d="M146.07 1259.9L146.07 1263.4M195.58 1259.9L195.58 1263.4M245.09 1259.9L245.09 1263.4M294.59 1259.9L294.59 1263.4M344.1 1259.9L344.1 1263.4M393.61 1259.9L393.61 1263.4M443.11 1259.9L443.11 1263.4M492.62 1259.9L492.62 1263.4M542.13 1259.9L542.13 1263.4M170.83 1259.9L170.83 1261.9M220.33 1259.9L220.33 1261.9M269.84 1259.9L269.84 1261.9M319.35 1259.9L319.35 1261.9M368.85 1259.9L368.85 1261.9M418.36 1259.9L418.36 1261.9M467.87 1259.9L467.87 1261.9M517.37 1259.9L517.37 1261.9M129.7 1259.9L133.2 1259.9M129.7 1228.79L133.2 1228.79M129.7 1197.67L133.2 1197.67M129.7 1166.56L133.2 1166.56M129.7 1135.45L133.2 1135.45M129.7 1104.34L133.2 1104.34M129.7 1073.23L133.2 1073.23M129.7 1042.11L133.2 1042.11M129.7 1011L133.2 1011M131.2 1244.34L133.2 1244.34M131.2 1213.23L133.2 1213.23M131.2 1182.12L133.2 1182.12M131.2 1151.01L133.2 1151.01M131.2 1119.89L133.2 1119.89M131.2 1088.78L133.2 1088.78M131.2 1057.67L133.2 1057.67M131.2 1026.56L133.2 1026.56" stroke="#444" stroke-width="1" fill="none"/>
<text x="146.1" y="1281.5" font-size="15.3" text-anchor="middle">-800</text>
<text x="195.6" y="1281.5" font-size="15.3" text-anchor="middle">-600</text>
<text x="245.1" y="1281.5" font-size="15.3" text-anchor="middle">-400</text>
<text x="294.6" y="1281.5" font-size="15.3" text-anchor="middle">-200</text>
<text x="344.1" y="1281.5" font-size="15.3" text-anchor="middle">0</text>
<text x="393.6" y="1281.5" font-size="15.3" text-anchor="middle">200</text>
<text x="443.1" y="1281.5" font-size="15.3" text-anchor="middle">400</text>
<text x="492.6" y="1281.5" font-size="15.3" text-anchor="middle">600</text>
<text x="542.1" y="1281.5" font-size="15.3" text-anchor="middle">800</text>
<text x="125.7" y="1265.3" font-size="15.3" text-anchor="end">-100</text>
<text x="125.7" y="1234.2" font-size="15.3" text-anchor="end">-75</text>
<text x="125.7" y="1203.1" font-size="15.3" text-anchor="end">-50</text>
<text x="125.7" y="1172" font-size="15.3" text-anchor="end">-25</text>
<text x="125.7" y="1140.9" font-size="15.3" text-anchor="end">0</text>
<text x="125.7" y="1109.7" font-size="15.3" text-anchor="end">25</text>
<text x="125.7" y="1078.6" font-size="15.3" text-anchor="end">50</text>
<text x="125.7" y="1047.5" font-size="15.3" text-anchor="end">75</text>
<text x="125.7" y="1016.4" font-size="15.3" text-anchor="end">100</text>
<text x="344.1" y="1310" font-size="20.3" text-anchor="middle">x (nm)</text>
<text font-size="20.3" text-anchor="middle" transform="translate(85.5 1135.5) rotate(-90)">y (nm)</text>
<text x="235.5" y="978.5" font-size="28" textLength="218" lengthAdjust="spacingAndGlyphs">7.36 μm, 0.40 eV</text>
<defs><linearGradient id="fb0" gradientUnits="userSpaceOnUse" x1="633.9" x2="1051"><stop offset="0" stop-color="#ffb3b3"/><stop offset=".029" stop-color="#ff5e5e"/><stop offset=".064" stop-color="#ff2323"/><stop offset=".15" stop-color="#ff0707"/><stop offset=".293" stop-color="#ff1b1b"/><stop offset=".436" stop-color="#ffb2b2"/><stop offset=".493" stop-color="#fffcfc"/><stop offset=".5" stop-color="#ffffff"/><stop offset=".507" stop-color="#fcfcff"/><stop offset=".571" stop-color="#aaaaff"/><stop offset=".707" stop-color="#1b1bff"/><stop offset=".857" stop-color="#0909ff"/><stop offset=".936" stop-color="#2323ff"/><stop offset=".971" stop-color="#5e5eff"/><stop offset="1" stop-color="#b3b3ff"/></linearGradient><linearGradient id="fb1" gradientUnits="userSpaceOnUse" x1="633.9" x2="1051"><stop offset="0" stop-color="#ffb4b4"/><stop offset=".029" stop-color="#ff6161"/><stop offset=".064" stop-color="#ff2727"/><stop offset=".15" stop-color="#ff0c0c"/><stop offset=".293" stop-color="#ff1f1f"/><stop offset=".443" stop-color="#ffbbbb"/><stop offset=".493" stop-color="#fffcfc"/><stop offset=".5" stop-color="#ffffff"/><stop offset=".507" stop-color="#fcfcff"/><stop offset=".571" stop-color="#acacff"/><stop offset=".707" stop-color="#1f1fff"/><stop offset=".857" stop-color="#0d0dff"/><stop offset=".936" stop-color="#2727ff"/><stop offset=".971" stop-color="#6161ff"/><stop offset="1" stop-color="#b4b4ff"/></linearGradient><linearGradient id="fb2" gradientUnits="userSpaceOnUse" x1="633.9" x2="1051"><stop offset="0" stop-color="#ffb6b6"/><stop offset=".029" stop-color="#ff6363"/><stop offset=".064" stop-color="#ff2a2a"/><stop offset=".15" stop-color="#ff1010"/><stop offset=".293" stop-color="#ff2323"/><stop offset=".443" stop-color="#ffbdbd"/><stop offset=".493" stop-color="#fffcfc"/><stop offset=".5" stop-color="#ffffff"/><stop offset=".507" stop-color="#fcfcff"/><stop offset=".571" stop-color="#adadff"/><stop offset=".707" stop-color="#2323ff"/><stop offset=".857" stop-color="#1111ff"/><stop offset=".936" stop-color="#2a2aff"/><stop offset=".971" stop-color="#6363ff"/><stop offset="1" stop-color="#b6b6ff"/></linearGradient><linearGradient id="fb3" gradientUnits="userSpaceOnUse" x1="633.9" x2="1051"><stop offset="0" stop-color="#ffb7b7"/><stop offset=".029" stop-color="#ff6666"/><stop offset=".064" stop-color="#ff2e2e"/><stop offset=".15" stop-color="#ff1414"/><stop offset=".293" stop-color="#ff2727"/><stop offset=".443" stop-color="#ffbebe"/><stop offset=".493" stop-color="#fffcfc"/><stop offset=".5" stop-color="#ffffff"/><stop offset=".507" stop-color="#fcfcff"/><stop offset=".579" stop-color="#a7a7ff"/><stop offset=".707" stop-color="#2727ff"/><stop offset=".857" stop-color="#1515ff"/><stop offset=".936" stop-color="#2e2eff"/><stop offset=".971" stop-color="#6666ff"/><stop offset="1" stop-color="#b7b7ff"/></linearGradient><linearGradient id="fb4" gradientUnits="userSpaceOnUse" x1="633.9" x2="1051"><stop offset="0" stop-color="#ffb9b9"/><stop offset=".029" stop-color="#ff6b6b"/><stop offset=".064" stop-color="#ff3434"/><stop offset=".15" stop-color="#ff1b1b"/><stop offset=".293" stop-color="#ff2d2d"/><stop offset=".443" stop-color="#ffc0c0"/><stop offset=".493" stop-color="#fffcfc"/><stop offset=".507" stop-color="#fcfcff"/><stop offset=".579" stop-color="#aaaaff"/><stop offset=".707" stop-color="#2d2dff"/><stop offset=".857" stop-color="#1c1cff"/><stop offset=".936" stop-color="#3434ff"/><stop offset=".971" stop-color="#6b6bff"/><stop offset="1" stop-color="#b9b9ff"/></linearGradient><linearGradient id="fb5" gradientUnits="userSpaceOnUse" x1="633.9" x2="1051"><stop offset="0" stop-color="#ffbdbd"/><stop offset=".029" stop-color="#ff7373"/><stop offset=".064" stop-color="#ff4040"/><stop offset=".15" stop-color="#ff2828"/><stop offset=".293" stop-color="#ff3939"/><stop offset=".443" stop-color="#ffc3c3"/><stop offset=".493" stop-color="#fffcfc"/><stop offset=".507" stop-color="#fcfcff"/><stop offset=".579" stop-color="#afafff"/><stop offset=".707" stop-color="#3939ff"/><stop offset=".857" stop-color="#2929ff"/><stop offset=".936" stop-color="#4040ff"/><stop offset=".971" stop-color="#7373ff"/><stop offset="1" stop-color="#bdbdff"/></linearGradient><linearGradient id="fb6" gradientUnits="userSpaceOnUse" x1="633.9" x2="1051"><stop offset="0" stop-color="#ffc1c1"/><stop offset=".029" stop-color="#ff7b7b"/><stop offset=".064" stop-color="#ff4b4b"/><stop offset=".15" stop-color="#ff3535"/><stop offset=".293" stop-color="#ff4545"/><stop offset=".443" stop-color="#ffc7c7"/><stop offset=".493" stop-color="#fffcfc"/><stop offset=".507" stop-color="#fcfcff"/><stop offset=".579" stop-color="#b3b3ff"/><stop offset=".707" stop-color="#4545ff"/><stop offset=".857" stop-color="#3636ff"/><stop offset=".936" stop-color="#4b4bff"/><stop offset=".971" stop-color="#7b7bff"/><stop offset="1" stop-color="#c1c1ff"/></linearGradient><linearGradient id="fb7" gradientUnits="userSpaceOnUse" x1="633.9" x2="1051"><stop offset="0" stop-color="#ffc5c5"/><stop offset=".029" stop-color="#ff8383"/><stop offset=".064" stop-color="#ff5656"/><stop offset=".157" stop-color="#ff4242"/><stop offset=".293" stop-color="#ff5050"/><stop offset=".45" stop-color="#ffd1d1"/><stop offset=".493" stop-color="#fffdfd"/><stop offset=".507" stop-color="#fdfdff"/><stop offset=".586" stop-color="#b2b2ff"/><stop offset=".707" stop-color="#5050ff"/><stop offset=".857" stop-color="#4242ff"/><stop offset=".936" stop-color="#5656ff"/><stop offset=".971" stop-color="#8383ff"/><stop offset="1" stop-color="#c5c5ff"/></linearGradient><linearGradient id="fb8" gradientUnits="userSpaceOnUse" x1="633.9" x2="1051"><stop offset="0" stop-color="#ffc9c9"/><stop offset=".029" stop-color="#ff8c8c"/><stop offset=".064" stop-color="#ff6262"/><stop offset=".157" stop-color="#ff4f4f"/><stop offset=".293" stop-color="#ff5d5d"/><stop offset=".45" stop-color="#ffd5d5"/><stop offset=".493" stop-color="#fffdfd"/><stop offset=".507" stop-color="#fdfdff"/><stop offset=".586" stop-color="#b7b7ff"/><stop offset=".707" stop-color="#5d5dff"/><stop offset=".857" stop-color="#4f4fff"/><stop offset=".936" stop-color="#6262ff"/><stop offset=".971" stop-color="#8c8cff"/><stop offset="1" stop-color="#c9c9ff"/></linearGradient><linearGradient id="fb9" gradientUnits="userSpaceOnUse" x1="633.9" x2="1051"><stop offset="0" stop-color="#ffcece"/><stop offset=".029" stop-color="#ff9797"/><stop offset=".064" stop-color="#ff7070"/><stop offset=".157" stop-color="#ff5f5f"/><stop offset=".3" stop-color="#ff6f6f"/><stop offset=".464" stop-color="#ffe4e4"/><stop offset=".493" stop-color="#fffdfd"/><stop offset=".507" stop-color="#fdfdff"/><stop offset=".593" stop-color="#b9b9ff"/><stop offset=".707" stop-color="#6c6cff"/><stop offset=".857" stop-color="#6060ff"/><stop offset=".936" stop-color="#7070ff"/><stop offset=".971" stop-color="#9797ff"/><stop offset="1" stop-color="#ceceff"/></linearGradient><linearGradient id="fb10" gradientUnits="userSpaceOnUse" x1="633.9" x2="1051"><stop offset="0" stop-color="#ffd3d3"/><stop offset=".029" stop-color="#ffa1a1"/><stop offset=".064" stop-color="#ff7f7f"/><stop offset=".157" stop-color="#ff7070"/><stop offset=".3" stop-color="#ff7e7e"/><stop offset=".464" stop-color="#ffe7e7"/><stop offset=".5" stop-color="#ffffff"/><stop offset=".536" stop-color="#e7e7ff"/><stop offset=".707" stop-color="#7a7aff"/><stop offset=".864" stop-color="#7171ff"/><stop offset=".936" stop-color="#7f7fff"/><stop offset=".971" stop-color="#a1a1ff"/><stop offset="1" stop-color="#d3d3ff"/></linearGradient><linearGradient id="fb11" gradientUnits="userSpaceOnUse" x1="633.9" x2="1051"><stop offset="0" stop-color="#ffd8d8"/><stop offset=".029" stop-color="#ffacac"/><stop offset=".064" stop-color="#ff8d8d"/><stop offset=".157" stop-color="#ff8080"/><stop offset=".3" stop-color="#ff8c8c"/><stop offset=".479" stop-color="#fff3f3"/><stop offset=".5" stop-color="#ffffff"/><stop offset=".7" stop-color="#8c8cff"/><stop offset=".864" stop-color="#8181ff"/><stop offset=".936" stop-color="#8d8dff"/><stop offset=".971" stop-color="#acacff"/><stop offset="1" stop-color="#d8d8ff"/></linearGradient><linearGradient id="fb12" gradientUnits="userSpaceOnUse" x1="633.9" x2="1051"><stop offset="0" stop-color="#ffdddd"/><stop offset=".036" stop-color="#ffb0b0"/><stop offset=".071" stop-color="#ff9a9a"/><stop offset=".164" stop-color="#ff9090"/><stop offset=".3" stop-color="#ff9b9b"/><stop offset=".486" stop-color="#fff8f8"/><stop offset=".5" stop-color="#ffffff"/><stop offset=".707" stop-color="#9898ff"/><stop offset=".864" stop-color="#9191ff"/><stop offset=".936" stop-color="#9c9cff"/><stop offset=".971" stop-color="#b6b6ff"/><stop offset="1" stop-color="#ddddff"/></linearGradient><linearGradient id="fb13" gradientUnits="userSpaceOnUse" x1="633.9" x2="1051"><stop offset="0" stop-color="#ffe1e1"/><stop offset=".036" stop-color="#ffbbbb"/><stop offset=".071" stop-color="#ffa8a8"/><stop offset=".171" stop-color="#ffa0a0"/><stop offset=".3" stop-color="#ffa8a8"/><stop offset=".486" stop-color="#fff9f9"/><stop offset=".5" stop-color="#ffffff"/><stop offset=".707" stop-color="#a6a6ff"/><stop offset=".871" stop-color="#a1a1ff"/><stop offset=".936" stop-color="#a9a9ff"/><stop offset=".971" stop-color="#c0c0ff"/><stop offset="1" stop-color="#e1e1ff"/></linearGradient><linearGradient id="fb14" gradientUnits="userSpaceOnUse" x1="633.9" x2="1051"><stop offset="0" stop-color="#ffe6e6"/><stop offset=".036" stop-color="#ffc5c5"/><stop offset=".071" stop-color="#ffb5b5"/><stop offset=".171" stop-color="#ffaeae"/><stop offset=".3" stop-color="#ffb6b6"/><stop offset=".5" stop-color="#ffffff"/><stop offset=".707" stop-color="#b4b4ff"/><stop offset=".871" stop-color="#afafff"/><stop offset=".943" stop-color="#babaff"/><stop offset=".979" stop-color="#d1d1ff"/><stop offset="1" stop-color="#e6e6ff"/></linearGradient><linearGradient id="fb15" gradientUnits="userSpaceOnUse" x1="633.9" x2="1051"><stop offset="0" stop-color="#ffebeb"/><stop offset=".036" stop-color="#ffd0d0"/><stop offset=".079" stop-color="#ffc2c2"/><stop offset=".186" stop-color="#ffbebe"/><stop offset=".307" stop-color="#ffc5c5"/><stop offset=".5" stop-color="#ffffff"/><stop offset=".714" stop-color="#c2c2ff"/><stop offset=".879" stop-color="#bfbfff"/><stop offset=".943" stop-color="#c7c7ff"/><stop offset=".979" stop-color="#d9d9ff"/><stop offset="1" stop-color="#ebebff"/></linearGradient><linearGradient id="fb16" gradientUnits="userSpaceOnUse" x1="633.9" x2="1051"><stop offset="0" stop-color="#ffefef"/><stop offset=".043" stop-color="#ffd8d8"/><stop offset=".086" stop-color="#ffcfcf"/><stop offset=".214" stop-color="#ffcdcd"/><stop offset=".314" stop-color="#ffd4d4"/><stop offset=".5" stop-color="#ffffff"/><stop offset=".714" stop-color="#cfcfff"/><stop offset=".893" stop-color="#ceceff"/><stop offset=".95" stop-color="#d6d6ff"/><stop offset=".993" stop-color="#ebebff"/><stop offset="1" stop-color="#efefff"/></linearGradient><linearGradient id="fb17" gradientUnits="userSpaceOnUse" x1="633.9" x2="1051"><stop offset="0" stop-color="#fff3f3"/><stop offset=".05" stop-color="#ffdfdf"/><stop offset=".171" stop-color="#ffd8d8"/><stop offset=".314" stop-color="#ffdede"/><stop offset=".507" stop-color="#fefeff"/><stop offset=".721" stop-color="#dadaff"/><stop offset=".914" stop-color="#dadaff"/><stop offset=".971" stop-color="#e5e5ff"/><stop offset="1" stop-color="#f3f3ff"/></linearGradient><linearGradient id="fb18" gradientUnits="userSpaceOnUse" x1="633.9" x2="1051"><stop offset="0" stop-color="#fff6f6"/><stop offset=".071" stop-color="#ffe5e5"/><stop offset=".3" stop-color="#ffe5e5"/><stop offset=".507" stop-color="#ffffff"/><stop offset=".736" stop-color="#e4e4ff"/><stop offset=".936" stop-color="#e6e6ff"/><stop offset="1" stop-color="#f6f6ff"/></linearGradient><linearGradient id="fb19" gradientUnits="userSpaceOnUse" x1="633.9" x2="1051"><stop offset="0" stop-color="#fffcfc"/><stop offset=".014" stop-color="#fff0f0"/><stop offset=".029" stop-color="#ffdfdf"/><stop offset=".036" stop-color="#ffffff"/><stop offset=".964" stop-color="#ffffff"/><stop offset=".971" stop-color="#dfdfff"/><stop offset=".993" stop-color="#f9f9ff"/><stop offset="1" stop-color="#fcfcff"/></linearGradient><linearGradient id="fb20" gradientUnits="userSpaceOnUse" x1="633.9" x2="1051"><stop offset="0" stop-color="#fffcfc"/><stop offset=".014" stop-color="#fff0f0"/><stop offset=".029" stop-color="#ffdfdf"/><stop offset=".364" stop-color="#ffe2e2"/><stop offset=".507" stop-color="#fefeff"/><stop offset=".657" stop-color="#dfdfff"/><stop offset=".971" stop-color="#dfdfff"/><stop offset=".993" stop-color="#f9f9ff"/><stop offset="1" stop-color="#fcfcff"/></linearGradient><linearGradient id="fb21" gradientUnits="userSpaceOnUse" x1="633.9" x2="1051"><stop offset="0" stop-color="#fffcfc"/><stop offset=".014" stop-color="#fff0f0"/><stop offset=".029" stop-color="#ffdfdf"/><stop offset=".036" stop-color="#ffffff"/><stop offset=".964" stop-color="#ffffff"/><stop offset=".971" stop-color="#dfdfff"/><stop offset=".993" stop-color="#f9f9ff"/><stop offset="1" stop-color="#fcfcff"/></linearGradient><linearGradient id="fb22" gradientUnits="userSpaceOnUse" x1="633.9" x2="1051"><stop offset="0" stop-color="#fff6f6"/><stop offset=".071" stop-color="#ffe5e5"/><stop offset=".3" stop-color="#ffe5e5"/><stop offset=".507" stop-color="#ffffff"/><stop offset=".736" stop-color="#e4e4ff"/><stop offset=".936" stop-color="#e6e6ff"/><stop offset="1" stop-color="#f6f6ff"/></linearGradient><linearGradient id="fb23" gradientUnits="userSpaceOnUse" x1="633.9" x2="1051"><stop offset="0" stop-color="#fff3f3"/><stop offset=".05" stop-color="#ffdfdf"/><stop offset=".171" stop-color="#ffd8d8"/><stop offset=".314" stop-color="#ffdede"/><stop offset=".507" stop-color="#fefeff"/><stop offset=".721" stop-color="#dadaff"/><stop offset=".914" stop-color="#dadaff"/><stop offset=".971" stop-color="#e5e5ff"/><stop offset="1" stop-color="#f3f3ff"/></linearGradient><linearGradient id="fb24" gradientUnits="userSpaceOnUse" x1="633.9" x2="1051"><stop offset="0" stop-color="#ffefef"/><stop offset=".043" stop-color="#ffd8d8"/><stop offset=".086" stop-color="#ffcfcf"/><stop offset=".214" stop-color="#ffcdcd"/><stop offset=".314" stop-color="#ffd4d4"/><stop offset=".5" stop-color="#ffffff"/><stop offset=".714" stop-color="#cfcfff"/><stop offset=".893" stop-color="#ceceff"/><stop offset=".95" stop-color="#d6d6ff"/><stop offset=".993" stop-color="#ebebff"/><stop offset="1" stop-color="#efefff"/></linearGradient><linearGradient id="fb25" gradientUnits="userSpaceOnUse" x1="633.9" x2="1051"><stop offset="0" stop-color="#ffebeb"/><stop offset=".036" stop-color="#ffd0d0"/><stop offset=".079" stop-color="#ffc2c2"/><stop offset=".186" stop-color="#ffbebe"/><stop offset=".307" stop-color="#ffc5c5"/><stop offset=".5" stop-color="#ffffff"/><stop offset=".714" stop-color="#c2c2ff"/><stop offset=".879" stop-color="#bfbfff"/><stop offset=".943" stop-color="#c7c7ff"/><stop offset=".979" stop-color="#d9d9ff"/><stop offset="1" stop-color="#ebebff"/></linearGradient><linearGradient id="fb26" gradientUnits="userSpaceOnUse" x1="633.9" x2="1051"><stop offset="0" stop-color="#ffe6e6"/><stop offset=".036" stop-color="#ffc5c5"/><stop offset=".071" stop-color="#ffb5b5"/><stop offset=".171" stop-color="#ffaeae"/><stop offset=".3" stop-color="#ffb6b6"/><stop offset=".5" stop-color="#ffffff"/><stop offset=".707" stop-color="#b4b4ff"/><stop offset=".871" stop-color="#afafff"/><stop offset=".943" stop-color="#babaff"/><stop offset=".979" stop-color="#d1d1ff"/><stop offset="1" stop-color="#e6e6ff"/></linearGradient><linearGradient id="fb27" gradientUnits="userSpaceOnUse" x1="633.9" x2="1051"><stop offset="0" stop-color="#ffe1e1"/><stop offset=".036" stop-color="#ffbbbb"/><stop offset=".071" stop-color="#ffa8a8"/><stop offset=".171" stop-color="#ffa0a0"/><stop offset=".3" stop-color="#ffa8a8"/><stop offset=".486" stop-color="#fff9f9"/><stop offset=".5" stop-color="#ffffff"/><stop offset=".707" stop-color="#a6a6ff"/><stop offset=".871" stop-color="#a1a1ff"/><stop offset=".936" stop-color="#a9a9ff"/><stop offset=".971" stop-color="#c0c0ff"/><stop offset="1" stop-color="#e1e1ff"/></linearGradient><linearGradient id="fb28" gradientUnits="userSpaceOnUse" x1="633.9" x2="1051"><stop offset="0" stop-color="#ffdddd"/><stop offset=".036" stop-color="#ffb0b0"/><stop offset=".071" stop-color="#ff9a9a"/><stop offset=".164" stop-color="#ff9090"/><stop offset=".3" stop-color="#ff9b9b"/><stop offset=".486" stop-color="#fff8f8"/><stop offset=".5" stop-color="#ffffff"/><stop offset=".707" stop-color="#9898ff"/><stop offset=".864" stop-color="#9191ff"/><stop offset=".936" stop-color="#9c9cff"/><stop offset=".971" stop-color="#b6b6ff"/><stop offset="1" stop-color="#ddddff"/></linearGradient><linearGradient id="fb29" gradientUnits="userSpaceOnUse" x1="633.9" x2="1051"><stop offset="0" stop-color="#ffd8d8"/><stop offset=".029" stop-color="#ffacac"/><stop offset=".064" stop-color="#ff8d8d"/><stop offset=".157" stop-color="#ff8080"/><stop offset=".3" stop-color="#ff8c8c"/><stop offset=".479" stop-color="#fff3f3"/><stop offset=".5" stop-color="#ffffff"/><stop offset=".7" stop-color="#8c8cff"/><stop offset=".864" stop-color="#8181ff"/><stop offset=".936" stop-color="#8d8dff"/><stop offset=".971" stop-color="#acacff"/><stop offset="1" stop-color="#d8d8ff"/></linearGradient><linearGradient id="fb30" gradientUnits="userSpaceOnUse" x1="633.9" x2="1051"><stop offset="0" stop-color="#ffd3d3"/><stop offset=".029" stop-color="#ffa1a1"/><stop offset=".064" stop-color="#ff7f7f"/><stop offset=".157" stop-color="#ff7070"/><stop offset=".3" stop-color="#ff7e7e"/><stop offset=".464" stop-color="#ffe7e7"/><stop offset=".5" stop-color="#ffffff"/><stop offset=".536" stop-color="#e7e7ff"/><stop offset=".707" stop-color="#7a7aff"/><stop offset=".864" stop-color="#7171ff"/><stop offset=".936" stop-color="#7f7fff"/><stop offset=".971" stop-color="#a1a1ff"/><stop offset="1" stop-color="#d3d3ff"/></linearGradient><linearGradient id="fb31" gradientUnits="userSpaceOnUse" x1="633.9" x2="1051"><stop offset="0" stop-color="#ffcece"/><stop offset=".029" stop-color="#ff9797"/><stop offset=".064" stop-color="#ff7070"/><stop offset=".157" stop-color="#ff5f5f"/><stop offset=".3" stop-color="#ff6f6f"/><stop offset=".464" stop-color="#ffe4e4"/><stop offset=".493" stop-color="#fffdfd"/><stop offset=".507" stop-color="#fdfdff"/><stop offset=".593" stop-color="#b9b9ff"/><stop offset=".707" stop-color="#6c6cff"/><stop offset=".857" stop-color="#6060ff"/><stop offset=".936" stop-color="#7070ff"/><stop offset=".971" stop-color="#9797ff"/><stop offset="1" stop-color="#ceceff"/></linearGradient><linearGradient id="fb32" gradientUnits="userSpaceOnUse" x1="633.9" x2="1051"><stop offset="0" stop-color="#ffc9c9"/><stop offset=".029" stop-color="#ff8c8c"/><stop offset=".064" stop-color="#ff6262"/><stop offset=".157" stop-color="#ff4f4f"/><stop offset=".293" stop-color="#ff5d5d"/><stop offset=".45" stop-color="#ffd5d5"/><stop offset=".493" stop-color="#fffdfd"/><stop offset=".507" stop-color="#fdfdff"/><stop offset=".586" stop-color="#b7b7ff"/><stop offset=".707" stop-color="#5d5dff"/><stop offset=".857" stop-color="#4f4fff"/><stop offset=".936" stop-color="#6262ff"/><stop offset=".971" stop-color="#8c8cff"/><stop offset="1" stop-color="#c9c9ff"/></linearGradient><linearGradient id="fb33" gradientUnits="userSpaceOnUse" x1="633.9" x2="1051"><stop offset="0" stop-color="#ffc5c5"/><stop offset=".029" stop-color="#ff8383"/><stop offset=".064" stop-color="#ff5656"/><stop offset=".157" stop-color="#ff4242"/><stop offset=".293" stop-color="#ff5050"/><stop offset=".45" stop-color="#ffd1d1"/><stop offset=".493" stop-color="#fffdfd"/><stop offset=".507" stop-color="#fdfdff"/><stop offset=".586" stop-color="#b2b2ff"/><stop offset=".707" stop-color="#5050ff"/><stop offset=".857" stop-color="#4242ff"/><stop offset=".936" stop-color="#5656ff"/><stop offset=".971" stop-color="#8383ff"/><stop offset="1" stop-color="#c5c5ff"/></linearGradient><linearGradient id="fb34" gradientUnits="userSpaceOnUse" x1="633.9" x2="1051"><stop offset="0" stop-color="#ffc1c1"/><stop offset=".029" stop-color="#ff7b7b"/><stop offset=".064" stop-color="#ff4b4b"/><stop offset=".15" stop-color="#ff3535"/><stop offset=".293" stop-color="#ff4545"/><stop offset=".443" stop-color="#ffc7c7"/><stop offset=".493" stop-color="#fffcfc"/><stop offset=".507" stop-color="#fcfcff"/><stop offset=".579" stop-color="#b3b3ff"/><stop offset=".707" stop-color="#4545ff"/><stop offset=".857" stop-color="#3636ff"/><stop offset=".936" stop-color="#4b4bff"/><stop offset=".971" stop-color="#7b7bff"/><stop offset="1" stop-color="#c1c1ff"/></linearGradient><linearGradient id="fb35" gradientUnits="userSpaceOnUse" x1="633.9" x2="1051"><stop offset="0" stop-color="#ffbdbd"/><stop offset=".029" stop-color="#ff7373"/><stop offset=".064" stop-color="#ff4040"/><stop offset=".15" stop-color="#ff2828"/><stop offset=".293" stop-color="#ff3939"/><stop offset=".443" stop-color="#ffc3c3"/><stop offset=".493" stop-color="#fffcfc"/><stop offset=".507" stop-color="#fcfcff"/><stop offset=".579" stop-color="#afafff"/><stop offset=".707" stop-color="#3939ff"/><stop offset=".857" stop-color="#2929ff"/><stop offset=".936" stop-color="#4040ff"/><stop offset=".971" stop-color="#7373ff"/><stop offset="1" stop-color="#bdbdff"/></linearGradient><linearGradient id="fb36" gradientUnits="userSpaceOnUse" x1="633.9" x2="1051"><stop offset="0" stop-color="#ffb9b9"/><stop offset=".029" stop-color="#ff6b6b"/><stop offset=".064" stop-color="#ff3434"/><stop offset=".15" stop-color="#ff1b1b"/><stop offset=".293" stop-color="#ff2d2d"/><stop offset=".443" stop-color="#ffc0c0"/><stop offset=".493" stop-color="#fffcfc"/><stop offset=".507" stop-color="#fcfcff"/><stop offset=".579" stop-color="#aaaaff"/><stop offset=".707" stop-color="#2d2dff"/><stop offset=".857" stop-color="#1c1cff"/><stop offset=".936" stop-color="#3434ff"/><stop offset=".971" stop-color="#6b6bff"/><stop offset="1" stop-color="#b9b9ff"/></linearGradient><linearGradient id="fb37" gradientUnits="userSpaceOnUse" x1="633.9" x2="1051"><stop offset="0" stop-color="#ffb7b7"/><stop offset=".029" stop-color="#ff6666"/><stop offset=".064" stop-color="#ff2e2e"/><stop offset=".15" stop-color="#ff1414"/><stop offset=".293" stop-color="#ff2727"/><stop offset=".443" stop-color="#ffbebe"/><stop offset=".493" stop-color="#fffcfc"/><stop offset=".5" stop-color="#ffffff"/><stop offset=".507" stop-color="#fcfcff"/><stop offset=".579" stop-color="#a7a7ff"/><stop offset=".707" stop-color="#2727ff"/><stop offset=".857" stop-color="#1515ff"/><stop offset=".936" stop-color="#2e2eff"/><stop offset=".971" stop-color="#6666ff"/><stop offset="1" stop-color="#b7b7ff"/></linearGradient><linearGradient id="fb38" gradientUnits="userSpaceOnUse" x1="633.9" x2="1051"><stop offset="0" stop-color="#ffb6b6"/><stop offset=".029" stop-color="#ff6363"/><stop offset=".064" stop-color="#ff2a2a"/><stop offset=".15" stop-color="#ff1010"/><stop offset=".293" stop-color="#ff2323"/><stop offset=".443" stop-color="#ffbdbd"/><stop offset=".493" stop-color="#fffcfc"/><stop offset=".5" stop-color="#ffffff"/><stop offset=".507" stop-color="#fcfcff"/><stop offset=".571" stop-color="#adadff"/><stop offset=".707" stop-color="#2323ff"/><stop offset=".857" stop-color="#1111ff"/><stop offset=".936" stop-color="#2a2aff"/><stop offset=".971" stop-color="#6363ff"/><stop offset="1" stop-color="#b6b6ff"/></linearGradient><linearGradient id="fb39" gradientUnits="userSpaceOnUse" x1="633.9" x2="1051"><stop offset="0" stop-color="#ffb4b4"/><stop offset=".029" stop-color="#ff6161"/><stop offset=".064" stop-color="#ff2727"/><stop offset=".15" stop-color="#ff0c0c"/><stop offset=".293" stop-color="#ff1f1f"/><stop offset=".443" stop-color="#ffbbbb"/><stop offset=".493" stop-color="#fffcfc"/><stop offset=".5" stop-color="#ffffff"/><stop offset=".507" stop-color="#fcfcff"/><stop offset=".571" stop-color="#acacff"/><stop offset=".707" stop-color="#1f1fff"/><stop offset=".857" stop-color="#0d0dff"/><stop offset=".936" stop-color="#2727ff"/><stop offset=".971" stop-color="#6161ff"/><stop offset="1" stop-color="#b4b4ff"/></linearGradient><linearGradient id="fb40" gradientUnits="userSpaceOnUse" x1="633.9" x2="1051"><stop offset="0" stop-color="#ffb3b3"/><stop offset=".029" stop-color="#ff5e5e"/><stop offset=".064" stop-color="#ff2323"/><stop offset=".15" stop-color="#ff0707"/><stop offset=".293" stop-color="#ff1b1b"/><stop offset=".436" stop-color="#ffb2b2"/><stop offset=".493" stop-color="#fffcfc"/><stop offset=".5" stop-color="#ffffff"/><stop offset=".507" stop-color="#fcfcff"/><stop offset=".571" stop-color="#aaaaff"/><stop offset=".707" stop-color="#1b1bff"/><stop offset=".857" stop-color="#0909ff"/><stop offset=".936" stop-color="#2323ff"/><stop offset=".971" stop-color="#5e5eff"/><stop offset="1" stop-color="#b3b3ff"/></linearGradient><filter id="fbf" x="-5%" y="-5%" width="110%" height="110%"><feGaussianBlur stdDeviation="1.2 1.2"/></filter><clipPath id="fbc"><rect x="633.9" y="1011.8" width="417.1" height="247.9"/></clipPath></defs>
<g clip-path="url(#fbc)"><g filter="url(#fbf)"><rect x="623.9" y="1005.53" width="437.1" height="3.59" fill="url(#fb0)"/><rect x="623.9" y="1008.51" width="437.1" height="3.59" fill="url(#fb0)"/><rect x="623.9" y="1011.5" width="437.1" height="3.59" fill="url(#fb0)"/><rect x="623.9" y="1014.49" width="437.1" height="3.59" fill="url(#fb1)"/><rect x="623.9" y="1017.47" width="437.1" height="3.59" fill="url(#fb2)"/><rect x="623.9" y="1020.46" width="437.1" height="3.59" fill="url(#fb3)"/><rect x="623.9" y="1023.45" width="437.1" height="3.59" fill="url(#fb4)"/><rect x="623.9" y="1026.43" width="437.1" height="3.59" fill="url(#fb5)"/><rect x="623.9" y="1029.42" width="437.1" height="3.59" fill="url(#fb6)"/><rect x="623.9" y="1032.41" width="437.1" height="3.59" fill="url(#fb7)"/><rect x="623.9" y="1035.39" width="437.1" height="3.59" fill="url(#fb8)"/><rect x="623.9" y="1038.38" width="437.1" height="3.59" fill="url(#fb9)"/><rect x="623.9" y="1041.37" width="437.1" height="3.59" fill="url(#fb10)"/><rect x="623.9" y="1044.35" width="437.1" height="3.59" fill="url(#fb11)"/><rect x="623.9" y="1047.34" width="437.1" height="3.59" fill="url(#fb12)"/><rect x="623.9" y="1050.33" width="437.1" height="3.59" fill="url(#fb13)"/><rect x="623.9" y="1053.31" width="437.1" height="3.59" fill="url(#fb14)"/><rect x="623.9" y="1056.3" width="437.1" height="3.59" fill="url(#fb15)"/><rect x="623.9" y="1059.29" width="437.1" height="3.59" fill="url(#fb16)"/><rect x="623.9" y="1062.27" width="437.1" height="3.59" fill="url(#fb17)"/><rect x="623.9" y="1065.26" width="437.1" height="3.59" fill="url(#fb18)"/><rect x="623.9" y="1068.25" width="437.1" height="3.59" fill="url(#fb19)"/><rect x="623.9" y="1071.23" width="437.1" height="3.59" fill="url(#fb20)"/><rect x="623.9" y="1074.22" width="437.1" height="3.59" fill="url(#fb20)"/><rect x="623.9" y="1077.21" width="437.1" height="3.59" fill="url(#fb20)"/><rect x="623.9" y="1080.2" width="437.1" height="3.59" fill="url(#fb20)"/><rect x="623.9" y="1083.18" width="437.1" height="3.59" fill="url(#fb20)"/><rect x="623.9" y="1086.17" width="437.1" height="3.59" fill="url(#fb20)"/><rect x="623.9" y="1089.16" width="437.1" height="3.59" fill="url(#fb20)"/><rect x="623.9" y="1092.14" width="437.1" height="3.59" fill="url(#fb20)"/><rect x="623.9" y="1095.13" width="437.1" height="3.59" fill="url(#fb20)"/><rect x="623.9" y="1098.12" width="437.1" height="3.59" fill="url(#fb20)"/><rect x="623.9" y="1101.1" width="437.1" height="3.59" fill="url(#fb20)"/><rect x="623.9" y="1104.09" width="437.1" height="3.59" fill="url(#fb20)"/><rect x="623.9" y="1107.08" width="437.1" height="3.59" fill="url(#fb20)"/><rect x="623.9" y="1110.06" width="437.1" height="3.59" fill="url(#fb20)"/><rect x="623.9" y="1113.05" width="437.1" height="3.59" fill="url(#fb20)"/><rect x="623.9" y="1116.04" width="437.1" height="3.59" fill="url(#fb20)"/><rect x="623.9" y="1119.02" width="437.1" height="3.59" fill="url(#fb20)"/><rect x="623.9" y="1122.01" width="437.1" height="3.59" fill="url(#fb20)"/><rect x="623.9" y="1125" width="437.1" height="3.59" fill="url(#fb20)"/><rect x="623.9" y="1127.98" width="437.1" height="3.59" fill="url(#fb20)"/><rect x="623.9" y="1130.97" width="437.1" height="3.59" fill="url(#fb20)"/><rect x="623.9" y="1133.96" width="437.1" height="3.59" fill="url(#fb20)"/><rect x="623.9" y="1136.94" width="437.1" height="3.59" fill="url(#fb20)"/><rect x="623.9" y="1139.93" width="437.1" height="3.59" fill="url(#fb20)"/><rect x="623.9" y="1142.92" width="437.1" height="3.59" fill="url(#fb20)"/><rect x="623.9" y="1145.9" width="437.1" height="3.59" fill="url(#fb20)"/><rect x="623.9" y="1148.89" width="437.1" height="3.59" fill="url(#fb20)"/><rect x="623.9" y="1151.88" width="437.1" height="3.59" fill="url(#fb20)"/><rect x="623.9" y="1154.86" width="437.1" height="3.59" fill="url(#fb20)"/><rect x="623.9" y="1157.85" width="437.1" height="3.59" fill="url(#fb20)"/><rect x="623.9" y="1160.84" width="437.1" height="3.59" fill="url(#fb20)"/><rect x="623.9" y="1163.82" width="437.1" height="3.59" fill="url(#fb20)"/><rect x="623.9" y="1166.81" width="437.1" height="3.59" fill="url(#fb20)"/><rect x="623.9" y="1169.8" width="437.1" height="3.59" fill="url(#fb20)"/><rect x="623.9" y="1172.78" width="437.1" height="3.59" fill="url(#fb20)"/><rect x="623.9" y="1175.77" width="437.1" height="3.59" fill="url(#fb20)"/><rect x="623.9" y="1178.76" width="437.1" height="3.59" fill="url(#fb20)"/><rect x="623.9" y="1181.74" width="437.1" height="3.59" fill="url(#fb20)"/><rect x="623.9" y="1184.73" width="437.1" height="3.59" fill="url(#fb20)"/><rect x="623.9" y="1187.72" width="437.1" height="3.59" fill="url(#fb20)"/><rect x="623.9" y="1190.7" width="437.1" height="3.59" fill="url(#fb20)"/><rect x="623.9" y="1193.69" width="437.1" height="3.59" fill="url(#fb20)"/><rect x="623.9" y="1196.68" width="437.1" height="3.59" fill="url(#fb20)"/><rect x="623.9" y="1199.67" width="437.1" height="3.59" fill="url(#fb21)"/><rect x="623.9" y="1202.65" width="437.1" height="3.59" fill="url(#fb22)"/><rect x="623.9" y="1205.64" width="437.1" height="3.59" fill="url(#fb23)"/><rect x="623.9" y="1208.63" width="437.1" height="3.59" fill="url(#fb24)"/><rect x="623.9" y="1211.61" width="437.1" height="3.59" fill="url(#fb25)"/><rect x="623.9" y="1214.6" width="437.1" height="3.59" fill="url(#fb26)"/><rect x="623.9" y="1217.59" width="437.1" height="3.59" fill="url(#fb27)"/><rect x="623.9" y="1220.57" width="437.1" height="3.59" fill="url(#fb28)"/><rect x="623.9" y="1223.56" width="437.1" height="3.59" fill="url(#fb29)"/><rect x="623.9" y="1226.55" width="437.1" height="3.59" fill="url(#fb30)"/><rect x="623.9" y="1229.53" width="437.1" height="3.59" fill="url(#fb31)"/><rect x="623.9" y="1232.52" width="437.1" height="3.59" fill="url(#fb32)"/><rect x="623.9" y="1235.51" width="437.1" height="3.59" fill="url(#fb33)"/><rect x="623.9" y="1238.49" width="437.1" height="3.59" fill="url(#fb34)"/><rect x="623.9" y="1241.48" width="437.1" height="3.59" fill="url(#fb35)"/><rect x="623.9" y="1244.47" width="437.1" height="3.59" fill="url(#fb36)"/><rect x="623.9" y="1247.45" width="437.1" height="3.59" fill="url(#fb37)"/><rect x="623.9" y="1250.44" width="437.1" height="3.59" fill="url(#fb38)"/><rect x="623.9" y="1253.43" width="437.1" height="3.59" fill="url(#fb39)"/><rect x="623.9" y="1256.41" width="437.1" height="3.59" fill="url(#fb40)"/><rect x="623.9" y="1259.4" width="437.1" height="3.59" fill="url(#fb40)"/><rect x="623.9" y="1262.39" width="437.1" height="3.59" fill="url(#fb40)"/></g></g>
<rect x="631.4" y="1010.8" width="421.1" height="249.4" fill="none" stroke="#8c8c8c" stroke-width="1.2"/>
<path d="M644.25 1260.2L644.25 1263.7M693.68 1260.2L693.68 1263.7M743.1 1260.2L743.1 1263.7M792.53 1260.2L792.53 1263.7M841.95 1260.2L841.95 1263.7M891.37 1260.2L891.37 1263.7M940.8 1260.2L940.8 1263.7M990.22 1260.2L990.22 1263.7M1039.65 1260.2L1039.65 1263.7M668.96 1260.2L668.96 1262.2M718.39 1260.2L718.39 1262.2M767.81 1260.2L767.81 1262.2M817.24 1260.2L817.24 1262.2M866.66 1260.2L866.66 1262.2M916.09 1260.2L916.09 1262.2M965.51 1260.2L965.51 1262.2M1014.94 1260.2L1014.94 1262.2M627.9 1260.2L631.4 1260.2M627.9 1229.03L631.4 1229.03M627.9 1197.85L631.4 1197.85M627.9 1166.67L631.4 1166.67M627.9 1135.5L631.4 1135.5M627.9 1104.33L631.4 1104.33M627.9 1073.15L631.4 1073.15M627.9 1041.97L631.4 1041.97M627.9 1010.8L631.4 1010.8M629.4 1244.61L631.4 1244.61M629.4 1213.44L631.4 1213.44M629.4 1182.26L631.4 1182.26M629.4 1151.09L631.4 1151.09M629.4 1119.91L631.4 1119.91M629.4 1088.74L631.4 1088.74M629.4 1057.56L631.4 1057.56M629.4 1026.39L631.4 1026.39" stroke="#444" stroke-width="1" fill="none"/>
<text x="644.3" y="1281.5" font-size="15.3" text-anchor="middle">-800</text>
<text x="693.7" y="1281.5" font-size="15.3" text-anchor="middle">-600</text>
<text x="743.1" y="1281.5" font-size="15.3" text-anchor="middle">-400</text>
<text x="792.5" y="1281.5" font-size="15.3" text-anchor="middle">-200</text>
<text x="842" y="1281.5" font-size="15.3" text-anchor="middle">0</text>
<text x="891.4" y="1281.5" font-size="15.3" text-anchor="middle">200</text>
<text x="940.8" y="1281.5" font-size="15.3" text-anchor="middle">400</text>
<text x="990.2" y="1281.5" font-size="15.3" text-anchor="middle">600</text>
<text x="1039.6" y="1281.5" font-size="15.3" text-anchor="middle">800</text>
<text x="623.9" y="1265.6" font-size="15.3" text-anchor="end">-100</text>
<text x="623.9" y="1234.4" font-size="15.3" text-anchor="end">-75</text>
<text x="623.9" y="1203.2" font-size="15.3" text-anchor="end">-50</text>
<text x="623.9" y="1172.1" font-size="15.3" text-anchor="end">-25</text>
<text x="623.9" y="1140.9" font-size="15.3" text-anchor="end">0</text>
<text x="623.9" y="1109.7" font-size="15.3" text-anchor="end">25</text>
<text x="623.9" y="1078.6" font-size="15.3" text-anchor="end">50</text>
<text x="623.9" y="1047.4" font-size="15.3" text-anchor="end">75</text>
<text x="623.9" y="1016.2" font-size="15.3" text-anchor="end">100</text>
<text x="842" y="1310" font-size="20.3" text-anchor="middle">x (nm)</text>
<text font-size="20.3" text-anchor="middle" transform="translate(585 1135.5) rotate(-90)">y (nm)</text>
<text x="730.5" y="978.5" font-size="28" textLength="220" lengthAdjust="spacingAndGlyphs">9.60 μm, 0.40 eV</text>
<defs><linearGradient id="cbf" x1="0" y1="0" x2="0" y2="1"><stop offset="0" stop-color="#ff0000"/><stop offset=".5" stop-color="#ffffff"/><stop offset="1" stop-color="#0000ff"/></linearGradient></defs>
<rect x="1065.6" y="1012.3" width="15" height="249.3" fill="url(#cbf)"/>
<text x="1086.5" y="1019.4" font-size="14">0.15</text>
<text x="1086.5" y="1053.9" font-size="14">0.11</text>
<text x="1086.5" y="1095.9" font-size="14">0.06</text>
<text x="1086.5" y="1138.7" font-size="14">0.00</text>
<text x="1086.5" y="1180.7" font-size="14">-0.05</text>
<text x="1086.5" y="1222.8" font-size="14">-0.10</text>
<text x="1086.5" y="1264.8" font-size="14">-0.15</text>
<text font-size="33" text-anchor="middle" textLength="216" lengthAdjust="spacingAndGlyphs" transform="translate(1152 1137) rotate(-90)">Charge density</text>
<text font-size="33" text-anchor="middle" textLength="160" lengthAdjust="spacingAndGlyphs" transform="translate(1195.5 1137) rotate(-90)">(arb. units)</text>
<text x="47" y="995" font-size="44" textLength="44" lengthAdjust="spacingAndGlyphs" stroke="#111" stroke-width=".5">(f)</text>
</svg>
</body></html>
